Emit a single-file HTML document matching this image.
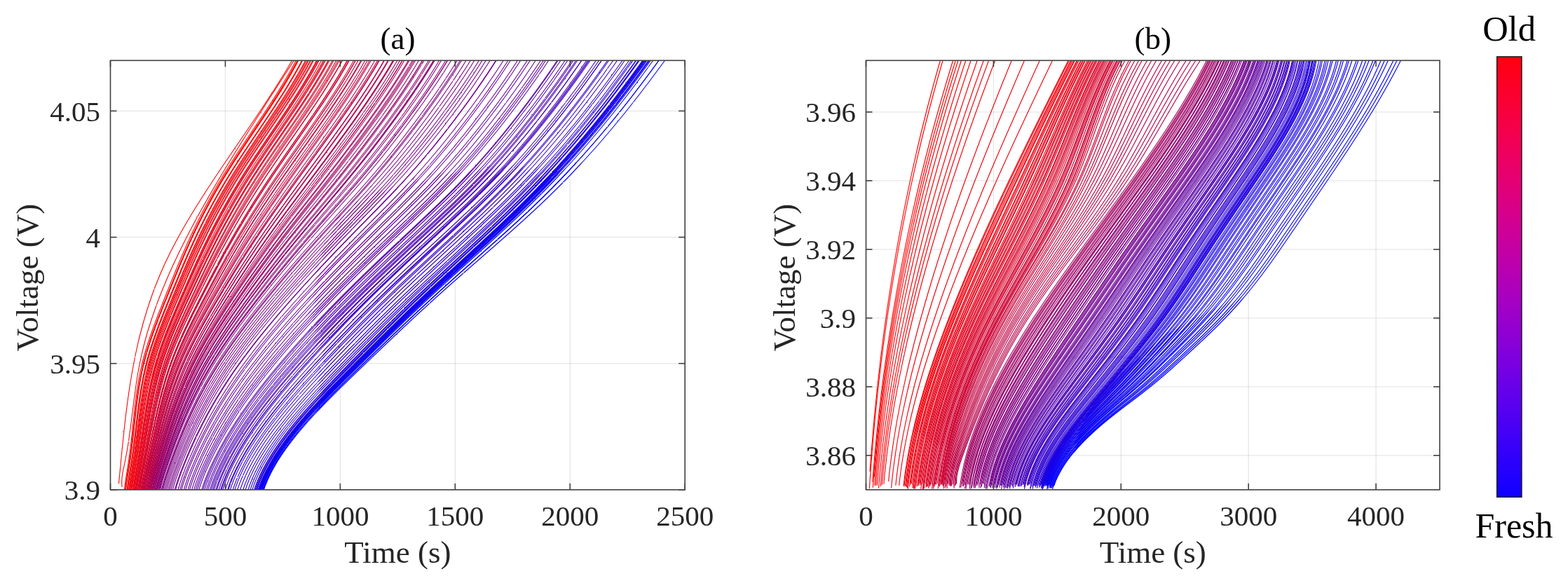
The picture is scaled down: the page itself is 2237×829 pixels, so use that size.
<!DOCTYPE html>
<html><head><meta charset="utf-8"><title>Voltage curves</title><style>html,body{margin:0;padding:0;background:#fff;overflow:hidden}svg{display:block}</style></head><body>
<svg width="2237" height="829" viewBox="0 0 2237 829">
<defs>
<clipPath id="ca"><rect x="157.5" y="86.3" width="819.70" height="612.50"/></clipPath>
<clipPath id="cb"><rect x="1235.5" y="86.3" width="818.50" height="612.50"/></clipPath>
<linearGradient id="cbg" x1="0" y1="0" x2="0" y2="1"><stop offset="0.00" stop-color="rgb(255,0,14)"/><stop offset="0.05" stop-color="rgb(253,0,33)"/><stop offset="0.10" stop-color="rgb(250,0,51)"/><stop offset="0.15" stop-color="rgb(245,0,69)"/><stop offset="0.20" stop-color="rgb(240,0,87)"/><stop offset="0.25" stop-color="rgb(233,0,104)"/><stop offset="0.30" stop-color="rgb(225,0,121)"/><stop offset="0.35" stop-color="rgb(215,0,137)"/><stop offset="0.40" stop-color="rgb(205,0,152)"/><stop offset="0.45" stop-color="rgb(193,0,167)"/><stop offset="0.50" stop-color="rgb(180,0,180)"/><stop offset="0.55" stop-color="rgb(167,0,193)"/><stop offset="0.60" stop-color="rgb(152,0,205)"/><stop offset="0.65" stop-color="rgb(137,0,215)"/><stop offset="0.70" stop-color="rgb(121,0,225)"/><stop offset="0.75" stop-color="rgb(104,0,233)"/><stop offset="0.80" stop-color="rgb(87,0,240)"/><stop offset="0.85" stop-color="rgb(69,0,245)"/><stop offset="0.90" stop-color="rgb(51,0,250)"/><stop offset="0.95" stop-color="rgb(33,0,253)"/><stop offset="1.00" stop-color="rgb(14,0,255)"/></linearGradient>
<filter id="jag" x="150" y="80" width="840" height="630" filterUnits="userSpaceOnUse"><feTurbulence type="fractalNoise" baseFrequency="0.35 0.35" numOctaves="1" seed="3" result="n"/><feDisplacementMap in="SourceGraphic" in2="n" scale="1.8" xChannelSelector="R" yChannelSelector="G"/></filter>
</defs>
<rect width="2237" height="829" fill="#fff"/>
<line x1="321.44" y1="86.3" x2="321.44" y2="698.8" stroke="#262626" stroke-opacity="0.115" stroke-width="1.3"/>
<line x1="485.38" y1="86.3" x2="485.38" y2="698.8" stroke="#262626" stroke-opacity="0.115" stroke-width="1.3"/>
<line x1="649.32" y1="86.3" x2="649.32" y2="698.8" stroke="#262626" stroke-opacity="0.115" stroke-width="1.3"/>
<line x1="813.26" y1="86.3" x2="813.26" y2="698.8" stroke="#262626" stroke-opacity="0.115" stroke-width="1.3"/>
<line x1="157.5" y1="518.65" x2="977.2" y2="518.65" stroke="#262626" stroke-opacity="0.115" stroke-width="1.3"/>
<line x1="157.5" y1="338.51" x2="977.2" y2="338.51" stroke="#262626" stroke-opacity="0.115" stroke-width="1.3"/>
<line x1="157.5" y1="158.36" x2="977.2" y2="158.36" stroke="#262626" stroke-opacity="0.115" stroke-width="1.3"/>
<g clip-path="url(#ca)"><g filter="url(#jag)"><g transform="scale(0.1)" fill="none" stroke-width="11" stroke-linejoin="round"><path d="M1694 6900l5-50 5-50 5-50 5-50 5-50 5-50 4-50 5-50 5-50 5-50 5-50 5-50 6-50 5-50 5-50 6-50 5-50 6-50 6-50 6-50 6-50 7-50 6-50 7-50 7-50 7-50 8-50 7-50 8-50 9-50 8-50 9-50 9-50 9-50 10-50 10-50 10-50 11-50 11-50 11-50 12-50 12-50 13-50 13-50 14-50 13-50 15-50 15-50 15-50 15-50 17-50 16-50 18-50 17-50 19-50 18-50 20-50 20-50 20-50 21-50 22-50 22-50 23-50 24-50 24-50 24-50 26-50 26-50 26-50 27-50 28-50 27-50 29-50 29-50 29-50 30-50 30-50 30-50 31-50 32-50 31-50 32-50 32-50 32-50 33-50 33-50 33-50 33-50 34-50 33-50 34-50 34-50 34-50 34-50 34-50 34-50 34-50 35-50 34-50 34-50 34-50 34-50 34-50 34-50 34-50 33-50 34-50 33-50 33-50 33-50 32-50 33-50 32-50 32-50 31-50 31-50 31-50 31-50 30-50 29-50 30-50 29-50" stroke="#ff0000"/><path d="M1741 6950l-4-50 1-50 4-50 8-50 9-50 11-50 10-50 10-50 10-50 9-50 9-50 8-50 8-50 7-50 7-50 7-50 7-50 6-50 7-50 6-50 6-50 6-50 7-50 6-50 6-50 7-50 7-50 7-50 7-50 7-50 8-50 8-50 9-50 9-50 10-50 10-50 11-50 11-50 12-50 12-50 13-50 13-50 14-50 14-50 15-50 16-50 16-50 16-50 17-50 17-50 18-50 18-50 18-50 19-50 20-50 20-50 20-50 21-50 21-50 21-50 22-50 23-50 22-50 23-50 24-50 23-50 24-50 25-50 24-50 26-50 25-50 26-50 25-50 27-50 26-50 27-50 27-50 28-50 27-50 28-50 28-50 29-50 28-50 29-50 29-50 29-50 30-50 29-50 30-50 30-50 30-50 31-50 30-50 31-50 31-50 31-50 31-50 31-50 31-50 32-50 31-50 32-50 32-50 32-50 32-50 31-50 33-50 32-50 32-50 32-50 32-50 32-50 33-50 32-50 32-50 33-50 32-50 32-50 32-50 33-50 32-50 32-50 32-50" stroke="#fe0001"/><path d="M1774 7000l5-50 6-50 7-50 8-50 8-50 8-50 8-50 8-50 7-50 7-50 7-50 6-50 6-50 6-50 5-50 6-50 5-50 5-50 5-50 6-50 5-50 5-50 6-50 5-50 6-50 7-50 6-50 7-50 8-50 8-50 8-50 9-50 9-50 10-50 11-50 12-50 12-50 13-50 14-50 14-50 16-50 15-50 17-50 16-50 18-50 17-50 19-50 18-50 19-50 19-50 19-50 20-50 20-50 19-50 20-50 20-50 20-50 20-50 20-50 20-50 21-50 20-50 20-50 21-50 21-50 21-50 21-50 22-50 22-50 22-50 22-50 23-50 23-50 24-50 24-50 24-50 25-50 25-50 25-50 26-50 27-50 27-50 27-50 28-50 28-50 28-50 29-50 30-50 30-50 30-50 31-50 31-50 32-50 32-50 33-50 32-50 33-50 33-50 34-50 33-50 34-50 33-50 34-50 33-50 34-50 33-50 34-50 33-50 33-50 32-50 33-50 32-50 32-50 31-50 31-50 30-50 30-50 30-50 29-50 28-50 27-50 27-50 26-50 26-50" stroke="#fd0002"/><path d="M1785 7000l5-50 6-50 7-50 8-50 8-50 8-50 8-50 8-50 8-50 7-50 7-50 6-50 6-50 6-50 6-50 5-50 6-50 5-50 6-50 5-50 6-50 5-50 6-50 6-50 6-50 7-50 6-50 8-50 7-50 8-50 9-50 9-50 10-50 10-50 11-50 12-50 12-50 14-50 14-50 14-50 16-50 16-50 16-50 17-50 17-50 18-50 19-50 18-50 19-50 20-50 19-50 20-50 20-50 20-50 20-50 20-50 20-50 20-50 21-50 20-50 20-50 21-50 20-50 21-50 21-50 22-50 21-50 22-50 22-50 22-50 23-50 23-50 23-50 24-50 24-50 24-50 25-50 26-50 25-50 26-50 27-50 27-50 27-50 28-50 28-50 29-50 29-50 30-50 30-50 30-50 31-50 32-50 32-50 32-50 32-50 33-50 33-50 33-50 33-50 34-50 33-50 34-50 34-50 33-50 34-50 33-50 34-50 33-50 33-50 33-50 32-50 32-50 32-50 31-50 31-50 31-50 30-50 29-50 29-50 28-50 28-50 27-50 26-50 25-50" stroke="#fc0003"/><path d="M1792 7000l5-50 6-50 7-50 8-50 8-50 8-50 8-50 8-50 8-50 7-50 7-50 6-50 6-50 6-50 6-50 6-50 5-50 6-50 5-50 5-50 6-50 6-50 6-50 6-50 6-50 6-50 7-50 8-50 7-50 8-50 9-50 9-50 10-50 10-50 11-50 12-50 13-50 13-50 14-50 15-50 15-50 16-50 17-50 17-50 17-50 18-50 18-50 19-50 19-50 19-50 20-50 19-50 20-50 20-50 20-50 21-50 20-50 20-50 20-50 20-50 21-50 20-50 21-50 21-50 21-50 21-50 21-50 22-50 22-50 22-50 23-50 23-50 23-50 24-50 24-50 24-50 25-50 25-50 26-50 26-50 27-50 27-50 27-50 28-50 28-50 29-50 29-50 29-50 30-50 31-50 31-50 31-50 32-50 32-50 32-50 33-50 33-50 33-50 34-50 33-50 34-50 33-50 34-50 34-50 33-50 34-50 33-50 33-50 33-50 33-50 32-50 33-50 31-50 32-50 31-50 30-50 30-50 30-50 29-50 28-50 27-50 27-50 27-50 25-50" stroke="#fb0004"/><path d="M1794 7000l5-50 6-50 7-50 8-50 8-50 8-50 8-50 8-50 7-50 7-50 7-50 6-50 6-50 6-50 6-50 5-50 6-50 5-50 6-50 5-50 5-50 6-50 6-50 5-50 7-50 6-50 7-50 7-50 7-50 8-50 9-50 9-50 10-50 10-50 11-50 11-50 13-50 13-50 14-50 14-50 15-50 16-50 16-50 17-50 17-50 18-50 18-50 19-50 19-50 19-50 19-50 19-50 20-50 20-50 20-50 20-50 19-50 20-50 20-50 20-50 21-50 20-50 20-50 21-50 20-50 21-50 22-50 21-50 22-50 22-50 22-50 23-50 23-50 23-50 24-50 24-50 25-50 25-50 25-50 26-50 26-50 27-50 27-50 27-50 28-50 29-50 29-50 29-50 30-50 30-50 31-50 31-50 32-50 32-50 32-50 33-50 33-50 33-50 33-50 33-50 34-50 33-50 34-50 34-50 33-50 34-50 33-50 33-50 33-50 33-50 32-50 32-50 32-50 31-50 31-50 31-50 30-50 29-50 29-50 28-50 28-50 27-50 26-50 25-50" stroke="#fa0005"/><path d="M1811 7000l6-50 6-50 7-50 8-50 8-50 8-50 9-50 8-50 8-50 7-50 7-50 7-50 6-50 6-50 7-50 5-50 6-50 6-50 6-50 6-50 6-50 6-50 6-50 6-50 7-50 7-50 7-50 8-50 8-50 8-50 10-50 9-50 10-50 11-50 12-50 12-50 13-50 13-50 15-50 15-50 15-50 17-50 16-50 18-50 18-50 18-50 18-50 19-50 20-50 19-50 20-50 20-50 20-50 21-50 20-50 20-50 21-50 20-50 21-50 21-50 20-50 21-50 21-50 21-50 21-50 22-50 22-50 22-50 22-50 23-50 22-50 24-50 23-50 24-50 25-50 24-50 25-50 26-50 26-50 26-50 27-50 27-50 28-50 28-50 28-50 29-50 29-50 30-50 30-50 31-50 31-50 31-50 32-50 32-50 33-50 33-50 33-50 33-50 34-50 33-50 34-50 34-50 33-50 34-50 34-50 33-50 34-50 33-50 33-50 33-50 32-50 32-50 32-50 32-50 31-50 30-50 30-50 30-50 29-50 28-50 28-50 27-50 26-50 26-50" stroke="#f90006"/><path d="M1818 7000l5-50 6-50 8-50 7-50 9-50 8-50 9-50 8-50 7-50 8-50 7-50 7-50 6-50 6-50 7-50 6-50 6-50 5-50 6-50 6-50 6-50 6-50 7-50 6-50 7-50 7-50 7-50 8-50 8-50 9-50 9-50 9-50 11-50 10-50 12-50 12-50 13-50 14-50 14-50 15-50 16-50 16-50 17-50 18-50 17-50 19-50 18-50 19-50 20-50 19-50 20-50 20-50 20-50 21-50 20-50 21-50 20-50 20-50 21-50 21-50 20-50 21-50 21-50 21-50 22-50 21-50 22-50 22-50 22-50 23-50 23-50 23-50 23-50 24-50 25-50 24-50 25-50 26-50 26-50 26-50 27-50 27-50 28-50 27-50 29-50 29-50 29-50 30-50 30-50 30-50 32-50 31-50 32-50 32-50 33-50 33-50 33-50 33-50 33-50 34-50 34-50 33-50 34-50 34-50 33-50 34-50 33-50 34-50 33-50 32-50 33-50 32-50 32-50 32-50 31-50 30-50 30-50 30-50 29-50 28-50 28-50 27-50 26-50 26-50" stroke="#f80007"/><path d="M1822 7000l6-50 6-50 7-50 8-50 8-50 8-50 9-50 8-50 8-50 7-50 7-50 7-50 6-50 7-50 6-50 6-50 6-50 6-50 5-50 6-50 6-50 6-50 7-50 6-50 7-50 7-50 7-50 8-50 8-50 9-50 9-50 9-50 11-50 10-50 12-50 12-50 13-50 14-50 14-50 15-50 16-50 16-50 17-50 17-50 18-50 18-50 18-50 19-50 20-50 19-50 20-50 20-50 20-50 20-50 21-50 20-50 20-50 21-50 20-50 21-50 20-50 21-50 21-50 21-50 21-50 21-50 22-50 22-50 22-50 23-50 22-50 23-50 24-50 24-50 24-50 25-50 25-50 25-50 26-50 26-50 26-50 27-50 28-50 28-50 28-50 29-50 29-50 29-50 31-50 30-50 31-50 32-50 31-50 33-50 32-50 33-50 33-50 33-50 34-50 33-50 34-50 33-50 34-50 34-50 33-50 34-50 33-50 34-50 33-50 33-50 32-50 32-50 32-50 32-50 31-50 30-50 30-50 30-50 29-50 28-50 28-50 27-50 26-50 26-50" stroke="#f70008"/><path d="M1835 7000l5-50 7-50 7-50 8-50 8-50 9-50 8-50 9-50 8-50 7-50 8-50 7-50 6-50 7-50 6-50 7-50 6-50 6-50 6-50 6-50 7-50 6-50 7-50 6-50 7-50 8-50 8-50 8-50 8-50 9-50 9-50 10-50 11-50 11-50 12-50 12-50 14-50 14-50 14-50 16-50 16-50 16-50 17-50 18-50 18-50 19-50 19-50 19-50 19-50 20-50 20-50 21-50 20-50 21-50 20-50 21-50 21-50 20-50 21-50 21-50 21-50 21-50 21-50 22-50 21-50 22-50 22-50 22-50 23-50 23-50 23-50 23-50 24-50 24-50 25-50 25-50 25-50 26-50 26-50 26-50 27-50 27-50 28-50 28-50 29-50 29-50 29-50 30-50 30-50 31-50 31-50 32-50 32-50 32-50 33-50 33-50 33-50 33-50 34-50 33-50 34-50 34-50 34-50 33-50 34-50 34-50 33-50 34-50 33-50 33-50 32-50 32-50 32-50 32-50 31-50 31-50 30-50 29-50 29-50 29-50 28-50 27-50 26-50 26-50" stroke="#f60009"/><path d="M1842 7000l6-50 6-50 7-50 8-50 9-50 8-50 9-50 8-50 8-50 8-50 7-50 7-50 7-50 7-50 6-50 7-50 6-50 6-50 7-50 6-50 6-50 7-50 7-50 7-50 7-50 7-50 8-50 8-50 9-50 9-50 9-50 10-50 11-50 11-50 12-50 13-50 13-50 14-50 15-50 16-50 16-50 16-50 18-50 17-50 18-50 19-50 19-50 19-50 20-50 20-50 20-50 21-50 20-50 21-50 20-50 21-50 21-50 21-50 21-50 21-50 21-50 21-50 21-50 22-50 21-50 22-50 22-50 22-50 23-50 23-50 23-50 24-50 23-50 25-50 24-50 25-50 26-50 25-50 26-50 27-50 27-50 27-50 28-50 28-50 29-50 29-50 29-50 30-50 30-50 31-50 31-50 32-50 32-50 32-50 33-50 33-50 33-50 33-50 34-50 34-50 33-50 34-50 34-50 34-50 34-50 33-50 34-50 33-50 33-50 33-50 33-50 32-50 32-50 31-50 32-50 30-50 30-50 30-50 29-50 29-50 27-50 27-50 27-50 26-50" stroke="#f4000b"/><path d="M1850 7000l5-50 7-50 7-50 8-50 9-50 8-50 9-50 8-50 9-50 7-50 8-50 7-50 7-50 7-50 6-50 7-50 6-50 7-50 6-50 6-50 7-50 7-50 7-50 7-50 7-50 8-50 8-50 8-50 9-50 9-50 9-50 11-50 10-50 12-50 12-50 13-50 13-50 14-50 15-50 16-50 16-50 17-50 17-50 18-50 18-50 19-50 19-50 20-50 19-50 20-50 21-50 20-50 21-50 21-50 20-50 21-50 21-50 21-50 21-50 21-50 21-50 22-50 21-50 22-50 21-50 22-50 22-50 23-50 22-50 23-50 24-50 23-50 24-50 25-50 24-50 25-50 26-50 26-50 26-50 26-50 27-50 28-50 28-50 28-50 29-50 29-50 29-50 30-50 30-50 31-50 31-50 32-50 32-50 33-50 32-50 33-50 33-50 34-50 33-50 34-50 34-50 34-50 34-50 33-50 34-50 34-50 33-50 34-50 33-50 33-50 32-50 33-50 32-50 31-50 31-50 31-50 30-50 30-50 29-50 29-50 27-50 28-50 26-50 26-50" stroke="#f3000c"/><path d="M1857 7000l5-50 7-50 7-50 8-50 9-50 8-50 9-50 9-50 8-50 8-50 7-50 7-50 7-50 7-50 7-50 6-50 7-50 7-50 6-50 7-50 6-50 7-50 7-50 7-50 8-50 7-50 8-50 9-50 9-50 9-50 10-50 10-50 11-50 12-50 12-50 13-50 13-50 15-50 15-50 15-50 17-50 16-50 18-50 18-50 18-50 19-50 19-50 20-50 19-50 21-50 20-50 20-50 21-50 21-50 21-50 21-50 21-50 21-50 21-50 21-50 21-50 22-50 21-50 22-50 22-50 22-50 22-50 22-50 23-50 23-50 23-50 24-50 24-50 24-50 25-50 25-50 26-50 26-50 26-50 27-50 27-50 27-50 28-50 28-50 29-50 29-50 29-50 30-50 31-50 31-50 31-50 32-50 32-50 32-50 33-50 33-50 33-50 34-50 33-50 34-50 34-50 33-50 34-50 34-50 34-50 34-50 33-50 34-50 33-50 33-50 32-50 33-50 32-50 31-50 31-50 31-50 30-50 30-50 29-50 29-50 27-50 28-50 26-50 26-50" stroke="#f2000d"/><path d="M1867 7000l5-50 7-50 7-50 8-50 9-50 9-50 9-50 8-50 8-50 8-50 8-50 8-50 7-50 7-50 7-50 6-50 7-50 7-50 7-50 6-50 7-50 7-50 8-50 7-50 8-50 8-50 8-50 9-50 9-50 9-50 11-50 10-50 11-50 12-50 12-50 14-50 13-50 15-50 15-50 16-50 17-50 17-50 17-50 19-50 18-50 19-50 20-50 19-50 20-50 21-50 20-50 21-50 21-50 21-50 21-50 21-50 22-50 21-50 21-50 22-50 21-50 22-50 21-50 22-50 22-50 23-50 22-50 23-50 23-50 23-50 24-50 24-50 24-50 24-50 25-50 26-50 25-50 27-50 26-50 27-50 27-50 28-50 28-50 28-50 29-50 29-50 30-50 30-50 31-50 31-50 31-50 32-50 32-50 32-50 33-50 33-50 34-50 33-50 34-50 34-50 34-50 33-50 34-50 34-50 34-50 34-50 33-50 34-50 33-50 33-50 33-50 32-50 32-50 32-50 31-50 31-50 30-50 30-50 29-50 28-50 28-50 28-50 26-50 26-50" stroke="#f1000e"/><path d="M1869 7000l6-50 6-50 8-50 8-50 8-50 9-50 9-50 8-50 9-50 8-50 7-50 8-50 7-50 7-50 7-50 6-50 7-50 7-50 7-50 6-50 7-50 7-50 7-50 8-50 7-50 8-50 9-50 8-50 9-50 10-50 10-50 10-50 11-50 12-50 12-50 13-50 14-50 15-50 15-50 16-50 16-50 17-50 18-50 18-50 18-50 19-50 19-50 20-50 20-50 20-50 21-50 20-50 21-50 21-50 21-50 21-50 21-50 21-50 21-50 22-50 21-50 22-50 21-50 22-50 22-50 22-50 22-50 23-50 23-50 23-50 23-50 24-50 24-50 25-50 24-50 26-50 25-50 26-50 26-50 27-50 27-50 28-50 28-50 28-50 29-50 29-50 29-50 30-50 31-50 31-50 31-50 32-50 32-50 32-50 33-50 33-50 33-50 34-50 33-50 34-50 34-50 34-50 34-50 34-50 33-50 34-50 34-50 33-50 33-50 33-50 33-50 32-50 32-50 32-50 31-50 31-50 30-50 30-50 29-50 29-50 27-50 28-50 26-50 26-50" stroke="#ef0010"/><path d="M1879 7000l5-50 7-50 8-50 8-50 8-50 9-50 9-50 9-50 9-50 8-50 7-50 8-50 7-50 8-50 7-50 7-50 6-50 7-50 7-50 7-50 7-50 8-50 7-50 8-50 8-50 8-50 8-50 9-50 10-50 9-50 11-50 10-50 12-50 12-50 12-50 14-50 14-50 14-50 16-50 16-50 17-50 17-50 18-50 18-50 19-50 19-50 19-50 20-50 20-50 21-50 21-50 21-50 21-50 21-50 21-50 21-50 22-50 21-50 22-50 21-50 22-50 21-50 22-50 22-50 22-50 23-50 22-50 23-50 23-50 24-50 24-50 24-50 24-50 25-50 25-50 25-50 26-50 26-50 27-50 27-50 27-50 28-50 28-50 28-50 29-50 29-50 30-50 30-50 31-50 31-50 31-50 32-50 32-50 33-50 33-50 33-50 33-50 34-50 34-50 33-50 34-50 34-50 34-50 34-50 34-50 34-50 33-50 34-50 33-50 33-50 33-50 32-50 32-50 32-50 31-50 31-50 30-50 30-50 29-50 29-50 28-50 27-50 27-50 26-50" stroke="#ee0011"/><path d="M1885 7000l6-50 6-50 8-50 8-50 9-50 9-50 9-50 9-50 8-50 8-50 8-50 8-50 7-50 7-50 8-50 7-50 7-50 7-50 7-50 7-50 7-50 7-50 8-50 8-50 8-50 8-50 9-50 9-50 9-50 10-50 10-50 11-50 12-50 12-50 12-50 14-50 14-50 15-50 15-50 16-50 17-50 18-50 17-50 19-50 19-50 19-50 20-50 19-50 21-50 20-50 21-50 21-50 21-50 22-50 21-50 21-50 22-50 21-50 22-50 21-50 22-50 22-50 22-50 22-50 22-50 23-50 22-50 23-50 23-50 24-50 24-50 24-50 24-50 25-50 25-50 26-50 25-50 27-50 26-50 27-50 28-50 27-50 29-50 28-50 29-50 29-50 30-50 30-50 31-50 31-50 32-50 31-50 33-50 32-50 33-50 33-50 34-50 33-50 34-50 34-50 34-50 34-50 34-50 34-50 34-50 33-50 34-50 33-50 34-50 33-50 32-50 33-50 32-50 32-50 31-50 31-50 30-50 30-50 29-50 29-50 28-50 27-50 27-50 26-50" stroke="#ed0012"/><path d="M1897 7000l5-50 7-50 8-50 8-50 9-50 9-50 9-50 9-50 9-50 8-50 8-50 8-50 8-50 8-50 7-50 7-50 8-50 7-50 7-50 8-50 7-50 8-50 8-50 8-50 8-50 9-50 9-50 9-50 10-50 10-50 11-50 11-50 12-50 13-50 13-50 14-50 14-50 15-50 16-50 17-50 17-50 17-50 19-50 18-50 19-50 20-50 20-50 20-50 21-50 21-50 21-50 21-50 22-50 22-50 21-50 22-50 22-50 22-50 22-50 22-50 22-50 22-50 22-50 23-50 22-50 23-50 23-50 24-50 23-50 24-50 24-50 25-50 24-50 26-50 25-50 26-50 26-50 27-50 27-50 27-50 28-50 28-50 28-50 29-50 29-50 30-50 30-50 31-50 30-50 32-50 31-50 32-50 33-50 33-50 33-50 33-50 34-50 33-50 34-50 34-50 34-50 34-50 34-50 34-50 34-50 34-50 34-50 33-50 34-50 33-50 32-50 33-50 32-50 32-50 31-50 31-50 30-50 30-50 30-50 28-50 28-50 28-50 26-50 26-50" stroke="#ec0013"/><path d="M1902 7000l5-50 7-50 8-50 8-50 9-50 9-50 9-50 9-50 9-50 9-50 8-50 8-50 7-50 8-50 7-50 8-50 7-50 8-50 7-50 8-50 7-50 8-50 8-50 8-50 8-50 9-50 9-50 10-50 10-50 10-50 11-50 11-50 12-50 12-50 14-50 13-50 15-50 15-50 16-50 17-50 17-50 18-50 18-50 19-50 19-50 20-50 20-50 20-50 21-50 21-50 21-50 21-50 22-50 21-50 22-50 22-50 22-50 22-50 22-50 22-50 22-50 22-50 22-50 23-50 23-50 22-50 24-50 23-50 24-50 23-50 25-50 24-50 25-50 25-50 26-50 26-50 26-50 26-50 27-50 28-50 27-50 29-50 28-50 29-50 29-50 30-50 30-50 30-50 31-50 31-50 32-50 32-50 33-50 32-50 34-50 33-50 33-50 34-50 34-50 34-50 34-50 34-50 34-50 34-50 34-50 34-50 34-50 33-50 34-50 33-50 32-50 33-50 32-50 32-50 31-50 31-50 30-50 30-50 30-50 28-50 28-50 28-50 27-50 26-50" stroke="#ea0015"/><path d="M1907 7000l6-50 7-50 8-50 8-50 9-50 9-50 9-50 9-50 9-50 9-50 8-50 8-50 8-50 7-50 8-50 8-50 7-50 8-50 7-50 8-50 7-50 8-50 8-50 9-50 8-50 9-50 9-50 10-50 10-50 10-50 11-50 12-50 12-50 12-50 13-50 14-50 15-50 15-50 16-50 17-50 17-50 18-50 19-50 18-50 20-50 19-50 21-50 20-50 21-50 21-50 21-50 22-50 21-50 22-50 22-50 22-50 22-50 22-50 22-50 22-50 22-50 22-50 23-50 22-50 23-50 23-50 23-50 24-50 24-50 23-50 25-50 24-50 25-50 26-50 25-50 26-50 26-50 27-50 27-50 28-50 27-50 29-50 28-50 29-50 29-50 30-50 30-50 31-50 30-50 32-50 32-50 32-50 32-50 33-50 33-50 33-50 34-50 34-50 34-50 34-50 34-50 34-50 34-50 34-50 34-50 34-50 33-50 34-50 33-50 34-50 32-50 33-50 32-50 32-50 31-50 31-50 30-50 30-50 30-50 28-50 29-50 27-50 27-50 26-50" stroke="#e90016"/><path d="M1912 7000l6-50 7-50 8-50 8-50 9-50 9-50 10-50 9-50 9-50 8-50 8-50 8-50 8-50 8-50 8-50 7-50 8-50 7-50 8-50 8-50 7-50 8-50 9-50 8-50 9-50 9-50 9-50 9-50 11-50 10-50 11-50 12-50 12-50 12-50 14-50 14-50 14-50 16-50 16-50 17-50 17-50 18-50 18-50 19-50 20-50 20-50 20-50 20-50 21-50 21-50 21-50 22-50 22-50 22-50 21-50 22-50 22-50 23-50 22-50 22-50 22-50 22-50 23-50 23-50 23-50 23-50 23-50 23-50 24-50 24-50 24-50 25-50 25-50 25-50 26-50 26-50 26-50 27-50 27-50 28-50 28-50 28-50 28-50 29-50 30-50 29-50 30-50 31-50 31-50 31-50 32-50 32-50 33-50 33-50 33-50 33-50 34-50 33-50 34-50 34-50 34-50 34-50 35-50 34-50 34-50 33-50 34-50 34-50 33-50 33-50 33-50 33-50 32-50 32-50 31-50 31-50 30-50 30-50 30-50 28-50 29-50 27-50 27-50 26-50" stroke="#e70018"/><path d="M1921 7000l6-50 7-50 8-50 8-50 9-50 10-50 9-50 9-50 9-50 9-50 9-50 8-50 8-50 8-50 8-50 7-50 8-50 8-50 8-50 8-50 8-50 8-50 8-50 9-50 9-50 9-50 10-50 10-50 10-50 11-50 11-50 12-50 12-50 13-50 14-50 14-50 15-50 16-50 16-50 17-50 18-50 18-50 19-50 19-50 19-50 21-50 20-50 21-50 21-50 21-50 22-50 22-50 22-50 22-50 22-50 22-50 22-50 23-50 22-50 23-50 22-50 23-50 23-50 23-50 23-50 23-50 24-50 23-50 24-50 25-50 24-50 25-50 26-50 25-50 26-50 26-50 27-50 27-50 27-50 28-50 28-50 29-50 28-50 30-50 29-50 30-50 30-50 31-50 31-50 32-50 32-50 32-50 32-50 33-50 34-50 33-50 34-50 34-50 34-50 34-50 34-50 34-50 34-50 34-50 34-50 34-50 34-50 34-50 33-50 33-50 33-50 33-50 32-50 32-50 31-50 31-50 31-50 30-50 29-50 29-50 28-50 28-50 27-50 26-50" stroke="#e60019"/><path d="M1929 7000l6-50 7-50 8-50 8-50 9-50 10-50 9-50 10-50 9-50 9-50 8-50 9-50 8-50 8-50 8-50 8-50 8-50 8-50 8-50 8-50 8-50 9-50 8-50 9-50 9-50 10-50 10-50 10-50 10-50 11-50 12-50 12-50 13-50 13-50 14-50 14-50 15-50 16-50 17-50 17-50 18-50 18-50 19-50 20-50 19-50 21-50 20-50 21-50 22-50 21-50 22-50 22-50 22-50 23-50 22-50 22-50 23-50 22-50 23-50 23-50 23-50 22-50 24-50 23-50 23-50 24-50 23-50 25-50 24-50 24-50 25-50 25-50 26-50 26-50 26-50 26-50 27-50 27-50 28-50 28-50 28-50 29-50 29-50 29-50 30-50 30-50 30-50 31-50 31-50 32-50 32-50 33-50 32-50 33-50 34-50 33-50 34-50 34-50 34-50 34-50 34-50 35-50 34-50 34-50 34-50 34-50 34-50 34-50 33-50 33-50 33-50 33-50 32-50 32-50 31-50 31-50 31-50 30-50 29-50 29-50 28-50 28-50 27-50 26-50" stroke="#e5001a"/><path d="M1934 7000l6-50 7-50 8-50 9-50 9-50 10-50 9-50 10-50 9-50 9-50 8-50 9-50 8-50 8-50 9-50 8-50 8-50 8-50 8-50 8-50 9-50 8-50 9-50 9-50 9-50 10-50 9-50 11-50 10-50 12-50 11-50 12-50 13-50 13-50 14-50 15-50 15-50 16-50 17-50 18-50 17-50 19-50 19-50 19-50 20-50 21-50 21-50 21-50 21-50 22-50 22-50 22-50 22-50 23-50 22-50 23-50 22-50 23-50 23-50 23-50 22-50 23-50 24-50 23-50 24-50 23-50 24-50 24-50 25-50 24-50 25-50 26-50 25-50 26-50 26-50 27-50 27-50 27-50 28-50 28-50 28-50 29-50 29-50 30-50 29-50 30-50 31-50 31-50 31-50 32-50 32-50 33-50 32-50 33-50 34-50 33-50 34-50 34-50 34-50 34-50 35-50 34-50 34-50 34-50 35-50 34-50 33-50 34-50 34-50 33-50 33-50 32-50 33-50 32-50 31-50 31-50 31-50 30-50 29-50 29-50 28-50 28-50 27-50 26-50" stroke="#e3001c"/><path d="M1947 7000l6-50 7-50 8-50 9-50 10-50 9-50 10-50 10-50 9-50 9-50 9-50 9-50 9-50 8-50 9-50 8-50 9-50 8-50 9-50 8-50 9-50 9-50 9-50 10-50 9-50 10-50 11-50 10-50 12-50 11-50 12-50 13-50 13-50 14-50 14-50 16-50 15-50 17-50 17-50 18-50 18-50 19-50 20-50 20-50 20-50 21-50 21-50 22-50 22-50 22-50 22-50 23-50 23-50 22-50 23-50 24-50 23-50 23-50 23-50 23-50 24-50 23-50 24-50 24-50 24-50 24-50 25-50 24-50 25-50 26-50 25-50 26-50 26-50 26-50 27-50 27-50 28-50 28-50 28-50 28-50 29-50 29-50 30-50 30-50 30-50 30-50 31-50 32-50 31-50 32-50 33-50 32-50 33-50 34-50 33-50 34-50 34-50 34-50 34-50 35-50 34-50 34-50 35-50 34-50 34-50 34-50 34-50 34-50 34-50 33-50 33-50 33-50 32-50 32-50 32-50 31-50 30-50 31-50 29-50 29-50 29-50 27-50 27-50 27-50" stroke="#e2001d"/><path d="M1952 7000l6-50 7-50 8-50 9-50 10-50 10-50 10-50 9-50 10-50 9-50 9-50 9-50 9-50 8-50 9-50 9-50 8-50 9-50 8-50 9-50 9-50 9-50 9-50 10-50 10-50 10-50 10-50 11-50 11-50 12-50 12-50 13-50 14-50 13-50 15-50 15-50 16-50 17-50 17-50 18-50 19-50 19-50 19-50 20-50 21-50 21-50 21-50 22-50 22-50 22-50 23-50 22-50 23-50 23-50 24-50 23-50 23-50 23-50 24-50 23-50 24-50 23-50 24-50 24-50 24-50 25-50 24-50 25-50 25-50 26-50 25-50 26-50 26-50 27-50 27-50 27-50 28-50 28-50 28-50 28-50 29-50 30-50 29-50 30-50 31-50 30-50 31-50 32-50 31-50 32-50 33-50 33-50 33-50 33-50 34-50 34-50 34-50 34-50 34-50 34-50 35-50 34-50 34-50 35-50 34-50 34-50 34-50 34-50 34-50 33-50 33-50 33-50 32-50 32-50 32-50 31-50 30-50 31-50 29-50 29-50 29-50 27-50 27-50 27-50" stroke="#e1001e"/><path d="M1943 7000l6-50 7-50 8-50 9-50 9-50 10-50 9-50 10-50 9-50 9-50 9-50 8-50 9-50 8-50 8-50 9-50 8-50 8-50 8-50 9-50 8-50 9-50 9-50 9-50 9-50 10-50 10-50 10-50 11-50 11-50 12-50 12-50 13-50 14-50 14-50 14-50 16-50 16-50 17-50 17-50 18-50 19-50 19-50 19-50 20-50 21-50 21-50 21-50 21-50 22-50 22-50 22-50 23-50 22-50 23-50 22-50 23-50 23-50 23-50 22-50 23-50 23-50 24-50 23-50 24-50 23-50 24-50 25-50 24-50 25-50 25-50 25-50 26-50 26-50 26-50 26-50 27-50 28-50 27-50 28-50 29-50 29-50 29-50 29-50 30-50 30-50 31-50 31-50 31-50 32-50 32-50 32-50 33-50 33-50 33-50 34-50 34-50 34-50 34-50 34-50 34-50 35-50 34-50 34-50 34-50 34-50 34-50 34-50 33-50 34-50 33-50 32-50 33-50 32-50 31-50 31-50 31-50 30-50 29-50 29-50 28-50 28-50 27-50 26-50" stroke="#df0020"/><path d="M1952 7000l6-50 7-50 9-50 9-50 9-50 10-50 9-50 10-50 10-50 9-50 9-50 9-50 8-50 9-50 8-50 9-50 8-50 9-50 8-50 9-50 9-50 8-50 10-50 9-50 10-50 10-50 10-50 11-50 11-50 12-50 12-50 12-50 14-50 13-50 15-50 15-50 16-50 16-50 17-50 18-50 18-50 19-50 20-50 20-50 20-50 21-50 21-50 21-50 22-50 22-50 23-50 22-50 23-50 23-50 23-50 23-50 23-50 23-50 23-50 23-50 23-50 24-50 24-50 23-50 24-50 24-50 25-50 24-50 25-50 25-50 26-50 25-50 26-50 27-50 26-50 27-50 28-50 27-50 28-50 29-50 28-50 30-50 29-50 30-50 30-50 30-50 31-50 31-50 32-50 32-50 32-50 33-50 33-50 33-50 33-50 34-50 34-50 34-50 34-50 35-50 34-50 34-50 35-50 34-50 34-50 34-50 34-50 34-50 34-50 33-50 33-50 33-50 32-50 32-50 32-50 31-50 30-50 30-50 30-50 29-50 28-50 28-50 27-50 27-50" stroke="#de0021"/><path d="M1965 7000l6-50 7-50 9-50 9-50 9-50 10-50 10-50 10-50 10-50 10-50 9-50 9-50 9-50 9-50 9-50 9-50 8-50 9-50 9-50 9-50 9-50 10-50 9-50 10-50 10-50 11-50 11-50 11-50 12-50 12-50 12-50 14-50 13-50 15-50 14-50 16-50 16-50 17-50 18-50 18-50 19-50 20-50 19-50 21-50 21-50 21-50 22-50 22-50 22-50 23-50 22-50 24-50 23-50 23-50 24-50 23-50 24-50 23-50 24-50 24-50 24-50 24-50 24-50 24-50 25-50 25-50 25-50 25-50 25-50 26-50 26-50 26-50 27-50 27-50 27-50 28-50 27-50 29-50 28-50 29-50 29-50 30-50 30-50 30-50 31-50 30-50 32-50 31-50 32-50 32-50 33-50 33-50 33-50 34-50 34-50 34-50 34-50 34-50 34-50 35-50 34-50 35-50 34-50 35-50 34-50 34-50 34-50 34-50 34-50 33-50 33-50 33-50 32-50 32-50 32-50 31-50 31-50 30-50 30-50 29-50 28-50 28-50 28-50 26-50" stroke="#dc0023"/><path d="M1969 7000l6-50 8-50 8-50 10-50 9-50 10-50 10-50 10-50 10-50 10-50 9-50 9-50 10-50 9-50 8-50 9-50 9-50 9-50 9-50 10-50 9-50 9-50 10-50 10-50 11-50 10-50 11-50 12-50 11-50 13-50 12-50 14-50 14-50 14-50 15-50 16-50 16-50 17-50 18-50 19-50 19-50 19-50 20-50 21-50 21-50 21-50 22-50 22-50 23-50 22-50 23-50 24-50 23-50 23-50 24-50 24-50 24-50 23-50 24-50 24-50 24-50 25-50 24-50 24-50 25-50 25-50 25-50 25-50 26-50 26-50 26-50 26-50 27-50 27-50 28-50 27-50 28-50 29-50 29-50 29-50 29-50 30-50 30-50 30-50 31-50 31-50 31-50 32-50 32-50 32-50 33-50 33-50 33-50 34-50 34-50 34-50 34-50 34-50 35-50 34-50 35-50 34-50 35-50 34-50 34-50 35-50 34-50 34-50 33-50 34-50 33-50 33-50 32-50 32-50 32-50 31-50 31-50 30-50 30-50 29-50 28-50 28-50 27-50 27-50" stroke="#db0024"/><path d="M1977 7000l6-50 8-50 9-50 9-50 10-50 10-50 10-50 10-50 10-50 10-50 10-50 9-50 9-50 10-50 9-50 9-50 9-50 9-50 10-50 9-50 10-50 10-50 10-50 10-50 11-50 11-50 11-50 12-50 12-50 12-50 13-50 14-50 14-50 15-50 15-50 16-50 17-50 17-50 19-50 18-50 20-50 19-50 21-50 21-50 21-50 22-50 22-50 22-50 23-50 23-50 24-50 23-50 24-50 24-50 24-50 24-50 24-50 24-50 24-50 24-50 25-50 25-50 24-50 25-50 25-50 25-50 26-50 26-50 26-50 26-50 26-50 27-50 27-50 28-50 27-50 28-50 29-50 29-50 29-50 29-50 30-50 30-50 30-50 31-50 31-50 31-50 31-50 32-50 33-50 32-50 33-50 33-50 34-50 34-50 34-50 34-50 34-50 34-50 35-50 35-50 34-50 35-50 34-50 35-50 34-50 35-50 34-50 34-50 33-50 34-50 33-50 33-50 32-50 33-50 31-50 32-50 30-50 31-50 29-50 30-50 28-50 28-50 27-50 27-50" stroke="#da0025"/><path d="M1982 7000l7-50 8-50 8-50 10-50 10-50 10-50 10-50 10-50 11-50 9-50 10-50 10-50 9-50 9-50 10-50 9-50 9-50 10-50 9-50 10-50 10-50 10-50 10-50 10-50 11-50 11-50 12-50 12-50 12-50 13-50 13-50 14-50 14-50 15-50 16-50 16-50 17-50 18-50 18-50 19-50 19-50 20-50 21-50 21-50 22-50 22-50 22-50 23-50 23-50 23-50 23-50 24-50 24-50 24-50 24-50 25-50 24-50 24-50 25-50 24-50 25-50 25-50 25-50 25-50 25-50 26-50 25-50 26-50 26-50 27-50 27-50 27-50 27-50 28-50 28-50 28-50 29-50 28-50 30-50 29-50 30-50 30-50 31-50 31-50 31-50 31-50 32-50 32-50 32-50 33-50 33-50 34-50 33-50 34-50 34-50 34-50 35-50 34-50 35-50 34-50 35-50 35-50 34-50 35-50 34-50 35-50 34-50 34-50 34-50 33-50 33-50 33-50 33-50 32-50 32-50 31-50 31-50 30-50 30-50 29-50 29-50 28-50 27-50 27-50" stroke="#d80027"/><path d="M1995 7000l7-50 8-50 9-50 9-50 10-50 11-50 11-50 10-50 10-50 11-50 10-50 10-50 9-50 10-50 10-50 10-50 9-50 10-50 10-50 10-50 10-50 11-50 11-50 11-50 11-50 12-50 12-50 12-50 13-50 13-50 14-50 14-50 15-50 16-50 16-50 17-50 17-50 18-50 19-50 20-50 20-50 21-50 21-50 21-50 22-50 23-50 23-50 23-50 24-50 23-50 24-50 25-50 24-50 25-50 25-50 25-50 25-50 25-50 25-50 25-50 25-50 26-50 25-50 26-50 26-50 26-50 26-50 27-50 27-50 27-50 27-50 28-50 28-50 28-50 29-50 29-50 29-50 30-50 30-50 30-50 30-50 31-50 31-50 31-50 32-50 32-50 32-50 33-50 32-50 33-50 34-50 34-50 33-50 35-50 34-50 34-50 35-50 35-50 34-50 35-50 35-50 35-50 35-50 34-50 35-50 34-50 35-50 34-50 33-50 34-50 33-50 33-50 33-50 32-50 32-50 32-50 30-50 31-50 30-50 29-50 29-50 28-50 27-50 27-50" stroke="#d70028"/><path d="M1987 7000l7-50 8-50 8-50 10-50 10-50 10-50 11-50 10-50 10-50 10-50 10-50 10-50 9-50 10-50 9-50 10-50 9-50 10-50 9-50 10-50 10-50 10-50 10-50 11-50 11-50 11-50 12-50 12-50 13-50 12-50 14-50 14-50 14-50 16-50 15-50 17-50 17-50 18-50 18-50 19-50 20-50 20-50 21-50 21-50 22-50 22-50 22-50 23-50 23-50 24-50 24-50 23-50 24-50 25-50 24-50 25-50 24-50 25-50 24-50 25-50 25-50 25-50 25-50 25-50 26-50 25-50 26-50 26-50 27-50 26-50 27-50 27-50 28-50 28-50 28-50 28-50 29-50 29-50 30-50 30-50 30-50 30-50 31-50 31-50 31-50 31-50 32-50 32-50 33-50 33-50 33-50 33-50 34-50 34-50 34-50 34-50 35-50 34-50 35-50 35-50 34-50 35-50 35-50 34-50 35-50 34-50 34-50 34-50 34-50 34-50 33-50 33-50 32-50 33-50 31-50 32-50 31-50 30-50 30-50 29-50 29-50 28-50 27-50 27-50" stroke="#d5002a"/><path d="M1995 7000l7-50 8-50 9-50 9-50 10-50 11-50 11-50 10-50 11-50 10-50 10-50 10-50 9-50 10-50 10-50 9-50 10-50 10-50 10-50 10-50 10-50 11-50 10-50 11-50 12-50 11-50 12-50 13-50 12-50 14-50 13-50 15-50 15-50 15-50 16-50 17-50 17-50 19-50 18-50 20-50 20-50 20-50 22-50 21-50 22-50 23-50 22-50 24-50 23-50 24-50 24-50 24-50 25-50 24-50 25-50 25-50 25-50 25-50 25-50 25-50 25-50 25-50 26-50 26-50 26-50 26-50 26-50 27-50 26-50 27-50 28-50 27-50 28-50 28-50 29-50 29-50 29-50 30-50 29-50 30-50 31-50 31-50 31-50 31-50 31-50 32-50 33-50 32-50 33-50 33-50 33-50 34-50 34-50 34-50 34-50 35-50 34-50 35-50 34-50 35-50 35-50 35-50 35-50 34-50 35-50 34-50 35-50 34-50 33-50 34-50 33-50 33-50 33-50 32-50 32-50 31-50 31-50 31-50 30-50 29-50 29-50 28-50 27-50 27-50" stroke="#d4002b"/><path d="M2010 7000l7-50 8-50 9-50 10-50 10-50 11-50 11-50 11-50 11-50 10-50 11-50 10-50 10-50 10-50 11-50 10-50 10-50 10-50 11-50 10-50 11-50 11-50 11-50 12-50 12-50 12-50 13-50 13-50 13-50 14-50 15-50 14-50 16-50 16-50 17-50 17-50 18-50 19-50 20-50 20-50 21-50 21-50 22-50 22-50 22-50 24-50 23-50 24-50 24-50 25-50 24-50 25-50 25-50 26-50 25-50 26-50 25-50 26-50 26-50 26-50 26-50 26-50 26-50 27-50 26-50 27-50 27-50 28-50 27-50 28-50 28-50 29-50 28-50 29-50 30-50 29-50 30-50 30-50 31-50 31-50 31-50 31-50 32-50 32-50 32-50 32-50 33-50 33-50 33-50 34-50 34-50 34-50 34-50 34-50 35-50 35-50 35-50 35-50 35-50 34-50 35-50 35-50 35-50 35-50 35-50 34-50 35-50 34-50 34-50 34-50 33-50 33-50 33-50 32-50 32-50 32-50 31-50 30-50 30-50 30-50 29-50 28-50 27-50 27-50" stroke="#d2002d"/><path d="M2009 7000l7-50 8-50 9-50 10-50 11-50 11-50 10-50 11-50 11-50 11-50 10-50 10-50 10-50 11-50 10-50 10-50 10-50 10-50 11-50 10-50 11-50 11-50 11-50 12-50 12-50 12-50 12-50 13-50 14-50 14-50 14-50 15-50 15-50 17-50 16-50 18-50 18-50 19-50 19-50 20-50 21-50 21-50 22-50 22-50 22-50 24-50 23-50 24-50 24-50 24-50 25-50 25-50 25-50 25-50 26-50 25-50 26-50 25-50 26-50 26-50 26-50 26-50 26-50 27-50 26-50 27-50 27-50 28-50 27-50 28-50 28-50 28-50 29-50 29-50 29-50 30-50 30-50 30-50 30-50 31-50 31-50 31-50 32-50 32-50 32-50 33-50 32-50 33-50 33-50 34-50 34-50 34-50 34-50 34-50 35-50 35-50 34-50 35-50 35-50 35-50 35-50 35-50 35-50 35-50 34-50 35-50 34-50 35-50 34-50 33-50 34-50 33-50 32-50 33-50 32-50 31-50 31-50 31-50 30-50 29-50 29-50 28-50 28-50 27-50" stroke="#d1002e"/><path d="M2014 7000l7-50 8-50 10-50 10-50 10-50 11-50 11-50 11-50 11-50 11-50 10-50 10-50 11-50 10-50 10-50 11-50 10-50 11-50 10-50 11-50 11-50 11-50 11-50 12-50 12-50 13-50 12-50 14-50 13-50 14-50 15-50 15-50 16-50 16-50 17-50 18-50 18-50 19-50 20-50 20-50 21-50 21-50 22-50 23-50 22-50 24-50 23-50 25-50 24-50 25-50 24-50 26-50 25-50 25-50 26-50 26-50 26-50 26-50 25-50 27-50 26-50 26-50 27-50 26-50 27-50 27-50 28-50 27-50 28-50 28-50 28-50 29-50 29-50 29-50 30-50 30-50 30-50 30-50 31-50 31-50 31-50 32-50 32-50 32-50 32-50 33-50 32-50 34-50 33-50 34-50 34-50 34-50 34-50 35-50 34-50 35-50 35-50 35-50 35-50 35-50 35-50 35-50 35-50 35-50 35-50 34-50 35-50 34-50 34-50 33-50 34-50 33-50 33-50 32-50 32-50 32-50 31-50 30-50 30-50 30-50 29-50 28-50 28-50 27-50" stroke="#cf0030"/><path d="M2014 7000l8-50 8-50 9-50 10-50 10-50 11-50 11-50 11-50 11-50 11-50 10-50 11-50 10-50 10-50 11-50 10-50 10-50 11-50 10-50 11-50 11-50 11-50 12-50 12-50 12-50 12-50 13-50 13-50 14-50 14-50 14-50 16-50 15-50 17-50 17-50 17-50 18-50 19-50 20-50 20-50 21-50 22-50 22-50 22-50 23-50 23-50 24-50 24-50 24-50 25-50 25-50 25-50 25-50 26-50 26-50 25-50 26-50 26-50 26-50 26-50 26-50 27-50 26-50 27-50 27-50 27-50 27-50 28-50 28-50 28-50 28-50 29-50 29-50 29-50 29-50 30-50 30-50 31-50 31-50 31-50 31-50 31-50 32-50 32-50 33-50 32-50 33-50 33-50 34-50 33-50 34-50 34-50 35-50 34-50 35-50 35-50 35-50 35-50 35-50 35-50 35-50 35-50 35-50 35-50 34-50 35-50 34-50 34-50 34-50 34-50 34-50 33-50 33-50 32-50 32-50 31-50 32-50 30-50 30-50 30-50 29-50 28-50 28-50 27-50" stroke="#ce0031"/><path d="M2015 7000l7-50 8-50 9-50 10-50 11-50 11-50 11-50 11-50 11-50 10-50 11-50 10-50 11-50 10-50 10-50 11-50 10-50 11-50 10-50 11-50 11-50 11-50 12-50 11-50 12-50 13-50 13-50 13-50 13-50 15-50 14-50 15-50 16-50 16-50 17-50 18-50 18-50 19-50 20-50 20-50 21-50 22-50 22-50 22-50 23-50 23-50 24-50 24-50 25-50 24-50 25-50 25-50 26-50 25-50 26-50 26-50 25-50 26-50 26-50 26-50 27-50 26-50 27-50 26-50 27-50 27-50 28-50 27-50 28-50 28-50 29-50 28-50 29-50 29-50 30-50 30-50 30-50 30-50 31-50 31-50 32-50 31-50 32-50 32-50 32-50 33-50 33-50 33-50 34-50 33-50 34-50 34-50 35-50 34-50 35-50 35-50 35-50 35-50 35-50 35-50 35-50 35-50 35-50 34-50 35-50 35-50 34-50 34-50 34-50 34-50 34-50 33-50 32-50 33-50 32-50 31-50 32-50 30-50 30-50 30-50 29-50 28-50 28-50 27-50" stroke="#cc0033"/><path d="M2027 7000l7-50 9-50 9-50 10-50 11-50 11-50 12-50 11-50 11-50 11-50 11-50 11-50 10-50 11-50 11-50 11-50 10-50 11-50 11-50 12-50 11-50 12-50 12-50 12-50 13-50 13-50 13-50 14-50 14-50 15-50 15-50 15-50 17-50 17-50 17-50 18-50 19-50 20-50 20-50 21-50 21-50 22-50 23-50 23-50 23-50 24-50 25-50 24-50 25-50 26-50 25-50 26-50 26-50 26-50 26-50 27-50 26-50 27-50 26-50 27-50 27-50 27-50 27-50 28-50 27-50 28-50 28-50 28-50 29-50 28-50 29-50 30-50 29-50 30-50 31-50 30-50 31-50 31-50 31-50 32-50 32-50 32-50 32-50 33-50 33-50 33-50 34-50 33-50 34-50 34-50 34-50 35-50 34-50 35-50 35-50 35-50 35-50 36-50 35-50 35-50 35-50 35-50 35-50 35-50 35-50 35-50 34-50 35-50 34-50 34-50 33-50 33-50 33-50 33-50 32-50 32-50 31-50 30-50 31-50 29-50 29-50 29-50 27-50 28-50" stroke="#cb0034"/><path d="M2032 7000l7-50 9-50 9-50 11-50 10-50 12-50 11-50 12-50 11-50 11-50 11-50 11-50 11-50 11-50 10-50 11-50 11-50 11-50 12-50 11-50 12-50 12-50 12-50 12-50 13-50 13-50 14-50 14-50 14-50 15-50 15-50 16-50 17-50 17-50 18-50 18-50 19-50 20-50 21-50 21-50 21-50 23-50 22-50 23-50 24-50 24-50 25-50 25-50 25-50 25-50 26-50 26-50 26-50 27-50 26-50 27-50 27-50 26-50 27-50 27-50 27-50 28-50 27-50 28-50 28-50 28-50 28-50 29-50 28-50 29-50 30-50 29-50 30-50 30-50 31-50 31-50 31-50 31-50 32-50 31-50 33-50 32-50 33-50 33-50 33-50 33-50 33-50 34-50 34-50 34-50 35-50 34-50 35-50 35-50 35-50 35-50 36-50 35-50 35-50 35-50 36-50 35-50 35-50 35-50 35-50 35-50 34-50 35-50 34-50 34-50 33-50 33-50 33-50 33-50 32-50 32-50 31-50 31-50 30-50 30-50 29-50 28-50 28-50 27-50" stroke="#c90036"/><path d="M2032 7000l7-50 9-50 9-50 10-50 11-50 12-50 11-50 11-50 12-50 11-50 11-50 11-50 10-50 11-50 11-50 11-50 11-50 11-50 11-50 12-50 11-50 12-50 12-50 13-50 13-50 13-50 13-50 14-50 15-50 15-50 15-50 16-50 16-50 18-50 17-50 19-50 19-50 20-50 20-50 21-50 22-50 22-50 23-50 23-50 24-50 24-50 24-50 25-50 25-50 26-50 25-50 26-50 27-50 26-50 26-50 27-50 27-50 27-50 26-50 27-50 28-50 27-50 27-50 28-50 28-50 28-50 28-50 29-50 28-50 29-50 30-50 29-50 30-50 30-50 31-50 30-50 32-50 31-50 31-50 32-50 32-50 33-50 33-50 32-50 33-50 34-50 33-50 34-50 34-50 34-50 35-50 34-50 35-50 35-50 35-50 35-50 35-50 36-50 35-50 35-50 35-50 36-50 35-50 35-50 35-50 34-50 35-50 34-50 35-50 33-50 34-50 33-50 33-50 33-50 32-50 31-50 32-50 30-50 31-50 29-50 29-50 29-50 28-50 27-50" stroke="#c80037"/><path d="M2039 7000l8-50 8-50 10-50 10-50 11-50 12-50 11-50 12-50 11-50 12-50 11-50 11-50 11-50 11-50 11-50 11-50 12-50 11-50 11-50 12-50 12-50 12-50 13-50 12-50 13-50 14-50 14-50 14-50 15-50 15-50 16-50 16-50 17-50 17-50 18-50 19-50 20-50 20-50 20-50 22-50 22-50 22-50 23-50 24-50 24-50 24-50 25-50 26-50 25-50 26-50 26-50 26-50 27-50 27-50 26-50 27-50 28-50 27-50 27-50 27-50 28-50 28-50 27-50 28-50 29-50 28-50 29-50 29-50 29-50 29-50 30-50 30-50 30-50 31-50 31-50 31-50 31-50 32-50 32-50 32-50 33-50 32-50 33-50 34-50 33-50 34-50 33-50 34-50 35-50 34-50 35-50 35-50 35-50 35-50 35-50 35-50 36-50 35-50 35-50 36-50 35-50 35-50 35-50 36-50 35-50 34-50 35-50 34-50 35-50 33-50 34-50 33-50 33-50 33-50 32-50 32-50 31-50 31-50 30-50 30-50 29-50 29-50 28-50 27-50" stroke="#c60039"/><path d="M2047 7000l7-50 9-50 10-50 11-50 11-50 11-50 12-50 12-50 11-50 12-50 11-50 12-50 11-50 11-50 12-50 11-50 12-50 11-50 12-50 12-50 12-50 13-50 12-50 13-50 14-50 14-50 14-50 14-50 15-50 16-50 16-50 17-50 17-50 18-50 18-50 19-50 20-50 21-50 21-50 21-50 23-50 23-50 23-50 24-50 24-50 25-50 25-50 26-50 26-50 26-50 27-50 26-50 27-50 27-50 28-50 27-50 27-50 28-50 28-50 27-50 28-50 28-50 29-50 28-50 29-50 29-50 29-50 29-50 30-50 30-50 30-50 30-50 31-50 31-50 31-50 32-50 31-50 33-50 32-50 33-50 32-50 34-50 33-50 33-50 34-50 34-50 34-50 34-50 35-50 35-50 35-50 35-50 35-50 35-50 35-50 36-50 35-50 36-50 35-50 36-50 35-50 36-50 35-50 35-50 35-50 35-50 35-50 34-50 34-50 34-50 34-50 33-50 33-50 33-50 32-50 32-50 31-50 31-50 31-50 29-50 30-50 28-50 28-50 28-50" stroke="#c5003a"/><path d="M2049 7000l7-50 9-50 10-50 11-50 11-50 11-50 12-50 12-50 12-50 11-50 12-50 11-50 11-50 12-50 11-50 12-50 11-50 12-50 12-50 12-50 12-50 13-50 12-50 14-50 13-50 14-50 14-50 15-50 15-50 16-50 16-50 17-50 17-50 18-50 18-50 20-50 19-50 21-50 21-50 22-50 23-50 22-50 24-50 24-50 24-50 25-50 26-50 25-50 26-50 27-50 26-50 27-50 27-50 27-50 28-50 27-50 28-50 27-50 28-50 28-50 28-50 28-50 29-50 28-50 29-50 29-50 29-50 29-50 30-50 30-50 30-50 31-50 31-50 31-50 31-50 32-50 32-50 32-50 32-50 33-50 33-50 33-50 34-50 33-50 34-50 34-50 34-50 35-50 34-50 35-50 35-50 35-50 35-50 36-50 35-50 35-50 36-50 35-50 36-50 36-50 35-50 35-50 36-50 35-50 35-50 35-50 35-50 34-50 34-50 34-50 34-50 33-50 33-50 33-50 32-50 32-50 31-50 31-50 31-50 29-50 30-50 28-50 28-50 28-50" stroke="#c3003c"/><path d="M2057 7000l8-50 9-50 10-50 11-50 11-50 12-50 12-50 12-50 12-50 12-50 11-50 12-50 12-50 11-50 12-50 12-50 12-50 12-50 12-50 12-50 13-50 13-50 13-50 14-50 13-50 15-50 14-50 15-50 16-50 16-50 17-50 17-50 17-50 19-50 19-50 19-50 21-50 21-50 21-50 23-50 22-50 24-50 24-50 24-50 25-50 25-50 26-50 26-50 27-50 26-50 27-50 27-50 28-50 28-50 27-50 28-50 28-50 28-50 29-50 28-50 29-50 28-50 29-50 29-50 29-50 30-50 30-50 30-50 30-50 30-50 31-50 31-50 31-50 32-50 32-50 32-50 32-50 33-50 33-50 33-50 33-50 34-50 34-50 34-50 34-50 35-50 34-50 35-50 35-50 35-50 35-50 35-50 36-50 35-50 36-50 35-50 36-50 36-50 36-50 35-50 36-50 35-50 36-50 35-50 35-50 35-50 35-50 34-50 35-50 34-50 34-50 33-50 33-50 33-50 32-50 32-50 31-50 31-50 31-50 30-50 29-50 29-50 28-50 27-50" stroke="#c2003d"/><path d="M2063 7000l8-50 9-50 11-50 10-50 12-50 12-50 12-50 12-50 12-50 12-50 12-50 12-50 12-50 12-50 12-50 12-50 12-50 12-50 12-50 13-50 13-50 13-50 13-50 14-50 14-50 15-50 15-50 15-50 16-50 16-50 17-50 18-50 18-50 18-50 20-50 19-50 21-50 21-50 22-50 23-50 23-50 24-50 24-50 25-50 25-50 25-50 27-50 26-50 27-50 27-50 27-50 28-50 27-50 28-50 28-50 29-50 28-50 28-50 29-50 29-50 29-50 29-50 29-50 29-50 30-50 30-50 30-50 30-50 31-50 31-50 31-50 31-50 32-50 32-50 32-50 32-50 33-50 33-50 33-50 34-50 34-50 34-50 34-50 34-50 35-50 34-50 35-50 35-50 35-50 35-50 36-50 35-50 36-50 36-50 35-50 36-50 36-50 36-50 36-50 35-50 36-50 35-50 36-50 35-50 36-50 35-50 34-50 35-50 34-50 34-50 34-50 34-50 33-50 33-50 32-50 32-50 31-50 31-50 31-50 30-50 29-50 29-50 28-50 28-50" stroke="#c0003f"/><path d="M2069 7000l8-50 9-50 10-50 11-50 12-50 12-50 12-50 12-50 13-50 12-50 12-50 12-50 12-50 12-50 12-50 12-50 12-50 13-50 12-50 13-50 13-50 14-50 13-50 14-50 15-50 14-50 16-50 15-50 16-50 17-50 17-50 18-50 18-50 19-50 19-50 21-50 20-50 22-50 22-50 23-50 23-50 24-50 25-50 25-50 25-50 26-50 26-50 27-50 27-50 27-50 28-50 28-50 28-50 28-50 29-50 28-50 29-50 29-50 28-50 29-50 30-50 29-50 30-50 29-50 30-50 30-50 31-50 30-50 31-50 31-50 32-50 32-50 31-50 33-50 32-50 33-50 33-50 33-50 34-50 34-50 34-50 34-50 35-50 34-50 35-50 35-50 35-50 35-50 35-50 36-50 35-50 36-50 36-50 36-50 35-50 36-50 36-50 36-50 36-50 36-50 35-50 36-50 36-50 35-50 35-50 35-50 35-50 35-50 34-50 35-50 33-50 34-50 33-50 33-50 32-50 32-50 32-50 31-50 30-50 30-50 30-50 29-50 28-50 28-50" stroke="#bf0040"/><path d="M2072 7000l8-50 9-50 10-50 11-50 12-50 12-50 13-50 12-50 12-50 13-50 12-50 12-50 12-50 12-50 12-50 13-50 12-50 13-50 12-50 13-50 14-50 13-50 14-50 14-50 15-50 15-50 15-50 16-50 16-50 17-50 17-50 18-50 18-50 19-50 20-50 20-50 22-50 21-50 23-50 23-50 23-50 24-50 25-50 25-50 26-50 26-50 26-50 27-50 27-50 28-50 28-50 28-50 28-50 28-50 29-50 29-50 29-50 29-50 29-50 29-50 29-50 30-50 30-50 30-50 30-50 30-50 31-50 31-50 31-50 31-50 32-50 32-50 32-50 32-50 33-50 33-50 33-50 34-50 34-50 34-50 34-50 34-50 35-50 35-50 34-50 35-50 36-50 35-50 35-50 36-50 36-50 36-50 35-50 36-50 36-50 36-50 36-50 36-50 36-50 36-50 36-50 35-50 36-50 35-50 36-50 35-50 35-50 34-50 35-50 34-50 34-50 34-50 33-50 33-50 32-50 32-50 32-50 31-50 30-50 30-50 30-50 29-50 28-50 28-50" stroke="#bd0042"/><path d="M2081 7000l9-50 9-50 11-50 11-50 12-50 12-50 13-50 13-50 12-50 13-50 12-50 12-50 13-50 12-50 13-50 12-50 13-50 13-50 13-50 14-50 13-50 14-50 15-50 14-50 15-50 16-50 15-50 17-50 16-50 18-50 17-50 19-50 19-50 19-50 20-50 21-50 22-50 22-50 23-50 23-50 24-50 25-50 25-50 26-50 26-50 26-50 27-50 28-50 27-50 28-50 29-50 28-50 29-50 29-50 29-50 29-50 30-50 29-50 30-50 30-50 30-50 30-50 30-50 31-50 30-50 31-50 32-50 31-50 32-50 32-50 32-50 32-50 33-50 33-50 34-50 33-50 34-50 34-50 34-50 35-50 35-50 35-50 35-50 35-50 35-50 36-50 35-50 36-50 36-50 36-50 36-50 36-50 36-50 36-50 36-50 37-50 36-50 36-50 36-50 36-50 36-50 36-50 35-50 36-50 35-50 36-50 35-50 34-50 35-50 34-50 34-50 34-50 33-50 33-50 32-50 33-50 31-50 31-50 31-50 30-50 30-50 29-50 28-50 28-50" stroke="#bc0043"/><path d="M2088 7000l8-50 10-50 11-50 11-50 12-50 13-50 12-50 13-50 13-50 13-50 12-50 13-50 13-50 12-50 13-50 13-50 13-50 13-50 14-50 13-50 14-50 14-50 15-50 15-50 15-50 16-50 16-50 16-50 17-50 18-50 18-50 19-50 19-50 20-50 20-50 22-50 22-50 22-50 23-50 24-50 24-50 25-50 26-50 26-50 26-50 27-50 28-50 27-50 28-50 29-50 28-50 29-50 29-50 30-50 29-50 30-50 30-50 30-50 30-50 30-50 30-50 31-50 30-50 31-50 32-50 31-50 32-50 31-50 32-50 33-50 32-50 33-50 34-50 33-50 34-50 34-50 34-50 34-50 35-50 35-50 35-50 35-50 36-50 35-50 36-50 36-50 36-50 36-50 36-50 36-50 36-50 37-50 36-50 36-50 37-50 36-50 36-50 37-50 36-50 36-50 36-50 36-50 36-50 35-50 36-50 35-50 35-50 35-50 34-50 35-50 34-50 33-50 34-50 33-50 32-50 32-50 32-50 31-50 31-50 30-50 30-50 29-50 28-50 28-50" stroke="#ba0045"/><path d="M2091 7000l9-50 9-50 11-50 12-50 12-50 12-50 13-50 13-50 13-50 13-50 12-50 13-50 13-50 13-50 13-50 13-50 13-50 13-50 14-50 13-50 15-50 14-50 15-50 15-50 15-50 16-50 16-50 17-50 17-50 18-50 18-50 19-50 19-50 20-50 21-50 21-50 23-50 22-50 24-50 24-50 24-50 25-50 26-50 26-50 27-50 27-50 27-50 28-50 29-50 28-50 29-50 29-50 29-50 30-50 30-50 29-50 30-50 31-50 30-50 30-50 31-50 31-50 31-50 31-50 31-50 32-50 31-50 33-50 32-50 32-50 33-50 33-50 34-50 33-50 34-50 35-50 34-50 35-50 35-50 35-50 35-50 36-50 35-50 36-50 36-50 36-50 36-50 36-50 36-50 37-50 36-50 36-50 37-50 36-50 37-50 36-50 36-50 37-50 36-50 36-50 36-50 36-50 36-50 36-50 35-50 35-50 36-50 34-50 35-50 34-50 34-50 34-50 34-50 33-50 32-50 32-50 32-50 31-50 31-50 30-50 30-50 29-50 29-50 27-50" stroke="#b80047"/><path d="M2092 7000l9-50 9-50 11-50 12-50 12-50 12-50 13-50 13-50 13-50 13-50 13-50 12-50 13-50 13-50 13-50 13-50 13-50 14-50 13-50 14-50 14-50 15-50 14-50 16-50 15-50 16-50 16-50 17-50 17-50 18-50 19-50 18-50 20-50 20-50 21-50 21-50 22-50 23-50 24-50 24-50 24-50 26-50 25-50 27-50 26-50 27-50 28-50 28-50 28-50 29-50 29-50 29-50 29-50 30-50 30-50 30-50 30-50 30-50 30-50 31-50 31-50 30-50 31-50 32-50 31-50 32-50 32-50 32-50 32-50 33-50 33-50 33-50 34-50 34-50 34-50 34-50 34-50 35-50 35-50 35-50 36-50 35-50 36-50 36-50 36-50 36-50 36-50 36-50 36-50 37-50 36-50 37-50 36-50 37-50 36-50 37-50 36-50 36-50 37-50 36-50 36-50 36-50 36-50 35-50 36-50 35-50 35-50 35-50 35-50 34-50 34-50 34-50 33-50 33-50 33-50 32-50 32-50 31-50 31-50 30-50 30-50 29-50 29-50 27-50" stroke="#b70048"/><path d="M2104 7000l8-50 10-50 11-50 12-50 12-50 13-50 13-50 14-50 13-50 13-50 13-50 13-50 13-50 14-50 13-50 13-50 14-50 14-50 14-50 14-50 15-50 15-50 15-50 16-50 16-50 16-50 17-50 17-50 18-50 19-50 18-50 20-50 20-50 21-50 21-50 22-50 23-50 23-50 24-50 25-50 25-50 26-50 26-50 27-50 27-50 28-50 28-50 29-50 28-50 30-50 29-50 30-50 30-50 30-50 31-50 30-50 31-50 31-50 31-50 31-50 31-50 32-50 32-50 31-50 33-50 32-50 33-50 32-50 34-50 33-50 34-50 33-50 35-50 34-50 35-50 35-50 35-50 35-50 36-50 36-50 36-50 36-50 36-50 37-50 36-50 37-50 36-50 37-50 37-50 37-50 36-50 37-50 37-50 37-50 36-50 37-50 37-50 36-50 37-50 36-50 36-50 36-50 36-50 36-50 36-50 35-50 36-50 35-50 34-50 35-50 34-50 34-50 33-50 33-50 33-50 32-50 32-50 32-50 30-50 31-50 30-50 29-50 28-50 28-50" stroke="#b5004a"/><path d="M2104 7000l9-50 10-50 11-50 12-50 12-50 13-50 13-50 13-50 14-50 13-50 13-50 13-50 13-50 14-50 13-50 13-50 14-50 14-50 14-50 14-50 15-50 15-50 15-50 16-50 16-50 16-50 17-50 18-50 18-50 18-50 19-50 20-50 20-50 20-50 22-50 22-50 23-50 23-50 24-50 25-50 25-50 26-50 26-50 27-50 27-50 28-50 28-50 29-50 29-50 29-50 30-50 30-50 30-50 30-50 31-50 30-50 31-50 31-50 31-50 31-50 32-50 31-50 32-50 32-50 32-50 33-50 32-50 33-50 33-50 34-50 33-50 34-50 35-50 34-50 35-50 35-50 35-50 36-50 36-50 35-50 36-50 37-50 36-50 36-50 37-50 37-50 36-50 37-50 37-50 37-50 36-50 37-50 37-50 37-50 37-50 36-50 37-50 37-50 36-50 36-50 37-50 36-50 36-50 36-50 35-50 36-50 35-50 35-50 35-50 34-50 34-50 34-50 34-50 33-50 32-50 33-50 32-50 31-50 31-50 30-50 30-50 29-50 29-50 28-50" stroke="#b4004b"/><path d="M2115 7000l9-50 10-50 11-50 12-50 13-50 13-50 14-50 13-50 14-50 13-50 14-50 13-50 14-50 13-50 14-50 14-50 14-50 14-50 15-50 15-50 15-50 15-50 16-50 16-50 16-50 17-50 18-50 18-50 18-50 19-50 19-50 20-50 21-50 21-50 22-50 23-50 23-50 24-50 25-50 25-50 26-50 26-50 27-50 27-50 28-50 29-50 28-50 29-50 30-50 30-50 30-50 30-50 31-50 31-50 31-50 31-50 31-50 32-50 32-50 31-50 33-50 32-50 32-50 33-50 33-50 33-50 33-50 34-50 33-50 34-50 35-50 34-50 35-50 35-50 36-50 36-50 35-50 37-50 36-50 36-50 37-50 37-50 37-50 37-50 37-50 37-50 37-50 37-50 37-50 37-50 37-50 38-50 37-50 37-50 37-50 37-50 37-50 36-50 37-50 37-50 36-50 36-50 36-50 36-50 36-50 36-50 35-50 35-50 35-50 34-50 35-50 34-50 33-50 33-50 33-50 33-50 31-50 32-50 31-50 30-50 30-50 30-50 28-50 29-50" stroke="#b2004d"/><path d="M2113 7000l9-50 10-50 11-50 12-50 13-50 13-50 13-50 14-50 13-50 13-50 14-50 13-50 14-50 13-50 14-50 14-50 14-50 14-50 14-50 15-50 15-50 15-50 16-50 16-50 17-50 16-50 18-50 18-50 18-50 19-50 19-50 20-50 21-50 21-50 22-50 22-50 23-50 24-50 25-50 25-50 25-50 27-50 27-50 27-50 28-50 28-50 29-50 29-50 29-50 30-50 30-50 30-50 31-50 30-50 31-50 31-50 32-50 31-50 32-50 31-50 32-50 32-50 33-50 32-50 33-50 33-50 33-50 34-50 33-50 34-50 35-50 34-50 35-50 35-50 35-50 36-50 36-50 36-50 36-50 36-50 37-50 36-50 37-50 37-50 37-50 37-50 37-50 37-50 37-50 37-50 38-50 37-50 37-50 37-50 37-50 37-50 36-50 37-50 37-50 36-50 37-50 36-50 36-50 36-50 36-50 35-50 36-50 35-50 34-50 35-50 34-50 34-50 34-50 33-50 33-50 32-50 32-50 31-50 31-50 31-50 30-50 29-50 29-50 28-50" stroke="#b1004e"/><path d="M2126 7000l9-50 10-50 12-50 12-50 13-50 13-50 14-50 14-50 14-50 14-50 13-50 14-50 14-50 14-50 14-50 14-50 15-50 15-50 15-50 15-50 15-50 16-50 16-50 17-50 17-50 17-50 18-50 19-50 19-50 19-50 20-50 21-50 21-50 22-50 22-50 23-50 24-50 25-50 25-50 25-50 27-50 27-50 27-50 28-50 29-50 28-50 30-50 29-50 30-50 31-50 30-50 31-50 32-50 31-50 32-50 32-50 32-50 32-50 32-50 32-50 33-50 33-50 33-50 33-50 34-50 34-50 34-50 34-50 34-50 35-50 35-50 35-50 36-50 36-50 36-50 36-50 36-50 37-50 37-50 37-50 37-50 38-50 37-50 38-50 37-50 38-50 37-50 38-50 37-50 38-50 38-50 37-50 37-50 38-50 37-50 37-50 37-50 37-50 37-50 37-50 36-50 37-50 36-50 36-50 36-50 36-50 35-50 35-50 35-50 35-50 34-50 34-50 34-50 33-50 33-50 32-50 32-50 32-50 31-50 31-50 30-50 29-50 29-50 28-50" stroke="#af0050"/><path d="M2128 7000l9-50 10-50 12-50 12-50 13-50 13-50 14-50 14-50 14-50 14-50 13-50 14-50 14-50 14-50 14-50 15-50 14-50 15-50 15-50 15-50 16-50 16-50 16-50 17-50 17-50 18-50 18-50 18-50 19-50 20-50 20-50 20-50 22-50 21-50 23-50 23-50 24-50 25-50 25-50 26-50 26-50 27-50 28-50 28-50 28-50 29-50 30-50 29-50 31-50 30-50 31-50 31-50 31-50 32-50 31-50 32-50 32-50 33-50 32-50 33-50 32-50 33-50 34-50 33-50 34-50 33-50 35-50 34-50 34-50 35-50 35-50 36-50 35-50 36-50 36-50 37-50 36-50 37-50 37-50 37-50 38-50 37-50 38-50 37-50 38-50 38-50 37-50 38-50 38-50 37-50 38-50 37-50 38-50 37-50 38-50 37-50 37-50 37-50 37-50 36-50 37-50 36-50 37-50 36-50 36-50 35-50 36-50 35-50 35-50 35-50 34-50 34-50 34-50 33-50 33-50 32-50 32-50 32-50 31-50 31-50 30-50 29-50 29-50 28-50" stroke="#ad0052"/><path d="M2128 7000l9-50 11-50 11-50 12-50 13-50 14-50 14-50 13-50 14-50 14-50 14-50 14-50 14-50 14-50 14-50 14-50 15-50 15-50 15-50 15-50 16-50 16-50 16-50 17-50 17-50 17-50 19-50 18-50 19-50 20-50 20-50 20-50 22-50 22-50 22-50 23-50 24-50 25-50 25-50 26-50 27-50 27-50 27-50 28-50 29-50 29-50 29-50 30-50 30-50 31-50 31-50 31-50 31-50 32-50 31-50 32-50 32-50 33-50 32-50 33-50 33-50 33-50 33-50 33-50 34-50 34-50 34-50 34-50 35-50 35-50 35-50 35-50 36-50 36-50 36-50 37-50 36-50 37-50 37-50 37-50 38-50 37-50 38-50 37-50 38-50 38-50 37-50 38-50 38-50 37-50 38-50 38-50 37-50 38-50 37-50 37-50 37-50 37-50 37-50 37-50 36-50 37-50 36-50 36-50 36-50 36-50 35-50 35-50 35-50 35-50 34-50 34-50 34-50 33-50 33-50 33-50 32-50 31-50 32-50 30-50 30-50 30-50 29-50 28-50" stroke="#ac0053"/><path d="M2137 7000l9-50 11-50 11-50 13-50 13-50 14-50 14-50 14-50 14-50 14-50 14-50 14-50 15-50 14-50 14-50 15-50 15-50 15-50 15-50 16-50 16-50 16-50 17-50 17-50 18-50 18-50 18-50 19-50 20-50 20-50 20-50 21-50 22-50 22-50 23-50 24-50 24-50 25-50 26-50 26-50 27-50 28-50 28-50 28-50 29-50 30-50 29-50 31-50 30-50 31-50 32-50 31-50 32-50 32-50 32-50 33-50 32-50 33-50 33-50 33-50 33-50 34-50 33-50 34-50 35-50 34-50 35-50 35-50 35-50 35-50 36-50 36-50 36-50 36-50 37-50 37-50 37-50 37-50 38-50 38-50 38-50 37-50 38-50 38-50 39-50 38-50 38-50 38-50 38-50 38-50 38-50 37-50 38-50 38-50 37-50 38-50 37-50 37-50 37-50 37-50 37-50 36-50 37-50 36-50 36-50 36-50 35-50 35-50 35-50 35-50 35-50 34-50 33-50 34-50 33-50 32-50 32-50 32-50 31-50 31-50 30-50 30-50 29-50 28-50" stroke="#aa0055"/><path d="M2144 7000l9-50 11-50 12-50 12-50 14-50 13-50 14-50 15-50 14-50 14-50 15-50 14-50 14-50 15-50 15-50 15-50 15-50 15-50 16-50 16-50 16-50 16-50 17-50 18-50 18-50 18-50 19-50 19-50 20-50 20-50 21-50 21-50 22-50 23-50 23-50 24-50 25-50 25-50 26-50 27-50 27-50 28-50 28-50 29-50 29-50 30-50 30-50 31-50 31-50 31-50 32-50 32-50 32-50 32-50 33-50 33-50 33-50 33-50 33-50 33-50 34-50 34-50 34-50 34-50 35-50 35-50 35-50 35-50 36-50 35-50 36-50 37-50 36-50 37-50 37-50 38-50 37-50 38-50 38-50 38-50 38-50 38-50 39-50 38-50 38-50 39-50 38-50 38-50 38-50 39-50 38-50 38-50 38-50 38-50 37-50 38-50 37-50 37-50 38-50 37-50 36-50 37-50 36-50 37-50 36-50 36-50 35-50 35-50 36-50 34-50 35-50 34-50 34-50 33-50 33-50 33-50 32-50 32-50 31-50 31-50 30-50 30-50 29-50 28-50" stroke="#a90056"/><path d="M2150 7000l9-50 11-50 12-50 13-50 13-50 14-50 14-50 15-50 14-50 15-50 14-50 15-50 14-50 15-50 15-50 15-50 16-50 15-50 16-50 16-50 17-50 17-50 17-50 17-50 18-50 19-50 19-50 20-50 20-50 20-50 21-50 22-50 22-50 23-50 24-50 24-50 25-50 26-50 26-50 27-50 28-50 28-50 28-50 29-50 30-50 30-50 31-50 30-50 32-50 31-50 32-50 32-50 33-50 33-50 32-50 34-50 33-50 33-50 34-50 34-50 34-50 34-50 34-50 35-50 35-50 35-50 36-50 35-50 36-50 36-50 37-50 36-50 37-50 38-50 37-50 38-50 37-50 39-50 38-50 38-50 39-50 38-50 39-50 38-50 39-50 39-50 38-50 39-50 38-50 39-50 38-50 38-50 38-50 38-50 38-50 38-50 37-50 38-50 37-50 37-50 37-50 36-50 37-50 36-50 36-50 36-50 36-50 35-50 35-50 35-50 35-50 34-50 34-50 33-50 33-50 33-50 32-50 32-50 31-50 31-50 30-50 30-50 29-50 29-50" stroke="#a70058"/><path d="M2150 7000l10-50 10-50 12-50 13-50 14-50 14-50 14-50 14-50 15-50 14-50 15-50 14-50 15-50 15-50 14-50 16-50 15-50 16-50 15-50 17-50 16-50 17-50 17-50 18-50 18-50 19-50 19-50 19-50 20-50 21-50 21-50 22-50 22-50 23-50 24-50 24-50 25-50 26-50 26-50 27-50 28-50 28-50 28-50 29-50 30-50 30-50 31-50 31-50 31-50 31-50 32-50 33-50 32-50 33-50 33-50 33-50 33-50 34-50 33-50 34-50 34-50 35-50 34-50 35-50 35-50 35-50 35-50 36-50 36-50 36-50 36-50 37-50 37-50 37-50 38-50 37-50 38-50 38-50 39-50 38-50 39-50 38-50 39-50 38-50 39-50 39-50 38-50 39-50 38-50 39-50 38-50 38-50 38-50 38-50 38-50 38-50 38-50 37-50 37-50 37-50 37-50 37-50 36-50 37-50 36-50 36-50 35-50 36-50 35-50 35-50 34-50 34-50 34-50 34-50 33-50 32-50 33-50 31-50 32-50 31-50 30-50 30-50 29-50 28-50" stroke="#a5005a"/><path d="M2155 7000l9-50 11-50 12-50 13-50 14-50 14-50 14-50 15-50 14-50 15-50 15-50 14-50 15-50 15-50 15-50 15-50 16-50 16-50 16-50 16-50 17-50 17-50 17-50 18-50 19-50 18-50 20-50 19-50 21-50 20-50 22-50 22-50 22-50 24-50 23-50 25-50 25-50 26-50 27-50 27-50 28-50 28-50 29-50 29-50 30-50 30-50 31-50 31-50 32-50 32-50 32-50 32-50 33-50 33-50 33-50 34-50 33-50 34-50 34-50 34-50 34-50 35-50 35-50 35-50 35-50 35-50 36-50 36-50 36-50 36-50 37-50 37-50 37-50 38-50 38-50 38-50 38-50 38-50 39-50 38-50 39-50 39-50 39-50 39-50 39-50 38-50 39-50 39-50 39-50 38-50 39-50 38-50 38-50 38-50 38-50 38-50 38-50 37-50 37-50 38-50 36-50 37-50 37-50 36-50 36-50 36-50 36-50 35-50 36-50 34-50 35-50 34-50 34-50 34-50 33-50 32-50 33-50 32-50 31-50 31-50 30-50 30-50 29-50 29-50" stroke="#a4005b"/><path d="M2165 7000l10-50 11-50 12-50 14-50 13-50 15-50 14-50 15-50 15-50 15-50 15-50 15-50 15-50 15-50 15-50 16-50 16-50 16-50 17-50 16-50 18-50 17-50 18-50 18-50 19-50 19-50 20-50 20-50 21-50 21-50 22-50 23-50 23-50 23-50 25-50 25-50 26-50 26-50 27-50 28-50 28-50 29-50 29-50 30-50 30-50 31-50 31-50 32-50 32-50 32-50 33-50 33-50 33-50 34-50 34-50 34-50 34-50 34-50 34-50 35-50 35-50 35-50 36-50 35-50 36-50 36-50 36-50 37-50 37-50 37-50 37-50 38-50 37-50 38-50 39-50 38-50 39-50 39-50 39-50 39-50 39-50 40-50 39-50 40-50 39-50 39-50 39-50 40-50 39-50 38-50 39-50 39-50 38-50 39-50 38-50 38-50 38-50 37-50 38-50 37-50 37-50 37-50 37-50 36-50 37-50 36-50 35-50 36-50 35-50 35-50 35-50 34-50 34-50 34-50 33-50 33-50 32-50 32-50 31-50 31-50 31-50 30-50 29-50 29-50" stroke="#a2005d"/><path d="M2168 7000l10-50 11-50 12-50 13-50 14-50 15-50 14-50 15-50 15-50 15-50 15-50 15-50 15-50 16-50 15-50 16-50 16-50 16-50 17-50 17-50 17-50 18-50 18-50 18-50 19-50 19-50 20-50 20-50 21-50 22-50 22-50 22-50 24-50 23-50 25-50 25-50 26-50 26-50 28-50 27-50 29-50 29-50 29-50 30-50 31-50 31-50 31-50 32-50 32-50 33-50 32-50 34-50 33-50 34-50 34-50 34-50 34-50 34-50 35-50 35-50 35-50 35-50 36-50 35-50 36-50 37-50 36-50 37-50 37-50 37-50 37-50 38-50 38-50 38-50 39-50 38-50 39-50 39-50 40-50 39-50 39-50 40-50 39-50 40-50 39-50 40-50 39-50 39-50 39-50 39-50 39-50 39-50 39-50 38-50 38-50 38-50 38-50 38-50 37-50 38-50 37-50 37-50 37-50 36-50 36-50 36-50 36-50 36-50 35-50 35-50 35-50 34-50 34-50 34-50 33-50 33-50 32-50 32-50 31-50 31-50 31-50 30-50 29-50 29-50" stroke="#a1005e"/><path d="M2176 7000l10-50 12-50 12-50 13-50 14-50 15-50 15-50 15-50 15-50 15-50 15-50 16-50 15-50 16-50 15-50 17-50 16-50 16-50 17-50 18-50 17-50 18-50 18-50 19-50 19-50 20-50 20-50 21-50 21-50 22-50 22-50 23-50 24-50 24-50 25-50 26-50 26-50 27-50 27-50 29-50 28-50 30-50 30-50 30-50 31-50 31-50 32-50 32-50 33-50 33-50 33-50 33-50 34-50 34-50 35-50 34-50 35-50 35-50 35-50 35-50 36-50 35-50 36-50 37-50 36-50 37-50 37-50 37-50 37-50 38-50 38-50 38-50 38-50 39-50 39-50 39-50 40-50 39-50 40-50 39-50 40-50 40-50 40-50 40-50 40-50 40-50 39-50 40-50 39-50 39-50 40-50 39-50 38-50 39-50 38-50 39-50 38-50 37-50 38-50 38-50 37-50 37-50 37-50 36-50 37-50 36-50 36-50 35-50 36-50 35-50 34-50 35-50 34-50 33-50 34-50 33-50 32-50 32-50 32-50 31-50 30-50 30-50 30-50 28-50" stroke="#9f0060"/><path d="M2184 7000l10-50 11-50 13-50 13-50 15-50 14-50 15-50 16-50 15-50 15-50 16-50 15-50 16-50 16-50 16-50 16-50 17-50 17-50 17-50 17-50 18-50 18-50 19-50 19-50 20-50 20-50 20-50 21-50 22-50 22-50 23-50 23-50 24-50 25-50 25-50 26-50 26-50 28-50 28-50 28-50 29-50 30-50 30-50 31-50 31-50 32-50 32-50 33-50 33-50 33-50 34-50 33-50 35-50 34-50 35-50 35-50 35-50 35-50 36-50 35-50 36-50 36-50 37-50 36-50 37-50 37-50 38-50 37-50 38-50 38-50 39-50 38-50 39-50 39-50 40-50 39-50 40-50 40-50 40-50 40-50 40-50 40-50 41-50 40-50 40-50 40-50 40-50 40-50 40-50 39-50 40-50 39-50 39-50 39-50 38-50 39-50 38-50 38-50 37-50 38-50 37-50 37-50 37-50 37-50 36-50 37-50 36-50 35-50 36-50 35-50 34-50 35-50 34-50 34-50 33-50 33-50 33-50 32-50 31-50 31-50 31-50 30-50 30-50 29-50" stroke="#9d0062"/><path d="M2180 7000l10-50 11-50 13-50 13-50 14-50 15-50 15-50 15-50 15-50 16-50 15-50 15-50 16-50 16-50 16-50 16-50 16-50 17-50 17-50 17-50 18-50 18-50 19-50 19-50 19-50 20-50 20-50 21-50 21-50 22-50 23-50 23-50 24-50 24-50 25-50 26-50 27-50 27-50 27-50 29-50 29-50 29-50 30-50 31-50 31-50 31-50 32-50 33-50 32-50 34-50 33-50 34-50 34-50 34-50 34-50 35-50 35-50 35-50 35-50 36-50 36-50 36-50 36-50 36-50 37-50 37-50 37-50 37-50 38-50 38-50 38-50 38-50 39-50 39-50 39-50 39-50 40-50 40-50 39-50 40-50 40-50 41-50 40-50 40-50 40-50 40-50 39-50 40-50 40-50 39-50 39-50 39-50 39-50 39-50 38-50 39-50 38-50 38-50 37-50 38-50 37-50 37-50 37-50 37-50 36-50 36-50 36-50 36-50 35-50 35-50 35-50 34-50 35-50 33-50 34-50 33-50 32-50 32-50 32-50 31-50 30-50 30-50 30-50 29-50" stroke="#9c0063"/><path d="M2193 7000l11-50 11-50 13-50 14-50 14-50 15-50 15-50 16-50 15-50 16-50 15-50 16-50 16-50 16-50 17-50 16-50 17-50 17-50 18-50 18-50 18-50 19-50 19-50 19-50 20-50 21-50 21-50 21-50 22-50 23-50 23-50 24-50 24-50 25-50 26-50 26-50 27-50 28-50 28-50 29-50 30-50 30-50 30-50 32-50 31-50 32-50 33-50 33-50 33-50 34-50 34-50 35-50 34-50 35-50 35-50 36-50 35-50 36-50 36-50 36-50 37-50 36-50 37-50 37-50 38-50 37-50 38-50 38-50 39-50 39-50 38-50 40-50 39-50 40-50 39-50 41-50 40-50 40-50 41-50 40-50 41-50 41-50 40-50 41-50 41-50 40-50 40-50 41-50 40-50 39-50 40-50 40-50 39-50 39-50 39-50 38-50 39-50 38-50 38-50 37-50 38-50 37-50 37-50 37-50 36-50 36-50 37-50 35-50 36-50 35-50 35-50 34-50 34-50 34-50 34-50 33-50 32-50 32-50 32-50 31-50 31-50 30-50 30-50 29-50" stroke="#9a0065"/><path d="M2203 7000l10-50 12-50 13-50 14-50 15-50 15-50 15-50 16-50 16-50 15-50 16-50 16-50 17-50 16-50 17-50 17-50 17-50 18-50 18-50 18-50 18-50 19-50 20-50 20-50 20-50 21-50 21-50 22-50 23-50 23-50 23-50 25-50 24-50 26-50 26-50 27-50 27-50 28-50 29-50 30-50 30-50 30-50 31-50 32-50 32-50 33-50 33-50 33-50 34-50 34-50 35-50 35-50 35-50 35-50 36-50 36-50 36-50 36-50 37-50 36-50 37-50 38-50 37-50 38-50 38-50 38-50 38-50 39-50 39-50 39-50 39-50 40-50 40-50 40-50 41-50 40-50 41-50 41-50 41-50 41-50 41-50 41-50 41-50 42-50 41-50 40-50 41-50 41-50 40-50 40-50 40-50 40-50 39-50 40-50 39-50 38-50 39-50 38-50 38-50 38-50 38-50 37-50 37-50 37-50 37-50 36-50 36-50 36-50 35-50 36-50 35-50 34-50 34-50 34-50 34-50 33-50 33-50 32-50 32-50 31-50 31-50 30-50 30-50 29-50" stroke="#980067"/><path d="M2203 7000l10-50 12-50 13-50 14-50 14-50 16-50 15-50 16-50 16-50 15-50 16-50 16-50 17-50 16-50 17-50 17-50 17-50 18-50 17-50 19-50 18-50 19-50 20-50 20-50 20-50 21-50 21-50 22-50 23-50 23-50 23-50 24-50 25-50 26-50 26-50 27-50 27-50 28-50 29-50 29-50 31-50 30-50 31-50 32-50 32-50 33-50 33-50 33-50 34-50 34-50 35-50 35-50 35-50 35-50 36-50 36-50 36-50 36-50 36-50 37-50 37-50 37-50 38-50 37-50 38-50 38-50 39-50 39-50 38-50 40-50 39-50 40-50 40-50 40-50 40-50 41-50 41-50 40-50 42-50 41-50 41-50 41-50 41-50 41-50 41-50 41-50 41-50 40-50 41-50 40-50 40-50 39-50 40-50 39-50 39-50 39-50 38-50 39-50 38-50 38-50 37-50 37-50 38-50 36-50 37-50 36-50 37-50 35-50 36-50 35-50 35-50 35-50 34-50 34-50 33-50 33-50 33-50 32-50 32-50 31-50 31-50 30-50 30-50 29-50" stroke="#970068"/><path d="M2207 7000l11-50 11-50 13-50 14-50 15-50 15-50 16-50 16-50 15-50 16-50 16-50 17-50 16-50 17-50 16-50 18-50 17-50 18-50 18-50 18-50 19-50 19-50 20-50 20-50 20-50 21-50 22-50 22-50 22-50 24-50 23-50 25-50 25-50 25-50 27-50 27-50 27-50 29-50 29-50 29-50 31-50 30-50 32-50 32-50 32-50 33-50 33-50 33-50 35-50 34-50 35-50 35-50 35-50 36-50 35-50 37-50 36-50 36-50 37-50 37-50 37-50 38-50 37-50 38-50 38-50 39-50 38-50 39-50 39-50 40-50 39-50 40-50 40-50 41-50 40-50 41-50 41-50 41-50 42-50 41-50 41-50 42-50 41-50 41-50 41-50 41-50 41-50 41-50 40-50 41-50 40-50 40-50 39-50 40-50 39-50 38-50 39-50 38-50 38-50 38-50 38-50 37-50 37-50 37-50 37-50 36-50 37-50 35-50 36-50 35-50 35-50 35-50 34-50 34-50 34-50 33-50 32-50 33-50 32-50 31-50 31-50 30-50 30-50 29-50" stroke="#95006a"/><path d="M2219 7000l11-50 12-50 14-50 14-50 15-50 15-50 16-50 16-50 16-50 16-50 17-50 16-50 17-50 17-50 17-50 18-50 18-50 18-50 18-50 19-50 19-50 20-50 20-50 21-50 21-50 21-50 23-50 22-50 23-50 24-50 24-50 25-50 26-50 26-50 27-50 28-50 28-50 29-50 29-50 31-50 30-50 32-50 32-50 32-50 33-50 33-50 34-50 34-50 35-50 35-50 35-50 36-50 36-50 36-50 37-50 36-50 37-50 37-50 38-50 37-50 38-50 38-50 39-50 38-50 39-50 39-50 39-50 40-50 40-50 40-50 40-50 41-50 41-50 41-50 41-50 42-50 41-50 42-50 42-50 42-50 42-50 42-50 42-50 41-50 42-50 42-50 41-50 41-50 41-50 41-50 40-50 40-50 40-50 40-50 39-50 39-50 39-50 39-50 38-50 38-50 38-50 37-50 38-50 37-50 36-50 37-50 36-50 36-50 36-50 35-50 35-50 35-50 34-50 34-50 34-50 33-50 33-50 32-50 32-50 32-50 31-50 30-50 30-50 29-50" stroke="#94006b"/><path d="M2224 7000l10-50 13-50 13-50 14-50 15-50 16-50 16-50 16-50 16-50 17-50 16-50 17-50 17-50 17-50 17-50 18-50 18-50 18-50 19-50 19-50 19-50 20-50 20-50 21-50 21-50 22-50 22-50 23-50 23-50 24-50 25-50 25-50 26-50 26-50 27-50 28-50 29-50 29-50 30-50 30-50 31-50 31-50 33-50 32-50 33-50 34-50 34-50 34-50 35-50 35-50 36-50 36-50 36-50 36-50 37-50 37-50 37-50 37-50 38-50 38-50 38-50 38-50 39-50 39-50 39-50 39-50 39-50 40-50 40-50 41-50 40-50 41-50 41-50 42-50 41-50 42-50 42-50 42-50 42-50 42-50 42-50 42-50 42-50 42-50 42-50 42-50 41-50 42-50 41-50 41-50 40-50 40-50 41-50 39-50 40-50 39-50 39-50 38-50 39-50 38-50 38-50 37-50 38-50 37-50 36-50 37-50 36-50 36-50 36-50 35-50 36-50 34-50 35-50 34-50 33-50 34-50 32-50 33-50 32-50 31-50 31-50 31-50 30-50 29-50" stroke="#92006d"/><path d="M2232 7000l11-50 13-50 13-50 14-50 16-50 15-50 17-50 16-50 16-50 17-50 17-50 17-50 17-50 17-50 18-50 18-50 18-50 19-50 19-50 19-50 20-50 20-50 21-50 21-50 21-50 23-50 22-50 23-50 24-50 25-50 25-50 25-50 26-50 27-50 28-50 28-50 29-50 29-50 30-50 31-50 32-50 32-50 32-50 33-50 34-50 34-50 34-50 35-50 35-50 36-50 36-50 36-50 37-50 36-50 38-50 37-50 38-50 37-50 38-50 39-50 38-50 39-50 39-50 39-50 40-50 40-50 40-50 40-50 41-50 41-50 41-50 41-50 42-50 41-50 42-50 43-50 42-50 42-50 43-50 42-50 43-50 43-50 42-50 43-50 42-50 42-50 42-50 41-50 42-50 41-50 41-50 40-50 41-50 40-50 39-50 40-50 39-50 38-50 39-50 38-50 38-50 38-50 37-50 37-50 37-50 37-50 36-50 36-50 36-50 36-50 35-50 35-50 34-50 34-50 34-50 33-50 33-50 33-50 32-50 31-50 31-50 31-50 30-50 29-50" stroke="#90006f"/><path d="M2233 7000l11-50 13-50 13-50 15-50 15-50 16-50 16-50 16-50 17-50 17-50 16-50 17-50 18-50 17-50 18-50 18-50 18-50 19-50 19-50 19-50 20-50 20-50 21-50 21-50 22-50 22-50 23-50 23-50 24-50 24-50 25-50 26-50 26-50 27-50 28-50 28-50 29-50 29-50 31-50 30-50 32-50 32-50 32-50 34-50 33-50 34-50 35-50 35-50 35-50 36-50 36-50 36-50 37-50 37-50 37-50 37-50 38-50 38-50 38-50 38-50 39-50 39-50 39-50 39-50 40-50 40-50 40-50 41-50 40-50 41-50 41-50 42-50 41-50 42-50 42-50 43-50 42-50 43-50 42-50 43-50 42-50 43-50 43-50 42-50 43-50 42-50 42-50 41-50 42-50 41-50 41-50 40-50 41-50 40-50 39-50 40-50 39-50 39-50 38-50 38-50 38-50 38-50 37-50 38-50 37-50 36-50 37-50 36-50 35-50 36-50 35-50 35-50 34-50 35-50 33-50 34-50 33-50 32-50 32-50 32-50 31-50 30-50 30-50 30-50" stroke="#8f0070"/><path d="M2235 7000l11-50 13-50 13-50 15-50 15-50 16-50 16-50 16-50 17-50 17-50 17-50 17-50 17-50 17-50 18-50 18-50 19-50 18-50 19-50 20-50 20-50 20-50 21-50 21-50 22-50 22-50 23-50 23-50 24-50 25-50 25-50 26-50 26-50 27-50 28-50 28-50 29-50 30-50 30-50 31-50 32-50 32-50 32-50 33-50 34-50 34-50 35-50 35-50 35-50 36-50 36-50 37-50 36-50 38-50 37-50 37-50 38-50 38-50 38-50 39-50 39-50 39-50 39-50 39-50 40-50 40-50 40-50 41-50 41-50 41-50 41-50 42-50 41-50 42-50 42-50 43-50 42-50 43-50 43-50 42-50 43-50 43-50 43-50 42-50 43-50 42-50 42-50 42-50 41-50 41-50 41-50 41-50 40-50 40-50 40-50 40-50 39-50 39-50 38-50 38-50 38-50 38-50 37-50 38-50 37-50 36-50 37-50 36-50 36-50 35-50 35-50 35-50 35-50 34-50 34-50 33-50 33-50 32-50 32-50 32-50 31-50 31-50 30-50 29-50" stroke="#8d0072"/><path d="M2247 7000l11-50 13-50 14-50 14-50 16-50 16-50 17-50 16-50 17-50 17-50 17-50 18-50 17-50 18-50 19-50 18-50 19-50 19-50 19-50 20-50 21-50 21-50 21-50 22-50 22-50 23-50 23-50 24-50 24-50 25-50 26-50 26-50 27-50 28-50 28-50 29-50 30-50 30-50 31-50 31-50 32-50 33-50 33-50 34-50 34-50 35-50 35-50 36-50 36-50 36-50 37-50 37-50 37-50 38-50 38-50 38-50 38-50 39-50 39-50 39-50 39-50 40-50 40-50 40-50 40-50 41-50 41-50 41-50 42-50 41-50 42-50 43-50 42-50 43-50 42-50 43-50 44-50 43-50 43-50 44-50 43-50 43-50 44-50 43-50 43-50 42-50 43-50 42-50 42-50 42-50 41-50 41-50 41-50 40-50 40-50 40-50 39-50 39-50 39-50 38-50 38-50 38-50 38-50 37-50 37-50 37-50 36-50 37-50 35-50 36-50 35-50 35-50 35-50 34-50 34-50 33-50 33-50 33-50 32-50 32-50 31-50 31-50 30-50 30-50" stroke="#8b0074"/><path d="M2253 7000l11-50 13-50 14-50 14-50 16-50 16-50 17-50 17-50 17-50 17-50 17-50 18-50 18-50 18-50 18-50 19-50 19-50 19-50 20-50 20-50 20-50 21-50 22-50 22-50 22-50 24-50 23-50 24-50 25-50 25-50 26-50 27-50 27-50 28-50 28-50 29-50 30-50 31-50 31-50 31-50 33-50 33-50 33-50 34-50 35-50 35-50 35-50 36-50 36-50 37-50 37-50 37-50 38-50 38-50 38-50 38-50 39-50 39-50 39-50 39-50 40-50 40-50 40-50 41-50 40-50 41-50 42-50 41-50 42-50 42-50 42-50 43-50 42-50 43-50 43-50 44-50 43-50 44-50 43-50 44-50 44-50 43-50 44-50 43-50 43-50 43-50 43-50 42-50 42-50 42-50 42-50 41-50 41-50 40-50 40-50 40-50 39-50 40-50 38-50 39-50 38-50 38-50 38-50 37-50 37-50 37-50 37-50 36-50 36-50 35-50 36-50 35-50 34-50 35-50 33-50 34-50 33-50 33-50 32-50 32-50 31-50 31-50 30-50 30-50" stroke="#8a0075"/><path d="M2265 7000l11-50 13-50 14-50 15-50 16-50 17-50 17-50 17-50 17-50 18-50 17-50 18-50 18-50 19-50 18-50 20-50 19-50 20-50 20-50 20-50 22-50 21-50 22-50 22-50 23-50 24-50 24-50 25-50 25-50 26-50 26-50 27-50 28-50 28-50 29-50 30-50 30-50 32-50 31-50 32-50 33-50 34-50 34-50 34-50 35-50 36-50 36-50 36-50 37-50 37-50 38-50 38-50 38-50 38-50 39-50 39-50 40-50 39-50 40-50 40-50 40-50 41-50 41-50 41-50 41-50 42-50 42-50 42-50 42-50 43-50 43-50 43-50 43-50 44-50 44-50 44-50 44-50 44-50 44-50 44-50 44-50 45-50 44-50 44-50 43-50 44-50 43-50 43-50 42-50 42-50 42-50 42-50 41-50 41-50 40-50 40-50 40-50 39-50 39-50 38-50 39-50 38-50 38-50 37-50 37-50 37-50 37-50 36-50 36-50 36-50 35-50 36-50 34-50 35-50 34-50 33-50 33-50 33-50 32-50 32-50 32-50 31-50 30-50 30-50" stroke="#880077"/><path d="M2270 7000l12-50 13-50 14-50 15-50 16-50 17-50 17-50 17-50 18-50 17-50 18-50 18-50 18-50 19-50 19-50 19-50 20-50 20-50 20-50 21-50 21-50 22-50 22-50 22-50 24-50 23-50 25-50 25-50 25-50 26-50 27-50 27-50 28-50 29-50 29-50 30-50 30-50 32-50 31-50 33-50 33-50 34-50 34-50 35-50 35-50 36-50 36-50 37-50 37-50 37-50 38-50 38-50 38-50 39-50 39-50 39-50 40-50 40-50 40-50 40-50 41-50 40-50 42-50 41-50 42-50 41-50 43-50 42-50 43-50 43-50 43-50 43-50 44-50 44-50 44-50 44-50 44-50 44-50 45-50 44-50 45-50 44-50 45-50 44-50 43-50 44-50 43-50 43-50 43-50 42-50 42-50 42-50 41-50 41-50 41-50 40-50 39-50 40-50 39-50 38-50 39-50 38-50 38-50 37-50 38-50 37-50 36-50 37-50 36-50 36-50 35-50 35-50 35-50 34-50 34-50 34-50 33-50 33-50 32-50 32-50 32-50 31-50 30-50 30-50" stroke="#860079"/><path d="M2272 7000l11-50 13-50 15-50 15-50 16-50 16-50 17-50 17-50 18-50 18-50 17-50 18-50 19-50 18-50 19-50 19-50 20-50 20-50 20-50 21-50 21-50 22-50 22-50 23-50 23-50 24-50 24-50 25-50 26-50 26-50 26-50 28-50 28-50 28-50 29-50 30-50 31-50 31-50 32-50 33-50 33-50 33-50 35-50 34-50 36-50 35-50 37-50 36-50 37-50 38-50 37-50 38-50 39-50 39-50 39-50 39-50 39-50 40-50 40-50 41-50 40-50 41-50 41-50 41-50 42-50 42-50 42-50 42-50 43-50 43-50 43-50 43-50 44-50 44-50 44-50 44-50 44-50 45-50 44-50 45-50 44-50 44-50 45-50 44-50 44-50 43-50 44-50 43-50 42-50 43-50 41-50 42-50 41-50 41-50 41-50 40-50 39-50 40-50 39-50 39-50 38-50 38-50 38-50 37-50 38-50 37-50 36-50 37-50 36-50 36-50 35-50 35-50 35-50 34-50 34-50 34-50 33-50 33-50 32-50 32-50 32-50 31-50 30-50 30-50" stroke="#85007a"/><path d="M2283 7000l12-50 13-50 14-50 15-50 17-50 16-50 18-50 17-50 18-50 18-50 18-50 18-50 19-50 18-50 20-50 19-50 20-50 20-50 21-50 21-50 22-50 22-50 23-50 23-50 23-50 24-50 25-50 26-50 25-50 27-50 27-50 28-50 28-50 29-50 30-50 30-50 31-50 32-50 32-50 33-50 34-50 34-50 34-50 36-50 35-50 36-50 37-50 37-50 38-50 37-50 39-50 38-50 39-50 39-50 40-50 39-50 40-50 41-50 40-50 41-50 41-50 41-50 42-50 42-50 42-50 42-50 43-50 43-50 43-50 43-50 44-50 44-50 44-50 44-50 45-50 44-50 45-50 45-50 45-50 45-50 45-50 44-50 45-50 45-50 44-50 44-50 43-50 44-50 43-50 42-50 43-50 41-50 42-50 41-50 40-50 41-50 40-50 39-50 39-50 39-50 39-50 38-50 38-50 38-50 37-50 37-50 37-50 36-50 36-50 36-50 36-50 35-50 35-50 34-50 34-50 34-50 33-50 33-50 33-50 32-50 31-50 31-50 31-50 30-50" stroke="#83007c"/><path d="M2301 7000l12-50 14-50 15-50 15-50 17-50 17-50 17-50 18-50 18-50 19-50 18-50 19-50 19-50 19-50 20-50 20-50 21-50 21-50 21-50 22-50 22-50 23-50 23-50 24-50 24-50 25-50 25-50 26-50 27-50 27-50 28-50 29-50 29-50 30-50 30-50 31-50 32-50 32-50 33-50 34-50 34-50 35-50 36-50 35-50 37-50 37-50 37-50 38-50 38-50 39-50 39-50 39-50 40-50 40-50 40-50 40-50 41-50 41-50 42-50 41-50 42-50 42-50 43-50 42-50 43-50 44-50 43-50 44-50 44-50 44-50 45-50 44-50 45-50 46-50 45-50 45-50 46-50 46-50 45-50 46-50 46-50 45-50 46-50 45-50 45-50 44-50 44-50 44-50 44-50 43-50 43-50 42-50 42-50 41-50 41-50 41-50 40-50 40-50 39-50 39-50 39-50 38-50 38-50 38-50 38-50 37-50 37-50 36-50 37-50 36-50 35-50 36-50 35-50 34-50 34-50 34-50 34-50 33-50 32-50 32-50 32-50 31-50 31-50 30-50" stroke="#81007e"/><path d="M2313 7000l12-50 13-50 15-50 16-50 17-50 17-50 18-50 18-50 18-50 18-50 19-50 19-50 20-50 19-50 20-50 21-50 20-50 22-50 21-50 22-50 23-50 23-50 23-50 25-50 24-50 25-50 26-50 27-50 27-50 27-50 28-50 29-50 30-50 30-50 30-50 32-50 32-50 33-50 33-50 34-50 35-50 35-50 36-50 36-50 37-50 37-50 38-50 38-50 38-50 39-50 40-50 39-50 40-50 41-50 40-50 41-50 41-50 42-50 41-50 42-50 42-50 43-50 43-50 43-50 43-50 44-50 44-50 44-50 44-50 45-50 45-50 45-50 45-50 46-50 45-50 46-50 46-50 46-50 46-50 46-50 46-50 46-50 45-50 46-50 45-50 45-50 44-50 45-50 43-50 44-50 42-50 43-50 42-50 42-50 41-50 40-50 41-50 40-50 39-50 39-50 39-50 39-50 38-50 38-50 37-50 37-50 37-50 37-50 36-50 36-50 36-50 35-50 35-50 35-50 34-50 34-50 34-50 33-50 32-50 33-50 31-50 32-50 31-50 30-50" stroke="#80007f"/><path d="M2321 7000l13-50 13-50 15-50 16-50 17-50 17-50 18-50 18-50 18-50 19-50 19-50 19-50 19-50 20-50 20-50 21-50 21-50 21-50 22-50 22-50 23-50 23-50 24-50 24-50 25-50 25-50 26-50 27-50 27-50 27-50 29-50 29-50 29-50 31-50 31-50 31-50 32-50 33-50 34-50 34-50 35-50 35-50 36-50 36-50 37-50 38-50 37-50 39-50 38-50 39-50 40-50 40-50 40-50 40-50 41-50 41-50 41-50 42-50 42-50 42-50 42-50 43-50 43-50 43-50 43-50 44-50 44-50 44-50 45-50 45-50 44-50 46-50 45-50 46-50 46-50 45-50 46-50 47-50 46-50 46-50 46-50 46-50 45-50 46-50 45-50 45-50 45-50 44-50 44-50 43-50 43-50 42-50 43-50 41-50 41-50 41-50 40-50 40-50 40-50 39-50 39-50 39-50 38-50 38-50 37-50 38-50 37-50 36-50 37-50 36-50 35-50 36-50 35-50 34-50 35-50 34-50 33-50 33-50 33-50 32-50 32-50 31-50 31-50 31-50" stroke="#7e0081"/><path d="M2339 7000l13-50 14-50 15-50 16-50 17-50 17-50 18-50 19-50 18-50 19-50 20-50 19-50 20-50 20-50 21-50 20-50 22-50 22-50 22-50 23-50 23-50 23-50 25-50 24-50 26-50 26-50 26-50 27-50 28-50 28-50 29-50 30-50 30-50 31-50 31-50 32-50 33-50 33-50 34-50 35-50 35-50 36-50 37-50 36-50 38-50 38-50 38-50 39-50 39-50 40-50 39-50 41-50 40-50 41-50 42-50 41-50 42-50 42-50 42-50 43-50 43-50 43-50 44-50 43-50 44-50 45-50 44-50 45-50 45-50 45-50 46-50 46-50 46-50 46-50 46-50 47-50 46-50 47-50 46-50 47-50 46-50 47-50 46-50 46-50 46-50 45-50 45-50 44-50 44-50 44-50 43-50 43-50 42-50 42-50 42-50 41-50 40-50 40-50 40-50 39-50 39-50 39-50 38-50 38-50 38-50 37-50 38-50 36-50 37-50 36-50 36-50 35-50 35-50 35-50 34-50 34-50 34-50 33-50 33-50 32-50 32-50 32-50 31-50 30-50" stroke="#7c0083"/><path d="M2358 7000l13-50 14-50 15-50 16-50 18-50 17-50 19-50 18-50 19-50 20-50 19-50 20-50 20-50 21-50 21-50 21-50 22-50 22-50 23-50 23-50 23-50 25-50 24-50 26-50 25-50 27-50 27-50 27-50 29-50 28-50 30-50 30-50 31-50 31-50 32-50 32-50 34-50 34-50 34-50 35-50 36-50 37-50 36-50 38-50 38-50 38-50 39-50 39-50 40-50 40-50 40-50 41-50 41-50 41-50 42-50 42-50 42-50 43-50 43-50 43-50 43-50 44-50 44-50 44-50 45-50 45-50 45-50 45-50 46-50 46-50 46-50 46-50 46-50 47-50 47-50 47-50 47-50 47-50 47-50 47-50 47-50 47-50 46-50 47-50 46-50 45-50 45-50 45-50 45-50 44-50 43-50 43-50 43-50 42-50 41-50 42-50 40-50 40-50 40-50 40-50 39-50 39-50 38-50 38-50 38-50 38-50 37-50 37-50 36-50 36-50 36-50 36-50 35-50 35-50 34-50 35-50 33-50 34-50 32-50 33-50 32-50 31-50 32-50 30-50" stroke="#7a0085"/><path d="M2377 7000l13-50 14-50 15-50 17-50 17-50 18-50 19-50 19-50 19-50 19-50 20-50 20-50 21-50 21-50 21-50 22-50 22-50 22-50 23-50 24-50 24-50 25-50 25-50 26-50 26-50 27-50 27-50 28-50 29-50 29-50 30-50 31-50 31-50 31-50 33-50 33-50 34-50 34-50 35-50 36-50 36-50 36-50 38-50 38-50 38-50 39-50 39-50 39-50 40-50 41-50 41-50 41-50 41-50 42-50 42-50 43-50 42-50 43-50 44-50 43-50 44-50 44-50 45-50 45-50 44-50 46-50 45-50 46-50 46-50 46-50 47-50 46-50 47-50 47-50 47-50 48-50 47-50 48-50 47-50 47-50 48-50 47-50 47-50 46-50 47-50 45-50 46-50 45-50 45-50 44-50 44-50 43-50 43-50 42-50 42-50 41-50 41-50 40-50 40-50 40-50 39-50 39-50 38-50 39-50 37-50 38-50 37-50 37-50 37-50 36-50 36-50 36-50 35-50 35-50 35-50 34-50 33-50 34-50 33-50 32-50 33-50 31-50 31-50 31-50" stroke="#790086"/><path d="M2399 7000l13-50 14-50 16-50 16-50 18-50 18-50 19-50 19-50 19-50 20-50 20-50 21-50 21-50 21-50 22-50 22-50 22-50 24-50 23-50 24-50 25-50 25-50 26-50 26-50 27-50 27-50 28-50 29-50 29-50 30-50 30-50 31-50 32-50 32-50 33-50 34-50 34-50 35-50 35-50 36-50 37-50 37-50 38-50 38-50 39-50 39-50 40-50 40-50 40-50 41-50 42-50 41-50 42-50 43-50 42-50 43-50 43-50 44-50 44-50 44-50 44-50 45-50 45-50 45-50 45-50 46-50 46-50 46-50 47-50 47-50 47-50 47-50 47-50 48-50 47-50 48-50 48-50 48-50 48-50 47-50 48-50 48-50 47-50 47-50 47-50 46-50 46-50 45-50 45-50 44-50 44-50 44-50 43-50 42-50 42-50 42-50 41-50 40-50 40-50 40-50 39-50 39-50 39-50 38-50 38-50 38-50 38-50 37-50 36-50 37-50 36-50 35-50 36-50 35-50 34-50 35-50 34-50 33-50 33-50 33-50 32-50 32-50 31-50 31-50" stroke="#770088"/><path d="M2417 7000l14-50 14-50 16-50 16-50 18-50 18-50 19-50 20-50 19-50 21-50 20-50 21-50 21-50 21-50 22-50 23-50 23-50 23-50 24-50 24-50 25-50 26-50 26-50 26-50 28-50 27-50 29-50 29-50 29-50 30-50 31-50 32-50 32-50 32-50 34-50 34-50 34-50 35-50 36-50 37-50 37-50 37-50 38-50 39-50 39-50 39-50 40-50 41-50 40-50 42-50 41-50 42-50 42-50 43-50 43-50 43-50 44-50 43-50 44-50 45-50 45-50 45-50 45-50 45-50 46-50 46-50 46-50 47-50 47-50 47-50 47-50 47-50 48-50 48-50 48-50 48-50 48-50 48-50 48-50 48-50 48-50 47-50 48-50 47-50 47-50 46-50 46-50 46-50 45-50 45-50 44-50 43-50 43-50 43-50 42-50 41-50 41-50 41-50 40-50 40-50 40-50 39-50 38-50 39-50 38-50 38-50 37-50 37-50 37-50 36-50 37-50 35-50 36-50 35-50 35-50 34-50 34-50 33-50 34-50 32-50 33-50 31-50 32-50 31-50" stroke="#75008a"/><path d="M2438 7000l14-50 14-50 16-50 17-50 18-50 18-50 19-50 20-50 20-50 20-50 21-50 21-50 22-50 21-50 23-50 23-50 23-50 24-50 24-50 25-50 25-50 26-50 26-50 27-50 28-50 28-50 29-50 29-50 30-50 31-50 31-50 32-50 32-50 34-50 33-50 35-50 35-50 35-50 36-50 37-50 37-50 38-50 39-50 39-50 39-50 40-50 40-50 41-50 41-50 41-50 42-50 43-50 42-50 43-50 43-50 44-50 44-50 44-50 44-50 45-50 45-50 45-50 46-50 46-50 46-50 46-50 47-50 47-50 47-50 47-50 48-50 48-50 48-50 48-50 48-50 48-50 48-50 49-50 48-50 48-50 49-50 47-50 48-50 48-50 47-50 46-50 46-50 46-50 45-50 45-50 44-50 44-50 43-50 43-50 42-50 42-50 41-50 41-50 40-50 40-50 40-50 39-50 39-50 38-50 38-50 38-50 38-50 37-50 37-50 36-50 36-50 36-50 36-50 35-50 35-50 34-50 34-50 34-50 33-50 33-50 32-50 32-50 32-50 31-50" stroke="#74008b"/><path d="M2461 7000l14-50 14-50 16-50 17-50 18-50 19-50 19-50 20-50 21-50 20-50 21-50 21-50 22-50 22-50 23-50 23-50 24-50 24-50 25-50 25-50 26-50 26-50 27-50 28-50 28-50 28-50 30-50 29-50 31-50 31-50 32-50 32-50 33-50 33-50 35-50 34-50 36-50 36-50 36-50 38-50 37-50 39-50 38-50 40-50 39-50 41-50 40-50 41-50 42-50 42-50 42-50 43-50 43-50 43-50 44-50 44-50 44-50 44-50 45-50 45-50 46-50 45-50 46-50 47-50 46-50 47-50 47-50 47-50 48-50 47-50 48-50 48-50 49-50 48-50 49-50 48-50 49-50 48-50 49-50 49-50 48-50 48-50 48-50 48-50 47-50 47-50 46-50 46-50 46-50 45-50 44-50 44-50 43-50 43-50 42-50 42-50 42-50 40-50 41-50 40-50 40-50 39-50 39-50 38-50 39-50 37-50 38-50 37-50 37-50 37-50 36-50 36-50 36-50 35-50 35-50 34-50 34-50 34-50 33-50 33-50 33-50 32-50 32-50 31-50" stroke="#72008d"/><path d="M2491 7000l13-50 15-50 17-50 17-50 18-50 19-50 20-50 20-50 21-50 21-50 21-50 22-50 23-50 22-50 24-50 23-50 25-50 25-50 25-50 26-50 26-50 27-50 28-50 28-50 29-50 29-50 30-50 31-50 31-50 32-50 32-50 33-50 34-50 34-50 35-50 36-50 36-50 36-50 38-50 38-50 38-50 39-50 39-50 40-50 41-50 41-50 41-50 42-50 42-50 42-50 43-50 44-50 43-50 44-50 44-50 45-50 45-50 45-50 46-50 46-50 46-50 46-50 47-50 47-50 47-50 47-50 48-50 48-50 48-50 49-50 48-50 49-50 49-50 49-50 49-50 49-50 50-50 49-50 49-50 49-50 49-50 49-50 48-50 49-50 47-50 48-50 46-50 47-50 46-50 45-50 45-50 44-50 44-50 43-50 42-50 42-50 42-50 41-50 41-50 40-50 40-50 39-50 39-50 39-50 38-50 38-50 38-50 37-50 37-50 37-50 37-50 36-50 35-50 36-50 35-50 34-50 35-50 33-50 34-50 33-50 33-50 32-50 32-50 31-50" stroke="#70008f"/><path d="M2503 7000l13-50 15-50 17-50 17-50 18-50 19-50 20-50 20-50 20-50 21-50 22-50 22-50 22-50 23-50 23-50 24-50 24-50 25-50 25-50 26-50 26-50 27-50 28-50 28-50 29-50 29-50 30-50 31-50 31-50 31-50 33-50 33-50 33-50 34-50 35-50 36-50 36-50 36-50 37-50 38-50 38-50 39-50 39-50 40-50 40-50 41-50 41-50 41-50 42-50 43-50 42-50 43-50 44-50 44-50 44-50 44-50 45-50 44-50 46-50 45-50 46-50 46-50 47-50 46-50 47-50 47-50 48-50 47-50 48-50 48-50 48-50 49-50 48-50 49-50 49-50 49-50 49-50 48-50 49-50 49-50 49-50 48-50 48-50 48-50 47-50 48-50 46-50 46-50 46-50 45-50 44-50 44-50 44-50 43-50 42-50 42-50 42-50 41-50 40-50 40-50 40-50 40-50 39-50 38-50 39-50 38-50 37-50 38-50 37-50 36-50 37-50 36-50 35-50 36-50 35-50 34-50 35-50 33-50 34-50 33-50 33-50 32-50 32-50 31-50" stroke="#6f0090"/><path d="M2537 7000l14-50 15-50 17-50 17-50 19-50 19-50 20-50 21-50 21-50 22-50 22-50 22-50 23-50 23-50 24-50 25-50 25-50 25-50 26-50 27-50 27-50 28-50 29-50 29-50 29-50 30-50 31-50 32-50 32-50 32-50 33-50 34-50 35-50 35-50 35-50 37-50 37-50 37-50 38-50 38-50 40-50 39-50 40-50 41-50 41-50 41-50 42-50 42-50 43-50 43-50 44-50 44-50 44-50 44-50 45-50 45-50 46-50 46-50 46-50 46-50 47-50 47-50 47-50 47-50 48-50 48-50 48-50 49-50 49-50 49-50 49-50 49-50 49-50 50-50 49-50 50-50 50-50 49-50 50-50 49-50 50-50 49-50 49-50 48-50 48-50 48-50 47-50 46-50 47-50 45-50 45-50 44-50 44-50 44-50 42-50 43-50 41-50 42-50 40-50 41-50 40-50 39-50 40-50 38-50 39-50 38-50 38-50 38-50 37-50 37-50 36-50 36-50 36-50 36-50 35-50 35-50 34-50 34-50 34-50 33-50 33-50 32-50 32-50 32-50" stroke="#6d0092"/><path d="M2565 7000l14-50 15-50 16-50 18-50 19-50 20-50 20-50 21-50 21-50 22-50 22-50 23-50 24-50 23-50 25-50 25-50 25-50 26-50 27-50 27-50 28-50 28-50 29-50 30-50 30-50 30-50 32-50 32-50 32-50 34-50 33-50 35-50 35-50 35-50 36-50 37-50 38-50 37-50 39-50 39-50 39-50 40-50 41-50 41-50 41-50 42-50 43-50 42-50 44-50 43-50 44-50 44-50 45-50 45-50 45-50 46-50 46-50 46-50 46-50 47-50 47-50 48-50 47-50 48-50 49-50 48-50 49-50 49-50 49-50 49-50 49-50 50-50 50-50 50-50 50-50 50-50 50-50 50-50 50-50 50-50 49-50 50-50 49-50 48-50 49-50 48-50 47-50 47-50 46-50 46-50 45-50 45-50 44-50 43-50 43-50 42-50 42-50 42-50 41-50 40-50 40-50 40-50 39-50 39-50 39-50 38-50 38-50 38-50 37-50 37-50 36-50 37-50 36-50 35-50 35-50 35-50 35-50 34-50 34-50 33-50 33-50 33-50 32-50 32-50" stroke="#6b0094"/><path d="M2586 7000l14-50 15-50 17-50 18-50 19-50 19-50 21-50 21-50 21-50 22-50 23-50 23-50 23-50 24-50 25-50 25-50 26-50 26-50 27-50 27-50 28-50 29-50 29-50 30-50 30-50 31-50 32-50 32-50 33-50 34-50 34-50 34-50 36-50 35-50 37-50 37-50 37-50 38-50 39-50 39-50 40-50 40-50 41-50 41-50 41-50 42-50 43-50 43-50 43-50 44-50 44-50 44-50 45-50 45-50 45-50 46-50 46-50 46-50 47-50 47-50 47-50 47-50 48-50 48-50 48-50 49-50 49-50 49-50 49-50 49-50 50-50 49-50 50-50 50-50 50-50 50-50 50-50 50-50 50-50 50-50 49-50 50-50 49-50 48-50 49-50 48-50 47-50 47-50 46-50 46-50 45-50 45-50 44-50 43-50 43-50 42-50 42-50 42-50 41-50 40-50 40-50 40-50 39-50 39-50 39-50 38-50 38-50 38-50 37-50 37-50 37-50 36-50 36-50 36-50 35-50 35-50 35-50 34-50 34-50 33-50 33-50 33-50 32-50 32-50" stroke="#690096"/><path d="M2620 7000l15-50 15-50 17-50 18-50 20-50 20-50 21-50 21-50 22-50 22-50 23-50 24-50 24-50 25-50 25-50 26-50 26-50 27-50 28-50 28-50 29-50 29-50 30-50 31-50 31-50 32-50 32-50 33-50 34-50 34-50 35-50 36-50 36-50 36-50 37-50 38-50 39-50 38-50 40-50 40-50 40-50 41-50 42-50 41-50 43-50 42-50 44-50 43-50 44-50 44-50 45-50 45-50 46-50 45-50 47-50 46-50 47-50 47-50 47-50 48-50 48-50 48-50 49-50 48-50 49-50 50-50 49-50 50-50 50-50 50-50 50-50 51-50 50-50 51-50 50-50 51-50 51-50 51-50 50-50 51-50 50-50 50-50 49-50 50-50 48-50 49-50 47-50 48-50 46-50 47-50 45-50 45-50 44-50 44-50 43-50 43-50 42-50 42-50 41-50 41-50 40-50 40-50 40-50 39-50 39-50 38-50 38-50 38-50 37-50 38-50 36-50 37-50 36-50 36-50 35-50 35-50 35-50 34-50 34-50 34-50 33-50 33-50 32-50 32-50" stroke="#680097"/><path d="M2644 7000l15-50 15-50 17-50 19-50 19-50 20-50 21-50 22-50 22-50 23-50 23-50 24-50 24-50 25-50 25-50 27-50 26-50 28-50 27-50 29-50 29-50 30-50 30-50 31-50 32-50 32-50 33-50 33-50 34-50 35-50 35-50 36-50 36-50 37-50 37-50 39-50 38-50 39-50 40-50 40-50 41-50 41-50 42-50 42-50 42-50 43-50 43-50 44-50 44-50 45-50 45-50 45-50 46-50 46-50 46-50 47-50 46-50 48-50 47-50 48-50 48-50 49-50 48-50 49-50 49-50 50-50 49-50 50-50 50-50 51-50 50-50 51-50 50-50 51-50 51-50 50-50 51-50 51-50 51-50 50-50 50-50 50-50 50-50 49-50 49-50 48-50 48-50 48-50 46-50 46-50 46-50 45-50 44-50 44-50 44-50 42-50 43-50 41-50 41-50 41-50 41-50 40-50 39-50 39-50 39-50 39-50 38-50 38-50 37-50 37-50 37-50 37-50 36-50 36-50 35-50 35-50 35-50 35-50 34-50 33-50 34-50 32-50 33-50 32-50" stroke="#660099"/><path d="M2678 7000l15-50 16-50 17-50 19-50 19-50 21-50 21-50 22-50 23-50 23-50 24-50 24-50 25-50 25-50 27-50 26-50 28-50 28-50 28-50 29-50 30-50 31-50 31-50 31-50 33-50 33-50 33-50 35-50 34-50 36-50 36-50 36-50 37-50 38-50 38-50 39-50 39-50 40-50 41-50 41-50 41-50 42-50 42-50 43-50 43-50 44-50 44-50 44-50 45-50 45-50 46-50 46-50 46-50 46-50 47-50 48-50 47-50 48-50 48-50 49-50 49-50 49-50 49-50 50-50 50-50 50-50 50-50 51-50 50-50 51-50 51-50 52-50 51-50 51-50 52-50 51-50 51-50 52-50 51-50 51-50 51-50 50-50 50-50 50-50 49-50 49-50 48-50 48-50 47-50 47-50 46-50 45-50 45-50 44-50 43-50 43-50 43-50 42-50 41-50 41-50 41-50 40-50 40-50 39-50 39-50 39-50 38-50 38-50 37-50 38-50 37-50 36-50 37-50 36-50 35-50 35-50 35-50 35-50 34-50 34-50 33-50 34-50 32-50 33-50" stroke="#64009b"/><path d="M2702 7000l15-50 16-50 17-50 19-50 20-50 20-50 22-50 22-50 23-50 23-50 24-50 25-50 25-50 26-50 26-50 27-50 28-50 28-50 29-50 29-50 31-50 30-50 32-50 32-50 33-50 33-50 34-50 34-50 35-50 36-50 36-50 37-50 38-50 38-50 38-50 39-50 40-50 40-50 41-50 41-50 41-50 42-50 43-50 43-50 43-50 44-50 44-50 45-50 45-50 45-50 46-50 46-50 46-50 47-50 47-50 48-50 47-50 49-50 48-50 49-50 49-50 49-50 49-50 50-50 50-50 50-50 51-50 50-50 51-50 51-50 51-50 52-50 51-50 51-50 52-50 51-50 52-50 51-50 51-50 51-50 51-50 51-50 50-50 50-50 49-50 49-50 48-50 48-50 47-50 47-50 45-50 46-50 45-50 44-50 43-50 43-50 43-50 42-50 41-50 41-50 41-50 40-50 40-50 39-50 39-50 39-50 38-50 38-50 38-50 37-50 37-50 37-50 36-50 36-50 36-50 35-50 35-50 35-50 34-50 34-50 34-50 33-50 33-50 32-50" stroke="#62009d"/><path d="M2734 7000l14-50 17-50 17-50 19-50 20-50 21-50 22-50 22-50 23-50 24-50 24-50 25-50 26-50 26-50 27-50 28-50 28-50 29-50 29-50 30-50 31-50 32-50 32-50 32-50 34-50 33-50 35-50 35-50 36-50 36-50 37-50 38-50 38-50 38-50 40-50 39-50 40-50 41-50 41-50 42-50 42-50 43-50 43-50 43-50 44-50 44-50 45-50 45-50 46-50 45-50 47-50 46-50 47-50 47-50 48-50 48-50 48-50 49-50 49-50 49-50 49-50 50-50 50-50 50-50 51-50 51-50 51-50 51-50 51-50 52-50 51-50 52-50 52-50 52-50 52-50 52-50 51-50 52-50 52-50 51-50 51-50 51-50 51-50 50-50 49-50 50-50 48-50 48-50 47-50 47-50 46-50 46-50 45-50 44-50 44-50 43-50 43-50 42-50 42-50 41-50 41-50 40-50 40-50 39-50 39-50 39-50 39-50 38-50 38-50 37-50 37-50 37-50 36-50 37-50 35-50 36-50 35-50 35-50 34-50 34-50 34-50 33-50 33-50 33-50" stroke="#61009e"/><path d="M2764 7000l15-50 16-50 18-50 19-50 20-50 21-50 22-50 23-50 24-50 24-50 24-50 26-50 26-50 26-50 28-50 28-50 29-50 29-50 30-50 31-50 31-50 32-50 32-50 34-50 34-50 34-50 35-50 36-50 36-50 37-50 38-50 38-50 38-50 40-50 39-50 41-50 40-50 41-50 42-50 42-50 43-50 43-50 43-50 44-50 45-50 44-50 46-50 45-50 46-50 46-50 47-50 47-50 47-50 48-50 48-50 48-50 49-50 49-50 50-50 49-50 50-50 50-50 51-50 51-50 50-50 52-50 51-50 52-50 51-50 52-50 52-50 52-50 53-50 52-50 52-50 53-50 52-50 52-50 52-50 51-50 52-50 51-50 51-50 50-50 50-50 50-50 48-50 49-50 47-50 47-50 46-50 46-50 45-50 45-50 44-50 43-50 43-50 42-50 42-50 41-50 41-50 41-50 40-50 39-50 39-50 39-50 39-50 38-50 38-50 38-50 37-50 37-50 36-50 36-50 36-50 36-50 35-50 35-50 34-50 35-50 33-50 34-50 33-50 33-50" stroke="#5f00a0"/><path d="M2788 7000l15-50 17-50 17-50 20-50 20-50 21-50 22-50 23-50 24-50 24-50 25-50 26-50 26-50 27-50 28-50 28-50 29-50 30-50 30-50 31-50 31-50 33-50 33-50 33-50 35-50 34-50 36-50 36-50 37-50 37-50 38-50 38-50 39-50 39-50 40-50 41-50 41-50 41-50 42-50 43-50 42-50 44-50 43-50 45-50 44-50 45-50 45-50 46-50 46-50 46-50 47-50 47-50 48-50 48-50 48-50 49-50 48-50 50-50 49-50 50-50 50-50 50-50 51-50 51-50 51-50 51-50 52-50 51-50 52-50 52-50 52-50 52-50 53-50 52-50 52-50 53-50 52-50 52-50 52-50 52-50 51-50 52-50 50-50 51-50 50-50 49-50 49-50 48-50 48-50 47-50 46-50 46-50 45-50 44-50 44-50 44-50 43-50 42-50 42-50 41-50 41-50 40-50 41-50 39-50 40-50 39-50 38-50 38-50 38-50 38-50 37-50 37-50 37-50 36-50 36-50 36-50 35-50 35-50 34-50 34-50 34-50 34-50 33-50 33-50" stroke="#5d00a2"/><path d="M2811 7000l15-50 16-50 18-50 19-50 21-50 21-50 22-50 23-50 24-50 24-50 25-50 26-50 27-50 27-50 28-50 28-50 29-50 30-50 31-50 31-50 32-50 32-50 34-50 34-50 34-50 35-50 36-50 36-50 37-50 38-50 38-50 38-50 39-50 40-50 40-50 41-50 41-50 42-50 42-50 42-50 43-50 43-50 44-50 44-50 45-50 45-50 45-50 46-50 46-50 47-50 47-50 47-50 48-50 47-50 49-50 48-50 49-50 49-50 50-50 50-50 50-50 50-50 51-50 51-50 51-50 51-50 52-50 51-50 52-50 52-50 52-50 52-50 53-50 52-50 52-50 53-50 52-50 52-50 52-50 51-50 52-50 51-50 51-50 50-50 50-50 49-50 49-50 48-50 47-50 47-50 47-50 45-50 46-50 44-50 44-50 43-50 43-50 43-50 41-50 42-50 41-50 40-50 40-50 40-50 39-50 39-50 39-50 38-50 38-50 38-50 37-50 37-50 37-50 36-50 36-50 36-50 35-50 35-50 35-50 34-50 34-50 33-50 34-50 33-50" stroke="#5c00a3"/><path d="M2835 7000l15-50 17-50 18-50 19-50 20-50 22-50 22-50 23-50 24-50 25-50 25-50 26-50 27-50 27-50 29-50 28-50 30-50 30-50 31-50 31-50 33-50 33-50 33-50 34-50 35-50 36-50 36-50 36-50 37-50 38-50 39-50 39-50 39-50 40-50 40-50 41-50 42-50 42-50 42-50 43-50 43-50 43-50 44-50 45-50 45-50 45-50 45-50 46-50 47-50 46-50 47-50 48-50 48-50 48-50 48-50 49-50 49-50 49-50 50-50 50-50 50-50 51-50 50-50 51-50 52-50 51-50 52-50 51-50 52-50 53-50 52-50 52-50 52-50 53-50 52-50 52-50 53-50 52-50 52-50 51-50 52-50 51-50 51-50 50-50 50-50 49-50 49-50 48-50 48-50 47-50 46-50 46-50 45-50 44-50 44-50 44-50 43-50 42-50 42-50 41-50 41-50 41-50 40-50 40-50 39-50 39-50 39-50 38-50 38-50 38-50 37-50 37-50 37-50 36-50 36-50 36-50 36-50 35-50 34-50 35-50 34-50 33-50 34-50 33-50" stroke="#5a00a5"/><path d="M2874 7000l16-50 17-50 18-50 20-50 20-50 22-50 23-50 24-50 24-50 26-50 26-50 26-50 28-50 28-50 29-50 29-50 31-50 31-50 32-50 32-50 33-50 34-50 34-50 36-50 35-50 37-50 37-50 38-50 38-50 39-50 39-50 40-50 40-50 41-50 42-50 42-50 42-50 43-50 43-50 44-50 44-50 45-50 44-50 46-50 45-50 47-50 46-50 47-50 47-50 48-50 48-50 48-50 49-50 48-50 50-50 49-50 50-50 51-50 50-50 51-50 52-50 51-50 52-50 52-50 52-50 52-50 53-50 53-50 53-50 53-50 53-50 53-50 53-50 54-50 53-50 53-50 53-50 53-50 53-50 53-50 52-50 52-50 51-50 51-50 51-50 50-50 49-50 49-50 48-50 47-50 47-50 46-50 46-50 45-50 44-50 44-50 43-50 43-50 42-50 42-50 41-50 41-50 40-50 40-50 40-50 39-50 39-50 38-50 38-50 38-50 38-50 37-50 37-50 36-50 37-50 35-50 36-50 35-50 35-50 35-50 34-50 34-50 33-50 34-50" stroke="#5800a7"/><path d="M2893 7000l15-50 17-50 18-50 20-50 21-50 22-50 23-50 23-50 25-50 25-50 26-50 27-50 27-50 29-50 29-50 29-50 31-50 31-50 32-50 32-50 34-50 33-50 35-50 35-50 36-50 37-50 37-50 38-50 38-50 39-50 39-50 40-50 41-50 41-50 41-50 42-50 43-50 42-50 44-50 43-50 44-50 45-50 45-50 45-50 46-50 46-50 46-50 47-50 47-50 47-50 48-50 48-50 49-50 49-50 49-50 49-50 50-50 51-50 50-50 51-50 51-50 51-50 52-50 52-50 52-50 52-50 52-50 53-50 53-50 52-50 53-50 53-50 53-50 53-50 54-50 52-50 53-50 53-50 53-50 52-50 52-50 52-50 51-50 51-50 50-50 50-50 49-50 48-50 48-50 48-50 46-50 46-50 46-50 45-50 44-50 44-50 43-50 42-50 43-50 41-50 41-50 41-50 41-50 39-50 40-50 39-50 39-50 39-50 38-50 38-50 37-50 37-50 37-50 37-50 36-50 36-50 36-50 35-50 35-50 34-50 35-50 33-50 34-50 33-50" stroke="#5600a9"/><path d="M2915 7000l16-50 17-50 18-50 20-50 21-50 22-50 23-50 24-50 24-50 26-50 26-50 27-50 28-50 28-50 29-50 30-50 31-50 31-50 33-50 32-50 34-50 34-50 35-50 36-50 36-50 37-50 37-50 38-50 39-50 39-50 40-50 40-50 41-50 41-50 42-50 42-50 42-50 43-50 44-50 44-50 44-50 45-50 45-50 45-50 46-50 46-50 47-50 47-50 47-50 47-50 48-50 49-50 48-50 49-50 50-50 49-50 50-50 50-50 51-50 51-50 51-50 52-50 51-50 52-50 52-50 53-50 52-50 53-50 53-50 52-50 53-50 53-50 54-50 53-50 53-50 53-50 53-50 52-50 53-50 52-50 52-50 52-50 51-50 51-50 50-50 50-50 49-50 48-50 48-50 48-50 46-50 47-50 45-50 45-50 44-50 44-50 43-50 43-50 42-50 42-50 41-50 41-50 40-50 40-50 40-50 39-50 39-50 38-50 39-50 38-50 37-50 37-50 37-50 37-50 36-50 36-50 36-50 35-50 35-50 35-50 34-50 34-50 34-50 33-50" stroke="#5500aa"/><path d="M2943 7000l15-50 17-50 19-50 20-50 21-50 22-50 23-50 25-50 24-50 26-50 27-50 27-50 28-50 29-50 30-50 30-50 31-50 32-50 33-50 33-50 34-50 35-50 35-50 36-50 37-50 37-50 38-50 39-50 39-50 40-50 40-50 41-50 41-50 42-50 42-50 43-50 43-50 43-50 44-50 44-50 45-50 45-50 45-50 46-50 46-50 47-50 47-50 47-50 48-50 48-50 48-50 49-50 49-50 49-50 50-50 50-50 50-50 51-50 51-50 51-50 52-50 52-50 52-50 52-50 52-50 53-50 53-50 53-50 53-50 53-50 54-50 53-50 54-50 53-50 53-50 54-50 53-50 53-50 53-50 52-50 53-50 51-50 52-50 51-50 50-50 50-50 50-50 48-50 48-50 48-50 47-50 46-50 46-50 45-50 44-50 44-50 43-50 43-50 42-50 42-50 41-50 41-50 41-50 40-50 40-50 39-50 39-50 39-50 38-50 38-50 38-50 37-50 37-50 37-50 36-50 36-50 36-50 35-50 35-50 35-50 34-50 35-50 33-50 34-50" stroke="#5300ac"/><path d="M2965 7000l15-50 17-50 19-50 20-50 21-50 22-50 24-50 24-50 25-50 26-50 27-50 27-50 29-50 29-50 30-50 30-50 32-50 32-50 33-50 33-50 35-50 35-50 35-50 37-50 37-50 37-50 39-50 38-50 40-50 40-50 40-50 41-50 42-50 42-50 42-50 43-50 44-50 43-50 44-50 45-50 45-50 45-50 46-50 46-50 46-50 47-50 47-50 47-50 48-50 48-50 48-50 49-50 49-50 50-50 50-50 50-50 50-50 51-50 51-50 52-50 51-50 52-50 52-50 53-50 52-50 53-50 53-50 53-50 53-50 54-50 53-50 54-50 53-50 54-50 53-50 53-50 54-50 53-50 52-50 53-50 52-50 52-50 52-50 51-50 50-50 50-50 49-50 49-50 48-50 48-50 47-50 46-50 46-50 45-50 44-50 44-50 43-50 43-50 42-50 42-50 42-50 40-50 41-50 40-50 40-50 39-50 39-50 39-50 38-50 39-50 37-50 38-50 37-50 36-50 37-50 36-50 36-50 35-50 35-50 35-50 34-50 35-50 33-50 34-50" stroke="#5100ae"/><path d="M2991 7000l16-50 17-50 19-50 20-50 21-50 23-50 24-50 24-50 26-50 26-50 27-50 28-50 28-50 30-50 30-50 31-50 32-50 33-50 33-50 34-50 35-50 35-50 37-50 36-50 38-50 38-50 39-50 39-50 40-50 41-50 41-50 41-50 42-50 43-50 43-50 43-50 44-50 44-50 44-50 45-50 46-50 45-50 46-50 47-50 46-50 47-50 48-50 48-50 48-50 48-50 49-50 49-50 50-50 50-50 50-50 50-50 51-50 51-50 52-50 52-50 52-50 52-50 53-50 53-50 53-50 53-50 53-50 54-50 53-50 54-50 54-50 53-50 54-50 54-50 54-50 53-50 54-50 53-50 53-50 53-50 53-50 52-50 52-50 51-50 50-50 51-50 49-50 49-50 48-50 48-50 47-50 47-50 45-50 45-50 45-50 44-50 44-50 42-50 43-50 42-50 41-50 41-50 41-50 40-50 40-50 40-50 39-50 39-50 38-50 38-50 38-50 37-50 37-50 37-50 37-50 36-50 36-50 35-50 36-50 34-50 35-50 34-50 34-50 34-50" stroke="#4f00b0"/><path d="M3010 7000l16-50 17-50 19-50 20-50 21-50 23-50 23-50 25-50 25-50 27-50 27-50 28-50 29-50 29-50 31-50 31-50 32-50 33-50 33-50 35-50 35-50 35-50 37-50 37-50 37-50 39-50 39-50 39-50 40-50 41-50 41-50 42-50 42-50 43-50 43-50 43-50 44-50 44-50 45-50 45-50 45-50 46-50 46-50 46-50 47-50 47-50 48-50 47-50 49-50 48-50 49-50 49-50 50-50 49-50 51-50 50-50 51-50 51-50 52-50 51-50 52-50 53-50 52-50 53-50 53-50 53-50 53-50 54-50 53-50 54-50 53-50 54-50 54-50 54-50 53-50 54-50 53-50 53-50 53-50 53-50 53-50 52-50 51-50 51-50 51-50 50-50 49-50 49-50 48-50 48-50 47-50 46-50 46-50 45-50 45-50 44-50 43-50 43-50 42-50 42-50 42-50 41-50 41-50 40-50 40-50 39-50 39-50 39-50 39-50 38-50 38-50 37-50 37-50 37-50 37-50 36-50 36-50 35-50 36-50 34-50 35-50 34-50 34-50 34-50" stroke="#4e00b1"/><path d="M3031 7000l16-50 17-50 19-50 20-50 22-50 23-50 23-50 25-50 26-50 26-50 28-50 28-50 29-50 30-50 30-50 32-50 32-50 33-50 34-50 34-50 36-50 36-50 36-50 38-50 38-50 38-50 39-50 40-50 41-50 41-50 41-50 42-50 42-50 43-50 44-50 43-50 44-50 45-50 45-50 45-50 45-50 46-50 47-50 46-50 47-50 47-50 48-50 48-50 48-50 49-50 49-50 49-50 50-50 50-50 50-50 51-50 51-50 51-50 52-50 51-50 53-50 52-50 53-50 53-50 53-50 53-50 53-50 54-50 53-50 54-50 54-50 54-50 53-50 54-50 54-50 53-50 54-50 53-50 53-50 53-50 52-50 52-50 52-50 51-50 51-50 50-50 49-50 49-50 48-50 48-50 47-50 46-50 46-50 45-50 45-50 44-50 43-50 43-50 43-50 42-50 41-50 41-50 41-50 40-50 40-50 40-50 39-50 39-50 38-50 38-50 38-50 38-50 37-50 37-50 36-50 37-50 36-50 35-50 36-50 35-50 34-50 35-50 34-50 34-50" stroke="#4c00b3"/><path d="M3050 7000l15-50 18-50 19-50 20-50 21-50 23-50 24-50 25-50 25-50 27-50 27-50 29-50 29-50 30-50 31-50 31-50 33-50 33-50 34-50 35-50 35-50 36-50 37-50 37-50 39-50 38-50 40-50 40-50 40-50 41-50 42-50 42-50 43-50 43-50 43-50 44-50 44-50 44-50 45-50 46-50 45-50 46-50 46-50 47-50 47-50 47-50 48-50 48-50 48-50 49-50 49-50 49-50 50-50 50-50 50-50 50-50 51-50 52-50 51-50 52-50 52-50 53-50 52-50 53-50 53-50 53-50 53-50 54-50 53-50 54-50 54-50 53-50 54-50 54-50 53-50 54-50 53-50 53-50 53-50 53-50 52-50 52-50 51-50 51-50 51-50 50-50 49-50 49-50 48-50 47-50 47-50 47-50 45-50 46-50 44-50 44-50 44-50 42-50 43-50 42-50 41-50 42-50 40-50 41-50 40-50 39-50 39-50 39-50 39-50 38-50 38-50 37-50 38-50 36-50 37-50 36-50 36-50 36-50 35-50 35-50 35-50 34-50 35-50 33-50" stroke="#4a00b5"/><path d="M3076 7000l15-50 18-50 19-50 20-50 22-50 23-50 24-50 25-50 26-50 27-50 28-50 28-50 30-50 30-50 31-50 32-50 33-50 34-50 34-50 35-50 36-50 37-50 37-50 38-50 39-50 39-50 40-50 40-50 41-50 42-50 42-50 42-50 43-50 44-50 44-50 44-50 45-50 44-50 46-50 45-50 46-50 47-50 46-50 47-50 48-50 47-50 48-50 49-50 48-50 49-50 50-50 49-50 50-50 50-50 51-50 51-50 51-50 52-50 52-50 52-50 52-50 53-50 53-50 53-50 54-50 53-50 54-50 54-50 53-50 54-50 54-50 54-50 54-50 54-50 54-50 54-50 53-50 54-50 53-50 53-50 52-50 53-50 51-50 51-50 51-50 50-50 50-50 49-50 48-50 48-50 47-50 46-50 46-50 45-50 45-50 44-50 43-50 44-50 42-50 42-50 42-50 41-50 41-50 40-50 40-50 40-50 39-50 39-50 39-50 38-50 38-50 38-50 37-50 37-50 37-50 36-50 36-50 36-50 35-50 35-50 35-50 35-50 34-50 34-50" stroke="#4800b7"/><path d="M3091 7000l16-50 17-50 19-50 20-50 22-50 23-50 24-50 25-50 26-50 27-50 27-50 29-50 30-50 30-50 31-50 32-50 33-50 34-50 34-50 35-50 36-50 37-50 37-50 38-50 39-50 39-50 40-50 41-50 41-50 41-50 42-50 43-50 43-50 43-50 44-50 44-50 45-50 44-50 46-50 45-50 46-50 46-50 47-50 47-50 47-50 47-50 48-50 48-50 49-50 48-50 50-50 49-50 50-50 50-50 50-50 51-50 51-50 52-50 51-50 52-50 52-50 53-50 53-50 53-50 53-50 53-50 53-50 54-50 53-50 54-50 54-50 53-50 54-50 54-50 53-50 54-50 53-50 53-50 53-50 52-50 53-50 52-50 51-50 51-50 50-50 50-50 49-50 49-50 48-50 48-50 46-50 47-50 45-50 45-50 45-50 44-50 44-50 42-50 43-50 42-50 42-50 41-50 41-50 40-50 40-50 40-50 39-50 39-50 38-50 39-50 38-50 37-50 38-50 37-50 36-50 37-50 36-50 35-50 36-50 35-50 35-50 34-50 35-50 33-50" stroke="#4700b8"/><path d="M3119 7000l16-50 17-50 20-50 20-50 22-50 23-50 24-50 26-50 26-50 27-50 28-50 29-50 30-50 31-50 32-50 32-50 34-50 34-50 35-50 35-50 37-50 37-50 38-50 38-50 40-50 39-50 41-50 41-50 41-50 43-50 42-50 43-50 44-50 44-50 44-50 45-50 45-50 45-50 46-50 46-50 46-50 47-50 47-50 47-50 48-50 48-50 48-50 49-50 48-50 50-50 49-50 50-50 50-50 51-50 51-50 51-50 51-50 52-50 52-50 53-50 53-50 52-50 54-50 53-50 54-50 53-50 54-50 54-50 54-50 54-50 54-50 54-50 54-50 54-50 54-50 54-50 54-50 53-50 53-50 53-50 53-50 52-50 51-50 52-50 50-50 50-50 50-50 49-50 48-50 48-50 47-50 46-50 46-50 45-50 45-50 44-50 44-50 43-50 43-50 42-50 42-50 41-50 41-50 40-50 40-50 40-50 39-50 39-50 39-50 39-50 38-50 37-50 38-50 37-50 36-50 37-50 36-50 36-50 36-50 35-50 35-50 34-50 35-50 34-50" stroke="#4500ba"/><path d="M3144 7000l16-50 18-50 19-50 21-50 22-50 23-50 25-50 25-50 27-50 27-50 28-50 30-50 30-50 31-50 32-50 33-50 34-50 34-50 36-50 36-50 36-50 38-50 38-50 39-50 40-50 40-50 41-50 41-50 42-50 43-50 43-50 43-50 44-50 45-50 44-50 45-50 46-50 46-50 46-50 46-50 47-50 46-50 48-50 47-50 48-50 49-50 48-50 49-50 49-50 50-50 49-50 51-50 50-50 51-50 51-50 51-50 52-50 52-50 53-50 52-50 53-50 53-50 54-50 53-50 54-50 54-50 54-50 54-50 55-50 54-50 54-50 55-50 54-50 54-50 54-50 54-50 54-50 54-50 53-50 53-50 53-50 52-50 52-50 51-50 51-50 50-50 49-50 49-50 49-50 48-50 47-50 46-50 46-50 46-50 45-50 44-50 43-50 44-50 42-50 43-50 41-50 42-50 41-50 40-50 40-50 40-50 40-50 39-50 39-50 38-50 38-50 38-50 37-50 37-50 37-50 37-50 36-50 36-50 36-50 35-50 35-50 35-50 34-50 34-50" stroke="#4300bc"/><path d="M3155 7000l15-50 18-50 19-50 20-50 22-50 23-50 25-50 25-50 26-50 28-50 28-50 29-50 30-50 31-50 32-50 33-50 33-50 34-50 36-50 35-50 37-50 37-50 38-50 39-50 40-50 40-50 40-50 41-50 42-50 42-50 43-50 43-50 44-50 44-50 44-50 45-50 45-50 45-50 46-50 46-50 46-50 47-50 46-50 48-50 47-50 48-50 48-50 48-50 49-50 49-50 49-50 50-50 50-50 50-50 51-50 51-50 51-50 52-50 51-50 53-50 52-50 52-50 53-50 53-50 53-50 54-50 53-50 54-50 53-50 54-50 54-50 53-50 54-50 53-50 54-50 53-50 53-50 53-50 53-50 52-50 52-50 52-50 51-50 51-50 50-50 50-50 49-50 48-50 48-50 48-50 46-50 47-50 45-50 45-50 45-50 44-50 43-50 43-50 43-50 42-50 42-50 41-50 41-50 40-50 40-50 40-50 40-50 39-50 38-50 39-50 38-50 37-50 38-50 37-50 37-50 36-50 36-50 36-50 36-50 35-50 35-50 35-50 34-50 34-50" stroke="#4100be"/><path d="M3174 7000l16-50 17-50 19-50 21-50 21-50 24-50 24-50 25-50 27-50 27-50 28-50 30-50 30-50 31-50 32-50 33-50 33-50 35-50 35-50 36-50 37-50 37-50 38-50 39-50 40-50 40-50 41-50 41-50 42-50 42-50 43-50 43-50 44-50 44-50 44-50 45-50 45-50 45-50 46-50 46-50 46-50 47-50 47-50 47-50 47-50 48-50 48-50 48-50 49-50 49-50 49-50 50-50 49-50 51-50 50-50 51-50 51-50 51-50 52-50 52-50 52-50 53-50 52-50 53-50 53-50 53-50 54-50 53-50 53-50 54-50 53-50 54-50 53-50 54-50 53-50 53-50 53-50 53-50 52-50 52-50 52-50 51-50 51-50 51-50 50-50 49-50 49-50 49-50 47-50 48-50 46-50 46-50 46-50 45-50 44-50 44-50 44-50 43-50 42-50 42-50 42-50 41-50 41-50 41-50 40-50 39-50 40-50 39-50 38-50 39-50 38-50 38-50 37-50 37-50 37-50 37-50 36-50 36-50 35-50 36-50 35-50 34-50 35-50 34-50" stroke="#3f00c0"/><path d="M3210 7000l16-50 18-50 19-50 21-50 22-50 24-50 24-50 26-50 27-50 28-50 29-50 29-50 31-50 32-50 32-50 34-50 34-50 35-50 36-50 37-50 38-50 38-50 39-50 40-50 40-50 41-50 41-50 42-50 43-50 43-50 44-50 44-50 44-50 45-50 46-50 45-50 46-50 46-50 46-50 47-50 47-50 47-50 48-50 48-50 48-50 48-50 49-50 49-50 49-50 50-50 50-50 50-50 51-50 50-50 52-50 51-50 52-50 52-50 53-50 52-50 53-50 54-50 53-50 54-50 53-50 54-50 54-50 54-50 54-50 55-50 54-50 54-50 54-50 54-50 54-50 54-50 53-50 53-50 53-50 53-50 53-50 52-50 51-50 51-50 51-50 49-50 50-50 49-50 48-50 47-50 47-50 47-50 46-50 45-50 45-50 44-50 44-50 43-50 42-50 43-50 42-50 41-50 41-50 41-50 40-50 40-50 39-50 39-50 39-50 39-50 38-50 38-50 37-50 38-50 37-50 36-50 37-50 36-50 35-50 36-50 35-50 35-50 35-50 34-50" stroke="#3e00c1"/><path d="M3243 7000l16-50 18-50 19-50 21-50 23-50 23-50 25-50 26-50 28-50 28-50 29-50 30-50 32-50 32-50 33-50 34-50 35-50 35-50 37-50 37-50 39-50 38-50 40-50 40-50 41-50 42-50 42-50 43-50 43-50 44-50 44-50 45-50 45-50 45-50 46-50 46-50 47-50 46-50 47-50 47-50 48-50 48-50 48-50 48-50 49-50 49-50 49-50 49-50 50-50 50-50 51-50 50-50 51-50 52-50 51-50 52-50 53-50 52-50 53-50 54-50 53-50 54-50 54-50 54-50 54-50 54-50 55-50 54-50 55-50 54-50 55-50 55-50 54-50 55-50 54-50 54-50 54-50 54-50 53-50 53-50 53-50 52-50 52-50 51-50 51-50 50-50 50-50 49-50 48-50 48-50 47-50 47-50 46-50 45-50 45-50 45-50 44-50 43-50 43-50 42-50 42-50 42-50 41-50 41-50 40-50 40-50 40-50 39-50 39-50 38-50 39-50 38-50 37-50 38-50 37-50 37-50 36-50 36-50 36-50 36-50 35-50 35-50 35-50 34-50" stroke="#3c00c3"/><path d="M3255 7000l16-50 17-50 20-50 20-50 23-50 23-50 25-50 26-50 27-50 28-50 29-50 30-50 31-50 32-50 33-50 34-50 34-50 36-50 36-50 37-50 38-50 39-50 39-50 40-50 41-50 41-50 42-50 43-50 43-50 43-50 44-50 44-50 45-50 45-50 45-50 46-50 46-50 46-50 47-50 47-50 47-50 47-50 47-50 48-50 48-50 49-50 48-50 49-50 50-50 49-50 50-50 50-50 51-50 50-50 51-50 52-50 51-50 52-50 53-50 52-50 53-50 53-50 53-50 54-50 53-50 54-50 53-50 54-50 54-50 54-50 54-50 54-50 53-50 54-50 54-50 53-50 53-50 53-50 53-50 52-50 52-50 51-50 52-50 50-50 50-50 50-50 49-50 48-50 48-50 48-50 46-50 46-50 46-50 45-50 45-50 44-50 44-50 43-50 42-50 43-50 42-50 41-50 41-50 41-50 40-50 40-50 39-50 40-50 38-50 39-50 38-50 38-50 38-50 37-50 37-50 37-50 36-50 36-50 36-50 36-50 35-50 35-50 35-50 34-50" stroke="#3a00c5"/><path d="M3281 7000l16-50 18-50 19-50 21-50 22-50 24-50 25-50 26-50 27-50 28-50 30-50 30-50 31-50 32-50 33-50 34-50 35-50 36-50 37-50 37-50 38-50 39-50 40-50 40-50 41-50 42-50 42-50 43-50 43-50 44-50 44-50 44-50 45-50 46-50 45-50 46-50 46-50 47-50 46-50 47-50 48-50 47-50 48-50 48-50 48-50 48-50 49-50 49-50 49-50 50-50 50-50 50-50 51-50 50-50 52-50 51-50 52-50 52-50 52-50 53-50 52-50 54-50 53-50 53-50 54-50 53-50 54-50 54-50 54-50 53-50 54-50 54-50 54-50 53-50 54-50 53-50 53-50 53-50 53-50 52-50 52-50 51-50 51-50 51-50 50-50 49-50 49-50 49-50 47-50 48-50 46-50 47-50 45-50 45-50 45-50 44-50 44-50 43-50 42-50 43-50 42-50 41-50 41-50 41-50 40-50 40-50 40-50 39-50 39-50 38-50 39-50 38-50 37-50 38-50 37-50 36-50 37-50 36-50 36-50 36-50 35-50 35-50 35-50 34-50" stroke="#3800c7"/><path d="M3319 7000l16-50 18-50 19-50 21-50 23-50 24-50 25-50 26-50 28-50 28-50 30-50 31-50 31-50 33-50 34-50 34-50 36-50 36-50 38-50 38-50 39-50 39-50 40-50 41-50 42-50 42-50 43-50 44-50 43-50 45-50 45-50 45-50 46-50 46-50 46-50 46-50 47-50 47-50 47-50 48-50 48-50 48-50 48-50 48-50 49-50 49-50 49-50 50-50 50-50 50-50 50-50 51-50 51-50 51-50 52-50 51-50 53-50 52-50 53-50 53-50 53-50 54-50 54-50 54-50 54-50 54-50 54-50 54-50 54-50 55-50 54-50 54-50 54-50 54-50 54-50 54-50 53-50 54-50 52-50 53-50 52-50 52-50 51-50 51-50 50-50 50-50 49-50 49-50 48-50 47-50 47-50 47-50 45-50 46-50 45-50 44-50 44-50 43-50 43-50 42-50 42-50 42-50 41-50 41-50 40-50 40-50 40-50 39-50 39-50 39-50 38-50 38-50 38-50 38-50 37-50 37-50 36-50 37-50 36-50 35-50 36-50 35-50 35-50 35-50" stroke="#3700c8"/><path d="M3347 7000l16-50 18-50 19-50 21-50 23-50 23-50 26-50 26-50 28-50 28-50 30-50 31-50 32-50 33-50 34-50 34-50 36-50 37-50 37-50 38-50 39-50 40-50 41-50 41-50 42-50 42-50 43-50 44-50 44-50 44-50 45-50 46-50 45-50 46-50 47-50 46-50 47-50 47-50 47-50 48-50 47-50 48-50 49-50 48-50 49-50 49-50 49-50 49-50 50-50 50-50 50-50 51-50 50-50 52-50 51-50 52-50 52-50 52-50 53-50 53-50 53-50 53-50 54-50 53-50 54-50 54-50 54-50 54-50 54-50 54-50 54-50 54-50 54-50 53-50 54-50 53-50 53-50 53-50 53-50 52-50 52-50 51-50 51-50 51-50 50-50 49-50 49-50 48-50 48-50 47-50 47-50 46-50 46-50 45-50 45-50 44-50 44-50 43-50 43-50 42-50 42-50 42-50 41-50 41-50 40-50 40-50 40-50 39-50 39-50 39-50 38-50 38-50 38-50 38-50 37-50 37-50 36-50 37-50 36-50 36-50 35-50 35-50 35-50 35-50" stroke="#3500ca"/><path d="M3384 7000l16-50 18-50 20-50 21-50 23-50 24-50 25-50 27-50 28-50 29-50 30-50 31-50 32-50 34-50 34-50 35-50 36-50 37-50 38-50 39-50 39-50 41-50 41-50 41-50 43-50 42-50 44-50 44-50 45-50 45-50 45-50 46-50 46-50 47-50 46-50 47-50 47-50 48-50 47-50 48-50 48-50 48-50 49-50 48-50 49-50 50-50 49-50 50-50 50-50 50-50 50-50 51-50 51-50 51-50 52-50 52-50 52-50 53-50 53-50 53-50 53-50 53-50 54-50 54-50 54-50 54-50 54-50 54-50 54-50 54-50 54-50 54-50 54-50 54-50 54-50 53-50 53-50 53-50 53-50 52-50 52-50 51-50 51-50 51-50 50-50 49-50 49-50 48-50 48-50 47-50 47-50 46-50 46-50 45-50 45-50 44-50 44-50 43-50 43-50 42-50 42-50 42-50 41-50 41-50 41-50 40-50 40-50 39-50 39-50 39-50 38-50 39-50 37-50 38-50 37-50 37-50 37-50 36-50 37-50 35-50 36-50 35-50 36-50 34-50" stroke="#3300cc"/><path d="M3423 7000l16-50 18-50 20-50 21-50 23-50 24-50 26-50 26-50 29-50 29-50 30-50 32-50 32-50 34-50 35-50 35-50 37-50 37-50 39-50 39-50 40-50 41-50 41-50 42-50 43-50 43-50 44-50 45-50 45-50 45-50 46-50 46-50 47-50 47-50 47-50 47-50 48-50 48-50 48-50 48-50 48-50 48-50 49-50 49-50 49-50 50-50 49-50 50-50 50-50 50-50 51-50 51-50 51-50 52-50 51-50 53-50 52-50 53-50 53-50 53-50 53-50 54-50 54-50 54-50 54-50 54-50 54-50 54-50 54-50 55-50 54-50 54-50 54-50 54-50 53-50 54-50 53-50 53-50 52-50 52-50 52-50 52-50 50-50 51-50 50-50 49-50 49-50 48-50 48-50 47-50 47-50 46-50 46-50 45-50 45-50 44-50 44-50 43-50 43-50 42-50 42-50 42-50 41-50 41-50 41-50 40-50 40-50 40-50 39-50 39-50 38-50 38-50 38-50 38-50 37-50 37-50 37-50 37-50 36-50 36-50 36-50 35-50 35-50 35-50" stroke="#3100ce"/><path d="M3464 7000l17-50 18-50 20-50 21-50 23-50 25-50 25-50 28-50 28-50 30-50 30-50 32-50 33-50 35-50 35-50 36-50 37-50 38-50 39-50 40-50 40-50 41-50 42-50 43-50 44-50 44-50 44-50 45-50 46-50 46-50 46-50 47-50 47-50 48-50 47-50 48-50 48-50 48-50 49-50 48-50 49-50 49-50 49-50 49-50 50-50 49-50 50-50 50-50 51-50 51-50 51-50 51-50 51-50 52-50 52-50 52-50 53-50 53-50 53-50 54-50 54-50 54-50 54-50 54-50 54-50 54-50 55-50 54-50 55-50 54-50 54-50 55-50 54-50 54-50 54-50 53-50 53-50 53-50 53-50 52-50 52-50 52-50 51-50 50-50 50-50 49-50 49-50 49-50 47-50 48-50 46-50 47-50 45-50 46-50 45-50 44-50 44-50 43-50 43-50 43-50 42-50 42-50 41-50 41-50 41-50 40-50 40-50 40-50 39-50 39-50 38-50 39-50 38-50 38-50 37-50 37-50 37-50 37-50 36-50 36-50 36-50 36-50 35-50 35-50" stroke="#2f00d0"/><path d="M3498 7000l16-50 18-50 20-50 22-50 23-50 24-50 26-50 27-50 29-50 30-50 31-50 32-50 33-50 34-50 36-50 36-50 38-50 38-50 39-50 40-50 41-50 41-50 43-50 43-50 43-50 45-50 45-50 45-50 46-50 46-50 47-50 47-50 47-50 48-50 47-50 48-50 49-50 48-50 48-50 49-50 49-50 48-50 50-50 49-50 49-50 50-50 50-50 50-50 50-50 51-50 51-50 51-50 52-50 51-50 52-50 53-50 52-50 53-50 53-50 54-50 53-50 54-50 54-50 54-50 54-50 54-50 54-50 55-50 54-50 54-50 54-50 54-50 54-50 54-50 53-50 53-50 53-50 53-50 53-50 52-50 51-50 51-50 51-50 50-50 50-50 49-50 49-50 48-50 47-50 47-50 47-50 46-50 46-50 45-50 45-50 44-50 44-50 43-50 43-50 43-50 42-50 42-50 41-50 41-50 41-50 40-50 40-50 40-50 39-50 39-50 39-50 38-50 38-50 38-50 37-50 37-50 37-50 37-50 37-50 36-50 36-50 35-50 36-50 35-50" stroke="#2e00d1"/><path d="M3536 7000l17-50 18-50 20-50 21-50 23-50 25-50 26-50 28-50 28-50 31-50 31-50 32-50 34-50 35-50 36-50 36-50 38-50 39-50 40-50 40-50 41-50 42-50 43-50 44-50 44-50 45-50 45-50 46-50 46-50 47-50 47-50 48-50 48-50 48-50 48-50 48-50 49-50 48-50 49-50 49-50 49-50 49-50 50-50 49-50 50-50 50-50 50-50 50-50 51-50 51-50 51-50 51-50 52-50 52-50 52-50 53-50 52-50 54-50 53-50 53-50 54-50 54-50 54-50 55-50 54-50 54-50 55-50 54-50 54-50 55-50 54-50 54-50 54-50 54-50 53-50 54-50 53-50 52-50 53-50 52-50 51-50 52-50 50-50 50-50 50-50 49-50 49-50 48-50 48-50 47-50 46-50 46-50 46-50 45-50 45-50 44-50 44-50 44-50 43-50 42-50 43-50 41-50 42-50 41-50 41-50 40-50 40-50 40-50 39-50 39-50 39-50 39-50 38-50 38-50 37-50 37-50 37-50 37-50 37-50 36-50 36-50 36-50 35-50 36-50" stroke="#2c00d3"/><path d="M3567 7000l16-50 18-50 20-50 22-50 23-50 25-50 26-50 27-50 29-50 31-50 31-50 33-50 34-50 34-50 36-50 38-50 38-50 39-50 39-50 41-50 42-50 42-50 43-50 44-50 45-50 45-50 45-50 46-50 47-50 47-50 47-50 48-50 48-50 48-50 49-50 48-50 49-50 49-50 48-50 49-50 50-50 49-50 49-50 50-50 50-50 50-50 50-50 50-50 51-50 51-50 51-50 51-50 52-50 51-50 53-50 52-50 53-50 53-50 53-50 54-50 53-50 54-50 54-50 54-50 55-50 54-50 54-50 54-50 55-50 54-50 54-50 54-50 53-50 54-50 53-50 53-50 53-50 53-50 52-50 52-50 51-50 51-50 51-50 50-50 49-50 49-50 48-50 48-50 48-50 47-50 46-50 46-50 46-50 45-50 45-50 44-50 44-50 43-50 43-50 43-50 42-50 42-50 41-50 41-50 41-50 41-50 40-50 39-50 40-50 39-50 39-50 38-50 38-50 38-50 38-50 37-50 37-50 37-50 37-50 36-50 36-50 36-50 36-50 35-50" stroke="#2a00d5"/><path d="M3595 7000l17-50 18-50 20-50 21-50 23-50 25-50 26-50 28-50 29-50 30-50 32-50 33-50 34-50 35-50 36-50 37-50 39-50 39-50 40-50 41-50 42-50 42-50 43-50 44-50 45-50 45-50 46-50 46-50 47-50 47-50 48-50 48-50 48-50 48-50 48-50 49-50 49-50 49-50 48-50 49-50 50-50 49-50 49-50 50-50 49-50 50-50 50-50 51-50 50-50 51-50 51-50 51-50 52-50 51-50 52-50 53-50 52-50 53-50 53-50 53-50 54-50 54-50 53-50 54-50 54-50 54-50 54-50 54-50 54-50 54-50 54-50 54-50 53-50 53-50 53-50 53-50 53-50 52-50 52-50 51-50 51-50 51-50 50-50 50-50 49-50 49-50 48-50 47-50 48-50 46-50 47-50 45-50 46-50 45-50 44-50 45-50 43-50 44-50 43-50 42-50 42-50 42-50 42-50 41-50 41-50 40-50 40-50 40-50 39-50 39-50 39-50 39-50 38-50 38-50 38-50 37-50 37-50 37-50 36-50 37-50 36-50 36-50 36-50 35-50" stroke="#2800d7"/><path d="M3624 7000l16-50 18-50 20-50 22-50 23-50 25-50 27-50 27-50 30-50 30-50 32-50 33-50 34-50 35-50 37-50 37-50 39-50 40-50 40-50 41-50 42-50 43-50 44-50 44-50 45-50 46-50 46-50 46-50 48-50 47-50 48-50 48-50 48-50 49-50 49-50 48-50 49-50 49-50 50-50 49-50 49-50 49-50 50-50 50-50 50-50 50-50 50-50 50-50 51-50 51-50 51-50 51-50 52-50 51-50 52-50 53-50 52-50 53-50 54-50 53-50 54-50 53-50 54-50 54-50 54-50 54-50 54-50 54-50 54-50 54-50 54-50 54-50 53-50 53-50 53-50 53-50 53-50 52-50 52-50 51-50 51-50 50-50 51-50 49-50 49-50 49-50 48-50 47-50 48-50 46-50 47-50 45-50 46-50 45-50 44-50 45-50 43-50 44-50 43-50 42-50 43-50 41-50 42-50 41-50 41-50 40-50 41-50 39-50 40-50 39-50 39-50 38-50 39-50 38-50 37-50 38-50 37-50 37-50 36-50 37-50 36-50 36-50 36-50 35-50" stroke="#2600d9"/><path d="M3634 7000l17-50 18-50 20-50 22-50 23-50 25-50 26-50 28-50 29-50 31-50 31-50 34-50 34-50 35-50 37-50 37-50 39-50 40-50 40-50 41-50 43-50 43-50 43-50 45-50 45-50 45-50 46-50 47-50 47-50 48-50 48-50 48-50 48-50 49-50 49-50 48-50 49-50 49-50 50-50 49-50 49-50 49-50 50-50 50-50 49-50 50-50 51-50 50-50 51-50 50-50 51-50 52-50 51-50 52-50 52-50 52-50 53-50 53-50 53-50 53-50 54-50 53-50 54-50 54-50 54-50 54-50 54-50 54-50 54-50 54-50 53-50 54-50 53-50 53-50 53-50 53-50 52-50 52-50 52-50 51-50 51-50 50-50 50-50 50-50 49-50 48-50 48-50 48-50 47-50 46-50 47-50 45-50 46-50 45-50 44-50 44-50 44-50 43-50 43-50 43-50 42-50 42-50 42-50 41-50 41-50 40-50 40-50 40-50 39-50 40-50 39-50 38-50 38-50 38-50 38-50 37-50 38-50 37-50 36-50 37-50 36-50 36-50 36-50 35-50" stroke="#2500da"/><path d="M3649 7000l16-50 18-50 21-50 21-50 24-50 25-50 26-50 28-50 30-50 30-50 32-50 34-50 34-50 36-50 37-50 37-50 39-50 40-50 41-50 41-50 43-50 43-50 44-50 45-50 45-50 46-50 47-50 47-50 47-50 48-50 48-50 49-50 48-50 49-50 49-50 49-50 50-50 49-50 49-50 50-50 49-50 50-50 50-50 50-50 50-50 50-50 51-50 50-50 51-50 51-50 51-50 52-50 52-50 52-50 52-50 52-50 53-50 53-50 54-50 53-50 54-50 54-50 54-50 54-50 55-50 54-50 54-50 54-50 54-50 54-50 54-50 54-50 54-50 53-50 53-50 53-50 53-50 52-50 52-50 51-50 51-50 51-50 50-50 50-50 49-50 49-50 48-50 47-50 48-50 46-50 47-50 45-50 46-50 45-50 45-50 44-50 44-50 43-50 43-50 43-50 42-50 42-50 42-50 41-50 41-50 40-50 40-50 40-50 40-50 39-50 39-50 39-50 38-50 38-50 38-50 37-50 37-50 37-50 37-50 37-50 36-50 36-50 36-50 36-50" stroke="#2300dc"/><path d="M3654 7000l16-50 18-50 20-50 22-50 23-50 25-50 27-50 28-50 29-50 31-50 32-50 33-50 34-50 36-50 37-50 38-50 38-50 40-50 41-50 41-50 43-50 43-50 44-50 45-50 45-50 46-50 46-50 47-50 48-50 47-50 48-50 49-50 48-50 49-50 49-50 49-50 49-50 49-50 50-50 49-50 49-50 50-50 50-50 49-50 50-50 51-50 50-50 50-50 51-50 51-50 51-50 51-50 52-50 52-50 52-50 52-50 53-50 53-50 53-50 53-50 54-50 54-50 54-50 54-50 54-50 54-50 54-50 54-50 54-50 53-50 54-50 54-50 53-50 53-50 53-50 53-50 52-50 52-50 52-50 51-50 51-50 50-50 50-50 50-50 49-50 48-50 48-50 47-50 47-50 47-50 46-50 46-50 45-50 45-50 45-50 44-50 44-50 43-50 43-50 43-50 42-50 42-50 42-50 41-50 41-50 40-50 40-50 40-50 40-50 39-50 39-50 38-50 39-50 38-50 37-50 38-50 37-50 37-50 37-50 36-50 37-50 36-50 35-50 36-50" stroke="#2100de"/><path d="M3662 7000l17-50 18-50 20-50 22-50 23-50 25-50 26-50 28-50 30-50 31-50 32-50 33-50 35-50 35-50 37-50 38-50 39-50 40-50 41-50 41-50 43-50 43-50 44-50 45-50 45-50 46-50 47-50 47-50 47-50 48-50 48-50 49-50 49-50 49-50 49-50 49-50 49-50 49-50 50-50 49-50 49-50 50-50 50-50 50-50 50-50 50-50 50-50 51-50 50-50 51-50 52-50 51-50 52-50 51-50 53-50 52-50 53-50 53-50 53-50 53-50 54-50 54-50 54-50 54-50 54-50 54-50 54-50 54-50 54-50 54-50 54-50 53-50 53-50 54-50 53-50 52-50 53-50 52-50 51-50 52-50 50-50 51-50 50-50 49-50 49-50 49-50 48-50 47-50 47-50 47-50 46-50 46-50 45-50 45-50 44-50 45-50 43-50 44-50 43-50 42-50 43-50 42-50 41-50 41-50 41-50 41-50 40-50 40-50 39-50 40-50 39-50 38-50 38-50 39-50 37-50 38-50 37-50 37-50 37-50 36-50 37-50 36-50 35-50 36-50" stroke="#1f00e0"/><path d="M3680 7000l16-50 19-50 20-50 22-50 24-50 25-50 27-50 28-50 30-50 31-50 32-50 34-50 35-50 36-50 37-50 38-50 40-50 40-50 41-50 42-50 43-50 44-50 45-50 45-50 46-50 47-50 47-50 47-50 48-50 49-50 48-50 49-50 50-50 49-50 50-50 49-50 50-50 50-50 50-50 50-50 50-50 50-50 50-50 51-50 50-50 51-50 51-50 51-50 51-50 52-50 51-50 52-50 52-50 53-50 52-50 53-50 54-50 53-50 54-50 54-50 54-50 55-50 54-50 55-50 54-50 55-50 55-50 54-50 55-50 54-50 55-50 54-50 54-50 53-50 54-50 53-50 53-50 53-50 52-50 52-50 51-50 51-50 50-50 50-50 49-50 49-50 49-50 48-50 47-50 47-50 46-50 46-50 46-50 45-50 45-50 44-50 44-50 44-50 43-50 43-50 42-50 42-50 42-50 41-50 41-50 41-50 40-50 40-50 40-50 39-50 39-50 39-50 38-50 38-50 38-50 38-50 37-50 37-50 37-50 37-50 36-50 36-50 36-50 36-50" stroke="#1d00e2"/><path d="M3680 7000l17-50 18-50 20-50 22-50 24-50 25-50 27-50 28-50 29-50 31-50 33-50 33-50 35-50 36-50 37-50 38-50 39-50 41-50 41-50 42-50 43-50 43-50 45-50 45-50 46-50 46-50 47-50 47-50 48-50 48-50 49-50 49-50 49-50 49-50 49-50 50-50 49-50 50-50 50-50 49-50 50-50 50-50 50-50 50-50 51-50 50-50 51-50 50-50 51-50 52-50 51-50 52-50 52-50 52-50 52-50 53-50 53-50 53-50 54-50 54-50 53-50 55-50 54-50 54-50 54-50 55-50 54-50 54-50 54-50 55-50 54-50 53-50 54-50 53-50 54-50 53-50 52-50 52-50 52-50 52-50 51-50 50-50 50-50 50-50 49-50 49-50 48-50 48-50 47-50 46-50 47-50 46-50 45-50 45-50 45-50 44-50 44-50 43-50 44-50 42-50 43-50 42-50 41-50 42-50 40-50 41-50 40-50 40-50 40-50 39-50 39-50 39-50 38-50 38-50 38-50 38-50 37-50 37-50 37-50 36-50 37-50 36-50 36-50 36-50" stroke="#1b00e4"/><path d="M3686 7000l17-50 18-50 20-50 22-50 24-50 25-50 27-50 28-50 29-50 31-50 33-50 33-50 35-50 36-50 38-50 38-50 39-50 40-50 42-50 42-50 43-50 43-50 45-50 45-50 46-50 46-50 47-50 48-50 48-50 48-50 49-50 48-50 50-50 49-50 49-50 50-50 50-50 49-50 50-50 50-50 50-50 49-50 51-50 50-50 50-50 51-50 50-50 51-50 51-50 51-50 52-50 51-50 52-50 53-50 52-50 53-50 53-50 53-50 54-50 53-50 54-50 55-50 54-50 54-50 54-50 55-50 54-50 54-50 55-50 54-50 54-50 54-50 53-50 54-50 53-50 53-50 52-50 53-50 51-50 52-50 51-50 51-50 50-50 49-50 49-50 49-50 48-50 48-50 47-50 47-50 46-50 46-50 45-50 45-50 45-50 44-50 44-50 44-50 43-50 42-50 43-50 42-50 41-50 42-50 41-50 40-50 41-50 39-50 40-50 39-50 39-50 39-50 38-50 39-50 37-50 38-50 37-50 37-50 37-50 37-50 36-50 36-50 36-50 36-50" stroke="#1a00e5"/><path d="M3694 7000l17-50 18-50 20-50 22-50 24-50 25-50 27-50 28-50 30-50 31-50 32-50 34-50 35-50 36-50 38-50 38-50 39-50 41-50 41-50 42-50 44-50 43-50 45-50 45-50 46-50 47-50 47-50 48-50 48-50 48-50 49-50 49-50 50-50 49-50 50-50 49-50 50-50 50-50 50-50 50-50 50-50 50-50 50-50 50-50 51-50 50-50 51-50 51-50 51-50 52-50 51-50 52-50 52-50 53-50 52-50 53-50 53-50 54-50 54-50 53-50 55-50 54-50 54-50 55-50 54-50 55-50 54-50 55-50 54-50 54-50 54-50 54-50 54-50 54-50 53-50 53-50 53-50 52-50 52-50 52-50 51-50 51-50 50-50 49-50 50-50 48-50 49-50 47-50 47-50 47-50 47-50 46-50 45-50 45-50 45-50 44-50 44-50 44-50 43-50 43-50 42-50 42-50 42-50 41-50 41-50 41-50 40-50 40-50 40-50 39-50 39-50 39-50 38-50 38-50 38-50 38-50 37-50 37-50 37-50 37-50 36-50 36-50 36-50 36-50" stroke="#1800e7"/><path d="M3695 7000l17-50 18-50 20-50 22-50 24-50 25-50 27-50 28-50 30-50 31-50 32-50 34-50 35-50 36-50 37-50 38-50 40-50 40-50 41-50 42-50 44-50 43-50 45-50 45-50 46-50 47-50 47-50 47-50 48-50 49-50 48-50 49-50 49-50 50-50 49-50 50-50 50-50 49-50 50-50 50-50 50-50 50-50 50-50 50-50 50-50 51-50 50-50 51-50 51-50 52-50 51-50 52-50 52-50 52-50 52-50 53-50 53-50 53-50 54-50 54-50 54-50 54-50 54-50 54-50 54-50 55-50 54-50 54-50 55-50 54-50 54-50 53-50 54-50 53-50 54-50 52-50 53-50 52-50 52-50 51-50 51-50 51-50 50-50 49-50 49-50 49-50 48-50 48-50 47-50 46-50 47-50 46-50 45-50 45-50 45-50 44-50 44-50 43-50 43-50 43-50 43-50 42-50 41-50 41-50 41-50 41-50 40-50 40-50 40-50 39-50 39-50 39-50 38-50 38-50 38-50 38-50 37-50 37-50 37-50 37-50 36-50 36-50 36-50 36-50" stroke="#1600e9"/><path d="M3701 7000l16-50 19-50 20-50 22-50 23-50 25-50 27-50 29-50 29-50 31-50 33-50 34-50 35-50 36-50 37-50 39-50 39-50 40-50 42-50 42-50 43-50 44-50 45-50 45-50 46-50 47-50 47-50 48-50 48-50 48-50 49-50 49-50 49-50 50-50 50-50 49-50 50-50 50-50 50-50 49-50 50-50 50-50 51-50 50-50 50-50 51-50 51-50 51-50 51-50 51-50 52-50 51-50 52-50 53-50 52-50 53-50 53-50 54-50 53-50 54-50 54-50 54-50 54-50 55-50 54-50 55-50 54-50 54-50 55-50 54-50 54-50 54-50 53-50 54-50 53-50 53-50 53-50 52-50 52-50 51-50 51-50 51-50 50-50 49-50 50-50 48-50 48-50 48-50 47-50 47-50 46-50 46-50 45-50 45-50 45-50 44-50 44-50 44-50 43-50 43-50 42-50 42-50 42-50 41-50 41-50 41-50 40-50 40-50 40-50 39-50 39-50 39-50 38-50 38-50 38-50 38-50 37-50 37-50 37-50 37-50 36-50 36-50 36-50 36-50" stroke="#1400eb"/><path d="M3708 7000l16-50 19-50 20-50 22-50 24-50 25-50 27-50 28-50 30-50 31-50 33-50 34-50 35-50 36-50 38-50 38-50 40-50 40-50 42-50 42-50 44-50 44-50 45-50 45-50 46-50 47-50 48-50 47-50 49-50 48-50 49-50 50-50 49-50 50-50 50-50 50-50 49-50 50-50 50-50 50-50 51-50 50-50 50-50 51-50 50-50 51-50 51-50 51-50 51-50 52-50 52-50 52-50 52-50 52-50 53-50 53-50 53-50 54-50 54-50 54-50 54-50 54-50 55-50 54-50 55-50 54-50 55-50 55-50 54-50 54-50 55-50 54-50 54-50 53-50 54-50 53-50 52-50 53-50 52-50 52-50 51-50 50-50 51-50 49-50 50-50 48-50 49-50 47-50 48-50 46-50 47-50 46-50 45-50 46-50 44-50 45-50 44-50 43-50 43-50 43-50 43-50 42-50 41-50 42-50 41-50 40-50 41-50 40-50 39-50 40-50 39-50 39-50 38-50 38-50 38-50 38-50 37-50 37-50 37-50 37-50 36-50 37-50 36-50 36-50" stroke="#1200ed"/><path d="M3711 7000l17-50 18-50 21-50 22-50 23-50 26-50 27-50 28-50 30-50 31-50 33-50 34-50 35-50 36-50 38-50 38-50 40-50 41-50 41-50 43-50 43-50 44-50 45-50 46-50 46-50 47-50 47-50 48-50 49-50 48-50 49-50 50-50 49-50 50-50 50-50 50-50 50-50 50-50 50-50 50-50 50-50 51-50 50-50 50-50 51-50 51-50 51-50 51-50 51-50 52-50 52-50 52-50 52-50 52-50 53-50 53-50 53-50 54-50 54-50 54-50 54-50 55-50 54-50 55-50 54-50 55-50 55-50 54-50 55-50 54-50 54-50 54-50 54-50 54-50 53-50 53-50 53-50 53-50 52-50 51-50 52-50 50-50 51-50 49-50 50-50 48-50 49-50 47-50 48-50 46-50 47-50 46-50 45-50 46-50 44-50 45-50 44-50 43-50 44-50 42-50 43-50 42-50 42-50 41-50 41-50 41-50 40-50 40-50 40-50 39-50 39-50 39-50 38-50 38-50 38-50 38-50 37-50 38-50 36-50 37-50 37-50 36-50 36-50 36-50" stroke="#1100ee"/><path d="M3710 7000l16-50 19-50 20-50 22-50 24-50 25-50 27-50 28-50 30-50 31-50 32-50 34-50 35-50 37-50 37-50 39-50 39-50 41-50 41-50 42-50 44-50 44-50 45-50 45-50 46-50 47-50 47-50 48-50 48-50 49-50 48-50 50-50 49-50 50-50 49-50 50-50 50-50 50-50 49-50 50-50 50-50 51-50 50-50 50-50 51-50 50-50 51-50 51-50 51-50 51-50 52-50 52-50 52-50 52-50 53-50 52-50 53-50 54-50 53-50 54-50 54-50 54-50 55-50 54-50 54-50 55-50 54-50 55-50 54-50 54-50 54-50 54-50 54-50 53-50 53-50 53-50 53-50 52-50 52-50 51-50 51-50 51-50 50-50 49-50 49-50 49-50 48-50 47-50 48-50 46-50 47-50 45-50 46-50 45-50 45-50 44-50 44-50 43-50 43-50 43-50 43-50 42-50 41-50 42-50 41-50 40-50 41-50 40-50 39-50 39-50 40-50 38-50 39-50 38-50 38-50 37-50 38-50 37-50 37-50 36-50 37-50 36-50 36-50 36-50" stroke="#0f00f0"/><path d="M3722 7000l17-50 18-50 21-50 22-50 24-50 25-50 27-50 29-50 30-50 31-50 33-50 34-50 36-50 36-50 38-50 39-50 40-50 41-50 42-50 42-50 44-50 45-50 45-50 46-50 46-50 47-50 48-50 48-50 49-50 49-50 49-50 50-50 50-50 50-50 50-50 50-50 50-50 51-50 50-50 51-50 50-50 51-50 50-50 51-50 51-50 51-50 51-50 52-50 51-50 52-50 52-50 52-50 53-50 53-50 53-50 53-50 54-50 54-50 54-50 54-50 55-50 54-50 55-50 55-50 55-50 55-50 55-50 55-50 55-50 54-50 55-50 54-50 54-50 54-50 54-50 53-50 53-50 53-50 53-50 51-50 52-50 51-50 50-50 50-50 50-50 49-50 48-50 48-50 48-50 47-50 46-50 46-50 46-50 45-50 45-50 45-50 44-50 43-50 44-50 43-50 42-50 42-50 42-50 42-50 41-50 40-50 41-50 40-50 39-50 40-50 39-50 39-50 38-50 39-50 38-50 37-50 38-50 37-50 37-50 37-50 36-50 37-50 36-50 36-50" stroke="#0d00f2"/><path d="M3721 7000l17-50 18-50 21-50 22-50 24-50 25-50 27-50 28-50 30-50 32-50 33-50 34-50 35-50 36-50 38-50 39-50 40-50 40-50 42-50 43-50 43-50 45-50 45-50 46-50 46-50 47-50 48-50 48-50 48-50 49-50 49-50 50-50 50-50 50-50 50-50 50-50 50-50 50-50 50-50 50-50 51-50 50-50 51-50 50-50 51-50 51-50 51-50 51-50 52-50 52-50 51-50 53-50 52-50 52-50 53-50 53-50 54-50 54-50 54-50 54-50 54-50 55-50 54-50 55-50 55-50 55-50 54-50 55-50 55-50 54-50 54-50 55-50 54-50 53-50 54-50 53-50 53-50 53-50 52-50 51-50 52-50 51-50 50-50 50-50 49-50 49-50 48-50 48-50 47-50 47-50 47-50 46-50 45-50 45-50 45-50 45-50 44-50 43-50 44-50 42-50 43-50 42-50 42-50 41-50 41-50 41-50 40-50 40-50 40-50 39-50 39-50 39-50 39-50 38-50 38-50 38-50 37-50 37-50 37-50 37-50 36-50 37-50 36-50 36-50" stroke="#0b00f4"/><path d="M3724 7000l17-50 19-50 20-50 22-50 24-50 25-50 27-50 29-50 30-50 31-50 33-50 34-50 35-50 37-50 38-50 39-50 39-50 41-50 42-50 43-50 43-50 45-50 45-50 46-50 46-50 47-50 48-50 48-50 49-50 49-50 49-50 50-50 49-50 50-50 50-50 51-50 50-50 50-50 50-50 51-50 50-50 50-50 51-50 51-50 51-50 51-50 51-50 51-50 51-50 52-50 52-50 52-50 53-50 52-50 53-50 53-50 54-50 54-50 54-50 54-50 54-50 55-50 55-50 54-50 55-50 55-50 55-50 55-50 54-50 55-50 54-50 54-50 54-50 54-50 54-50 53-50 53-50 53-50 52-50 51-50 52-50 51-50 50-50 50-50 49-50 49-50 48-50 48-50 48-50 46-50 47-50 46-50 46-50 45-50 45-50 44-50 44-50 44-50 43-50 43-50 42-50 43-50 41-50 42-50 41-50 40-50 41-50 40-50 40-50 39-50 39-50 39-50 38-50 39-50 38-50 37-50 38-50 37-50 37-50 37-50 36-50 36-50 37-50 36-50" stroke="#0900f6"/><path d="M3731 7000l16-50 19-50 20-50 22-50 24-50 26-50 27-50 29-50 30-50 31-50 33-50 34-50 36-50 37-50 37-50 39-50 40-50 41-50 42-50 43-50 44-50 45-50 45-50 46-50 47-50 47-50 48-50 48-50 49-50 49-50 50-50 49-50 50-50 51-50 50-50 50-50 51-50 50-50 50-50 51-50 51-50 50-50 51-50 51-50 51-50 51-50 51-50 52-50 52-50 51-50 53-50 52-50 53-50 52-50 54-50 53-50 54-50 54-50 54-50 54-50 55-50 55-50 55-50 55-50 55-50 55-50 55-50 55-50 54-50 55-50 55-50 54-50 55-50 54-50 53-50 54-50 53-50 53-50 52-50 52-50 51-50 52-50 50-50 50-50 50-50 49-50 48-50 48-50 47-50 48-50 46-50 46-50 46-50 45-50 45-50 45-50 44-50 44-50 43-50 43-50 42-50 43-50 41-50 42-50 41-50 41-50 40-50 40-50 40-50 39-50 39-50 39-50 39-50 38-50 38-50 38-50 37-50 37-50 37-50 37-50 37-50 36-50 36-50 36-50" stroke="#0700f8"/><path d="M3739 7000l17-50 18-50 21-50 22-50 24-50 26-50 27-50 29-50 30-50 32-50 33-50 34-50 36-50 37-50 38-50 39-50 40-50 42-50 42-50 43-50 44-50 45-50 45-50 47-50 47-50 47-50 48-50 49-50 49-50 50-50 49-50 50-50 51-50 50-50 51-50 50-50 51-50 51-50 50-50 51-50 51-50 51-50 51-50 51-50 52-50 51-50 52-50 51-50 52-50 53-50 52-50 53-50 53-50 53-50 53-50 54-50 54-50 54-50 55-50 54-50 55-50 55-50 56-50 55-50 55-50 56-50 55-50 55-50 55-50 56-50 55-50 54-50 55-50 54-50 54-50 54-50 53-50 54-50 52-50 52-50 52-50 52-50 50-50 51-50 49-50 50-50 48-50 48-50 48-50 47-50 47-50 46-50 46-50 46-50 45-50 44-50 45-50 43-50 44-50 43-50 43-50 42-50 42-50 41-50 41-50 41-50 41-50 40-50 39-50 40-50 39-50 39-50 39-50 38-50 38-50 38-50 37-50 38-50 37-50 36-50 37-50 36-50 37-50 36-50" stroke="#0600f9"/><path d="M3753 7000l17-50 19-50 21-50 23-50 24-50 26-50 28-50 29-50 30-50 32-50 34-50 35-50 36-50 37-50 39-50 40-50 40-50 42-50 43-50 44-50 45-50 45-50 46-50 47-50 48-50 48-50 49-50 49-50 50-50 50-50 51-50 50-50 51-50 51-50 52-50 51-50 52-50 51-50 51-50 52-50 51-50 52-50 52-50 52-50 52-50 52-50 52-50 53-50 53-50 53-50 53-50 53-50 54-50 54-50 54-50 55-50 54-50 56-50 55-50 56-50 55-50 56-50 56-50 56-50 57-50 56-50 56-50 56-50 56-50 56-50 56-50 56-50 55-50 56-50 54-50 55-50 54-50 54-50 54-50 53-50 52-50 52-50 52-50 51-50 50-50 50-50 50-50 48-50 49-50 47-50 48-50 46-50 47-50 46-50 45-50 45-50 44-50 44-50 44-50 43-50 43-50 43-50 42-50 41-50 42-50 40-50 41-50 40-50 40-50 40-50 39-50 39-50 39-50 38-50 38-50 38-50 38-50 37-50 38-50 37-50 36-50 37-50 36-50 37-50" stroke="#0400fb"/><path d="M3749 7000l17-50 19-50 21-50 22-50 24-50 26-50 28-50 29-50 31-50 32-50 33-50 35-50 36-50 38-50 38-50 40-50 41-50 42-50 43-50 43-50 45-50 45-50 47-50 46-50 48-50 48-50 49-50 49-50 50-50 50-50 51-50 51-50 51-50 51-50 51-50 51-50 52-50 51-50 52-50 51-50 52-50 52-50 51-50 52-50 52-50 53-50 52-50 53-50 52-50 53-50 54-50 53-50 54-50 54-50 54-50 55-50 54-50 56-50 55-50 56-50 56-50 56-50 56-50 56-50 56-50 56-50 57-50 56-50 56-50 56-50 56-50 56-50 55-50 56-50 55-50 54-50 55-50 54-50 53-50 53-50 53-50 52-50 52-50 51-50 50-50 50-50 50-50 49-50 48-50 48-50 47-50 47-50 46-50 46-50 45-50 45-50 45-50 44-50 44-50 43-50 43-50 42-50 42-50 42-50 41-50 41-50 41-50 40-50 40-50 39-50 40-50 39-50 38-50 39-50 38-50 38-50 38-50 37-50 37-50 37-50 37-50 37-50 36-50 36-50" stroke="#0200fd"/><path d="M3760 7000l17-50 20-50 21-50 23-50 24-50 27-50 28-50 29-50 31-50 33-50 34-50 35-50 37-50 38-50 39-50 40-50 41-50 43-50 43-50 44-50 46-50 46-50 47-50 47-50 48-50 49-50 50-50 50-50 50-50 51-50 52-50 51-50 52-50 52-50 52-50 52-50 52-50 52-50 53-50 52-50 52-50 53-50 53-50 52-50 53-50 53-50 53-50 54-50 53-50 54-50 54-50 55-50 54-50 55-50 55-50 56-50 56-50 56-50 56-50 57-50 56-50 57-50 58-50 57-50 57-50 57-50 58-50 57-50 57-50 57-50 57-50 57-50 56-50 57-50 56-50 55-50 56-50 54-50 55-50 54-50 54-50 53-50 52-50 52-50 51-50 51-50 50-50 50-50 49-50 48-50 48-50 47-50 47-50 46-50 46-50 45-50 45-50 45-50 44-50 43-50 43-50 43-50 42-50 42-50 41-50 41-50 41-50 41-50 40-50 39-50 40-50 39-50 39-50 38-50 38-50 39-50 37-50 38-50 37-50 37-50 37-50 37-50 37-50 36-50" stroke="#0000ff"/></g></g></g>
<line x1="157.50" y1="698.8" x2="157.50" y2="689.8" stroke="#404040" stroke-width="1.6"/>
<line x1="157.50" y1="86.3" x2="157.50" y2="95.3" stroke="#404040" stroke-width="1.6"/>
<line x1="321.44" y1="698.8" x2="321.44" y2="689.8" stroke="#404040" stroke-width="1.6"/>
<line x1="321.44" y1="86.3" x2="321.44" y2="95.3" stroke="#404040" stroke-width="1.6"/>
<line x1="485.38" y1="698.8" x2="485.38" y2="689.8" stroke="#404040" stroke-width="1.6"/>
<line x1="485.38" y1="86.3" x2="485.38" y2="95.3" stroke="#404040" stroke-width="1.6"/>
<line x1="649.32" y1="698.8" x2="649.32" y2="689.8" stroke="#404040" stroke-width="1.6"/>
<line x1="649.32" y1="86.3" x2="649.32" y2="95.3" stroke="#404040" stroke-width="1.6"/>
<line x1="813.26" y1="698.8" x2="813.26" y2="689.8" stroke="#404040" stroke-width="1.6"/>
<line x1="813.26" y1="86.3" x2="813.26" y2="95.3" stroke="#404040" stroke-width="1.6"/>
<line x1="977.20" y1="698.8" x2="977.20" y2="689.8" stroke="#404040" stroke-width="1.6"/>
<line x1="977.20" y1="86.3" x2="977.20" y2="95.3" stroke="#404040" stroke-width="1.6"/>
<line x1="157.5" y1="698.80" x2="166.5" y2="698.80" stroke="#404040" stroke-width="1.6"/>
<line x1="977.2" y1="698.80" x2="968.2" y2="698.80" stroke="#404040" stroke-width="1.6"/>
<line x1="157.5" y1="518.65" x2="166.5" y2="518.65" stroke="#404040" stroke-width="1.6"/>
<line x1="977.2" y1="518.65" x2="968.2" y2="518.65" stroke="#404040" stroke-width="1.6"/>
<line x1="157.5" y1="338.51" x2="166.5" y2="338.51" stroke="#404040" stroke-width="1.6"/>
<line x1="977.2" y1="338.51" x2="968.2" y2="338.51" stroke="#404040" stroke-width="1.6"/>
<line x1="157.5" y1="158.36" x2="166.5" y2="158.36" stroke="#404040" stroke-width="1.6"/>
<line x1="977.2" y1="158.36" x2="968.2" y2="158.36" stroke="#404040" stroke-width="1.6"/>
<rect x="157.5" y="86.3" width="819.70" height="612.50" fill="none" stroke="#404040" stroke-width="1.6"/>
<text x="157.50" y="749.8" text-anchor="middle" font-family="Liberation Serif, Times New Roman, serif" font-size="41" fill="#262626">0</text>
<text x="321.44" y="749.8" text-anchor="middle" font-family="Liberation Serif, Times New Roman, serif" font-size="41" fill="#262626">500</text>
<text x="485.38" y="749.8" text-anchor="middle" font-family="Liberation Serif, Times New Roman, serif" font-size="41" fill="#262626">1000</text>
<text x="649.32" y="749.8" text-anchor="middle" font-family="Liberation Serif, Times New Roman, serif" font-size="41" fill="#262626">1500</text>
<text x="813.26" y="749.8" text-anchor="middle" font-family="Liberation Serif, Times New Roman, serif" font-size="41" fill="#262626">2000</text>
<text x="977.20" y="749.8" text-anchor="middle" font-family="Liberation Serif, Times New Roman, serif" font-size="41" fill="#262626">2500</text>
<text x="143.00" y="713.2" text-anchor="end" font-family="Liberation Serif, Times New Roman, serif" font-size="41" fill="#262626">3.9</text>
<text x="143.00" y="533.1" text-anchor="end" font-family="Liberation Serif, Times New Roman, serif" font-size="41" fill="#262626">3.95</text>
<text x="143.00" y="352.9" text-anchor="end" font-family="Liberation Serif, Times New Roman, serif" font-size="41" fill="#262626">4</text>
<text x="143.00" y="172.8" text-anchor="end" font-family="Liberation Serif, Times New Roman, serif" font-size="41" fill="#262626">4.05</text>
<text x="567.4" y="802.7" text-anchor="middle" font-family="Liberation Serif, Times New Roman, serif" font-size="45" fill="#262626">Time (s)</text>
<text transform="translate(54.4,396.0) rotate(-90)" text-anchor="middle" font-family="Liberation Serif, Times New Roman, serif" font-size="45" fill="#262626">Voltage (V)</text>
<text x="567.4" y="70" text-anchor="middle" font-family="Liberation Serif, Times New Roman, serif" font-size="45" fill="#000">(a)</text>
<line x1="1417.39" y1="86.3" x2="1417.39" y2="698.8" stroke="#262626" stroke-opacity="0.115" stroke-width="1.3"/>
<line x1="1599.28" y1="86.3" x2="1599.28" y2="698.8" stroke="#262626" stroke-opacity="0.115" stroke-width="1.3"/>
<line x1="1781.17" y1="86.3" x2="1781.17" y2="698.8" stroke="#262626" stroke-opacity="0.115" stroke-width="1.3"/>
<line x1="1963.06" y1="86.3" x2="1963.06" y2="698.8" stroke="#262626" stroke-opacity="0.115" stroke-width="1.3"/>
<line x1="1235.5" y1="649.80" x2="2054.0" y2="649.80" stroke="#262626" stroke-opacity="0.115" stroke-width="1.3"/>
<line x1="1235.5" y1="551.80" x2="2054.0" y2="551.80" stroke="#262626" stroke-opacity="0.115" stroke-width="1.3"/>
<line x1="1235.5" y1="453.80" x2="2054.0" y2="453.80" stroke="#262626" stroke-opacity="0.115" stroke-width="1.3"/>
<line x1="1235.5" y1="355.80" x2="2054.0" y2="355.80" stroke="#262626" stroke-opacity="0.115" stroke-width="1.3"/>
<line x1="1235.5" y1="257.80" x2="2054.0" y2="257.80" stroke="#262626" stroke-opacity="0.115" stroke-width="1.3"/>
<line x1="1235.5" y1="159.80" x2="2054.0" y2="159.80" stroke="#262626" stroke-opacity="0.115" stroke-width="1.3"/>
<g clip-path="url(#cb)"><g transform="scale(0.1)" fill="none" stroke-width="11.5" stroke-linejoin="round"><path d="M12410 6727l3-37 4-60 5-60 4-60 5-60 5-60 5-60 5-60 5-60 5-60 5-60 6-60 5-60 6-60 6-60 6-60 5-60 7-60 6-60 6-60 7-60 6-60 7-60 7-60 7-60 7-60 7-60 7-60 7-60 8-60 8-60 7-60 8-60 8-60 8-60 9-60 8-60 9-60 8-60 9-60 9-60 9-60 9-60 9-60 10-60 9-60 10-60 10-60 10-60 10-60 10-60 10-60 11-60 10-60 11-60 11-60 11-60 11-60 12-60 11-60 12-60 11-60 12-60 12-60 12-60 13-60 12-60 13-60 12-60 13-60 13-60 13-60 14-60 13-60 14-60 13-60 14-60 14-60 14-60 15-60 14-60 15-60 15-60 15-60 15-60 15-60 15-60 16-60 16-60 16-60 16-60 16-60 16-60 17-60 16-60 17-60 17-60 18-60" stroke="#ff0000"/><path d="M12403 6973l3-43 4-60 4-60 5-60 4-60 4-60 5-60 5-60 4-60 5-60 5-60 6-60 5-60 5-60 6-60 5-60 6-60 6-60 6-60 6-60 6-60 6-60 7-60 6-60 7-60 7-60 7-60 7-60 7-60 7-60 8-60 7-60 8-60 8-60 8-60 8-60 8-60 8-60 9-60 8-60 9-60 9-60 9-60 9-60 9-60 9-60 10-60 9-60 10-60 10-60 10-60 10-60 10-60 11-60 10-60 11-60 11-60 10-60 12-60 11-60 11-60 12-60 11-60 12-60 12-60 12-60 12-60 12-60 13-60 12-60 13-60 13-60 13-60 13-60 14-60 13-60 14-60 13-60 14-60 14-60 15-60 14-60 14-60 15-60 15-60 15-60 15-60 15-60 16-60 15-60 16-60 16-60 16-60 16-60 16-60 17-60 16-60 17-60 17-60 17-60 17-60 18-60" stroke="#fe0001"/><path d="M12449 6879l1-9 4-60 4-60 5-60 5-60 5-60 5-60 6-60 5-60 6-60 5-60 6-60 6-60 6-60 7-60 6-60 7-60 7-60 7-60 7-60 7-60 7-60 8-60 7-60 8-60 8-60 8-60 8-60 9-60 8-60 9-60 8-60 9-60 9-60 9-60 10-60 9-60 10-60 10-60 9-60 10-60 10-60 11-60 10-60 11-60 10-60 11-60 11-60 11-60 11-60 12-60 11-60 12-60 12-60 12-60 12-60 12-60 12-60 13-60 12-60 13-60 13-60 13-60 13-60 13-60 14-60 13-60 14-60 14-60 14-60 14-60 14-60 15-60 14-60 15-60 15-60 15-60 15-60 15-60 16-60 15-60 16-60 16-60 16-60 16-60 16-60 17-60 16-60 17-60 17-60 17-60 17-60 18-60 17-60 18-60 17-60 18-60 18-60 18-60 19-60 18-60" stroke="#fe0001"/><path d="M12453 6958l2-28 4-60 5-60 4-60 5-60 5-60 5-60 6-60 5-60 6-60 5-60 6-60 6-60 7-60 6-60 6-60 7-60 7-60 7-60 7-60 7-60 8-60 7-60 8-60 8-60 8-60 8-60 8-60 9-60 8-60 9-60 9-60 9-60 9-60 9-60 10-60 9-60 10-60 10-60 10-60 10-60 10-60 11-60 10-60 11-60 11-60 11-60 11-60 11-60 12-60 11-60 12-60 12-60 12-60 12-60 12-60 12-60 13-60 12-60 13-60 13-60 13-60 13-60 14-60 13-60 14-60 14-60 14-60 14-60 14-60 14-60 15-60 14-60 15-60 15-60 15-60 15-60 15-60 16-60 15-60 16-60 16-60 16-60 16-60 16-60 17-60 17-60 16-60 17-60 17-60 17-60 18-60 17-60 18-60 17-60 18-60 18-60 18-60 19-60 18-60 19-60 19-60" stroke="#fd0002"/><path d="M12474 6803l4-53 5-60 5-60 6-60 5-60 6-60 5-60 6-60 6-60 6-60 7-60 6-60 7-60 7-60 7-60 7-60 7-60 8-60 8-60 7-60 8-60 8-60 9-60 8-60 9-60 8-60 9-60 9-60 9-60 10-60 9-60 10-60 9-60 10-60 10-60 10-60 11-60 10-60 11-60 10-60 11-60 11-60 11-60 12-60 11-60 12-60 11-60 12-60 12-60 12-60 12-60 13-60 12-60 13-60 13-60 13-60 13-60 13-60 14-60 13-60 14-60 14-60 13-60 15-60 14-60 14-60 15-60 14-60 15-60 15-60 15-60 15-60 16-60 15-60 16-60 15-60 16-60 16-60 17-60 16-60 16-60 17-60 17-60 17-60 17-60 17-60 17-60 18-60 17-60 18-60 18-60 18-60 18-60 18-60 19-60 18-60 19-60 19-60 19-60" stroke="#fc0003"/><path d="M12477 6926l4-56 5-60 5-60 5-60 5-60 6-60 5-60 6-60 6-60 6-60 6-60 6-60 7-60 7-60 7-60 7-60 7-60 7-60 8-60 8-60 8-60 8-60 8-60 8-60 9-60 9-60 8-60 9-60 10-60 9-60 9-60 10-60 10-60 10-60 10-60 10-60 10-60 11-60 11-60 10-60 11-60 11-60 12-60 11-60 12-60 11-60 12-60 12-60 12-60 12-60 13-60 12-60 13-60 13-60 12-60 14-60 13-60 13-60 14-60 13-60 14-60 14-60 14-60 14-60 14-60 15-60 15-60 14-60 15-60 15-60 15-60 16-60 15-60 16-60 16-60 15-60 16-60 17-60 16-60 16-60 17-60 17-60 16-60 17-60 18-60 17-60 17-60 18-60 17-60 18-60 18-60 18-60 19-60 18-60 18-60 19-60 19-60 19-60 19-60 19-60 19-60" stroke="#fc0003"/><path d="M12494 6929l5-59 4-60 5-60 6-60 5-60 6-60 5-60 6-60 6-60 7-60 6-60 7-60 7-60 7-60 7-60 7-60 8-60 8-60 8-60 8-60 8-60 9-60 8-60 9-60 9-60 9-60 9-60 10-60 9-60 10-60 10-60 10-60 11-60 10-60 10-60 11-60 11-60 11-60 11-60 12-60 11-60 12-60 11-60 12-60 12-60 13-60 12-60 12-60 13-60 13-60 13-60 13-60 13-60 13-60 14-60 13-60 14-60 14-60 14-60 14-60 15-60 14-60 15-60 14-60 15-60 15-60 16-60 15-60 15-60 16-60 16-60 15-60 16-60 17-60 16-60 16-60 17-60 17-60 16-60 17-60 18-60 17-60 17-60 18-60 17-60 18-60 18-60 18-60 18-60 19-60 18-60 19-60 18-60 19-60 19-60 19-60 20-60 19-60 19-60 20-60 20-60" stroke="#fb0004"/><path d="M12514 6925l4-55 5-60 5-60 6-60 5-60 6-60 6-60 6-60 7-60 6-60 7-60 7-60 7-60 8-60 7-60 8-60 8-60 8-60 8-60 9-60 9-60 9-60 9-60 9-60 9-60 10-60 10-60 10-60 10-60 10-60 11-60 10-60 11-60 11-60 11-60 12-60 11-60 12-60 11-60 12-60 12-60 13-60 12-60 12-60 13-60 13-60 13-60 13-60 13-60 13-60 14-60 14-60 14-60 13-60 15-60 14-60 14-60 15-60 14-60 15-60 15-60 15-60 16-60 15-60 16-60 15-60 16-60 16-60 16-60 16-60 17-60 16-60 17-60 17-60 16-60 17-60 18-60 17-60 17-60 18-60 18-60 18-60 18-60 18-60 18-60 18-60 19-60 19-60 18-60 19-60 19-60 19-60 20-60 19-60 20-60 19-60 20-60 20-60 20-60 20-60 21-60" stroke="#fa0005"/><path d="M12535 6965l3-35 5-60 5-60 5-60 6-60 6-60 6-60 6-60 7-60 6-60 7-60 7-60 8-60 7-60 8-60 8-60 9-60 8-60 9-60 9-60 9-60 9-60 9-60 10-60 10-60 10-60 10-60 11-60 10-60 11-60 11-60 11-60 11-60 12-60 12-60 11-60 12-60 12-60 13-60 12-60 13-60 13-60 13-60 13-60 13-60 13-60 14-60 14-60 14-60 14-60 14-60 14-60 14-60 15-60 15-60 15-60 15-60 15-60 15-60 16-60 15-60 16-60 16-60 16-60 16-60 17-60 16-60 17-60 16-60 17-60 17-60 17-60 18-60 17-60 18-60 17-60 18-60 18-60 18-60 18-60 19-60 18-60 19-60 19-60 19-60 19-60 19-60 19-60 19-60 20-60 19-60 20-60 20-60 20-60 20-60 20-60 21-60 20-60 21-60 21-60 21-60 20-60" stroke="#fa0005"/><path d="M12562 6939l1-9 5-60 5-60 5-60 6-60 6-60 7-60 6-60 7-60 7-60 7-60 8-60 8-60 8-60 8-60 8-60 9-60 9-60 9-60 10-60 9-60 10-60 10-60 10-60 11-60 10-60 11-60 11-60 11-60 12-60 12-60 11-60 12-60 12-60 13-60 12-60 13-60 13-60 13-60 13-60 14-60 13-60 14-60 14-60 14-60 14-60 14-60 15-60 14-60 15-60 15-60 15-60 15-60 16-60 15-60 16-60 16-60 16-60 16-60 16-60 16-60 17-60 17-60 16-60 17-60 18-60 17-60 17-60 18-60 17-60 18-60 18-60 18-60 18-60 19-60 18-60 19-60 19-60 19-60 19-60 19-60 19-60 19-60 20-60 19-60 20-60 20-60 20-60 20-60 20-60 21-60 20-60 21-60 21-60 20-60 21-60 21-60 22-60 21-60 21-60 22-60 21-60" stroke="#f90006"/><path d="M12583 6918l4-48 6-60 5-60 6-60 7-60 6-60 7-60 7-60 7-60 8-60 8-60 8-60 8-60 9-60 9-60 9-60 9-60 10-60 9-60 10-60 11-60 10-60 11-60 11-60 11-60 11-60 12-60 11-60 12-60 13-60 12-60 12-60 13-60 13-60 13-60 13-60 14-60 13-60 14-60 14-60 14-60 15-60 14-60 15-60 14-60 15-60 15-60 16-60 15-60 16-60 15-60 16-60 16-60 16-60 17-60 16-60 17-60 16-60 17-60 17-60 18-60 17-60 17-60 18-60 18-60 18-60 18-60 18-60 18-60 19-60 18-60 19-60 19-60 19-60 19-60 19-60 19-60 20-60 20-60 19-60 20-60 20-60 20-60 20-60 21-60 20-60 21-60 21-60 20-60 21-60 21-60 22-60 21-60 21-60 22-60 21-60 22-60 22-60 22-60 22-60 22-60" stroke="#f80007"/><path d="M12609 6906l3-36 5-60 6-60 7-60 6-60 7-60 7-60 7-60 8-60 8-60 8-60 9-60 8-60 9-60 10-60 9-60 10-60 10-60 10-60 11-60 11-60 11-60 11-60 12-60 11-60 12-60 12-60 13-60 12-60 13-60 13-60 13-60 14-60 13-60 14-60 14-60 14-60 15-60 14-60 15-60 15-60 15-60 15-60 15-60 16-60 15-60 16-60 16-60 16-60 17-60 16-60 17-60 17-60 17-60 17-60 17-60 17-60 18-60 18-60 17-60 18-60 19-60 18-60 18-60 19-60 18-60 19-60 19-60 19-60 20-60 19-60 19-60 20-60 20-60 20-60 20-60 20-60 20-60 21-60 20-60 21-60 20-60 21-60 21-60 21-60 22-60 21-60 21-60 22-60 22-60 21-60 22-60 22-60 22-60 23-60 22-60 22-60 23-60 22-60 23-60 23-60" stroke="#f80007"/><path d="M12676 6869l6-59 6-60 7-60 7-60 8-60 8-60 8-60 8-60 9-60 9-60 10-60 10-60 10-60 10-60 11-60 11-60 12-60 11-60 12-60 12-60 13-60 13-60 13-60 13-60 13-60 14-60 14-60 14-60 15-60 15-60 15-60 15-60 15-60 16-60 16-60 16-60 16-60 16-60 17-60 17-60 17-60 17-60 17-60 18-60 17-60 18-60 18-60 18-60 18-60 19-60 19-60 18-60 19-60 20-60 19-60 19-60 20-60 20-60 20-60 20-60 20-60 20-60 21-60 20-60 21-60 21-60 21-60 21-60 21-60 22-60 21-60 22-60 22-60 22-60 22-60 22-60 22-60 23-60 22-60 23-60 22-60 23-60 23-60 23-60 23-60 24-60 23-60 24-60 23-60 24-60 24-60 23-60 24-60 24-60 24-60 25-60 24-60 24-60 25-60 24-60" stroke="#f70008"/><path d="M12716 6964l3-34 6-60 6-60 7-60 7-60 8-60 8-60 9-60 8-60 10-60 9-60 10-60 10-60 11-60 11-60 11-60 12-60 12-60 13-60 12-60 13-60 14-60 13-60 14-60 14-60 15-60 14-60 15-60 16-60 15-60 16-60 16-60 17-60 16-60 17-60 17-60 17-60 18-60 17-60 18-60 18-60 18-60 19-60 18-60 19-60 19-60 19-60 20-60 19-60 20-60 20-60 20-60 20-60 21-60 20-60 21-60 21-60 21-60 21-60 21-60 22-60 21-60 22-60 22-60 22-60 22-60 23-60 22-60 23-60 22-60 23-60 23-60 23-60 24-60 23-60 24-60 23-60 24-60 24-60 24-60 24-60 24-60 24-60 25-60 24-60 25-60 24-60 25-60 25-60 25-60 25-60 25-60 25-60 25-60 26-60 25-60 25-60 26-60 26-60 25-60 26-60 26-60" stroke="#f60009"/><path d="M12778 6926l6-56 7-60 7-60 8-60 8-60 9-60 9-60 10-60 10-60 10-60 11-60 11-60 12-60 12-60 12-60 13-60 13-60 14-60 14-60 14-60 15-60 15-60 15-60 15-60 16-60 17-60 16-60 17-60 17-60 17-60 18-60 18-60 18-60 19-60 18-60 19-60 19-60 20-60 19-60 20-60 20-60 20-60 21-60 20-60 21-60 21-60 21-60 22-60 21-60 22-60 22-60 22-60 22-60 23-60 22-60 23-60 23-60 23-60 23-60 24-60 23-60 24-60 24-60 24-60 24-60 24-60 25-60 24-60 25-60 24-60 25-60 25-60 26-60 25-60 25-60 26-60 25-60 26-60 26-60 26-60 26-60 26-60 26-60 26-60 27-60 26-60 27-60 26-60 27-60 27-60 26-60 27-60 27-60 27-60 27-60 27-60 28-60 27-60 27-60 28-60 27-60" stroke="#f5000a"/><path d="M12827 6928l6-58 7-60 8-60 8-60 9-60 9-60 10-60 10-60 11-60 11-60 12-60 12-60 12-60 13-60 13-60 14-60 14-60 15-60 15-60 15-60 16-60 16-60 16-60 17-60 17-60 18-60 17-60 18-60 19-60 19-60 19-60 19-60 19-60 20-60 20-60 21-60 20-60 21-60 21-60 21-60 22-60 22-60 22-60 22-60 22-60 22-60 23-60 23-60 23-60 23-60 24-60 24-60 23-60 24-60 25-60 24-60 24-60 25-60 25-60 25-60 25-60 25-60 26-60 25-60 26-60 26-60 26-60 26-60 26-60 26-60 27-60 27-60 26-60 27-60 27-60 27-60 27-60 27-60 28-60 27-60 28-60 27-60 28-60 28-60 28-60 28-60 28-60 28-60 28-60 28-60 28-60 29-60 28-60 28-60 29-60 28-60 29-60 29-60 28-60 29-60 29-60" stroke="#f5000a"/><path d="M12890 6933l1-3 7-60 7-60 8-60 9-60 10-60 10-60 10-60 11-60 12-60 12-60 12-60 13-60 14-60 14-60 14-60 15-60 15-60 16-60 16-60 17-60 17-60 17-60 18-60 18-60 19-60 19-60 19-60 20-60 20-60 20-60 21-60 21-60 21-60 22-60 22-60 22-60 22-60 23-60 23-60 23-60 23-60 24-60 23-60 24-60 25-60 24-60 25-60 25-60 25-60 25-60 25-60 26-60 26-60 26-60 26-60 26-60 27-60 26-60 27-60 27-60 27-60 27-60 28-60 27-60 28-60 28-60 28-60 28-60 28-60 28-60 28-60 29-60 28-60 29-60 29-60 29-60 29-60 29-60 29-60 29-60 29-60 30-60 29-60 30-60 29-60 30-60 30-60 29-60 30-60 30-60 30-60 30-60 30-60 30-60 30-60 30-60 30-60 31-60 30-60 30-60 30-60" stroke="#f5000a"/><path d="M12898 6945l2-15 7-60 7-60 9-60 8-60 10-60 10-60 10-60 11-60 12-60 12-60 12-60 13-60 14-60 14-60 15-60 14-60 16-60 16-60 16-60 17-60 17-60 17-60 18-60 19-60 18-60 19-60 20-60 19-60 21-60 20-60 21-60 21-60 21-60 22-60 22-60 22-60 23-60 22-60 23-60 24-60 23-60 24-60 24-60 24-60 24-60 25-60 25-60 25-60 25-60 25-60 26-60 26-60 26-60 26-60 26-60 27-60 26-60 27-60 27-60 27-60 27-60 27-60 28-60 28-60 27-60 28-60 28-60 28-60 28-60 29-60 28-60 28-60 29-60 28-60 29-60 29-60 29-60 29-60 29-60 29-60 29-60 29-60 29-60 30-60 29-60 30-60 29-60 30-60 30-60 29-60 30-60 30-60 30-60 30-60 30-60 30-60 30-60 30-60 30-60 31-60 30-60" stroke="#f4000b"/><path d="M12916 6931l0-1 7-60 7-60 9-60 9-60 9-60 10-60 11-60 11-60 11-60 12-60 13-60 13-60 14-60 14-60 14-60 15-60 16-60 16-60 16-60 17-60 17-60 18-60 18-60 19-60 18-60 20-60 19-60 20-60 20-60 21-60 21-60 21-60 22-60 22-60 22-60 22-60 23-60 23-60 23-60 24-60 24-60 24-60 24-60 24-60 25-60 25-60 25-60 25-60 26-60 26-60 25-60 26-60 27-60 26-60 27-60 26-60 27-60 27-60 27-60 27-60 28-60 27-60 28-60 28-60 28-60 27-60 28-60 29-60 28-60 28-60 28-60 29-60 28-60 29-60 28-60 29-60 29-60 28-60 29-60 29-60 29-60 29-60 29-60 29-60 29-60 29-60 30-60 29-60 30-60 29-60 30-60 29-60 30-60 30-60 30-60 30-60 30-60 30-60 30-60 30-60 30-60" stroke="#f3000c"/><path d="M12924 6940l1-10 7-60 7-60 9-60 9-60 9-60 10-60 11-60 11-60 11-60 13-60 12-60 13-60 14-60 14-60 15-60 15-60 16-60 16-60 16-60 17-60 17-60 18-60 18-60 19-60 18-60 20-60 19-60 20-60 21-60 21-60 21-60 21-60 22-60 22-60 22-60 23-60 23-60 23-60 23-60 24-60 24-60 24-60 24-60 25-60 25-60 25-60 25-60 25-60 26-60 26-60 26-60 26-60 26-60 27-60 27-60 27-60 26-60 28-60 27-60 27-60 28-60 27-60 28-60 28-60 28-60 28-60 28-60 28-60 28-60 28-60 29-60 28-60 28-60 29-60 28-60 29-60 28-60 29-60 29-60 29-60 28-60 29-60 29-60 29-60 29-60 29-60 29-60 29-60 30-60 29-60 30-60 29-60 30-60 29-60 30-60 30-60 30-60 30-60 30-60 30-60 31-60" stroke="#f2000d"/><path d="M12935 6953l2-23 7-60 8-60 8-60 9-60 10-60 10-60 10-60 12-60 11-60 12-60 13-60 13-60 14-60 14-60 15-60 15-60 16-60 16-60 17-60 17-60 17-60 18-60 18-60 19-60 19-60 19-60 20-60 20-60 21-60 20-60 22-60 21-60 22-60 22-60 23-60 22-60 24-60 23-60 23-60 24-60 24-60 25-60 24-60 25-60 25-60 26-60 25-60 26-60 26-60 26-60 26-60 26-60 27-60 27-60 27-60 27-60 27-60 27-60 27-60 28-60 28-60 27-60 28-60 28-60 28-60 28-60 28-60 28-60 29-60 28-60 28-60 28-60 29-60 28-60 29-60 28-60 28-60 29-60 28-60 29-60 29-60 28-60 29-60 29-60 28-60 29-60 29-60 29-60 29-60 30-60 29-60 29-60 30-60 29-60 30-60 30-60 30-60 30-60 30-60 30-60 30-60" stroke="#f1000e"/><path d="M12947 6963l3-33 7-60 8-60 8-60 9-60 10-60 10-60 11-60 11-60 11-60 13-60 13-60 13-60 14-60 14-60 15-60 15-60 16-60 16-60 16-60 18-60 17-60 18-60 18-60 19-60 19-60 20-60 20-60 20-60 21-60 21-60 21-60 22-60 22-60 22-60 23-60 23-60 23-60 24-60 23-60 24-60 25-60 24-60 25-60 25-60 25-60 26-60 26-60 26-60 26-60 26-60 26-60 27-60 27-60 27-60 27-60 27-60 28-60 27-60 28-60 27-60 28-60 28-60 28-60 28-60 28-60 28-60 28-60 28-60 29-60 28-60 28-60 29-60 28-60 28-60 28-60 29-60 28-60 28-60 29-60 28-60 28-60 29-60 28-60 29-60 29-60 28-60 29-60 29-60 29-60 29-60 29-60 29-60 29-60 30-60 29-60 30-60 30-60 30-60 30-60 30-60 30-60" stroke="#f0000f"/><path d="M12952 6977l5-47 7-60 8-60 8-60 9-60 10-60 10-60 11-60 11-60 12-60 12-60 13-60 13-60 14-60 14-60 15-60 15-60 16-60 16-60 17-60 17-60 18-60 18-60 18-60 19-60 19-60 20-60 20-60 20-60 21-60 21-60 21-60 22-60 22-60 23-60 23-60 23-60 23-60 24-60 24-60 24-60 24-60 25-60 25-60 25-60 25-60 26-60 26-60 26-60 26-60 27-60 26-60 27-60 27-60 27-60 27-60 27-60 28-60 27-60 28-60 28-60 28-60 28-60 28-60 28-60 28-60 28-60 28-60 29-60 28-60 28-60 28-60 29-60 28-60 28-60 28-60 29-60 28-60 28-60 28-60 28-60 29-60 28-60 29-60 28-60 28-60 29-60 29-60 28-60 29-60 29-60 29-60 29-60 29-60 30-60 29-60 30-60 30-60 30-60 30-60 30-60 30-60" stroke="#ef0010"/><path d="M12976 6943l2-13 7-60 8-60 8-60 9-60 10-60 10-60 11-60 11-60 12-60 12-60 13-60 14-60 13-60 15-60 15-60 15-60 16-60 17-60 16-60 18-60 17-60 19-60 18-60 19-60 20-60 19-60 21-60 20-60 21-60 21-60 22-60 22-60 23-60 22-60 23-60 24-60 23-60 24-60 24-60 25-60 25-60 25-60 25-60 26-60 25-60 26-60 27-60 26-60 27-60 26-60 27-60 28-60 27-60 27-60 28-60 27-60 28-60 28-60 28-60 28-60 28-60 28-60 28-60 29-60 28-60 28-60 29-60 28-60 28-60 28-60 29-60 28-60 28-60 28-60 28-60 28-60 28-60 28-60 28-60 28-60 28-60 28-60 28-60 28-60 28-60 29-60 28-60 28-60 29-60 28-60 29-60 29-60 29-60 29-60 29-60 30-60 30-60 29-60 30-60 31-60 30-60" stroke="#ee0011"/><path d="M12989 6913l5-43 8-60 9-60 9-60 9-60 10-60 11-60 11-60 12-60 13-60 13-60 13-60 14-60 15-60 15-60 15-60 16-60 17-60 16-60 18-60 18-60 18-60 18-60 20-60 19-60 20-60 20-60 21-60 21-60 21-60 22-60 22-60 23-60 23-60 23-60 23-60 24-60 24-60 25-60 24-60 25-60 25-60 26-60 26-60 26-60 26-60 26-60 27-60 26-60 27-60 28-60 27-60 27-60 28-60 27-60 28-60 28-60 28-60 28-60 28-60 29-60 28-60 28-60 28-60 29-60 28-60 28-60 29-60 28-60 28-60 29-60 28-60 28-60 28-60 28-60 28-60 28-60 28-60 27-60 28-60 28-60 28-60 28-60 28-60 28-60 28-60 28-60 28-60 29-60 28-60 29-60 29-60 28-60 29-60 30-60 29-60 30-60 29-60 30-60 31-60 30-60" stroke="#ed0012"/><path d="M13002 6902l4-32 8-60 8-60 9-60 10-60 10-60 11-60 11-60 12-60 13-60 13-60 13-60 14-60 15-60 15-60 16-60 16-60 16-60 17-60 18-60 17-60 19-60 19-60 19-60 19-60 20-60 21-60 21-60 21-60 21-60 22-60 23-60 22-60 23-60 24-60 23-60 24-60 24-60 25-60 25-60 25-60 25-60 26-60 26-60 26-60 26-60 27-60 27-60 27-60 27-60 27-60 28-60 27-60 28-60 28-60 28-60 28-60 28-60 28-60 29-60 28-60 28-60 29-60 28-60 29-60 28-60 29-60 28-60 28-60 28-60 29-60 28-60 28-60 28-60 28-60 27-60 28-60 28-60 28-60 27-60 28-60 28-60 27-60 28-60 28-60 28-60 28-60 28-60 28-60 29-60 28-60 29-60 28-60 29-60 29-60 30-60 29-60 30-60 30-60 30-60 30-60" stroke="#ec0013"/><path d="M13019 6919l6-49 8-60 8-60 9-60 10-60 10-60 11-60 12-60 12-60 12-60 13-60 14-60 14-60 15-60 15-60 15-60 17-60 16-60 17-60 18-60 18-60 18-60 19-60 20-60 20-60 20-60 20-60 21-60 22-60 22-60 22-60 22-60 23-60 23-60 24-60 24-60 24-60 25-60 24-60 26-60 25-60 26-60 26-60 26-60 27-60 26-60 27-60 27-60 28-60 27-60 28-60 28-60 27-60 29-60 28-60 28-60 28-60 29-60 28-60 29-60 28-60 29-60 28-60 29-60 29-60 28-60 29-60 28-60 28-60 29-60 28-60 28-60 28-60 28-60 27-60 28-60 28-60 27-60 28-60 27-60 27-60 28-60 27-60 28-60 27-60 28-60 27-60 28-60 28-60 28-60 28-60 29-60 28-60 29-60 29-60 29-60 29-60 30-60 30-60 30-60 31-60" stroke="#ec0013"/><path d="M13018 6964l4-34 7-60 8-60 8-60 9-60 10-60 10-60 11-60 12-60 12-60 12-60 13-60 14-60 14-60 15-60 15-60 16-60 16-60 17-60 17-60 17-60 18-60 19-60 19-60 19-60 20-60 20-60 21-60 21-60 21-60 22-60 23-60 22-60 23-60 23-60 24-60 24-60 24-60 25-60 25-60 25-60 25-60 26-60 26-60 27-60 26-60 27-60 27-60 27-60 28-60 27-60 28-60 28-60 28-60 28-60 28-60 28-60 29-60 28-60 29-60 28-60 29-60 29-60 28-60 29-60 28-60 29-60 28-60 29-60 28-60 29-60 28-60 28-60 28-60 27-60 28-60 28-60 27-60 28-60 27-60 27-60 28-60 27-60 28-60 27-60 27-60 28-60 28-60 27-60 28-60 28-60 28-60 28-60 29-60 29-60 28-60 30-60 29-60 30-60 29-60 31-60 30-60" stroke="#eb0014"/><path d="M13033 6966l4-36 7-60 8-60 8-60 9-60 10-60 10-60 11-60 12-60 12-60 12-60 14-60 13-60 15-60 14-60 16-60 15-60 17-60 16-60 18-60 17-60 19-60 18-60 19-60 20-60 20-60 20-60 21-60 21-60 22-60 22-60 22-60 23-60 23-60 23-60 24-60 24-60 25-60 25-60 25-60 25-60 26-60 26-60 26-60 27-60 27-60 27-60 27-60 28-60 27-60 28-60 28-60 28-60 28-60 29-60 28-60 29-60 28-60 29-60 29-60 29-60 28-60 29-60 29-60 29-60 28-60 29-60 29-60 28-60 28-60 29-60 28-60 28-60 28-60 27-60 28-60 27-60 28-60 27-60 27-60 27-60 28-60 27-60 27-60 27-60 27-60 28-60 27-60 27-60 28-60 28-60 28-60 28-60 28-60 29-60 28-60 29-60 30-60 29-60 30-60 30-60 31-60" stroke="#ea0015"/><path d="M13041 6978l5-48 7-60 8-60 9-60 9-60 10-60 10-60 11-60 11-60 13-60 12-60 13-60 14-60 14-60 15-60 16-60 15-60 17-60 17-60 17-60 18-60 18-60 19-60 19-60 19-60 20-60 21-60 21-60 21-60 22-60 22-60 22-60 23-60 24-60 23-60 24-60 24-60 25-60 25-60 25-60 26-60 26-60 26-60 26-60 27-60 27-60 27-60 28-60 28-60 27-60 28-60 28-60 29-60 28-60 29-60 28-60 29-60 29-60 29-60 28-60 29-60 29-60 29-60 29-60 29-60 29-60 28-60 29-60 28-60 29-60 28-60 28-60 28-60 28-60 28-60 27-60 27-60 28-60 27-60 27-60 27-60 27-60 27-60 27-60 27-60 27-60 27-60 27-60 28-60 27-60 28-60 28-60 27-60 29-60 28-60 29-60 29-60 29-60 29-60 30-60 30-60 31-60" stroke="#e90016"/><path d="M13056 6972l4-42 8-60 8-60 8-60 9-60 10-60 11-60 11-60 11-60 12-60 13-60 13-60 14-60 14-60 15-60 16-60 16-60 16-60 17-60 17-60 18-60 19-60 19-60 19-60 20-60 20-60 20-60 21-60 22-60 22-60 22-60 23-60 23-60 23-60 24-60 24-60 25-60 24-60 26-60 25-60 26-60 26-60 27-60 26-60 27-60 28-60 27-60 28-60 28-60 28-60 28-60 28-60 29-60 28-60 29-60 29-60 29-60 29-60 29-60 29-60 29-60 29-60 29-60 29-60 29-60 29-60 29-60 28-60 29-60 28-60 29-60 28-60 28-60 27-60 28-60 27-60 28-60 27-60 27-60 27-60 26-60 27-60 27-60 27-60 26-60 27-60 27-60 27-60 27-60 28-60 27-60 28-60 27-60 28-60 29-60 28-60 29-60 29-60 29-60 30-60 30-60 31-60" stroke="#e80017"/><path d="M13065 6941l1-11 7-60 8-60 9-60 9-60 10-60 10-60 11-60 12-60 12-60 13-60 13-60 14-60 14-60 15-60 15-60 16-60 17-60 17-60 17-60 18-60 19-60 19-60 19-60 20-60 20-60 21-60 21-60 21-60 22-60 22-60 23-60 23-60 24-60 24-60 24-60 24-60 25-60 26-60 25-60 26-60 26-60 27-60 27-60 27-60 27-60 28-60 28-60 28-60 28-60 28-60 29-60 28-60 29-60 29-60 29-60 29-60 29-60 29-60 29-60 29-60 29-60 29-60 29-60 29-60 29-60 29-60 29-60 28-60 29-60 28-60 28-60 28-60 28-60 27-60 28-60 27-60 27-60 27-60 26-60 27-60 27-60 27-60 26-60 27-60 27-60 27-60 26-60 27-60 28-60 27-60 28-60 27-60 28-60 28-60 29-60 29-60 29-60 29-60 30-60 30-60 31-60" stroke="#e70018"/><path d="M13085 6940l1-10 7-60 8-60 9-60 9-60 10-60 10-60 12-60 11-60 12-60 13-60 14-60 14-60 14-60 15-60 16-60 16-60 16-60 17-60 18-60 18-60 19-60 19-60 19-60 20-60 21-60 20-60 22-60 21-60 23-60 22-60 23-60 23-60 24-60 24-60 25-60 25-60 25-60 26-60 25-60 27-60 26-60 27-60 27-60 28-60 27-60 28-60 29-60 28-60 28-60 29-60 29-60 29-60 29-60 29-60 29-60 30-60 29-60 30-60 29-60 29-60 30-60 29-60 29-60 29-60 29-60 29-60 29-60 29-60 28-60 28-60 28-60 28-60 28-60 27-60 27-60 27-60 27-60 27-60 26-60 27-60 26-60 27-60 26-60 26-60 27-60 26-60 27-60 27-60 27-60 27-60 27-60 27-60 28-60 28-60 28-60 29-60 29-60 29-60 30-60 30-60 31-60" stroke="#e60019"/><path d="M13100 6920l6-50 8-60 9-60 9-60 10-60 10-60 12-60 11-60 13-60 13-60 13-60 14-60 15-60 15-60 15-60 16-60 17-60 17-60 18-60 18-60 19-60 19-60 19-60 21-60 20-60 21-60 22-60 21-60 23-60 22-60 23-60 24-60 24-60 24-60 25-60 25-60 25-60 26-60 26-60 27-60 26-60 28-60 27-60 28-60 28-60 28-60 28-60 29-60 28-60 29-60 29-60 30-60 29-60 29-60 30-60 29-60 30-60 29-60 30-60 30-60 29-60 29-60 30-60 29-60 29-60 29-60 29-60 29-60 28-60 28-60 29-60 27-60 28-60 27-60 27-60 27-60 27-60 26-60 27-60 26-60 26-60 26-60 26-60 27-60 26-60 26-60 27-60 26-60 27-60 27-60 27-60 27-60 27-60 28-60 28-60 29-60 29-60 29-60 30-60 30-60 31-60" stroke="#e5001a"/><path d="M13104 6931l0-1 7-60 8-60 9-60 9-60 10-60 11-60 11-60 12-60 12-60 13-60 13-60 14-60 15-60 15-60 16-60 16-60 17-60 17-60 18-60 18-60 18-60 20-60 19-60 20-60 21-60 21-60 22-60 21-60 23-60 23-60 23-60 23-60 24-60 25-60 24-60 26-60 25-60 26-60 26-60 27-60 26-60 28-60 27-60 28-60 28-60 28-60 29-60 28-60 29-60 29-60 29-60 30-60 29-60 30-60 29-60 30-60 29-60 30-60 30-60 29-60 30-60 29-60 30-60 29-60 29-60 29-60 29-60 29-60 28-60 28-60 28-60 28-60 28-60 27-60 27-60 27-60 26-60 27-60 26-60 26-60 27-60 26-60 26-60 26-60 26-60 26-60 26-60 27-60 26-60 27-60 27-60 27-60 28-60 28-60 28-60 28-60 29-60 29-60 30-60 30-60 31-60" stroke="#e4001b"/><path d="M13121 6903l4-33 8-60 9-60 9-60 10-60 11-60 11-60 12-60 12-60 13-60 14-60 14-60 14-60 16-60 15-60 17-60 16-60 18-60 18-60 18-60 19-60 19-60 20-60 20-60 21-60 21-60 22-60 22-60 22-60 23-60 23-60 24-60 24-60 25-60 25-60 25-60 26-60 26-60 26-60 27-60 27-60 28-60 27-60 28-60 29-60 28-60 29-60 29-60 29-60 29-60 29-60 30-60 30-60 29-60 30-60 30-60 30-60 30-60 29-60 30-60 30-60 29-60 30-60 29-60 30-60 29-60 29-60 29-60 28-60 28-60 28-60 28-60 28-60 27-60 27-60 26-60 27-60 26-60 26-60 26-60 26-60 26-60 26-60 26-60 26-60 26-60 26-60 26-60 26-60 27-60 27-60 27-60 27-60 28-60 28-60 28-60 29-60 29-60 30-60 30-60 30-60" stroke="#e3001c"/><path d="M13128 6925l7-55 8-60 9-60 9-60 10-60 11-60 11-60 12-60 12-60 13-60 14-60 14-60 14-60 16-60 15-60 17-60 17-60 17-60 18-60 18-60 19-60 20-60 19-60 21-60 21-60 21-60 22-60 22-60 22-60 23-60 24-60 24-60 24-60 25-60 25-60 25-60 26-60 26-60 27-60 27-60 27-60 27-60 28-60 29-60 28-60 29-60 29-60 29-60 29-60 29-60 30-60 30-60 29-60 30-60 30-60 30-60 30-60 30-60 30-60 30-60 30-60 29-60 30-60 30-60 29-60 29-60 29-60 29-60 28-60 29-60 28-60 27-60 28-60 27-60 27-60 26-60 27-60 26-60 26-60 26-60 25-60 26-60 26-60 26-60 25-60 26-60 26-60 26-60 26-60 27-60 26-60 27-60 28-60 27-60 28-60 28-60 29-60 29-60 30-60 30-60 31-60" stroke="#e2001d"/><path d="M13138 6977l5-47 8-60 8-60 8-60 10-60 10-60 10-60 12-60 12-60 12-60 13-60 14-60 14-60 15-60 15-60 16-60 16-60 17-60 18-60 18-60 18-60 19-60 20-60 20-60 20-60 21-60 22-60 21-60 23-60 23-60 23-60 23-60 24-60 25-60 25-60 25-60 26-60 26-60 26-60 27-60 27-60 28-60 28-60 28-60 28-60 29-60 29-60 29-60 29-60 30-60 30-60 30-60 30-60 30-60 30-60 30-60 30-60 30-60 30-60 31-60 30-60 30-60 30-60 29-60 30-60 29-60 30-60 29-60 29-60 28-60 28-60 28-60 28-60 27-60 27-60 27-60 26-60 27-60 26-60 25-60 26-60 26-60 25-60 26-60 25-60 26-60 25-60 26-60 26-60 26-60 26-60 26-60 27-60 27-60 27-60 28-60 28-60 29-60 29-60 30-60 30-60 31-60" stroke="#e1001e"/><path d="M13156 6906l5-36 8-60 8-60 10-60 10-60 11-60 11-60 12-60 12-60 13-60 14-60 14-60 15-60 16-60 16-60 16-60 17-60 18-60 18-60 18-60 19-60 20-60 20-60 21-60 21-60 21-60 22-60 22-60 23-60 24-60 23-60 25-60 24-60 25-60 26-60 25-60 27-60 26-60 27-60 28-60 27-60 28-60 29-60 28-60 29-60 29-60 30-60 29-60 30-60 30-60 30-60 30-60 30-60 30-60 31-60 30-60 31-60 30-60 30-60 30-60 30-60 30-60 30-60 30-60 30-60 29-60 29-60 29-60 28-60 29-60 28-60 27-60 28-60 26-60 27-60 26-60 26-60 26-60 26-60 25-60 26-60 25-60 26-60 25-60 25-60 26-60 25-60 26-60 26-60 26-60 26-60 27-60 27-60 27-60 27-60 29-60 28-60 29-60 30-60 30-60 31-60" stroke="#e0001f"/><path d="M13164 6979l5-49 7-60 8-60 9-60 9-60 11-60 10-60 12-60 12-60 12-60 13-60 14-60 14-60 15-60 16-60 16-60 16-60 17-60 18-60 18-60 19-60 19-60 20-60 20-60 21-60 21-60 22-60 22-60 22-60 23-60 24-60 24-60 24-60 25-60 25-60 26-60 26-60 26-60 27-60 27-60 28-60 28-60 28-60 29-60 29-60 29-60 29-60 30-60 30-60 30-60 30-60 30-60 31-60 30-60 31-60 30-60 31-60 30-60 31-60 30-60 31-60 30-60 30-60 30-60 30-60 30-60 29-60 29-60 29-60 29-60 28-60 28-60 28-60 27-60 27-60 26-60 26-60 26-60 26-60 25-60 26-60 25-60 25-60 25-60 25-60 25-60 25-60 26-60 25-60 26-60 25-60 27-60 26-60 27-60 27-60 27-60 28-60 29-60 29-60 29-60 30-60 31-60" stroke="#df0020"/><path d="M13171 6979l5-49 7-60 8-60 9-60 10-60 10-60 10-60 12-60 12-60 12-60 14-60 13-60 15-60 15-60 15-60 16-60 17-60 17-60 18-60 18-60 19-60 19-60 20-60 20-60 21-60 21-60 22-60 22-60 23-60 23-60 23-60 24-60 25-60 25-60 25-60 26-60 26-60 26-60 27-60 28-60 27-60 28-60 29-60 28-60 29-60 30-60 29-60 30-60 30-60 30-60 30-60 31-60 30-60 31-60 31-60 30-60 31-60 31-60 30-60 31-60 30-60 31-60 30-60 30-60 30-60 30-60 29-60 29-60 29-60 29-60 28-60 28-60 28-60 27-60 27-60 26-60 26-60 26-60 25-60 26-60 25-60 25-60 25-60 25-60 25-60 25-60 25-60 25-60 26-60 25-60 26-60 26-60 26-60 27-60 27-60 27-60 28-60 28-60 29-60 30-60 30-60 31-60" stroke="#df0020"/><path d="M13183 6971l4-41 8-60 8-60 9-60 9-60 10-60 11-60 11-60 12-60 13-60 13-60 14-60 15-60 15-60 15-60 16-60 17-60 17-60 18-60 18-60 19-60 19-60 20-60 21-60 21-60 21-60 22-60 22-60 23-60 23-60 24-60 24-60 25-60 25-60 25-60 26-60 26-60 27-60 27-60 28-60 27-60 29-60 28-60 29-60 29-60 30-60 30-60 30-60 30-60 30-60 31-60 30-60 31-60 31-60 31-60 31-60 30-60 31-60 31-60 31-60 30-60 31-60 30-60 30-60 30-60 30-60 30-60 29-60 29-60 29-60 28-60 28-60 27-60 27-60 27-60 26-60 26-60 26-60 25-60 26-60 25-60 25-60 24-60 25-60 25-60 25-60 25-60 25-60 25-60 25-60 26-60 26-60 26-60 26-60 27-60 27-60 28-60 29-60 29-60 29-60 30-60 31-60" stroke="#de0021"/><path d="M13209 6901l4-31 8-60 9-60 9-60 11-60 10-60 12-60 12-60 13-60 13-60 14-60 14-60 15-60 16-60 16-60 17-60 17-60 18-60 19-60 19-60 19-60 20-60 21-60 21-60 21-60 22-60 23-60 23-60 23-60 24-60 25-60 24-60 26-60 25-60 27-60 26-60 27-60 27-60 28-60 28-60 29-60 29-60 29-60 30-60 29-60 30-60 31-60 30-60 31-60 31-60 31-60 31-60 31-60 31-60 31-60 31-60 31-60 31-60 31-60 31-60 31-60 31-60 30-60 30-60 30-60 30-60 29-60 29-60 29-60 28-60 28-60 27-60 27-60 27-60 26-60 26-60 25-60 25-60 25-60 25-60 25-60 24-60 25-60 24-60 25-60 24-60 25-60 25-60 25-60 25-60 26-60 26-60 26-60 27-60 27-60 28-60 28-60 29-60 29-60 30-60 31-60" stroke="#dd0022"/><path d="M13209 6955l3-25 7-60 8-60 9-60 9-60 11-60 10-60 12-60 12-60 13-60 13-60 14-60 15-60 15-60 15-60 17-60 17-60 17-60 18-60 18-60 19-60 20-60 20-60 20-60 22-60 21-60 22-60 23-60 23-60 23-60 24-60 25-60 25-60 25-60 26-60 26-60 27-60 27-60 27-60 28-60 28-60 29-60 29-60 29-60 30-60 30-60 30-60 30-60 31-60 31-60 31-60 31-60 31-60 31-60 31-60 32-60 31-60 31-60 31-60 31-60 31-60 31-60 31-60 30-60 30-60 30-60 30-60 29-60 29-60 29-60 28-60 28-60 27-60 27-60 27-60 26-60 26-60 25-60 25-60 25-60 25-60 25-60 24-60 24-60 25-60 24-60 25-60 24-60 25-60 25-60 25-60 26-60 26-60 26-60 26-60 28-60 27-60 28-60 29-60 30-60 30-60 31-60" stroke="#dc0023"/><path d="M13222 6949l2-19 7-60 9-60 8-60 10-60 10-60 11-60 12-60 12-60 13-60 13-60 14-60 15-60 15-60 15-60 17-60 17-60 17-60 18-60 19-60 19-60 19-60 21-60 20-60 22-60 21-60 22-60 23-60 23-60 24-60 24-60 25-60 25-60 25-60 26-60 27-60 26-60 28-60 27-60 28-60 29-60 29-60 29-60 29-60 30-60 30-60 31-60 30-60 31-60 31-60 31-60 32-60 31-60 31-60 32-60 31-60 32-60 31-60 31-60 32-60 31-60 31-60 30-60 31-60 30-60 30-60 30-60 29-60 29-60 29-60 28-60 28-60 28-60 27-60 26-60 26-60 26-60 25-60 25-60 25-60 24-60 25-60 24-60 24-60 24-60 24-60 25-60 24-60 25-60 25-60 25-60 25-60 26-60 26-60 26-60 27-60 28-60 28-60 29-60 29-60 30-60 31-60" stroke="#db0024"/><path d="M13235 6938l1-8 7-60 8-60 9-60 9-60 11-60 11-60 11-60 12-60 13-60 14-60 14-60 14-60 16-60 15-60 17-60 17-60 17-60 18-60 19-60 19-60 20-60 20-60 21-60 21-60 22-60 22-60 23-60 24-60 23-60 25-60 24-60 26-60 25-60 26-60 27-60 27-60 27-60 28-60 28-60 29-60 29-60 29-60 30-60 30-60 30-60 31-60 31-60 31-60 31-60 31-60 32-60 31-60 32-60 32-60 31-60 32-60 32-60 31-60 31-60 32-60 31-60 31-60 30-60 31-60 30-60 30-60 29-60 29-60 29-60 28-60 28-60 27-60 27-60 26-60 26-60 26-60 25-60 25-60 24-60 25-60 24-60 24-60 24-60 24-60 24-60 24-60 25-60 24-60 25-60 24-60 26-60 25-60 26-60 26-60 27-60 28-60 28-60 29-60 29-60 30-60 31-60" stroke="#da0025"/><path d="M13246 6968l4-38 8-60 8-60 9-60 9-60 10-60 11-60 12-60 12-60 13-60 14-60 14-60 15-60 15-60 16-60 16-60 17-60 18-60 18-60 19-60 19-60 20-60 20-60 21-60 22-60 22-60 22-60 23-60 23-60 24-60 25-60 25-60 25-60 26-60 26-60 27-60 27-60 28-60 28-60 28-60 29-60 29-60 30-60 30-60 30-60 31-60 31-60 31-60 31-60 32-60 31-60 32-60 32-60 32-60 32-60 31-60 32-60 32-60 32-60 31-60 32-60 31-60 31-60 31-60 30-60 30-60 30-60 30-60 29-60 29-60 28-60 28-60 27-60 27-60 26-60 26-60 25-60 25-60 25-60 24-60 25-60 24-60 23-60 24-60 24-60 24-60 24-60 24-60 24-60 24-60 25-60 25-60 25-60 26-60 26-60 27-60 27-60 28-60 29-60 29-60 30-60 31-60" stroke="#d90026"/><path d="M13258 6945l2-15 7-60 8-60 9-60 10-60 10-60 11-60 12-60 12-60 13-60 14-60 14-60 15-60 15-60 16-60 16-60 18-60 17-60 19-60 18-60 20-60 20-60 20-60 21-60 22-60 22-60 22-60 23-60 24-60 24-60 24-60 25-60 26-60 26-60 26-60 27-60 27-60 28-60 28-60 29-60 29-60 29-60 30-60 30-60 31-60 31-60 31-60 31-60 31-60 32-60 32-60 32-60 32-60 32-60 32-60 32-60 32-60 32-60 32-60 31-60 32-60 31-60 31-60 31-60 31-60 30-60 30-60 29-60 30-60 28-60 29-60 27-60 28-60 26-60 27-60 25-60 26-60 25-60 24-60 24-60 24-60 24-60 24-60 24-60 23-60 24-60 24-60 23-60 24-60 25-60 24-60 25-60 25-60 26-60 26-60 27-60 27-60 28-60 28-60 30-60 30-60 31-60" stroke="#d80027"/><path d="M13271 6931l0-1 8-60 8-60 9-60 10-60 10-60 11-60 12-60 12-60 13-60 14-60 14-60 15-60 15-60 16-60 17-60 17-60 18-60 18-60 19-60 19-60 20-60 21-60 21-60 22-60 22-60 22-60 24-60 23-60 24-60 25-60 25-60 26-60 26-60 26-60 27-60 28-60 28-60 28-60 29-60 29-60 30-60 30-60 30-60 31-60 31-60 31-60 32-60 31-60 32-60 32-60 32-60 32-60 33-60 32-60 32-60 32-60 32-60 32-60 32-60 32-60 31-60 32-60 31-60 30-60 31-60 30-60 29-60 29-60 29-60 29-60 27-60 28-60 26-60 26-60 26-60 25-60 25-60 24-60 24-60 24-60 24-60 24-60 23-60 23-60 24-60 23-60 24-60 24-60 24-60 24-60 25-60 25-60 26-60 26-60 26-60 27-60 28-60 29-60 29-60 30-60 31-60" stroke="#d70028"/><path d="M13288 6907l5-37 8-60 9-60 9-60 11-60 11-60 12-60 12-60 13-60 14-60 14-60 15-60 15-60 16-60 17-60 17-60 18-60 19-60 19-60 19-60 20-60 21-60 21-60 22-60 22-60 23-60 23-60 24-60 24-60 25-60 25-60 26-60 27-60 26-60 27-60 28-60 28-60 29-60 29-60 29-60 30-60 30-60 31-60 31-60 31-60 32-60 31-60 32-60 32-60 33-60 32-60 32-60 33-60 32-60 33-60 32-60 32-60 32-60 32-60 32-60 32-60 31-60 31-60 31-60 31-60 30-60 30-60 29-60 29-60 28-60 28-60 27-60 26-60 26-60 26-60 25-60 25-60 24-60 24-60 23-60 24-60 23-60 24-60 23-60 23-60 23-60 24-60 23-60 24-60 24-60 25-60 25-60 25-60 26-60 26-60 27-60 28-60 29-60 29-60 30-60 31-60" stroke="#d60029"/><path d="M13296 6975l5-45 7-60 8-60 9-60 10-60 10-60 11-60 12-60 13-60 13-60 14-60 14-60 15-60 15-60 17-60 16-60 18-60 18-60 18-60 19-60 20-60 20-60 21-60 21-60 22-60 23-60 22-60 24-60 24-60 24-60 25-60 26-60 26-60 26-60 27-60 28-60 28-60 28-60 29-60 29-60 30-60 30-60 30-60 31-60 31-60 32-60 32-60 32-60 32-60 32-60 33-60 32-60 33-60 33-60 32-60 33-60 33-60 32-60 33-60 32-60 32-60 32-60 31-60 31-60 31-60 31-60 30-60 30-60 29-60 29-60 28-60 28-60 27-60 27-60 26-60 25-60 25-60 24-60 24-60 24-60 24-60 23-60 23-60 23-60 23-60 23-60 23-60 23-60 24-60 23-60 24-60 24-60 25-60 25-60 26-60 26-60 27-60 28-60 28-60 29-60 30-60 31-60" stroke="#d5002a"/><path d="M13317 6935l0-5 8-60 8-60 9-60 10-60 10-60 11-60 12-60 13-60 13-60 14-60 14-60 15-60 16-60 16-60 17-60 17-60 18-60 19-60 19-60 20-60 20-60 21-60 22-60 22-60 22-60 23-60 24-60 24-60 25-60 25-60 26-60 26-60 27-60 27-60 27-60 28-60 29-60 29-60 30-60 30-60 30-60 31-60 31-60 31-60 32-60 32-60 33-60 32-60 33-60 32-60 33-60 33-60 33-60 33-60 33-60 33-60 33-60 33-60 32-60 32-60 32-60 32-60 31-60 31-60 31-60 30-60 30-60 30-60 28-60 29-60 27-60 28-60 26-60 26-60 25-60 25-60 24-60 24-60 23-60 24-60 23-60 22-60 23-60 23-60 23-60 22-60 23-60 23-60 24-60 24-60 24-60 24-60 25-60 26-60 26-60 27-60 27-60 28-60 30-60 30-60 31-60" stroke="#d4002b"/><path d="M13315 6975l5-45 8-60 8-60 9-60 10-60 10-60 12-60 11-60 13-60 13-60 14-60 14-60 15-60 16-60 16-60 17-60 18-60 18-60 18-60 20-60 19-60 21-60 21-60 21-60 22-60 23-60 23-60 24-60 24-60 25-60 25-60 26-60 26-60 26-60 28-60 27-60 29-60 28-60 29-60 30-60 30-60 30-60 31-60 31-60 32-60 32-60 32-60 32-60 33-60 32-60 33-60 33-60 33-60 33-60 33-60 33-60 33-60 33-60 33-60 32-60 33-60 32-60 31-60 32-60 31-60 31-60 30-60 30-60 29-60 29-60 28-60 28-60 27-60 26-60 26-60 25-60 25-60 24-60 24-60 24-60 23-60 23-60 23-60 22-60 23-60 23-60 22-60 23-60 23-60 24-60 23-60 24-60 25-60 25-60 25-60 26-60 27-60 28-60 28-60 29-60 30-60 31-60" stroke="#d3002c"/><path d="M13329 6943l2-13 7-60 8-60 9-60 10-60 11-60 11-60 12-60 12-60 14-60 13-60 15-60 15-60 16-60 16-60 17-60 17-60 19-60 18-60 20-60 20-60 20-60 21-60 22-60 22-60 22-60 24-60 23-60 25-60 25-60 25-60 26-60 26-60 27-60 27-60 28-60 28-60 29-60 29-60 30-60 30-60 31-60 31-60 31-60 32-60 32-60 32-60 33-60 33-60 33-60 33-60 33-60 33-60 33-60 33-60 33-60 34-60 33-60 32-60 33-60 32-60 33-60 31-60 32-60 31-60 31-60 30-60 30-60 30-60 28-60 29-60 27-60 27-60 27-60 26-60 25-60 24-60 24-60 24-60 23-60 23-60 23-60 23-60 22-60 23-60 22-60 23-60 23-60 23-60 23-60 23-60 24-60 24-60 25-60 26-60 26-60 26-60 28-60 28-60 29-60 30-60 31-60" stroke="#d2002d"/><path d="M13346 6908l4-38 9-60 9-60 9-60 11-60 11-60 12-60 13-60 13-60 14-60 14-60 16-60 15-60 17-60 17-60 17-60 19-60 18-60 20-60 20-60 20-60 21-60 22-60 22-60 23-60 24-60 23-60 25-60 25-60 25-60 26-60 27-60 27-60 27-60 28-60 29-60 29-60 29-60 30-60 30-60 31-60 31-60 32-60 32-60 32-60 33-60 33-60 32-60 34-60 33-60 33-60 34-60 33-60 33-60 34-60 33-60 33-60 33-60 33-60 33-60 32-60 32-60 31-60 32-60 31-60 30-60 30-60 29-60 29-60 29-60 27-60 27-60 27-60 25-60 25-60 25-60 24-60 23-60 23-60 23-60 23-60 22-60 23-60 22-60 22-60 23-60 22-60 23-60 23-60 23-60 24-60 24-60 25-60 25-60 26-60 27-60 27-60 28-60 29-60 30-60 31-60" stroke="#d2002d"/><path d="M13353 6916l6-46 9-60 9-60 9-60 11-60 11-60 12-60 13-60 13-60 14-60 15-60 15-60 16-60 16-60 17-60 18-60 18-60 19-60 19-60 20-60 21-60 21-60 22-60 22-60 23-60 24-60 24-60 24-60 25-60 26-60 26-60 27-60 27-60 27-60 28-60 29-60 29-60 30-60 30-60 30-60 31-60 32-60 31-60 32-60 33-60 32-60 33-60 34-60 33-60 33-60 34-60 33-60 34-60 33-60 34-60 33-60 34-60 33-60 33-60 32-60 33-60 32-60 31-60 32-60 31-60 30-60 30-60 30-60 29-60 28-60 28-60 27-60 26-60 25-60 25-60 25-60 24-60 23-60 23-60 23-60 22-60 23-60 22-60 22-60 22-60 22-60 23-60 22-60 23-60 23-60 24-60 24-60 25-60 25-60 26-60 26-60 27-60 29-60 29-60 30-60 31-60" stroke="#d1002e"/><path d="M13373 6902l4-32 8-60 9-60 10-60 11-60 11-60 12-60 13-60 13-60 14-60 15-60 15-60 16-60 16-60 17-60 18-60 19-60 19-60 19-60 20-60 21-60 21-60 22-60 23-60 23-60 24-60 24-60 24-60 26-60 25-60 27-60 27-60 27-60 28-60 28-60 29-60 29-60 30-60 30-60 31-60 31-60 32-60 32-60 33-60 32-60 33-60 33-60 34-60 33-60 34-60 34-60 34-60 34-60 34-60 33-60 34-60 34-60 33-60 33-60 33-60 33-60 32-60 32-60 31-60 31-60 31-60 30-60 29-60 29-60 29-60 27-60 27-60 26-60 26-60 25-60 24-60 24-60 23-60 23-60 22-60 22-60 22-60 22-60 22-60 22-60 22-60 22-60 22-60 23-60 23-60 23-60 24-60 25-60 25-60 25-60 27-60 27-60 28-60 29-60 30-60 31-60" stroke="#d0002f"/><path d="M13382 6973l5-43 7-60 8-60 10-60 10-60 10-60 12-60 12-60 12-60 14-60 14-60 15-60 15-60 16-60 17-60 17-60 18-60 18-60 19-60 20-60 20-60 21-60 22-60 22-60 22-60 24-60 23-60 25-60 25-60 25-60 26-60 27-60 27-60 27-60 28-60 29-60 29-60 29-60 31-60 30-60 31-60 32-60 32-60 32-60 33-60 33-60 33-60 34-60 33-60 34-60 34-60 34-60 35-60 34-60 34-60 34-60 34-60 34-60 33-60 34-60 33-60 32-60 33-60 32-60 32-60 31-60 31-60 30-60 29-60 29-60 29-60 27-60 27-60 26-60 25-60 25-60 24-60 24-60 23-60 22-60 23-60 21-60 22-60 22-60 22-60 21-60 22-60 22-60 22-60 22-60 23-60 23-60 23-60 25-60 24-60 26-60 26-60 27-60 28-60 29-60 30-60 31-60" stroke="#cf0030"/><path d="M13394 6930l0 0 7-60 9-60 9-60 10-60 10-60 12-60 12-60 13-60 13-60 14-60 15-60 15-60 16-60 17-60 17-60 18-60 19-60 19-60 20-60 20-60 21-60 21-60 23-60 22-60 24-60 23-60 25-60 25-60 25-60 26-60 27-60 27-60 28-60 28-60 29-60 29-60 29-60 31-60 30-60 32-60 31-60 32-60 33-60 33-60 33-60 33-60 34-60 34-60 34-60 34-60 34-60 34-60 35-60 34-60 34-60 34-60 34-60 34-60 33-60 33-60 33-60 33-60 32-60 32-60 31-60 31-60 30-60 29-60 29-60 29-60 27-60 27-60 26-60 25-60 25-60 24-60 23-60 23-60 23-60 22-60 22-60 22-60 21-60 22-60 21-60 22-60 21-60 22-60 23-60 22-60 23-60 24-60 24-60 24-60 26-60 26-60 27-60 28-60 29-60 30-60 31-60" stroke="#ce0031"/><path d="M13404 6944l1-14 8-60 8-60 9-60 10-60 11-60 12-60 12-60 13-60 13-60 14-60 15-60 15-60 16-60 17-60 18-60 18-60 18-60 19-60 20-60 21-60 21-60 21-60 23-60 22-60 24-60 24-60 24-60 25-60 26-60 26-60 27-60 27-60 28-60 28-60 29-60 29-60 30-60 31-60 31-60 31-60 32-60 32-60 33-60 33-60 33-60 34-60 34-60 34-60 34-60 34-60 35-60 34-60 35-60 34-60 35-60 34-60 34-60 34-60 33-60 34-60 33-60 32-60 33-60 31-60 32-60 30-60 31-60 29-60 29-60 29-60 27-60 27-60 26-60 25-60 25-60 24-60 23-60 23-60 22-60 22-60 22-60 21-60 22-60 21-60 21-60 22-60 21-60 22-60 22-60 22-60 23-60 24-60 23-60 25-60 25-60 26-60 27-60 28-60 29-60 30-60 32-60" stroke="#cd0032"/><path d="M13422 6914l5-44 9-60 9-60 10-60 11-60 11-60 12-60 13-60 14-60 14-60 15-60 15-60 16-60 17-60 18-60 18-60 18-60 20-60 20-60 20-60 21-60 22-60 22-60 23-60 24-60 24-60 25-60 25-60 26-60 26-60 27-60 27-60 28-60 29-60 29-60 29-60 31-60 30-60 31-60 32-60 32-60 32-60 33-60 34-60 33-60 34-60 34-60 35-60 34-60 35-60 34-60 35-60 35-60 34-60 35-60 34-60 35-60 34-60 34-60 33-60 33-60 33-60 33-60 31-60 32-60 31-60 30-60 30-60 29-60 28-60 28-60 26-60 26-60 25-60 25-60 24-60 23-60 22-60 22-60 22-60 22-60 21-60 21-60 21-60 21-60 21-60 22-60 21-60 22-60 22-60 23-60 23-60 24-60 24-60 25-60 26-60 27-60 28-60 29-60 30-60 31-60" stroke="#cc0033"/><path d="M13425 6917l6-47 8-60 10-60 10-60 10-60 12-60 12-60 13-60 14-60 14-60 15-60 15-60 16-60 17-60 18-60 18-60 18-60 20-60 20-60 20-60 22-60 21-60 23-60 23-60 23-60 24-60 25-60 25-60 26-60 27-60 27-60 27-60 28-60 29-60 29-60 29-60 30-60 31-60 31-60 32-60 32-60 33-60 33-60 33-60 34-60 34-60 34-60 34-60 35-60 34-60 35-60 35-60 35-60 35-60 34-60 35-60 34-60 34-60 34-60 34-60 33-60 33-60 32-60 32-60 31-60 31-60 31-60 29-60 29-60 29-60 27-60 27-60 26-60 25-60 24-60 24-60 23-60 23-60 22-60 22-60 21-60 21-60 21-60 21-60 21-60 21-60 22-60 21-60 22-60 22-60 23-60 23-60 24-60 24-60 25-60 26-60 27-60 28-60 29-60 30-60 31-60" stroke="#d1002e"/><path d="M13433 6902l4-32 8-60 9-60 10-60 11-60 12-60 12-60 13-60 14-60 15-60 15-60 15-60 17-60 17-60 17-60 19-60 19-60 19-60 20-60 21-60 21-60 22-60 23-60 23-60 23-60 25-60 25-60 25-60 26-60 26-60 28-60 27-60 28-60 29-60 29-60 30-60 30-60 31-60 31-60 32-60 33-60 32-60 33-60 34-60 34-60 34-60 35-60 34-60 35-60 35-60 35-60 35-60 35-60 35-60 35-60 35-60 34-60 35-60 34-60 34-60 33-60 33-60 33-60 32-60 32-60 31-60 31-60 30-60 30-60 28-60 28-60 27-60 27-60 25-60 25-60 24-60 23-60 23-60 23-60 22-60 22-60 21-60 22-60 21-60 21-60 22-60 22-60 21-60 22-60 23-60 23-60 23-60 24-60 25-60 25-60 27-60 27-60 28-60 29-60 30-60 32-60" stroke="#cf0030"/><path d="M13439 6909l4-39 9-60 9-60 10-60 11-60 12-60 13-60 13-60 14-60 15-60 15-60 16-60 17-60 17-60 18-60 18-60 19-60 20-60 20-60 21-60 22-60 22-60 22-60 24-60 23-60 25-60 25-60 25-60 27-60 26-60 27-60 28-60 29-60 28-60 30-60 30-60 30-60 31-60 32-60 32-60 32-60 33-60 34-60 33-60 35-60 34-60 35-60 35-60 35-60 35-60 35-60 36-60 35-60 35-60 35-60 36-60 35-60 34-60 35-60 34-60 34-60 33-60 34-60 32-60 32-60 32-60 31-60 31-60 29-60 29-60 29-60 27-60 27-60 26-60 25-60 25-60 24-60 23-60 23-60 22-60 23-60 22-60 22-60 21-60 22-60 22-60 22-60 22-60 23-60 23-60 23-60 24-60 24-60 25-60 26-60 27-60 27-60 29-60 29-60 31-60 31-60" stroke="#ce0031"/><path d="M13448 6923l6-53 8-60 9-60 11-60 11-60 13-60 13-60 14-60 14-60 15-60 16-60 16-60 17-60 18-60 18-60 19-60 19-60 20-60 20-60 22-60 21-60 23-60 23-60 23-60 24-60 25-60 25-60 26-60 26-60 27-60 28-60 28-60 28-60 29-60 30-60 30-60 31-60 31-60 32-60 32-60 33-60 34-60 33-60 35-60 34-60 35-60 35-60 35-60 36-60 36-60 35-60 36-60 36-60 36-60 36-60 35-60 36-60 35-60 35-60 35-60 35-60 34-60 33-60 34-60 33-60 32-60 31-60 32-60 30-60 30-60 29-60 28-60 27-60 27-60 26-60 25-60 25-60 24-60 24-60 23-60 23-60 23-60 22-60 23-60 22-60 23-60 23-60 23-60 23-60 23-60 24-60 25-60 25-60 25-60 27-60 27-60 28-60 29-60 30-60 31-60 32-60" stroke="#cc0033"/><path d="M13453 6936l0-6 6-60 8-60 10-60 10-60 12-60 12-60 14-60 14-60 14-60 16-60 16-60 16-60 17-60 18-60 18-60 19-60 20-60 20-60 20-60 22-60 22-60 22-60 23-60 24-60 24-60 25-60 25-60 26-60 26-60 27-60 28-60 28-60 29-60 29-60 30-60 30-60 31-60 32-60 32-60 32-60 33-60 34-60 34-60 34-60 35-60 35-60 35-60 36-60 35-60 36-60 36-60 36-60 37-60 36-60 36-60 36-60 35-60 36-60 35-60 35-60 35-60 35-60 34-60 33-60 33-60 33-60 32-60 31-60 31-60 30-60 30-60 28-60 28-60 27-60 26-60 26-60 25-60 24-60 24-60 24-60 23-60 23-60 23-60 23-60 23-60 23-60 23-60 23-60 24-60 24-60 24-60 25-60 25-60 26-60 27-60 27-60 28-60 29-60 30-60 32-60 32-60" stroke="#cb0034"/><path d="M13461 6972l3-42 6-60 7-60 10-60 10-60 12-60 13-60 14-60 14-60 16-60 15-60 16-60 17-60 18-60 18-60 18-60 20-60 19-60 21-60 21-60 21-60 22-60 23-60 23-60 24-60 25-60 25-60 25-60 26-60 27-60 27-60 28-60 29-60 29-60 29-60 30-60 31-60 31-60 32-60 32-60 33-60 33-60 34-60 34-60 35-60 35-60 36-60 35-60 36-60 37-60 36-60 36-60 37-60 36-60 37-60 36-60 37-60 36-60 36-60 36-60 36-60 35-60 35-60 35-60 34-60 34-60 33-60 33-60 32-60 31-60 31-60 30-60 29-60 28-60 28-60 27-60 26-60 26-60 25-60 25-60 24-60 24-60 24-60 24-60 23-60 24-60 23-60 24-60 24-60 24-60 25-60 25-60 25-60 26-60 26-60 27-60 28-60 29-60 30-60 30-60 32-60 32-60" stroke="#c90036"/><path d="M13477 6907l4-37 7-60 9-60 11-60 12-60 14-60 14-60 15-60 16-60 16-60 16-60 17-60 18-60 19-60 19-60 19-60 20-60 21-60 21-60 22-60 22-60 23-60 24-60 24-60 25-60 25-60 26-60 26-60 27-60 28-60 28-60 28-60 30-60 29-60 31-60 31-60 31-60 32-60 33-60 33-60 34-60 34-60 34-60 36-60 35-60 36-60 36-60 37-60 36-60 37-60 37-60 37-60 37-60 37-60 37-60 37-60 37-60 37-60 36-60 36-60 36-60 36-60 35-60 35-60 34-60 34-60 33-60 33-60 32-60 32-60 30-60 30-60 29-60 29-60 27-60 28-60 26-60 26-60 25-60 25-60 25-60 25-60 24-60 24-60 25-60 24-60 24-60 25-60 25-60 25-60 25-60 26-60 27-60 27-60 28-60 28-60 29-60 30-60 31-60 32-60 33-60" stroke="#c70038"/><path d="M13483 6964l1-34 5-60 7-60 10-60 11-60 12-60 14-60 15-60 15-60 16-60 16-60 17-60 18-60 18-60 18-60 20-60 19-60 21-60 21-60 21-60 22-60 23-60 23-60 24-60 24-60 25-60 25-60 26-60 27-60 27-60 28-60 28-60 29-60 29-60 30-60 31-60 31-60 32-60 32-60 33-60 33-60 34-60 35-60 35-60 35-60 36-60 36-60 37-60 36-60 37-60 38-60 37-60 37-60 38-60 37-60 38-60 37-60 37-60 37-60 37-60 37-60 37-60 36-60 35-60 36-60 34-60 35-60 34-60 33-60 33-60 31-60 32-60 30-60 30-60 29-60 28-60 28-60 27-60 26-60 26-60 26-60 25-60 25-60 25-60 25-60 25-60 25-60 25-60 25-60 25-60 26-60 26-60 26-60 27-60 28-60 28-60 29-60 29-60 31-60 31-60 33-60 33-60" stroke="#c60039"/><path d="M13499 6943l0-13 4-60 7-60 9-60 11-60 13-60 15-60 15-60 16-60 16-60 17-60 17-60 18-60 19-60 19-60 20-60 20-60 21-60 21-60 22-60 22-60 23-60 23-60 24-60 25-60 25-60 26-60 26-60 27-60 28-60 28-60 28-60 29-60 30-60 30-60 31-60 32-60 32-60 33-60 33-60 34-60 34-60 35-60 36-60 36-60 36-60 37-60 37-60 37-60 37-60 38-60 38-60 38-60 38-60 38-60 39-60 38-60 38-60 37-60 38-60 38-60 37-60 37-60 36-60 36-60 36-60 35-60 35-60 34-60 33-60 33-60 32-60 31-60 31-60 30-60 29-60 29-60 27-60 28-60 27-60 26-60 27-60 26-60 26-60 25-60 26-60 26-60 26-60 26-60 26-60 26-60 27-60 27-60 28-60 28-60 29-60 30-60 30-60 31-60 32-60 33-60 34-60" stroke="#c4003b"/><path d="M13511 6971l0-41 4-60 7-60 9-60 11-60 14-60 14-60 16-60 16-60 17-60 18-60 17-60 19-60 19-60 19-60 20-60 21-60 21-60 21-60 22-60 23-60 23-60 24-60 24-60 25-60 26-60 26-60 26-60 28-60 27-60 29-60 28-60 30-60 30-60 31-60 31-60 32-60 32-60 33-60 34-60 34-60 35-60 35-60 36-60 36-60 37-60 37-60 38-60 37-60 38-60 39-60 38-60 39-60 38-60 39-60 39-60 38-60 39-60 39-60 38-60 38-60 38-60 37-60 37-60 37-60 36-60 36-60 36-60 35-60 34-60 33-60 33-60 32-60 32-60 30-60 30-60 30-60 28-60 28-60 28-60 28-60 27-60 27-60 26-60 27-60 26-60 27-60 26-60 27-60 27-60 27-60 28-60 28-60 28-60 29-60 29-60 30-60 31-60 32-60 32-60 34-60 34-60" stroke="#c3003c"/><path d="M13526 6904l2-34 6-60 9-60 12-60 14-60 15-60 16-60 17-60 17-60 18-60 18-60 19-60 20-60 20-60 20-60 21-60 21-60 22-60 23-60 23-60 23-60 24-60 25-60 25-60 26-60 26-60 27-60 27-60 28-60 29-60 29-60 30-60 30-60 31-60 32-60 32-60 32-60 34-60 34-60 34-60 36-60 35-60 37-60 36-60 38-60 37-60 38-60 39-60 38-60 39-60 39-60 39-60 40-60 39-60 39-60 39-60 40-60 39-60 39-60 38-60 39-60 38-60 38-60 38-60 37-60 36-60 36-60 36-60 35-60 34-60 34-60 33-60 32-60 32-60 30-60 31-60 29-60 29-60 29-60 28-60 28-60 28-60 27-60 28-60 27-60 27-60 28-60 27-60 28-60 28-60 28-60 29-60 29-60 29-60 31-60 30-60 32-60 32-60 33-60 34-60 35-60" stroke="#c1003e"/><path d="M13540 6929l2-59 6-60 10-60 12-60 14-60 16-60 17-60 17-60 18-60 18-60 19-60 20-60 19-60 21-60 20-60 22-60 22-60 22-60 23-60 23-60 24-60 24-60 25-60 26-60 26-60 27-60 27-60 28-60 28-60 29-60 29-60 30-60 31-60 31-60 32-60 33-60 33-60 34-60 34-60 35-60 36-60 36-60 37-60 37-60 38-60 38-60 39-60 39-60 39-60 40-60 39-60 40-60 40-60 40-60 40-60 40-60 40-60 40-60 40-60 39-60 39-60 40-60 38-60 39-60 38-60 37-60 37-60 37-60 35-60 36-60 34-60 34-60 33-60 33-60 32-60 31-60 30-60 30-60 30-60 29-60 29-60 29-60 29-60 28-60 28-60 28-60 29-60 28-60 29-60 29-60 29-60 29-60 30-60 31-60 30-60 32-60 32-60 33-60 34-60 34-60 35-60" stroke="#bf0040"/><path d="M13552 6924l2-54 6-60 9-60 12-60 15-60 16-60 17-60 18-60 18-60 19-60 20-60 19-60 21-60 20-60 21-60 22-60 22-60 23-60 23-60 24-60 24-60 24-60 26-60 25-60 27-60 27-60 27-60 28-60 29-60 29-60 30-60 30-60 31-60 32-60 32-60 33-60 33-60 34-60 35-60 35-60 36-60 37-60 37-60 38-60 38-60 39-60 39-60 39-60 40-60 40-60 40-60 40-60 41-60 40-60 41-60 40-60 41-60 40-60 41-60 40-60 40-60 40-60 39-60 39-60 39-60 38-60 37-60 38-60 36-60 36-60 36-60 34-60 34-60 33-60 33-60 32-60 31-60 31-60 30-60 30-60 30-60 30-60 29-60 29-60 29-60 29-60 29-60 29-60 29-60 30-60 30-60 30-60 30-60 31-60 32-60 32-60 33-60 33-60 34-60 35-60 36-60" stroke="#be0041"/><path d="M13565 6942l-1-12 1-60 6-60 9-60 13-60 15-60 16-60 18-60 19-60 18-60 20-60 19-60 20-60 21-60 21-60 22-60 22-60 22-60 23-60 23-60 24-60 25-60 25-60 25-60 26-60 27-60 27-60 28-60 28-60 29-60 29-60 30-60 31-60 31-60 32-60 33-60 33-60 33-60 35-60 35-60 36-60 36-60 37-60 38-60 38-60 39-60 39-60 39-60 40-60 40-60 41-60 40-60 41-60 41-60 41-60 41-60 42-60 41-60 41-60 41-60 40-60 41-60 40-60 40-60 40-60 39-60 39-60 39-60 38-60 37-60 37-60 36-60 35-60 35-60 34-60 33-60 33-60 32-60 31-60 32-60 31-60 30-60 30-60 30-60 30-60 30-60 30-60 30-60 29-60 30-60 31-60 30-60 31-60 31-60 32-60 32-60 32-60 34-60 34-60 34-60 36-60 36-60" stroke="#bc0043"/><path d="M13576 6930l1-60 5-60 10-60 12-60 15-60 17-60 19-60 19-60 19-60 20-60 20-60 20-60 21-60 22-60 21-60 23-60 23-60 23-60 23-60 25-60 24-60 26-60 25-60 27-60 27-60 27-60 28-60 29-60 29-60 29-60 31-60 31-60 31-60 32-60 33-60 33-60 34-60 35-60 36-60 36-60 37-60 37-60 38-60 38-60 40-60 39-60 40-60 40-60 41-60 41-60 41-60 42-60 41-60 42-60 41-60 42-60 42-60 41-60 42-60 41-60 42-60 41-60 40-60 41-60 40-60 39-60 39-60 39-60 38-60 37-60 37-60 36-60 36-60 34-60 34-60 34-60 33-60 32-60 32-60 32-60 31-60 31-60 31-60 30-60 31-60 30-60 31-60 31-60 30-60 31-60 31-60 32-60 32-60 32-60 33-60 33-60 34-60 34-60 35-60 36-60 37-60" stroke="#bb0044"/><path d="M13591 6909l0-39 5-60 9-60 13-60 16-60 18-60 19-60 19-60 20-60 20-60 21-60 21-60 21-60 22-60 22-60 23-60 23-60 24-60 24-60 24-60 25-60 26-60 26-60 27-60 27-60 28-60 28-60 29-60 29-60 30-60 31-60 31-60 32-60 33-60 33-60 33-60 35-60 35-60 36-60 36-60 38-60 38-60 38-60 39-60 40-60 40-60 40-60 41-60 41-60 42-60 42-60 42-60 42-60 42-60 43-60 42-60 43-60 42-60 42-60 42-60 42-60 42-60 42-60 41-60 41-60 40-60 40-60 39-60 39-60 39-60 37-60 37-60 37-60 35-60 35-60 35-60 34-60 33-60 33-60 33-60 32-60 32-60 31-60 32-60 31-60 32-60 31-60 32-60 31-60 32-60 32-60 32-60 33-60 33-60 33-60 34-60 35-60 35-60 36-60 36-60 37-60" stroke="#b90046"/><path d="M13613 6968l-4-38-1-60 4-60 10-60 13-60 16-60 18-60 20-60 20-60 21-60 20-60 22-60 21-60 22-60 23-60 22-60 23-60 24-60 24-60 25-60 25-60 25-60 26-60 27-60 27-60 27-60 28-60 29-60 29-60 30-60 30-60 31-60 32-60 32-60 33-60 34-60 34-60 35-60 35-60 37-60 37-60 38-60 38-60 39-60 40-60 40-60 41-60 41-60 41-60 42-60 43-60 42-60 43-60 43-60 43-60 43-60 43-60 44-60 43-60 43-60 43-60 43-60 43-60 42-60 42-60 42-60 41-60 41-60 41-60 40-60 39-60 39-60 38-60 37-60 37-60 36-60 36-60 35-60 34-60 34-60 34-60 33-60 33-60 33-60 33-60 32-60 33-60 32-60 33-60 33-60 32-60 33-60 33-60 34-60 34-60 34-60 35-60 35-60 36-60 36-60 37-60 38-60" stroke="#b70048"/><path d="M13622 6934l0-4-2-60 5-60 9-60 13-60 17-60 19-60 20-60 21-60 21-60 21-60 22-60 22-60 22-60 23-60 23-60 23-60 24-60 25-60 25-60 25-60 26-60 26-60 27-60 27-60 28-60 28-60 29-60 30-60 30-60 30-60 32-60 32-60 32-60 33-60 34-60 35-60 35-60 36-60 37-60 37-60 38-60 39-60 40-60 40-60 40-60 42-60 41-60 42-60 43-60 43-60 43-60 43-60 44-60 43-60 44-60 44-60 44-60 44-60 44-60 43-60 44-60 43-60 43-60 43-60 43-60 42-60 42-60 41-60 41-60 40-60 39-60 39-60 38-60 38-60 37-60 36-60 36-60 35-60 35-60 35-60 34-60 34-60 34-60 33-60 34-60 33-60 33-60 33-60 34-60 33-60 34-60 34-60 34-60 35-60 35-60 35-60 36-60 36-60 37-60 38-60 38-60" stroke="#b60049"/><path d="M13635 6923l-2-53 5-60 9-60 14-60 16-60 20-60 20-60 22-60 21-60 22-60 22-60 23-60 22-60 23-60 24-60 24-60 24-60 25-60 25-60 26-60 26-60 27-60 27-60 27-60 28-60 29-60 29-60 30-60 30-60 31-60 32-60 32-60 33-60 34-60 34-60 35-60 35-60 37-60 37-60 38-60 38-60 39-60 40-60 41-60 41-60 42-60 42-60 43-60 43-60 43-60 44-60 44-60 44-60 44-60 45-60 44-60 45-60 44-60 45-60 44-60 44-60 45-60 43-60 44-60 43-60 43-60 43-60 42-60 41-60 41-60 41-60 39-60 40-60 38-60 38-60 37-60 37-60 36-60 36-60 35-60 35-60 35-60 35-60 34-60 34-60 34-60 34-60 35-60 34-60 34-60 34-60 35-60 35-60 35-60 36-60 36-60 36-60 37-60 38-60 38-60 39-60" stroke="#b4004b"/><path d="M13647 6902l-2-32 4-60 10-60 14-60 17-60 20-60 21-60 22-60 21-60 23-60 22-60 23-60 23-60 24-60 24-60 24-60 25-60 25-60 25-60 26-60 27-60 27-60 27-60 28-60 28-60 29-60 30-60 30-60 30-60 32-60 31-60 33-60 33-60 34-60 34-60 36-60 36-60 36-60 38-60 38-60 39-60 40-60 40-60 41-60 42-60 42-60 42-60 43-60 44-60 44-60 44-60 44-60 45-60 45-60 45-60 45-60 45-60 46-60 45-60 45-60 45-60 45-60 44-60 44-60 44-60 44-60 43-60 43-60 42-60 42-60 41-60 41-60 40-60 39-60 38-60 39-60 37-60 37-60 37-60 36-60 36-60 35-60 36-60 35-60 35-60 35-60 35-60 35-60 35-60 35-60 35-60 35-60 36-60 36-60 36-60 36-60 37-60 38-60 38-60 39-60 39-60" stroke="#b2004c"/><path d="M13692 6959l4-29 9-60 10-60 12-60 12-60 13-60 15-60 15-60 17-60 17-60 19-60 19-60 20-60 22-60 22-60 23-60 24-60 24-60 26-60 26-60 27-60 28-60 29-60 29-60 31-60 30-60 32-60 32-60 33-60 33-60 34-60 35-60 35-60 36-60 36-60 37-60 37-60 38-60 38-60 38-60 39-60 40-60 40-60 40-60 40-60 41-60 41-60 42-60 42-60 42-60 42-60 42-60 43-60 43-60 43-60 43-60 43-60 44-60 43-60 44-60 44-60 44-60 43-60 44-60 44-60 44-60 43-60 44-60 43-60 44-60 43-60 43-60 43-60 43-60 43-60 42-60 43-60 42-60 41-60 42-60 41-60 41-60 40-60 40-60 40-60 40-60 39-60 38-60 38-60 38-60 37-60 37-60 36-60 35-60 35-60 35-60 33-60 34-60 32-60 32-60 31-60 31-60" stroke="#a3005c"/><path d="M13709 6956l3-26 9-60 10-60 12-60 12-60 14-60 15-60 15-60 17-60 18-60 18-60 20-60 21-60 21-60 23-60 23-60 24-60 25-60 26-60 27-60 27-60 29-60 29-60 29-60 31-60 31-60 32-60 32-60 33-60 34-60 34-60 35-60 35-60 36-60 36-60 37-60 37-60 38-60 39-60 38-60 39-60 40-60 40-60 40-60 40-60 41-60 41-60 42-60 42-60 42-60 42-60 42-60 43-60 43-60 43-60 43-60 43-60 43-60 44-60 43-60 44-60 44-60 43-60 44-60 44-60 44-60 43-60 44-60 43-60 44-60 43-60 43-60 43-60 43-60 43-60 42-60 42-60 42-60 42-60 41-60 41-60 41-60 41-60 40-60 39-60 40-60 39-60 38-60 38-60 38-60 37-60 36-60 36-60 35-60 35-60 35-60 33-60 33-60 32-60 32-60 31-60 30-60" stroke="#a2005d"/><path d="M13726 6904l5-34 11-60 11-60 13-60 13-60 15-60 16-60 17-60 18-60 19-60 20-60 20-60 22-60 23-60 23-60 25-60 25-60 26-60 27-60 28-60 28-60 29-60 30-60 31-60 31-60 32-60 32-60 34-60 33-60 35-60 35-60 35-60 36-60 37-60 37-60 37-60 38-60 38-60 39-60 39-60 40-60 39-60 41-60 40-60 41-60 41-60 42-60 41-60 42-60 42-60 43-60 42-60 43-60 43-60 43-60 43-60 44-60 43-60 44-60 43-60 44-60 44-60 43-60 44-60 44-60 43-60 44-60 43-60 44-60 43-60 43-60 43-60 43-60 43-60 42-60 42-60 42-60 42-60 41-60 41-60 41-60 40-60 40-60 40-60 39-60 39-60 39-60 38-60 37-60 37-60 36-60 36-60 35-60 35-60 34-60 34-60 33-60 32-60 31-60 31-60 30-60" stroke="#a0005f"/><path d="M13734 6939l1-9 9-60 10-60 12-60 13-60 14-60 15-60 16-60 17-60 18-60 19-60 20-60 21-60 22-60 23-60 24-60 24-60 26-60 26-60 27-60 28-60 29-60 29-60 30-60 31-60 32-60 32-60 33-60 33-60 34-60 34-60 35-60 36-60 36-60 37-60 37-60 37-60 38-60 39-60 38-60 40-60 39-60 40-60 40-60 41-60 41-60 41-60 41-60 42-60 42-60 42-60 42-60 43-60 43-60 42-60 43-60 44-60 43-60 43-60 44-60 43-60 44-60 44-60 43-60 44-60 44-60 43-60 44-60 43-60 44-60 43-60 43-60 43-60 43-60 42-60 43-60 42-60 42-60 41-60 42-60 41-60 40-60 41-60 40-60 39-60 40-60 38-60 39-60 38-60 37-60 37-60 36-60 36-60 35-60 35-60 34-60 33-60 33-60 32-60 31-60 31-60 29-60" stroke="#9f0060"/><path d="M13742 6941l1-11 10-60 10-60 12-60 13-60 14-60 15-60 16-60 17-60 18-60 20-60 20-60 21-60 22-60 23-60 24-60 25-60 26-60 26-60 28-60 28-60 28-60 30-60 30-60 31-60 32-60 32-60 33-60 33-60 34-60 35-60 35-60 36-60 36-60 37-60 37-60 38-60 38-60 38-60 39-60 39-60 40-60 40-60 40-60 40-60 41-60 41-60 42-60 41-60 42-60 42-60 43-60 42-60 43-60 43-60 43-60 43-60 43-60 44-60 43-60 44-60 43-60 44-60 43-60 44-60 44-60 43-60 44-60 43-60 43-60 44-60 43-60 43-60 42-60 43-60 42-60 43-60 41-60 42-60 41-60 41-60 41-60 40-60 40-60 40-60 39-60 39-60 38-60 38-60 37-60 37-60 36-60 36-60 35-60 35-60 33-60 34-60 32-60 32-60 31-60 31-60 30-60" stroke="#9e0061"/><path d="M13761 6921l8-51 11-60 12-60 13-60 14-60 15-60 17-60 17-60 19-60 19-60 21-60 21-60 23-60 23-60 24-60 26-60 26-60 26-60 28-60 28-60 30-60 29-60 31-60 31-60 32-60 33-60 33-60 33-60 35-60 35-60 35-60 36-60 36-60 37-60 37-60 38-60 38-60 39-60 39-60 39-60 40-60 40-60 40-60 40-60 41-60 41-60 42-60 41-60 42-60 42-60 42-60 43-60 43-60 42-60 43-60 43-60 44-60 43-60 43-60 44-60 43-60 44-60 43-60 44-60 44-60 43-60 44-60 43-60 43-60 43-60 44-60 42-60 43-60 43-60 42-60 42-60 42-60 42-60 41-60 41-60 40-60 41-60 40-60 39-60 39-60 39-60 38-60 38-60 37-60 37-60 36-60 35-60 35-60 34-60 34-60 33-60 33-60 31-60 31-60 30-60 30-60" stroke="#9c0063"/><path d="M13765 6971l6-41 9-60 11-60 12-60 13-60 15-60 15-60 17-60 17-60 19-60 20-60 20-60 22-60 23-60 23-60 25-60 25-60 27-60 27-60 27-60 29-60 29-60 30-60 31-60 32-60 32-60 32-60 34-60 34-60 34-60 35-60 36-60 36-60 36-60 37-60 37-60 38-60 38-60 39-60 39-60 39-60 40-60 40-60 40-60 41-60 41-60 41-60 41-60 42-60 41-60 42-60 43-60 42-60 43-60 42-60 43-60 43-60 44-60 43-60 43-60 44-60 43-60 44-60 43-60 44-60 43-60 44-60 43-60 44-60 43-60 43-60 43-60 43-60 43-60 42-60 42-60 43-60 41-60 42-60 41-60 41-60 41-60 40-60 40-60 39-60 39-60 39-60 38-60 38-60 37-60 36-60 36-60 36-60 35-60 34-60 33-60 33-60 33-60 31-60 31-60 30-60 29-60" stroke="#9b0064"/><path d="M13780 6975l6-45 10-60 11-60 12-60 13-60 15-60 15-60 17-60 18-60 19-60 20-60 21-60 22-60 23-60 24-60 25-60 25-60 27-60 27-60 28-60 29-60 30-60 30-60 31-60 32-60 32-60 33-60 34-60 34-60 35-60 35-60 36-60 36-60 36-60 38-60 37-60 38-60 38-60 39-60 39-60 39-60 40-60 40-60 40-60 41-60 41-60 41-60 41-60 42-60 41-60 42-60 43-60 42-60 43-60 42-60 43-60 43-60 43-60 43-60 44-60 43-60 44-60 43-60 44-60 43-60 44-60 43-60 43-60 44-60 43-60 43-60 43-60 43-60 43-60 42-60 42-60 42-60 42-60 42-60 41-60 41-60 40-60 41-60 39-60 40-60 39-60 38-60 38-60 38-60 37-60 36-60 36-60 35-60 35-60 34-60 34-60 32-60 32-60 32-60 30-60 30-60 29-60" stroke="#9a0065"/><path d="M13796 6903l5-33 11-60 12-60 14-60 14-60 16-60 17-60 18-60 19-60 20-60 21-60 22-60 23-60 24-60 25-60 26-60 27-60 27-60 28-60 29-60 30-60 31-60 31-60 32-60 32-60 33-60 34-60 34-60 35-60 35-60 36-60 36-60 37-60 37-60 37-60 38-60 39-60 38-60 39-60 40-60 40-60 40-60 40-60 40-60 41-60 41-60 42-60 41-60 42-60 42-60 42-60 42-60 43-60 43-60 42-60 43-60 43-60 44-60 43-60 43-60 44-60 43-60 44-60 43-60 44-60 43-60 43-60 44-60 43-60 43-60 43-60 43-60 43-60 42-60 42-60 42-60 42-60 42-60 41-60 41-60 40-60 41-60 39-60 40-60 39-60 38-60 38-60 38-60 37-60 36-60 36-60 35-60 35-60 34-60 33-60 33-60 32-60 31-60 30-60 30-60 29-60" stroke="#980067"/><path d="M13810 6917l7-47 11-60 13-60 13-60 15-60 16-60 17-60 18-60 20-60 20-60 21-60 23-60 23-60 25-60 25-60 26-60 27-60 28-60 28-60 30-60 30-60 30-60 32-60 32-60 33-60 33-60 34-60 34-60 35-60 36-60 36-60 36-60 37-60 37-60 38-60 38-60 38-60 39-60 39-60 40-60 40-60 40-60 40-60 41-60 40-60 41-60 42-60 41-60 42-60 42-60 42-60 42-60 43-60 42-60 43-60 43-60 43-60 43-60 43-60 44-60 43-60 43-60 44-60 43-60 44-60 43-60 43-60 44-60 43-60 43-60 43-60 43-60 42-60 43-60 42-60 42-60 42-60 41-60 41-60 41-60 41-60 40-60 40-60 39-60 39-60 38-60 38-60 38-60 36-60 37-60 35-60 36-60 34-60 34-60 33-60 32-60 32-60 31-60 30-60 30-60 28-60" stroke="#970068"/><path d="M13828 6907l6-37 11-60 13-60 14-60 15-60 16-60 17-60 19-60 19-60 21-60 21-60 23-60 24-60 25-60 25-60 27-60 27-60 28-60 29-60 30-60 30-60 31-60 32-60 32-60 33-60 34-60 34-60 34-60 36-60 35-60 36-60 37-60 37-60 38-60 37-60 39-60 38-60 39-60 39-60 40-60 40-60 40-60 40-60 41-60 40-60 42-60 41-60 41-60 42-60 42-60 42-60 42-60 42-60 43-60 43-60 42-60 43-60 44-60 43-60 43-60 43-60 44-60 43-60 43-60 44-60 43-60 44-60 43-60 43-60 43-60 43-60 43-60 42-60 43-60 42-60 42-60 41-60 42-60 41-60 41-60 40-60 40-60 40-60 39-60 39-60 38-60 38-60 38-60 36-60 36-60 36-60 35-60 34-60 34-60 33-60 32-60 32-60 30-60 30-60 29-60 29-60" stroke="#960069"/><path d="M13832 6923l9-53 11-60 13-60 14-60 15-60 16-60 17-60 19-60 20-60 20-60 22-60 23-60 24-60 25-60 25-60 27-60 27-60 29-60 29-60 29-60 31-60 31-60 32-60 32-60 34-60 33-60 34-60 35-60 35-60 36-60 36-60 37-60 37-60 38-60 38-60 38-60 39-60 39-60 39-60 39-60 40-60 40-60 41-60 40-60 41-60 41-60 41-60 42-60 41-60 42-60 42-60 42-60 43-60 42-60 43-60 43-60 43-60 43-60 43-60 43-60 44-60 43-60 43-60 44-60 43-60 43-60 44-60 43-60 43-60 43-60 43-60 43-60 42-60 43-60 42-60 42-60 41-60 42-60 41-60 41-60 40-60 40-60 40-60 39-60 39-60 38-60 38-60 37-60 37-60 36-60 36-60 34-60 35-60 33-60 33-60 32-60 32-60 30-60 30-60 29-60 28-60" stroke="#94006b"/><path d="M13832 6974l6-44 10-60 11-60 13-60 14-60 15-60 16-60 18-60 18-60 20-60 21-60 22-60 23-60 24-60 25-60 26-60 26-60 28-60 28-60 30-60 29-60 31-60 31-60 32-60 33-60 33-60 34-60 34-60 35-60 36-60 35-60 37-60 37-60 37-60 37-60 38-60 39-60 38-60 39-60 40-60 39-60 40-60 40-60 41-60 40-60 41-60 41-60 41-60 42-60 41-60 42-60 42-60 42-60 43-60 42-60 43-60 42-60 43-60 43-60 44-60 43-60 43-60 43-60 44-60 43-60 43-60 44-60 43-60 43-60 43-60 43-60 43-60 43-60 42-60 43-60 42-60 42-60 42-60 41-60 41-60 41-60 40-60 40-60 40-60 39-60 39-60 38-60 38-60 37-60 37-60 36-60 35-60 35-60 34-60 34-60 33-60 32-60 31-60 31-60 29-60 29-60 28-60" stroke="#93006c"/><path d="M13852 6977l7-47 10-60 12-60 12-60 15-60 15-60 17-60 17-60 20-60 20-60 21-60 22-60 24-60 24-60 25-60 27-60 27-60 28-60 28-60 30-60 30-60 31-60 32-60 33-60 33-60 33-60 34-60 35-60 35-60 36-60 36-60 36-60 37-60 38-60 38-60 38-60 38-60 39-60 39-60 40-60 39-60 40-60 40-60 41-60 40-60 41-60 41-60 41-60 42-60 41-60 42-60 42-60 42-60 42-60 43-60 42-60 43-60 43-60 43-60 43-60 43-60 43-60 43-60 44-60 43-60 43-60 44-60 43-60 43-60 43-60 43-60 43-60 42-60 43-60 42-60 42-60 42-60 42-60 41-60 41-60 41-60 40-60 40-60 40-60 39-60 39-60 38-60 37-60 38-60 36-60 36-60 35-60 35-60 34-60 33-60 33-60 32-60 31-60 30-60 29-60 29-60 27-60" stroke="#92006d"/><path d="M13863 6957l4-27 10-60 11-60 13-60 14-60 16-60 17-60 17-60 20-60 20-60 21-60 23-60 23-60 25-60 25-60 27-60 27-60 28-60 29-60 30-60 30-60 31-60 32-60 33-60 33-60 34-60 34-60 35-60 35-60 36-60 36-60 37-60 37-60 37-60 38-60 38-60 39-60 39-60 39-60 39-60 40-60 40-60 40-60 40-60 41-60 41-60 41-60 41-60 41-60 42-60 42-60 42-60 42-60 42-60 42-60 43-60 42-60 43-60 43-60 43-60 43-60 44-60 43-60 43-60 43-60 44-60 43-60 43-60 43-60 43-60 43-60 43-60 43-60 42-60 42-60 43-60 41-60 42-60 41-60 41-60 41-60 40-60 40-60 40-60 39-60 39-60 38-60 37-60 37-60 37-60 36-60 35-60 34-60 34-60 33-60 33-60 32-60 31-60 30-60 29-60 28-60 28-60" stroke="#90006f"/><path d="M13891 6909l6-39 12-60 13-60 15-60 15-60 17-60 19-60 19-60 21-60 21-60 23-60 24-60 25-60 26-60 27-60 27-60 29-60 29-60 30-60 31-60 32-60 32-60 33-60 33-60 34-60 35-60 35-60 36-60 36-60 36-60 37-60 37-60 38-60 38-60 39-60 38-60 39-60 40-60 39-60 40-60 40-60 40-60 41-60 40-60 41-60 41-60 41-60 41-60 42-60 42-60 41-60 42-60 43-60 42-60 42-60 43-60 43-60 42-60 43-60 44-60 43-60 43-60 43-60 43-60 43-60 44-60 43-60 43-60 43-60 43-60 42-60 43-60 43-60 42-60 42-60 42-60 41-60 42-60 41-60 40-60 40-60 40-60 40-60 39-60 38-60 38-60 38-60 37-60 36-60 36-60 35-60 34-60 34-60 33-60 32-60 32-60 30-60 30-60 29-60 28-60 27-60" stroke="#8f0070"/><path d="M13888 6943l2-13 10-60 12-60 13-60 14-60 16-60 17-60 19-60 19-60 21-60 22-60 22-60 24-60 25-60 26-60 27-60 28-60 28-60 30-60 30-60 31-60 32-60 32-60 33-60 33-60 34-60 35-60 35-60 36-60 36-60 36-60 37-60 38-60 37-60 39-60 38-60 39-60 39-60 39-60 40-60 39-60 40-60 41-60 40-60 41-60 40-60 41-60 41-60 42-60 41-60 42-60 42-60 42-60 42-60 42-60 43-60 42-60 43-60 43-60 43-60 43-60 43-60 43-60 43-60 43-60 44-60 43-60 43-60 43-60 43-60 43-60 43-60 42-60 43-60 42-60 42-60 42-60 42-60 41-60 41-60 40-60 41-60 40-60 39-60 39-60 38-60 38-60 38-60 37-60 36-60 36-60 35-60 34-60 34-60 33-60 32-60 31-60 31-60 30-60 29-60 28-60 27-60" stroke="#8d0072"/><path d="M13895 6965l5-35 10-60 12-60 13-60 15-60 16-60 17-60 18-60 20-60 21-60 22-60 23-60 24-60 25-60 26-60 27-60 28-60 29-60 30-60 30-60 31-60 32-60 32-60 34-60 33-60 34-60 35-60 36-60 35-60 36-60 37-60 37-60 38-60 38-60 38-60 38-60 39-60 39-60 40-60 39-60 40-60 40-60 40-60 41-60 40-60 41-60 41-60 41-60 41-60 42-60 41-60 42-60 42-60 42-60 43-60 42-60 43-60 42-60 43-60 43-60 43-60 43-60 43-60 43-60 44-60 43-60 43-60 43-60 43-60 43-60 43-60 43-60 42-60 43-60 42-60 42-60 42-60 41-60 42-60 40-60 41-60 40-60 40-60 39-60 39-60 39-60 38-60 37-60 37-60 36-60 36-60 35-60 34-60 34-60 33-60 32-60 31-60 30-60 30-60 29-60 28-60 27-60" stroke="#8c0073"/><path d="M13911 6965l5-35 11-60 11-60 14-60 15-60 16-60 17-60 19-60 20-60 21-60 22-60 23-60 25-60 25-60 27-60 27-60 28-60 29-60 30-60 31-60 32-60 32-60 32-60 34-60 34-60 34-60 35-60 36-60 36-60 36-60 37-60 38-60 37-60 38-60 39-60 38-60 39-60 39-60 40-60 40-60 39-60 40-60 41-60 40-60 41-60 41-60 40-60 42-60 41-60 41-60 42-60 42-60 41-60 42-60 43-60 42-60 43-60 42-60 43-60 43-60 43-60 43-60 43-60 43-60 43-60 43-60 43-60 43-60 43-60 43-60 43-60 43-60 42-60 43-60 42-60 42-60 42-60 41-60 42-60 40-60 41-60 40-60 40-60 39-60 39-60 39-60 37-60 38-60 36-60 37-60 35-60 35-60 34-60 33-60 33-60 32-60 31-60 30-60 30-60 28-60 28-60 26-60" stroke="#8b0074"/><path d="M13927 6931l1-1 10-60 12-60 14-60 14-60 17-60 17-60 19-60 20-60 21-60 23-60 23-60 25-60 26-60 26-60 28-60 28-60 30-60 30-60 31-60 32-60 32-60 33-60 34-60 34-60 35-60 35-60 35-60 37-60 36-60 37-60 38-60 37-60 39-60 38-60 39-60 39-60 39-60 40-60 39-60 40-60 40-60 41-60 40-60 41-60 40-60 41-60 41-60 42-60 41-60 42-60 41-60 42-60 42-60 42-60 43-60 42-60 43-60 42-60 43-60 43-60 43-60 43-60 43-60 43-60 43-60 44-60 43-60 43-60 42-60 43-60 43-60 42-60 43-60 42-60 42-60 42-60 41-60 41-60 41-60 41-60 40-60 40-60 39-60 39-60 38-60 38-60 37-60 37-60 36-60 35-60 35-60 34-60 33-60 33-60 32-60 31-60 30-60 29-60 28-60 28-60 26-60" stroke="#890076"/><path d="M13948 6902l6-32 12-60 14-60 15-60 16-60 18-60 19-60 20-60 22-60 23-60 24-60 24-60 26-60 27-60 28-60 29-60 30-60 30-60 31-60 32-60 33-60 33-60 34-60 35-60 35-60 35-60 36-60 37-60 36-60 38-60 37-60 38-60 39-60 38-60 39-60 39-60 40-60 39-60 40-60 40-60 40-60 40-60 41-60 41-60 40-60 41-60 41-60 41-60 42-60 41-60 42-60 42-60 42-60 42-60 42-60 42-60 43-60 43-60 42-60 43-60 43-60 43-60 43-60 43-60 43-60 43-60 43-60 43-60 43-60 43-60 42-60 43-60 42-60 43-60 41-60 42-60 42-60 41-60 41-60 40-60 40-60 40-60 39-60 39-60 38-60 38-60 37-60 37-60 36-60 35-60 34-60 34-60 34-60 32-60 31-60 31-60 30-60 29-60 28-60 27-60 27-60" stroke="#880077"/><path d="M13949 6926l10-56 13-60 13-60 15-60 17-60 18-60 19-60 20-60 22-60 23-60 24-60 25-60 26-60 27-60 28-60 29-60 29-60 31-60 31-60 32-60 33-60 34-60 34-60 34-60 35-60 36-60 36-60 36-60 37-60 38-60 37-60 38-60 39-60 38-60 39-60 39-60 40-60 39-60 40-60 40-60 41-60 40-60 40-60 41-60 41-60 41-60 41-60 41-60 41-60 42-60 41-60 42-60 42-60 42-60 42-60 43-60 42-60 43-60 42-60 43-60 43-60 43-60 43-60 43-60 43-60 43-60 43-60 43-60 43-60 43-60 42-60 43-60 42-60 42-60 42-60 42-60 42-60 41-60 40-60 41-60 40-60 40-60 39-60 39-60 38-60 38-60 37-60 36-60 36-60 35-60 35-60 34-60 33-60 32-60 32-60 30-60 30-60 29-60 28-60 27-60 26-60" stroke="#870078"/><path d="M13967 6959l4-29 11-60 12-60 14-60 15-60 17-60 18-60 20-60 21-60 22-60 23-60 24-60 26-60 26-60 27-60 29-60 29-60 31-60 31-60 31-60 33-60 33-60 34-60 34-60 35-60 36-60 36-60 36-60 37-60 37-60 38-60 38-60 38-60 38-60 39-60 39-60 40-60 39-60 40-60 40-60 40-60 40-60 41-60 40-60 41-60 41-60 41-60 41-60 41-60 41-60 41-60 42-60 42-60 41-60 42-60 43-60 42-60 42-60 43-60 43-60 42-60 43-60 43-60 43-60 43-60 43-60 43-60 43-60 43-60 42-60 43-60 43-60 42-60 42-60 43-60 41-60 42-60 42-60 41-60 40-60 41-60 40-60 39-60 40-60 38-60 38-60 38-60 37-60 36-60 36-60 35-60 35-60 33-60 33-60 32-60 31-60 31-60 29-60 29-60 28-60 26-60 26-60" stroke="#85007a"/><path d="M13983 6909l7-39 13-60 14-60 15-60 17-60 18-60 20-60 21-60 22-60 23-60 25-60 25-60 27-60 28-60 28-60 30-60 30-60 31-60 32-60 33-60 33-60 34-60 35-60 35-60 36-60 36-60 36-60 37-60 38-60 37-60 38-60 39-60 38-60 39-60 39-60 40-60 40-60 39-60 40-60 41-60 40-60 40-60 41-60 40-60 41-60 41-60 41-60 41-60 41-60 42-60 41-60 42-60 42-60 42-60 42-60 42-60 42-60 43-60 42-60 43-60 43-60 43-60 43-60 43-60 43-60 43-60 43-60 42-60 43-60 43-60 42-60 43-60 42-60 42-60 42-60 42-60 41-60 41-60 41-60 40-60 40-60 40-60 39-60 39-60 38-60 37-60 37-60 37-60 35-60 35-60 35-60 33-60 33-60 32-60 31-60 30-60 30-60 28-60 28-60 26-60 26-60" stroke="#84007b"/><path d="M13988 6966l6-36 11-60 12-60 14-60 16-60 17-60 19-60 19-60 21-60 23-60 23-60 25-60 26-60 27-60 28-60 29-60 30-60 30-60 32-60 32-60 33-60 34-60 34-60 35-60 35-60 36-60 36-60 37-60 37-60 38-60 37-60 39-60 38-60 39-60 39-60 39-60 40-60 40-60 40-60 40-60 40-60 40-60 41-60 40-60 41-60 40-60 41-60 41-60 41-60 42-60 41-60 41-60 42-60 42-60 42-60 42-60 42-60 42-60 43-60 42-60 43-60 43-60 43-60 43-60 42-60 43-60 43-60 43-60 43-60 43-60 42-60 43-60 42-60 42-60 43-60 41-60 42-60 41-60 41-60 41-60 40-60 40-60 40-60 39-60 39-60 38-60 37-60 37-60 36-60 36-60 35-60 34-60 33-60 33-60 32-60 31-60 30-60 29-60 28-60 28-60 26-60 25-60" stroke="#83007c"/><path d="M14002 6945l3-15 11-60 12-60 15-60 15-60 17-60 19-60 20-60 21-60 23-60 24-60 25-60 26-60 27-60 28-60 29-60 30-60 31-60 32-60 32-60 33-60 34-60 35-60 35-60 35-60 36-60 37-60 37-60 37-60 38-60 38-60 38-60 39-60 39-60 39-60 39-60 40-60 40-60 40-60 40-60 40-60 40-60 41-60 40-60 41-60 41-60 40-60 41-60 41-60 42-60 41-60 41-60 42-60 42-60 42-60 42-60 42-60 42-60 42-60 43-60 43-60 42-60 43-60 43-60 43-60 43-60 43-60 42-60 43-60 43-60 43-60 42-60 42-60 43-60 42-60 42-60 41-60 41-60 41-60 41-60 40-60 40-60 40-60 39-60 38-60 38-60 38-60 37-60 36-60 35-60 35-60 34-60 34-60 32-60 32-60 31-60 30-60 29-60 28-60 27-60 26-60 25-60" stroke="#81007e"/><path d="M14025 6901l6-31 13-60 14-60 16-60 17-60 19-60 20-60 22-60 23-60 24-60 25-60 26-60 28-60 28-60 29-60 31-60 31-60 32-60 33-60 33-60 34-60 35-60 35-60 36-60 36-60 37-60 37-60 38-60 38-60 38-60 38-60 39-60 39-60 40-60 39-60 40-60 40-60 40-60 40-60 41-60 40-60 40-60 41-60 40-60 41-60 41-60 41-60 41-60 41-60 41-60 42-60 41-60 42-60 42-60 42-60 42-60 42-60 42-60 43-60 43-60 42-60 43-60 43-60 43-60 42-60 43-60 43-60 43-60 42-60 43-60 43-60 42-60 42-60 42-60 42-60 41-60 42-60 41-60 40-60 41-60 40-60 39-60 39-60 38-60 38-60 38-60 36-60 36-60 36-60 35-60 34-60 33-60 32-60 32-60 31-60 29-60 29-60 28-60 27-60 26-60 25-60" stroke="#80007f"/><path d="M14030 6901l6-31 12-60 15-60 16-60 17-60 19-60 20-60 22-60 23-60 24-60 25-60 27-60 27-60 29-60 29-60 31-60 31-60 32-60 33-60 33-60 35-60 34-60 36-60 36-60 36-60 37-60 37-60 38-60 37-60 39-60 38-60 39-60 39-60 40-60 39-60 40-60 40-60 40-60 40-60 41-60 40-60 41-60 40-60 41-60 40-60 41-60 41-60 41-60 41-60 42-60 41-60 42-60 41-60 42-60 42-60 42-60 42-60 43-60 42-60 43-60 42-60 43-60 43-60 43-60 42-60 43-60 43-60 43-60 42-60 43-60 42-60 43-60 42-60 42-60 42-60 41-60 42-60 41-60 40-60 40-60 40-60 40-60 39-60 38-60 38-60 37-60 37-60 36-60 36-60 34-60 34-60 33-60 33-60 31-60 31-60 30-60 28-60 28-60 27-60 26-60 25-60" stroke="#7f0080"/><path d="M14043 6932l0-2 11-60 13-60 15-60 16-60 17-60 20-60 20-60 22-60 23-60 25-60 25-60 27-60 28-60 29-60 30-60 30-60 32-60 33-60 33-60 34-60 34-60 35-60 36-60 36-60 37-60 37-60 38-60 37-60 39-60 38-60 39-60 39-60 39-60 40-60 40-60 40-60 40-60 40-60 40-60 41-60 40-60 41-60 40-60 41-60 41-60 40-60 41-60 41-60 41-60 41-60 42-60 41-60 42-60 41-60 42-60 42-60 43-60 42-60 42-60 43-60 42-60 43-60 43-60 43-60 42-60 43-60 43-60 43-60 42-60 43-60 42-60 42-60 42-60 42-60 42-60 42-60 41-60 41-60 41-60 40-60 40-60 39-60 39-60 38-60 38-60 37-60 37-60 36-60 35-60 35-60 33-60 33-60 33-60 31-60 30-60 30-60 28-60 28-60 26-60 26-60 24-60" stroke="#7d0082"/><path d="M14042 6961l5-31 11-60 13-60 15-60 16-60 18-60 19-60 21-60 22-60 23-60 24-60 26-60 27-60 28-60 29-60 30-60 31-60 31-60 33-60 33-60 34-60 35-60 35-60 36-60 36-60 37-60 37-60 38-60 38-60 38-60 38-60 39-60 39-60 40-60 39-60 40-60 40-60 40-60 41-60 40-60 40-60 41-60 40-60 41-60 40-60 41-60 41-60 41-60 41-60 41-60 41-60 41-60 42-60 41-60 42-60 42-60 42-60 42-60 42-60 43-60 42-60 43-60 42-60 43-60 43-60 43-60 42-60 43-60 43-60 42-60 43-60 42-60 43-60 42-60 42-60 41-60 42-60 41-60 41-60 41-60 40-60 40-60 39-60 39-60 38-60 38-60 37-60 37-60 36-60 35-60 35-60 33-60 33-60 32-60 32-60 30-60 30-60 28-60 28-60 26-60 25-60 25-60" stroke="#7c0083"/><path d="M14061 6967l6-37 11-60 14-60 14-60 17-60 18-60 19-60 21-60 22-60 24-60 25-60 26-60 27-60 28-60 30-60 30-60 31-60 32-60 33-60 34-60 34-60 35-60 36-60 36-60 37-60 37-60 37-60 38-60 38-60 39-60 39-60 39-60 39-60 40-60 40-60 40-60 40-60 40-60 40-60 41-60 40-60 41-60 40-60 41-60 41-60 40-60 41-60 41-60 41-60 41-60 41-60 41-60 42-60 41-60 42-60 41-60 42-60 42-60 43-60 42-60 42-60 43-60 43-60 42-60 43-60 43-60 42-60 43-60 43-60 42-60 43-60 42-60 42-60 42-60 42-60 42-60 41-60 42-60 40-60 41-60 40-60 40-60 39-60 39-60 38-60 38-60 37-60 37-60 35-60 35-60 35-60 33-60 33-60 32-60 31-60 30-60 30-60 28-60 27-60 26-60 25-60 24-60" stroke="#7b0084"/><path d="M14065 6973l7-43 11-60 14-60 14-60 17-60 18-60 19-60 21-60 23-60 23-60 25-60 27-60 27-60 28-60 30-60 30-60 32-60 32-60 33-60 34-60 34-60 35-60 36-60 36-60 37-60 37-60 38-60 38-60 38-60 38-60 39-60 40-60 39-60 40-60 39-60 40-60 41-60 40-60 40-60 41-60 40-60 41-60 40-60 41-60 41-60 40-60 41-60 41-60 41-60 41-60 41-60 41-60 41-60 42-60 41-60 42-60 42-60 42-60 42-60 43-60 42-60 43-60 42-60 43-60 43-60 42-60 43-60 43-60 42-60 43-60 42-60 43-60 42-60 42-60 42-60 41-60 42-60 41-60 41-60 40-60 41-60 39-60 40-60 38-60 39-60 37-60 37-60 37-60 36-60 35-60 34-60 34-60 32-60 32-60 31-60 30-60 30-60 28-60 27-60 26-60 25-60 24-60" stroke="#790086"/><path d="M14080 6976l8-46 12-60 13-60 15-60 16-60 19-60 19-60 22-60 22-60 24-60 25-60 27-60 27-60 29-60 30-60 31-60 31-60 33-60 33-60 34-60 35-60 36-60 36-60 36-60 37-60 38-60 37-60 39-60 38-60 39-60 39-60 39-60 40-60 40-60 40-60 40-60 40-60 41-60 40-60 41-60 40-60 41-60 40-60 41-60 41-60 40-60 41-60 41-60 41-60 41-60 41-60 41-60 41-60 42-60 41-60 42-60 42-60 42-60 42-60 42-60 42-60 43-60 42-60 43-60 43-60 42-60 43-60 43-60 42-60 43-60 42-60 42-60 43-60 42-60 41-60 42-60 42-60 41-60 41-60 40-60 40-60 40-60 39-60 39-60 38-60 38-60 37-60 36-60 36-60 35-60 34-60 33-60 33-60 32-60 30-60 30-60 29-60 28-60 27-60 26-60 25-60 23-60" stroke="#780087"/><path d="M14109 6941l2-11 12-60 13-60 15-60 17-60 19-60 20-60 21-60 23-60 24-60 26-60 27-60 28-60 29-60 30-60 31-60 33-60 33-60 33-60 35-60 35-60 36-60 37-60 37-60 37-60 38-60 38-60 38-60 39-60 39-60 40-60 40-60 39-60 40-60 41-60 40-60 40-60 41-60 41-60 40-60 41-60 41-60 40-60 41-60 40-60 41-60 41-60 41-60 40-60 41-60 41-60 41-60 42-60 41-60 41-60 42-60 42-60 42-60 42-60 42-60 42-60 43-60 42-60 43-60 42-60 43-60 42-60 43-60 42-60 43-60 42-60 42-60 43-60 42-60 41-60 42-60 41-60 41-60 41-60 41-60 40-60 39-60 39-60 39-60 38-60 38-60 37-60 36-60 35-60 35-60 34-60 33-60 33-60 31-60 31-60 30-60 28-60 28-60 27-60 25-60 24-60 24-60" stroke="#760089"/><path d="M14118 6927l11-57 14-60 15-60 17-60 18-60 21-60 21-60 23-60 25-60 25-60 27-60 28-60 30-60 30-60 31-60 33-60 33-60 34-60 34-60 36-60 36-60 36-60 37-60 38-60 38-60 38-60 39-60 39-60 39-60 39-60 40-60 40-60 40-60 41-60 40-60 40-60 41-60 41-60 40-60 41-60 41-60 40-60 41-60 41-60 40-60 41-60 41-60 41-60 40-60 41-60 41-60 42-60 41-60 41-60 42-60 42-60 42-60 42-60 42-60 42-60 42-60 43-60 42-60 43-60 42-60 43-60 43-60 42-60 42-60 43-60 42-60 42-60 42-60 42-60 42-60 41-60 41-60 41-60 40-60 40-60 40-60 39-60 39-60 38-60 37-60 37-60 36-60 36-60 34-60 34-60 34-60 32-60 31-60 31-60 30-60 28-60 28-60 26-60 26-60 24-60 23-60" stroke="#75008a"/><path d="M14125 6952l4-22 11-60 14-60 15-60 18-60 18-60 21-60 21-60 24-60 24-60 26-60 27-60 29-60 29-60 31-60 31-60 33-60 33-60 34-60 35-60 36-60 36-60 37-60 37-60 38-60 38-60 38-60 39-60 39-60 40-60 39-60 40-60 40-60 40-60 41-60 40-60 41-60 41-60 40-60 41-60 41-60 40-60 41-60 41-60 40-60 41-60 41-60 41-60 40-60 41-60 41-60 41-60 41-60 42-60 41-60 41-60 42-60 42-60 42-60 42-60 42-60 43-60 42-60 43-60 42-60 43-60 42-60 43-60 42-60 42-60 43-60 42-60 42-60 42-60 42-60 41-60 42-60 41-60 41-60 40-60 40-60 40-60 39-60 38-60 38-60 38-60 36-60 37-60 35-60 35-60 34-60 33-60 32-60 31-60 31-60 29-60 29-60 27-60 26-60 26-60 24-60 22-60" stroke="#74008b"/><path d="M14134 6962l5-32 12-60 14-60 15-60 18-60 18-60 21-60 22-60 23-60 25-60 26-60 27-60 29-60 30-60 30-60 32-60 33-60 33-60 35-60 35-60 36-60 36-60 37-60 38-60 38-60 38-60 38-60 39-60 40-60 39-60 40-60 40-60 40-60 41-60 40-60 41-60 40-60 41-60 41-60 41-60 40-60 41-60 41-60 40-60 41-60 41-60 40-60 41-60 41-60 41-60 41-60 41-60 41-60 41-60 41-60 42-60 41-60 42-60 42-60 42-60 42-60 43-60 42-60 43-60 42-60 43-60 42-60 43-60 42-60 42-60 43-60 42-60 42-60 42-60 42-60 41-60 42-60 41-60 40-60 41-60 40-60 39-60 39-60 39-60 38-60 37-60 37-60 36-60 35-60 35-60 34-60 33-60 32-60 31-60 30-60 30-60 28-60 27-60 26-60 26-60 23-60 23-60" stroke="#72008d"/><path d="M14147 6931l0-1 12-60 14-60 16-60 17-60 19-60 20-60 22-60 24-60 25-60 26-60 28-60 28-60 30-60 31-60 32-60 33-60 33-60 35-60 35-60 36-60 37-60 37-60 38-60 38-60 38-60 39-60 39-60 39-60 40-60 40-60 40-60 40-60 41-60 40-60 41-60 41-60 40-60 41-60 41-60 41-60 41-60 40-60 41-60 41-60 40-60 41-60 41-60 40-60 41-60 41-60 41-60 41-60 41-60 42-60 41-60 42-60 41-60 42-60 42-60 43-60 42-60 42-60 43-60 42-60 43-60 42-60 43-60 42-60 42-60 43-60 42-60 42-60 42-60 42-60 41-60 41-60 41-60 41-60 40-60 40-60 40-60 39-60 38-60 38-60 38-60 36-60 36-60 36-60 34-60 34-60 33-60 32-60 31-60 31-60 29-60 28-60 27-60 26-60 25-60 24-60 22-60" stroke="#71008e"/><path d="M14160 6959l5-29 12-60 14-60 16-60 17-60 19-60 21-60 23-60 23-60 26-60 26-60 28-60 29-60 30-60 31-60 33-60 33-60 34-60 35-60 35-60 37-60 37-60 37-60 38-60 38-60 39-60 39-60 40-60 39-60 40-60 40-60 41-60 40-60 41-60 40-60 41-60 41-60 41-60 41-60 41-60 41-60 41-60 40-60 41-60 41-60 40-60 41-60 41-60 40-60 41-60 41-60 41-60 41-60 41-60 41-60 42-60 41-60 42-60 42-60 42-60 42-60 42-60 42-60 43-60 42-60 43-60 42-60 42-60 43-60 42-60 42-60 42-60 42-60 42-60 42-60 42-60 41-60 41-60 40-60 41-60 40-60 39-60 39-60 38-60 38-60 38-60 36-60 36-60 35-60 35-60 34-60 32-60 32-60 31-60 30-60 29-60 28-60 27-60 26-60 25-60 23-60 22-60" stroke="#70008f"/><path d="M14170 6966l6-36 12-60 14-60 16-60 18-60 19-60 21-60 23-60 24-60 25-60 27-60 28-60 29-60 30-60 32-60 32-60 34-60 34-60 35-60 36-60 37-60 37-60 37-60 38-60 39-60 39-60 39-60 40-60 40-60 40-60 40-60 40-60 41-60 41-60 40-60 41-60 41-60 41-60 41-60 41-60 41-60 41-60 41-60 41-60 40-60 41-60 40-60 41-60 41-60 41-60 40-60 41-60 41-60 41-60 41-60 42-60 41-60 42-60 42-60 42-60 42-60 42-60 42-60 43-60 42-60 42-60 43-60 42-60 42-60 43-60 42-60 42-60 42-60 42-60 42-60 41-60 41-60 41-60 41-60 40-60 40-60 40-60 38-60 39-60 38-60 37-60 36-60 36-60 35-60 35-60 33-60 33-60 32-60 31-60 30-60 29-60 27-60 27-60 26-60 24-60 24-60 22-60" stroke="#6e0091"/><path d="M14189 6914l9-44 14-60 16-60 17-60 20-60 21-60 22-60 25-60 25-60 27-60 28-60 30-60 30-60 32-60 32-60 34-60 35-60 35-60 36-60 37-60 37-60 38-60 38-60 39-60 39-60 39-60 40-60 40-60 40-60 40-60 41-60 41-60 41-60 41-60 41-60 41-60 41-60 41-60 41-60 41-60 40-60 41-60 41-60 41-60 40-60 41-60 41-60 40-60 41-60 41-60 40-60 41-60 41-60 42-60 41-60 41-60 42-60 42-60 42-60 42-60 42-60 42-60 43-60 42-60 42-60 43-60 42-60 42-60 43-60 42-60 42-60 42-60 42-60 41-60 42-60 41-60 41-60 41-60 40-60 40-60 39-60 39-60 38-60 38-60 37-60 37-60 36-60 35-60 34-60 33-60 33-60 32-60 31-60 29-60 29-60 28-60 27-60 25-60 24-60 24-60 21-60" stroke="#6d0092"/><path d="M14190 6958l5-28 12-60 14-60 16-60 18-60 20-60 21-60 23-60 24-60 26-60 27-60 28-60 30-60 30-60 32-60 33-60 34-60 34-60 36-60 36-60 37-60 38-60 38-60 38-60 39-60 39-60 40-60 40-60 40-60 40-60 40-60 41-60 41-60 41-60 41-60 41-60 41-60 41-60 41-60 41-60 41-60 41-60 41-60 41-60 40-60 41-60 41-60 40-60 41-60 41-60 40-60 41-60 41-60 41-60 41-60 41-60 42-60 41-60 42-60 42-60 42-60 42-60 42-60 43-60 42-60 42-60 43-60 42-60 42-60 43-60 42-60 42-60 42-60 42-60 41-60 42-60 41-60 41-60 40-60 41-60 40-60 39-60 39-60 38-60 38-60 37-60 36-60 36-60 35-60 34-60 34-60 32-60 32-60 31-60 30-60 28-60 28-60 26-60 26-60 24-60 23-60 21-60" stroke="#6c0093"/><path d="M14210 6959l5-29 12-60 15-60 16-60 18-60 20-60 21-60 23-60 25-60 26-60 27-60 29-60 30-60 31-60 32-60 33-60 35-60 35-60 36-60 36-60 38-60 37-60 39-60 39-60 39-60 39-60 40-60 40-60 41-60 40-60 41-60 41-60 41-60 41-60 42-60 41-60 41-60 41-60 42-60 41-60 41-60 41-60 40-60 41-60 41-60 41-60 40-60 41-60 40-60 41-60 41-60 40-60 41-60 41-60 41-60 41-60 42-60 41-60 42-60 42-60 42-60 42-60 42-60 42-60 42-60 43-60 42-60 42-60 42-60 43-60 42-60 42-60 42-60 42-60 41-60 42-60 41-60 41-60 40-60 40-60 40-60 39-60 39-60 38-60 38-60 37-60 36-60 36-60 35-60 34-60 33-60 33-60 31-60 31-60 29-60 29-60 27-60 26-60 25-60 24-60 23-60 21-60" stroke="#6a0095"/><path d="M14219 6975l8-45 12-60 15-60 16-60 18-60 20-60 22-60 23-60 25-60 26-60 28-60 29-60 30-60 31-60 32-60 34-60 34-60 36-60 36-60 37-60 37-60 38-60 39-60 39-60 39-60 40-60 40-60 41-60 40-60 41-60 41-60 41-60 41-60 41-60 42-60 41-60 41-60 42-60 41-60 41-60 41-60 41-60 41-60 41-60 41-60 40-60 41-60 40-60 41-60 41-60 40-60 41-60 41-60 41-60 41-60 41-60 41-60 41-60 42-60 42-60 42-60 42-60 42-60 42-60 42-60 43-60 42-60 42-60 42-60 43-60 42-60 42-60 42-60 41-60 42-60 41-60 41-60 41-60 41-60 40-60 40-60 39-60 39-60 38-60 37-60 37-60 37-60 35-60 35-60 34-60 33-60 33-60 31-60 30-60 30-60 28-60 27-60 26-60 25-60 24-60 22-60 22-60" stroke="#690096"/><path d="M14231 6954l5-24 12-60 15-60 16-60 18-60 20-60 22-60 24-60 24-60 27-60 28-60 29-60 30-60 32-60 32-60 34-60 34-60 36-60 36-60 37-60 38-60 38-60 39-60 39-60 40-60 40-60 40-60 40-60 41-60 41-60 41-60 41-60 41-60 42-60 41-60 42-60 41-60 42-60 41-60 41-60 41-60 41-60 41-60 41-60 41-60 40-60 41-60 40-60 41-60 40-60 41-60 41-60 40-60 41-60 41-60 41-60 42-60 41-60 42-60 41-60 42-60 42-60 42-60 43-60 42-60 42-60 42-60 42-60 43-60 42-60 42-60 42-60 42-60 41-60 42-60 41-60 42-60 40-60 41-60 40-60 40-60 39-60 39-60 38-60 37-60 37-60 37-60 35-60 35-60 34-60 33-60 32-60 32-60 30-60 29-60 28-60 27-60 26-60 25-60 24-60 22-60 21-60" stroke="#680097"/><path d="M14247 6921l11-51 15-60 16-60 19-60 20-60 22-60 23-60 25-60 27-60 28-60 29-60 30-60 32-60 33-60 34-60 35-60 35-60 37-60 37-60 38-60 38-60 39-60 40-60 40-60 40-60 40-60 41-60 40-60 41-60 42-60 41-60 41-60 42-60 41-60 42-60 41-60 42-60 41-60 42-60 41-60 41-60 41-60 40-60 41-60 41-60 40-60 41-60 40-60 41-60 40-60 41-60 41-60 41-60 41-60 41-60 41-60 41-60 42-60 42-60 41-60 42-60 42-60 43-60 42-60 42-60 42-60 42-60 42-60 43-60 42-60 42-60 41-60 42-60 42-60 41-60 41-60 41-60 40-60 41-60 39-60 39-60 39-60 38-60 38-60 37-60 36-60 35-60 35-60 34-60 33-60 32-60 31-60 31-60 29-60 28-60 27-60 26-60 24-60 24-60 22-60 21-60" stroke="#660099"/><path d="M14260 6956l4-26 13-60 15-60 16-60 19-60 20-60 23-60 23-60 26-60 26-60 29-60 29-60 31-60 32-60 33-60 35-60 35-60 36-60 37-60 37-60 39-60 38-60 40-60 40-60 40-60 40-60 41-60 41-60 41-60 41-60 41-60 42-60 42-60 41-60 42-60 42-60 41-60 42-60 41-60 42-60 41-60 41-60 41-60 41-60 40-60 41-60 41-60 40-60 41-60 40-60 41-60 40-60 41-60 41-60 40-60 41-60 42-60 41-60 41-60 42-60 42-60 42-60 42-60 42-60 42-60 42-60 42-60 42-60 43-60 42-60 42-60 42-60 41-60 42-60 42-60 41-60 41-60 41-60 40-60 40-60 40-60 39-60 39-60 38-60 37-60 37-60 36-60 35-60 35-60 34-60 33-60 32-60 31-60 30-60 29-60 28-60 26-60 26-60 24-60 23-60 22-60 21-60" stroke="#65009a"/><path d="M14274 6920l10-50 15-60 17-60 19-60 20-60 22-60 24-60 26-60 27-60 28-60 30-60 31-60 32-60 33-60 35-60 35-60 36-60 37-60 38-60 38-60 39-60 40-60 40-60 40-60 40-60 41-60 41-60 41-60 42-60 41-60 42-60 42-60 41-60 42-60 42-60 42-60 41-60 42-60 41-60 41-60 42-60 40-60 41-60 41-60 41-60 40-60 41-60 40-60 41-60 40-60 41-60 40-60 41-60 41-60 41-60 41-60 41-60 42-60 41-60 42-60 42-60 42-60 42-60 42-60 42-60 42-60 42-60 43-60 42-60 42-60 41-60 42-60 42-60 41-60 42-60 41-60 41-60 40-60 40-60 40-60 39-60 38-60 38-60 38-60 37-60 36-60 35-60 35-60 33-60 33-60 32-60 31-60 30-60 29-60 28-60 26-60 26-60 24-60 23-60 22-60 20-60" stroke="#63009c"/><path d="M14282 6928l13-58 15-60 16-60 19-60 21-60 22-60 24-60 26-60 27-60 28-60 30-60 32-60 32-60 33-60 35-60 36-60 36-60 37-60 38-60 39-60 39-60 40-60 40-60 40-60 41-60 41-60 41-60 41-60 42-60 41-60 42-60 42-60 42-60 42-60 41-60 42-60 42-60 42-60 41-60 41-60 41-60 41-60 41-60 41-60 41-60 40-60 41-60 40-60 40-60 41-60 40-60 41-60 41-60 40-60 41-60 42-60 41-60 41-60 42-60 42-60 41-60 42-60 42-60 42-60 43-60 42-60 42-60 42-60 42-60 42-60 42-60 41-60 42-60 42-60 41-60 41-60 41-60 40-60 40-60 40-60 39-60 38-60 38-60 38-60 36-60 36-60 36-60 34-60 34-60 33-60 32-60 30-60 30-60 29-60 28-60 26-60 26-60 24-60 23-60 21-60 20-60" stroke="#62009d"/><path d="M14286 6978l9-48 12-60 15-60 17-60 19-60 21-60 23-60 24-60 26-60 27-60 29-60 30-60 31-60 33-60 34-60 35-60 35-60 37-60 37-60 39-60 39-60 39-60 40-60 40-60 41-60 41-60 41-60 41-60 42-60 41-60 42-60 42-60 42-60 42-60 42-60 42-60 42-60 42-60 41-60 42-60 41-60 41-60 41-60 41-60 41-60 41-60 40-60 41-60 40-60 40-60 41-60 40-60 41-60 40-60 41-60 41-60 41-60 41-60 42-60 41-60 42-60 42-60 42-60 42-60 42-60 42-60 42-60 42-60 42-60 42-60 42-60 42-60 41-60 42-60 42-60 41-60 41-60 40-60 41-60 40-60 39-60 39-60 39-60 38-60 37-60 37-60 36-60 35-60 35-60 33-60 33-60 32-60 30-60 30-60 29-60 27-60 27-60 25-60 24-60 22-60 22-60 19-60" stroke="#61009e"/><path d="M14310 6918l11-48 15-60 17-60 19-60 21-60 23-60 24-60 26-60 28-60 29-60 30-60 32-60 32-60 34-60 36-60 36-60 37-60 37-60 39-60 39-60 39-60 41-60 40-60 41-60 41-60 42-60 41-60 42-60 42-60 42-60 42-60 42-60 42-60 42-60 42-60 42-60 42-60 42-60 41-60 42-60 41-60 41-60 41-60 41-60 40-60 41-60 40-60 40-60 41-60 40-60 41-60 40-60 41-60 40-60 41-60 41-60 41-60 42-60 41-60 42-60 42-60 42-60 41-60 42-60 42-60 43-60 42-60 42-60 42-60 41-60 42-60 42-60 42-60 41-60 41-60 41-60 41-60 40-60 40-60 40-60 39-60 38-60 38-60 37-60 37-60 36-60 35-60 34-60 34-60 32-60 32-60 31-60 29-60 29-60 27-60 27-60 25-60 23-60 23-60 21-60 19-60" stroke="#5f00a0"/><path d="M14315 6952l4-22 13-60 15-60 17-60 20-60 21-60 23-60 24-60 26-60 28-60 29-60 31-60 32-60 33-60 34-60 35-60 37-60 37-60 38-60 38-60 40-60 40-60 40-60 41-60 41-60 41-60 42-60 41-60 42-60 42-60 42-60 43-60 42-60 42-60 42-60 43-60 42-60 42-60 41-60 42-60 42-60 41-60 41-60 41-60 40-60 41-60 40-60 41-60 40-60 41-60 40-60 40-60 41-60 40-60 41-60 41-60 41-60 41-60 41-60 42-60 41-60 42-60 42-60 42-60 42-60 42-60 42-60 42-60 42-60 42-60 41-60 42-60 42-60 41-60 42-60 41-60 41-60 41-60 40-60 40-60 39-60 39-60 39-60 38-60 37-60 37-60 35-60 35-60 35-60 33-60 33-60 31-60 31-60 29-60 29-60 27-60 26-60 25-60 23-60 23-60 20-60 20-60" stroke="#5e00a1"/><path d="M14324 6976l8-46 14-60 15-60 17-60 20-60 21-60 23-60 25-60 26-60 28-60 29-60 31-60 32-60 34-60 34-60 36-60 36-60 38-60 38-60 39-60 39-60 41-60 40-60 41-60 41-60 42-60 42-60 42-60 42-60 42-60 42-60 43-60 42-60 42-60 43-60 42-60 42-60 42-60 42-60 42-60 41-60 42-60 41-60 41-60 40-60 41-60 40-60 41-60 40-60 40-60 41-60 40-60 41-60 40-60 41-60 40-60 41-60 41-60 42-60 41-60 42-60 41-60 42-60 42-60 42-60 42-60 42-60 42-60 42-60 42-60 41-60 42-60 42-60 41-60 42-60 41-60 41-60 40-60 41-60 40-60 39-60 39-60 38-60 38-60 37-60 37-60 36-60 35-60 34-60 33-60 33-60 31-60 31-60 29-60 28-60 27-60 26-60 25-60 23-60 22-60 21-60 19-60" stroke="#5d00a2"/><path d="M14341 6959l6-29 13-60 15-60 18-60 19-60 22-60 23-60 25-60 27-60 28-60 29-60 32-60 32-60 34-60 34-60 36-60 37-60 38-60 38-60 39-60 40-60 41-60 41-60 41-60 41-60 42-60 42-60 42-60 43-60 42-60 43-60 42-60 43-60 42-60 43-60 42-60 42-60 43-60 42-60 41-60 42-60 41-60 41-60 41-60 41-60 40-60 41-60 40-60 41-60 40-60 40-60 40-60 41-60 40-60 41-60 40-60 41-60 41-60 42-60 41-60 41-60 42-60 42-60 42-60 41-60 42-60 42-60 42-60 42-60 42-60 42-60 42-60 41-60 42-60 41-60 41-60 41-60 41-60 40-60 40-60 39-60 39-60 38-60 38-60 37-60 37-60 36-60 34-60 35-60 33-60 32-60 31-60 31-60 29-60 28-60 27-60 26-60 24-60 23-60 22-60 21-60 18-60" stroke="#5b00a4"/><path d="M14359 6962l6-32 13-60 16-60 17-60 20-60 21-60 24-60 25-60 27-60 29-60 30-60 31-60 33-60 34-60 35-60 36-60 37-60 38-60 39-60 40-60 40-60 41-60 41-60 41-60 42-60 42-60 43-60 42-60 43-60 42-60 43-60 43-60 43-60 42-60 43-60 43-60 42-60 42-60 42-60 42-60 42-60 41-60 41-60 41-60 41-60 40-60 41-60 40-60 41-60 40-60 40-60 40-60 41-60 40-60 40-60 41-60 41-60 41-60 41-60 41-60 42-60 41-60 42-60 42-60 41-60 42-60 42-60 42-60 42-60 42-60 42-60 41-60 42-60 41-60 42-60 41-60 41-60 40-60 40-60 40-60 40-60 38-60 39-60 37-60 37-60 37-60 35-60 35-60 34-60 33-60 33-60 31-60 30-60 29-60 28-60 27-60 25-60 24-60 23-60 22-60 20-60 18-60" stroke="#5a00a5"/><path d="M14367 6956l4-26 14-60 15-60 18-60 20-60 22-60 23-60 26-60 27-60 28-60 30-60 32-60 33-60 34-60 35-60 36-60 38-60 38-60 39-60 40-60 40-60 41-60 41-60 42-60 42-60 42-60 42-60 43-60 43-60 42-60 43-60 43-60 43-60 43-60 42-60 43-60 42-60 43-60 42-60 42-60 41-60 42-60 41-60 41-60 41-60 40-60 41-60 40-60 40-60 40-60 41-60 40-60 40-60 40-60 41-60 40-60 41-60 41-60 41-60 42-60 41-60 42-60 41-60 42-60 42-60 42-60 41-60 42-60 42-60 42-60 42-60 41-60 42-60 41-60 42-60 41-60 41-60 40-60 40-60 40-60 40-60 38-60 39-60 37-60 37-60 37-60 35-60 35-60 34-60 33-60 32-60 31-60 30-60 29-60 28-60 27-60 25-60 25-60 22-60 22-60 20-60 18-60" stroke="#5900a6"/><path d="M14375 6971l7-41 14-60 16-60 17-60 20-60 22-60 24-60 25-60 27-60 29-60 31-60 31-60 33-60 35-60 35-60 37-60 37-60 39-60 39-60 40-60 40-60 41-60 42-60 42-60 42-60 42-60 43-60 43-60 43-60 42-60 43-60 43-60 43-60 43-60 43-60 43-60 42-60 43-60 42-60 42-60 42-60 41-60 41-60 41-60 41-60 40-60 41-60 40-60 40-60 40-60 41-60 40-60 40-60 40-60 41-60 40-60 41-60 41-60 41-60 41-60 42-60 41-60 42-60 42-60 41-60 42-60 42-60 42-60 42-60 41-60 42-60 42-60 41-60 42-60 41-60 41-60 41-60 40-60 41-60 39-60 40-60 38-60 39-60 37-60 37-60 37-60 35-60 35-60 34-60 33-60 32-60 31-60 30-60 29-60 27-60 27-60 25-60 24-60 23-60 21-60 20-60 18-60" stroke="#5700a8"/><path d="M14396 6945l2-15 14-60 16-60 18-60 20-60 22-60 24-60 26-60 27-60 29-60 31-60 32-60 33-60 35-60 35-60 37-60 38-60 39-60 39-60 41-60 41-60 41-60 42-60 42-60 42-60 43-60 43-60 43-60 43-60 43-60 43-60 43-60 44-60 43-60 43-60 42-60 43-60 43-60 42-60 42-60 42-60 41-60 41-60 41-60 41-60 41-60 40-60 40-60 40-60 41-60 40-60 40-60 40-60 40-60 41-60 40-60 41-60 41-60 41-60 41-60 41-60 42-60 41-60 42-60 42-60 41-60 42-60 42-60 42-60 41-60 42-60 42-60 41-60 42-60 41-60 41-60 41-60 40-60 40-60 40-60 39-60 39-60 38-60 38-60 37-60 36-60 36-60 34-60 34-60 33-60 32-60 31-60 29-60 29-60 28-60 26-60 25-60 24-60 22-60 21-60 20-60 18-60" stroke="#5600a9"/><path d="M14407 6952l4-22 14-60 16-60 18-60 20-60 22-60 25-60 25-60 28-60 29-60 31-60 32-60 34-60 35-60 36-60 37-60 38-60 39-60 40-60 40-60 42-60 41-60 42-60 43-60 42-60 43-60 43-60 43-60 44-60 43-60 43-60 44-60 43-60 43-60 43-60 43-60 43-60 43-60 42-60 42-60 42-60 41-60 42-60 41-60 40-60 41-60 40-60 41-60 40-60 40-60 40-60 40-60 40-60 40-60 41-60 40-60 41-60 40-60 41-60 42-60 41-60 41-60 42-60 41-60 42-60 42-60 42-60 41-60 42-60 42-60 41-60 42-60 42-60 41-60 41-60 41-60 41-60 40-60 40-60 40-60 39-60 39-60 38-60 38-60 37-60 36-60 35-60 35-60 34-60 32-60 32-60 31-60 30-60 28-60 28-60 26-60 25-60 23-60 23-60 20-60 20-60 17-60" stroke="#5500aa"/><path d="M14405 6974l8-44 14-60 16-60 18-60 20-60 22-60 24-60 26-60 28-60 29-60 31-60 32-60 34-60 35-60 36-60 37-60 38-60 39-60 40-60 41-60 41-60 42-60 42-60 42-60 43-60 43-60 43-60 43-60 43-60 44-60 43-60 43-60 44-60 43-60 43-60 43-60 43-60 42-60 43-60 42-60 42-60 41-60 41-60 41-60 41-60 41-60 40-60 40-60 40-60 40-60 41-60 40-60 40-60 40-60 40-60 41-60 40-60 41-60 41-60 41-60 41-60 42-60 41-60 42-60 42-60 41-60 42-60 42-60 42-60 41-60 42-60 42-60 41-60 41-60 42-60 41-60 40-60 41-60 40-60 40-60 39-60 39-60 38-60 37-60 37-60 36-60 36-60 34-60 34-60 33-60 32-60 30-60 30-60 29-60 27-60 26-60 25-60 24-60 22-60 21-60 19-60 18-60" stroke="#5300ac"/><path d="M14434 6922l12-52 16-60 18-60 21-60 22-60 25-60 26-60 28-60 29-60 32-60 32-60 34-60 35-60 37-60 37-60 39-60 39-60 41-60 40-60 42-60 42-60 42-60 43-60 43-60 44-60 43-60 43-60 44-60 44-60 43-60 44-60 43-60 44-60 43-60 43-60 43-60 43-60 42-60 43-60 41-60 42-60 41-60 41-60 41-60 40-60 41-60 40-60 40-60 40-60 40-60 40-60 40-60 40-60 41-60 40-60 41-60 40-60 41-60 41-60 41-60 42-60 41-60 42-60 41-60 42-60 42-60 42-60 41-60 42-60 42-60 41-60 42-60 41-60 41-60 41-60 41-60 40-60 40-60 40-60 39-60 39-60 38-60 37-60 37-60 36-60 35-60 35-60 33-60 33-60 32-60 30-60 30-60 28-60 27-60 26-60 25-60 23-60 22-60 21-60 19-60 17-60" stroke="#5200ad"/><path d="M14440 6943l3-13 13-60 17-60 18-60 21-60 22-60 25-60 26-60 28-60 30-60 31-60 33-60 34-60 36-60 36-60 38-60 39-60 39-60 41-60 41-60 42-60 42-60 43-60 43-60 43-60 43-60 44-60 43-60 44-60 44-60 44-60 43-60 44-60 44-60 43-60 43-60 43-60 43-60 43-60 42-60 42-60 41-60 42-60 41-60 40-60 41-60 40-60 40-60 41-60 40-60 40-60 40-60 40-60 40-60 40-60 40-60 41-60 40-60 41-60 41-60 41-60 42-60 41-60 42-60 41-60 42-60 42-60 41-60 42-60 42-60 41-60 42-60 41-60 41-60 42-60 41-60 40-60 41-60 40-60 39-60 39-60 39-60 38-60 37-60 37-60 36-60 36-60 34-60 33-60 33-60 32-60 30-60 30-60 28-60 27-60 26-60 24-60 24-60 21-60 21-60 18-60 18-60" stroke="#5000af"/><path d="M14453 6967l7-37 14-60 16-60 19-60 20-60 23-60 25-60 26-60 29-60 30-60 32-60 33-60 34-60 36-60 37-60 38-60 39-60 40-60 41-60 41-60 42-60 43-60 43-60 43-60 44-60 43-60 44-60 44-60 44-60 44-60 44-60 44-60 44-60 43-60 44-60 43-60 44-60 43-60 42-60 43-60 42-60 41-60 42-60 41-60 40-60 41-60 40-60 40-60 40-60 40-60 40-60 40-60 40-60 40-60 40-60 40-60 41-60 40-60 41-60 41-60 41-60 42-60 41-60 42-60 41-60 42-60 41-60 42-60 42-60 41-60 42-60 41-60 42-60 41-60 41-60 41-60 41-60 40-60 40-60 39-60 40-60 38-60 38-60 38-60 36-60 36-60 35-60 35-60 33-60 32-60 32-60 30-60 30-60 28-60 27-60 25-60 25-60 23-60 21-60 20-60 19-60 17-60" stroke="#4f00b0"/><path d="M14482 6915l11-45 16-60 19-60 21-60 23-60 25-60 27-60 28-60 31-60 32-60 33-60 35-60 36-60 37-60 39-60 39-60 41-60 41-60 42-60 42-60 43-60 43-60 44-60 44-60 44-60 44-60 44-60 44-60 45-60 44-60 44-60 44-60 44-60 44-60 43-60 44-60 43-60 42-60 43-60 42-60 42-60 41-60 41-60 41-60 40-60 41-60 40-60 40-60 40-60 40-60 39-60 40-60 40-60 40-60 40-60 41-60 40-60 41-60 41-60 41-60 41-60 42-60 41-60 41-60 42-60 42-60 41-60 42-60 41-60 42-60 41-60 42-60 41-60 41-60 41-60 40-60 41-60 40-60 39-60 39-60 39-60 38-60 37-60 37-60 35-60 36-60 34-60 33-60 32-60 32-60 30-60 29-60 28-60 27-60 25-60 24-60 23-60 21-60 20-60 18-60 17-60" stroke="#4e00b1"/><path d="M14482 6950l4-20 14-60 17-60 19-60 21-60 23-60 25-60 27-60 29-60 30-60 32-60 34-60 35-60 36-60 38-60 38-60 40-60 40-60 42-60 42-60 42-60 43-60 44-60 44-60 44-60 44-60 44-60 44-60 45-60 44-60 44-60 45-60 44-60 44-60 44-60 43-60 44-60 43-60 43-60 42-60 42-60 42-60 41-60 41-60 41-60 40-60 41-60 40-60 40-60 40-60 40-60 39-60 40-60 40-60 40-60 40-60 41-60 40-60 41-60 41-60 41-60 41-60 41-60 42-60 41-60 42-60 41-60 42-60 41-60 42-60 41-60 42-60 41-60 41-60 41-60 41-60 41-60 40-60 40-60 40-60 39-60 38-60 38-60 37-60 37-60 36-60 35-60 34-60 33-60 32-60 32-60 30-60 29-60 28-60 26-60 26-60 24-60 22-60 22-60 19-60 18-60 17-60" stroke="#4c00b3"/><path d="M14498 6922l12-52 17-60 19-60 21-60 23-60 25-60 27-60 29-60 31-60 32-60 34-60 35-60 37-60 37-60 39-60 40-60 41-60 41-60 42-60 43-60 43-60 44-60 44-60 44-60 44-60 45-60 44-60 45-60 44-60 45-60 44-60 44-60 44-60 44-60 44-60 43-60 44-60 42-60 43-60 42-60 42-60 41-60 41-60 41-60 40-60 41-60 40-60 40-60 40-60 40-60 39-60 40-60 40-60 40-60 40-60 40-60 41-60 41-60 40-60 41-60 42-60 41-60 41-60 42-60 41-60 42-60 41-60 42-60 41-60 42-60 41-60 41-60 42-60 41-60 41-60 40-60 40-60 40-60 40-60 39-60 38-60 38-60 37-60 37-60 36-60 35-60 34-60 33-60 32-60 31-60 30-60 29-60 28-60 27-60 25-60 24-60 22-60 21-60 20-60 18-60 16-60" stroke="#4b00b4"/><path d="M14507 6907l9-37 16-60 19-60 21-60 24-60 25-60 27-60 29-60 31-60 32-60 34-60 36-60 36-60 38-60 39-60 40-60 41-60 41-60 42-60 43-60 44-60 43-60 45-60 44-60 44-60 45-60 44-60 45-60 44-60 45-60 44-60 45-60 44-60 44-60 43-60 44-60 43-60 43-60 43-60 42-60 42-60 41-60 41-60 41-60 40-60 40-60 41-60 40-60 39-60 40-60 40-60 40-60 40-60 40-60 40-60 40-60 40-60 41-60 41-60 41-60 41-60 41-60 42-60 41-60 42-60 41-60 42-60 41-60 42-60 41-60 41-60 42-60 41-60 41-60 41-60 40-60 41-60 40-60 39-60 39-60 38-60 38-60 38-60 36-60 36-60 35-60 34-60 33-60 32-60 31-60 30-60 29-60 28-60 27-60 25-60 23-60 23-60 21-60 19-60 18-60 16-60" stroke="#4a00b5"/><path d="M14520 6941l2-11 14-60 17-60 19-60 22-60 23-60 26-60 27-60 30-60 31-60 33-60 34-60 35-60 37-60 39-60 39-60 40-60 41-60 42-60 43-60 43-60 44-60 44-60 45-60 44-60 45-60 45-60 45-60 45-60 44-60 45-60 45-60 44-60 45-60 44-60 44-60 44-60 43-60 43-60 43-60 42-60 42-60 41-60 41-60 41-60 40-60 41-60 40-60 40-60 39-60 40-60 40-60 40-60 39-60 40-60 40-60 40-60 41-60 40-60 41-60 41-60 41-60 41-60 42-60 41-60 41-60 42-60 41-60 42-60 41-60 42-60 41-60 41-60 41-60 41-60 41-60 41-60 40-60 40-60 39-60 39-60 39-60 37-60 37-60 37-60 36-60 34-60 34-60 33-60 32-60 31-60 30-60 29-60 28-60 26-60 25-60 23-60 22-60 21-60 19-60 18-60 15-60" stroke="#4800b7"/><path d="M14532 6936l2-6 14-60 17-60 19-60 22-60 24-60 25-60 28-60 30-60 31-60 33-60 34-60 36-60 37-60 39-60 39-60 41-60 41-60 42-60 43-60 44-60 44-60 44-60 45-60 45-60 45-60 45-60 45-60 45-60 45-60 45-60 44-60 45-60 45-60 44-60 44-60 44-60 43-60 43-60 43-60 42-60 42-60 42-60 41-60 40-60 41-60 40-60 40-60 40-60 40-60 40-60 39-60 40-60 40-60 39-60 40-60 41-60 40-60 40-60 41-60 41-60 41-60 41-60 42-60 41-60 41-60 42-60 41-60 42-60 41-60 41-60 42-60 41-60 41-60 41-60 41-60 40-60 40-60 40-60 40-60 39-60 38-60 38-60 37-60 36-60 36-60 35-60 33-60 33-60 32-60 31-60 30-60 29-60 27-60 26-60 25-60 23-60 22-60 21-60 19-60 17-60 16-60" stroke="#4700b8"/><path d="M14539 6944l3-14 14-60 17-60 19-60 22-60 24-60 26-60 27-60 30-60 32-60 33-60 34-60 36-60 38-60 38-60 40-60 40-60 42-60 42-60 44-60 43-60 44-60 45-60 45-60 45-60 45-60 45-60 45-60 45-60 45-60 45-60 45-60 45-60 45-60 44-60 44-60 44-60 43-60 43-60 43-60 43-60 41-60 42-60 41-60 41-60 40-60 40-60 40-60 40-60 40-60 40-60 39-60 40-60 40-60 40-60 40-60 40-60 40-60 40-60 41-60 41-60 41-60 41-60 41-60 42-60 41-60 41-60 42-60 41-60 42-60 41-60 41-60 42-60 41-60 41-60 40-60 41-60 40-60 40-60 39-60 39-60 38-60 38-60 37-60 37-60 35-60 35-60 34-60 33-60 32-60 30-60 30-60 29-60 27-60 26-60 25-60 23-60 22-60 20-60 19-60 17-60 16-60" stroke="#4600b9"/><path d="M14559 6936l1-6 15-60 17-60 20-60 22-60 24-60 26-60 28-60 30-60 32-60 33-60 35-60 36-60 38-60 39-60 40-60 41-60 42-60 43-60 43-60 44-60 45-60 45-60 45-60 45-60 45-60 46-60 45-60 46-60 45-60 45-60 46-60 45-60 44-60 45-60 44-60 44-60 44-60 43-60 43-60 42-60 42-60 42-60 41-60 41-60 40-60 40-60 40-60 40-60 40-60 39-60 40-60 40-60 39-60 40-60 40-60 40-60 40-60 40-60 41-60 41-60 41-60 41-60 41-60 41-60 42-60 41-60 41-60 42-60 41-60 41-60 42-60 41-60 41-60 41-60 41-60 40-60 40-60 40-60 39-60 39-60 38-60 38-60 37-60 36-60 36-60 34-60 34-60 33-60 32-60 30-60 30-60 28-60 28-60 25-60 25-60 23-60 22-60 20-60 18-60 17-60 15-60" stroke="#4400bb"/><path d="M14566 6941l2-11 15-60 17-60 20-60 22-60 24-60 26-60 29-60 30-60 31-60 34-60 35-60 37-60 37-60 40-60 40-60 41-60 42-60 43-60 44-60 44-60 44-60 45-60 46-60 45-60 46-60 45-60 46-60 45-60 46-60 45-60 46-60 45-60 44-60 45-60 44-60 44-60 44-60 43-60 43-60 43-60 42-60 41-60 41-60 41-60 41-60 40-60 40-60 40-60 39-60 40-60 39-60 40-60 40-60 39-60 40-60 40-60 40-60 41-60 40-60 41-60 41-60 41-60 41-60 41-60 42-60 41-60 41-60 42-60 41-60 41-60 42-60 41-60 41-60 41-60 40-60 41-60 40-60 40-60 39-60 39-60 38-60 38-60 37-60 36-60 35-60 35-60 34-60 32-60 32-60 31-60 29-60 29-60 27-60 26-60 24-60 23-60 21-60 20-60 19-60 16-60 15-60" stroke="#4300bc"/><path d="M14588 6918l12-48 18-60 19-60 22-60 25-60 26-60 29-60 30-60 32-60 34-60 35-60 37-60 38-60 40-60 40-60 42-60 42-60 44-60 44-60 44-60 45-60 45-60 46-60 46-60 46-60 45-60 46-60 46-60 46-60 45-60 46-60 45-60 45-60 45-60 44-60 45-60 43-60 44-60 43-60 42-60 42-60 42-60 41-60 41-60 40-60 40-60 40-60 40-60 40-60 39-60 40-60 39-60 40-60 39-60 40-60 40-60 40-60 41-60 40-60 41-60 41-60 41-60 41-60 41-60 41-60 42-60 41-60 41-60 41-60 42-60 41-60 41-60 41-60 41-60 41-60 40-60 40-60 40-60 39-60 39-60 38-60 38-60 36-60 37-60 35-60 35-60 33-60 33-60 31-60 31-60 29-60 29-60 26-60 26-60 24-60 23-60 21-60 20-60 18-60 16-60 15-60" stroke="#4200bd"/><path d="M14597 6915l11-45 17-60 20-60 22-60 25-60 26-60 29-60 30-60 32-60 34-60 36-60 37-60 38-60 40-60 40-60 42-60 43-60 43-60 44-60 45-60 45-60 46-60 45-60 46-60 46-60 46-60 46-60 46-60 46-60 45-60 46-60 45-60 45-60 45-60 45-60 44-60 44-60 43-60 43-60 43-60 42-60 41-60 42-60 40-60 41-60 40-60 40-60 40-60 39-60 40-60 39-60 40-60 39-60 40-60 40-60 40-60 40-60 40-60 41-60 40-60 41-60 41-60 41-60 41-60 42-60 41-60 41-60 41-60 42-60 41-60 41-60 41-60 41-60 41-60 41-60 40-60 40-60 40-60 39-60 39-60 38-60 38-60 36-60 37-60 35-60 34-60 34-60 33-60 31-60 31-60 29-60 28-60 27-60 25-60 24-60 23-60 21-60 20-60 18-60 16-60 15-60" stroke="#4000bf"/><path d="M14611 6915l11-45 17-60 20-60 23-60 24-60 27-60 29-60 30-60 33-60 34-60 36-60 37-60 39-60 40-60 40-60 42-60 43-60 44-60 44-60 45-60 46-60 45-60 46-60 47-60 46-60 46-60 46-60 46-60 46-60 46-60 46-60 45-60 46-60 45-60 44-60 45-60 44-60 43-60 43-60 43-60 42-60 41-60 41-60 41-60 41-60 40-60 40-60 40-60 39-60 40-60 39-60 39-60 40-60 39-60 40-60 40-60 40-60 40-60 41-60 40-60 41-60 41-60 41-60 41-60 42-60 41-60 41-60 41-60 42-60 41-60 41-60 41-60 41-60 41-60 40-60 41-60 40-60 39-60 40-60 38-60 38-60 38-60 37-60 36-60 35-60 35-60 33-60 33-60 31-60 30-60 30-60 28-60 26-60 26-60 24-60 22-60 21-60 19-60 18-60 16-60 15-60" stroke="#3f00c0"/><path d="M14610 6951l4-21 15-60 17-60 21-60 22-60 25-60 27-60 28-60 31-60 33-60 34-60 36-60 37-60 39-60 40-60 41-60 42-60 43-60 44-60 45-60 45-60 45-60 46-60 46-60 47-60 46-60 46-60 46-60 47-60 46-60 46-60 45-60 46-60 45-60 45-60 45-60 45-60 44-60 43-60 43-60 43-60 42-60 41-60 42-60 40-60 41-60 40-60 40-60 40-60 39-60 40-60 39-60 40-60 39-60 39-60 40-60 40-60 40-60 40-60 41-60 40-60 41-60 41-60 41-60 41-60 41-60 41-60 42-60 41-60 41-60 41-60 42-60 41-60 41-60 40-60 41-60 40-60 40-60 40-60 39-60 39-60 38-60 37-60 37-60 36-60 35-60 35-60 33-60 33-60 31-60 31-60 29-60 28-60 26-60 26-60 23-60 23-60 21-60 19-60 18-60 16-60 14-60" stroke="#3d00c2"/><path d="M14615 6976l10-46 15-60 17-60 21-60 22-60 25-60 27-60 29-60 31-60 33-60 34-60 36-60 38-60 39-60 40-60 41-60 43-60 43-60 44-60 45-60 45-60 46-60 46-60 46-60 46-60 47-60 46-60 47-60 46-60 46-60 47-60 46-60 45-60 46-60 45-60 45-60 44-60 44-60 44-60 43-60 43-60 42-60 41-60 42-60 40-60 41-60 40-60 40-60 40-60 39-60 39-60 40-60 39-60 40-60 39-60 40-60 39-60 40-60 41-60 40-60 41-60 40-60 41-60 41-60 41-60 41-60 42-60 41-60 41-60 41-60 41-60 42-60 41-60 41-60 40-60 41-60 40-60 40-60 40-60 39-60 39-60 38-60 37-60 37-60 36-60 35-60 34-60 34-60 32-60 32-60 30-60 29-60 28-60 26-60 25-60 24-60 22-60 21-60 19-60 18-60 16-60 13-60" stroke="#3c00c3"/><path d="M14654 6912l10-42 18-60 21-60 22-60 26-60 27-60 29-60 32-60 33-60 35-60 36-60 38-60 40-60 40-60 42-60 43-60 44-60 44-60 45-60 46-60 46-60 47-60 47-60 46-60 47-60 47-60 47-60 47-60 46-60 47-60 46-60 46-60 46-60 45-60 45-60 45-60 44-60 44-60 43-60 43-60 42-60 42-60 41-60 41-60 40-60 40-60 40-60 40-60 39-60 40-60 39-60 39-60 39-60 40-60 39-60 40-60 40-60 40-60 40-60 41-60 41-60 40-60 41-60 41-60 41-60 41-60 42-60 41-60 41-60 41-60 41-60 41-60 41-60 41-60 40-60 40-60 40-60 40-60 39-60 39-60 38-60 37-60 37-60 36-60 35-60 34-60 33-60 32-60 32-60 30-60 29-60 27-60 26-60 25-60 24-60 22-60 20-60 19-60 17-60 15-60 14-60" stroke="#3b00c4"/><path d="M14656 6927l14-57 18-60 21-60 22-60 26-60 27-60 30-60 31-60 33-60 35-60 37-60 38-60 40-60 40-60 42-60 43-60 44-60 45-60 45-60 46-60 46-60 47-60 47-60 47-60 47-60 47-60 47-60 46-60 47-60 47-60 46-60 46-60 46-60 45-60 45-60 45-60 44-60 44-60 43-60 43-60 42-60 42-60 41-60 41-60 40-60 40-60 40-60 40-60 39-60 40-60 39-60 39-60 40-60 39-60 39-60 40-60 40-60 40-60 40-60 41-60 40-60 41-60 41-60 41-60 41-60 41-60 41-60 42-60 41-60 41-60 41-60 41-60 41-60 40-60 41-60 40-60 40-60 40-60 39-60 38-60 38-60 38-60 36-60 36-60 35-60 34-60 34-60 32-60 31-60 30-60 29-60 27-60 27-60 24-60 24-60 22-60 20-60 19-60 17-60 15-60 13-60" stroke="#3900c6"/><path d="M14665 6927l14-57 18-60 21-60 23-60 25-60 27-60 30-60 32-60 33-60 35-60 37-60 38-60 40-60 41-60 42-60 43-60 44-60 45-60 45-60 47-60 46-60 47-60 47-60 47-60 47-60 47-60 47-60 47-60 47-60 47-60 46-60 46-60 46-60 46-60 45-60 45-60 44-60 44-60 43-60 43-60 42-60 42-60 41-60 41-60 40-60 40-60 40-60 40-60 39-60 40-60 39-60 39-60 39-60 40-60 39-60 40-60 39-60 41-60 40-60 40-60 41-60 41-60 41-60 40-60 42-60 41-60 41-60 41-60 41-60 41-60 41-60 41-60 41-60 40-60 41-60 40-60 40-60 40-60 39-60 38-60 38-60 38-60 36-60 36-60 35-60 34-60 33-60 33-60 31-60 30-60 28-60 28-60 26-60 25-60 23-60 22-60 20-60 19-60 16-60 15-60 14-60" stroke="#3800c7"/><path d="M14679 6916l12-46 18-60 21-60 23-60 25-60 28-60 30-60 32-60 33-60 36-60 37-60 38-60 40-60 41-60 43-60 43-60 44-60 45-60 46-60 46-60 47-60 47-60 47-60 48-60 47-60 47-60 47-60 48-60 47-60 46-60 47-60 46-60 46-60 46-60 45-60 45-60 44-60 44-60 44-60 43-60 42-60 41-60 42-60 41-60 40-60 40-60 40-60 39-60 40-60 39-60 39-60 39-60 40-60 39-60 39-60 40-60 40-60 40-60 40-60 40-60 41-60 41-60 41-60 40-60 41-60 42-60 41-60 41-60 41-60 41-60 41-60 41-60 41-60 40-60 41-60 40-60 40-60 39-60 39-60 39-60 38-60 37-60 37-60 35-60 35-60 35-60 33-60 32-60 31-60 30-60 28-60 28-60 26-60 24-60 23-60 22-60 20-60 18-60 17-60 15-60 13-60" stroke="#3700c8"/><path d="M14695 6909l10-39 18-60 21-60 23-60 26-60 28-60 30-60 32-60 34-60 35-60 37-60 39-60 40-60 42-60 42-60 44-60 45-60 45-60 46-60 46-60 47-60 48-60 47-60 48-60 47-60 48-60 47-60 48-60 47-60 47-60 47-60 46-60 46-60 46-60 45-60 45-60 45-60 44-60 43-60 43-60 42-60 42-60 41-60 41-60 41-60 40-60 40-60 39-60 39-60 40-60 39-60 39-60 39-60 39-60 40-60 39-60 40-60 40-60 40-60 41-60 40-60 41-60 40-60 41-60 41-60 41-60 41-60 41-60 41-60 41-60 41-60 41-60 41-60 41-60 40-60 40-60 40-60 40-60 39-60 38-60 38-60 37-60 37-60 36-60 35-60 34-60 33-60 32-60 31-60 29-60 29-60 27-60 26-60 24-60 23-60 22-60 20-60 18-60 16-60 15-60 13-60" stroke="#3500ca"/><path d="M14697 6973l9-43 15-60 19-60 21-60 23-60 26-60 28-60 30-60 32-60 35-60 35-60 38-60 39-60 41-60 41-60 43-60 44-60 45-60 46-60 46-60 47-60 47-60 48-60 48-60 47-60 48-60 48-60 48-60 47-60 48-60 47-60 47-60 46-60 47-60 46-60 45-60 45-60 45-60 44-60 44-60 42-60 43-60 42-60 41-60 41-60 40-60 40-60 40-60 39-60 40-60 39-60 39-60 39-60 39-60 39-60 40-60 39-60 40-60 40-60 40-60 40-60 41-60 40-60 41-60 41-60 41-60 41-60 41-60 41-60 41-60 41-60 41-60 40-60 41-60 41-60 40-60 40-60 40-60 40-60 39-60 38-60 38-60 37-60 37-60 35-60 35-60 34-60 33-60 32-60 31-60 29-60 29-60 27-60 26-60 24-60 23-60 21-60 20-60 18-60 16-60 14-60 13-60" stroke="#3400cb"/><path d="M14702 6971l8-41 16-60 18-60 21-60 24-60 26-60 28-60 30-60 33-60 34-60 36-60 37-60 39-60 41-60 42-60 43-60 44-60 45-60 46-60 46-60 47-60 47-60 48-60 48-60 48-60 48-60 48-60 47-60 48-60 48-60 47-60 47-60 46-60 47-60 46-60 45-60 45-60 45-60 44-60 44-60 43-60 42-60 42-60 41-60 41-60 40-60 40-60 40-60 40-60 39-60 39-60 39-60 39-60 39-60 40-60 39-60 39-60 40-60 40-60 40-60 40-60 41-60 40-60 41-60 41-60 41-60 41-60 41-60 41-60 41-60 41-60 41-60 40-60 41-60 41-60 40-60 40-60 40-60 40-60 39-60 38-60 38-60 37-60 36-60 36-60 35-60 34-60 33-60 32-60 30-60 30-60 28-60 27-60 26-60 24-60 23-60 21-60 20-60 18-60 16-60 14-60 13-60" stroke="#3300cc"/><path d="M14727 6947l4-17 15-60 19-60 21-60 24-60 26-60 28-60 31-60 32-60 35-60 36-60 38-60 40-60 41-60 42-60 43-60 45-60 45-60 46-60 47-60 48-60 47-60 48-60 49-60 48-60 48-60 48-60 48-60 48-60 48-60 48-60 47-60 47-60 46-60 46-60 46-60 46-60 44-60 45-60 43-60 43-60 43-60 41-60 42-60 41-60 40-60 40-60 40-60 39-60 39-60 40-60 39-60 39-60 39-60 39-60 39-60 39-60 40-60 40-60 40-60 40-60 40-60 41-60 41-60 40-60 41-60 41-60 41-60 41-60 41-60 41-60 41-60 40-60 41-60 41-60 40-60 40-60 40-60 39-60 39-60 39-60 37-60 37-60 37-60 35-60 35-60 34-60 33-60 32-60 30-60 30-60 28-60 27-60 25-60 24-60 23-60 21-60 19-60 18-60 15-60 14-60 12-60" stroke="#3100ce"/><path d="M14731 6976l10-46 16-60 19-60 21-60 24-60 26-60 29-60 30-60 33-60 35-60 36-60 38-60 40-60 41-60 43-60 43-60 45-60 46-60 46-60 47-60 48-60 48-60 48-60 48-60 49-60 48-60 49-60 48-60 48-60 48-60 47-60 48-60 47-60 46-60 47-60 46-60 45-60 45-60 44-60 44-60 43-60 42-60 42-60 41-60 41-60 41-60 40-60 39-60 40-60 39-60 39-60 39-60 39-60 39-60 39-60 39-60 40-60 39-60 40-60 40-60 40-60 41-60 40-60 41-60 40-60 41-60 41-60 41-60 41-60 41-60 41-60 41-60 40-60 41-60 41-60 40-60 40-60 40-60 39-60 39-60 38-60 38-60 37-60 36-60 36-60 35-60 33-60 33-60 32-60 30-60 30-60 28-60 27-60 25-60 24-60 22-60 21-60 19-60 18-60 15-60 14-60 12-60" stroke="#3000cf"/><path d="M14754 6926l15-56 19-60 21-60 24-60 27-60 28-60 31-60 33-60 35-60 37-60 38-60 40-60 42-60 42-60 44-60 45-60 46-60 46-60 48-60 47-60 49-60 48-60 49-60 48-60 49-60 49-60 48-60 48-60 48-60 48-60 48-60 47-60 47-60 46-60 46-60 45-60 45-60 45-60 44-60 43-60 42-60 42-60 41-60 41-60 41-60 40-60 39-60 40-60 39-60 39-60 39-60 39-60 39-60 39-60 39-60 39-60 40-60 39-60 40-60 40-60 41-60 40-60 41-60 41-60 40-60 41-60 41-60 41-60 41-60 41-60 40-60 41-60 41-60 40-60 41-60 40-60 39-60 40-60 39-60 38-60 38-60 37-60 36-60 35-60 35-60 34-60 33-60 31-60 31-60 29-60 28-60 27-60 25-60 24-60 22-60 21-60 19-60 17-60 15-60 14-60 12-60" stroke="#2f00d0"/><path d="M14765 6931l0-1 16-60 19-60 21-60 25-60 26-60 29-60 31-60 33-60 35-60 37-60 39-60 40-60 42-60 43-60 44-60 45-60 46-60 47-60 47-60 48-60 49-60 48-60 49-60 49-60 49-60 49-60 48-60 49-60 48-60 48-60 48-60 47-60 47-60 46-60 46-60 46-60 45-60 44-60 44-60 43-60 43-60 42-60 41-60 41-60 40-60 40-60 40-60 39-60 40-60 39-60 38-60 39-60 39-60 39-60 39-60 39-60 40-60 40-60 40-60 40-60 40-60 40-60 41-60 41-60 40-60 41-60 41-60 41-60 41-60 41-60 40-60 41-60 41-60 40-60 40-60 40-60 40-60 39-60 39-60 39-60 37-60 37-60 36-60 36-60 34-60 34-60 33-60 31-60 31-60 29-60 28-60 26-60 26-60 23-60 22-60 21-60 19-60 17-60 15-60 13-60 12-60" stroke="#2d00d2"/><path d="M14771 6956l6-26 16-60 19-60 21-60 25-60 26-60 29-60 32-60 33-60 35-60 37-60 39-60 40-60 42-60 43-60 45-60 45-60 46-60 47-60 48-60 48-60 49-60 49-60 49-60 49-60 49-60 49-60 49-60 48-60 49-60 48-60 48-60 47-60 47-60 47-60 46-60 46-60 45-60 44-60 44-60 43-60 43-60 42-60 41-60 41-60 40-60 40-60 40-60 39-60 40-60 38-60 39-60 39-60 39-60 39-60 39-60 39-60 40-60 39-60 40-60 40-60 40-60 41-60 40-60 41-60 41-60 40-60 41-60 41-60 41-60 41-60 41-60 40-60 41-60 40-60 41-60 40-60 39-60 39-60 39-60 39-60 37-60 37-60 36-60 36-60 34-60 34-60 32-60 32-60 30-60 29-60 28-60 27-60 25-60 23-60 22-60 21-60 18-60 17-60 15-60 13-60 12-60" stroke="#2c00d3"/><path d="M14785 6930l0 0 16-60 19-60 21-60 25-60 27-60 29-60 31-60 34-60 35-60 37-60 39-60 41-60 42-60 43-60 44-60 46-60 46-60 48-60 47-60 49-60 49-60 49-60 49-60 49-60 49-60 49-60 49-60 49-60 49-60 48-60 48-60 47-60 47-60 47-60 46-60 46-60 45-60 45-60 44-60 43-60 42-60 42-60 42-60 41-60 40-60 40-60 39-60 40-60 39-60 39-60 39-60 39-60 38-60 39-60 39-60 39-60 40-60 39-60 40-60 40-60 41-60 40-60 40-60 41-60 41-60 40-60 41-60 41-60 41-60 41-60 40-60 41-60 41-60 40-60 40-60 40-60 40-60 39-60 39-60 38-60 38-60 37-60 36-60 35-60 35-60 33-60 33-60 31-60 31-60 29-60 27-60 27-60 25-60 23-60 22-60 20-60 19-60 17-60 15-60 13-60 11-60" stroke="#2a00d5"/><path d="M14794 6965l8-35 16-60 19-60 22-60 24-60 27-60 30-60 31-60 34-60 36-60 37-60 40-60 41-60 42-60 43-60 45-60 46-60 47-60 47-60 49-60 48-60 50-60 49-60 49-60 50-60 49-60 50-60 49-60 49-60 49-60 48-60 48-60 48-60 47-60 47-60 46-60 46-60 46-60 44-60 44-60 44-60 42-60 42-60 41-60 41-60 41-60 40-60 39-60 40-60 39-60 38-60 39-60 39-60 39-60 39-60 38-60 40-60 39-60 39-60 40-60 40-60 40-60 41-60 40-60 41-60 40-60 41-60 41-60 41-60 40-60 41-60 41-60 41-60 40-60 40-60 41-60 40-60 39-60 39-60 39-60 38-60 38-60 37-60 36-60 35-60 35-60 33-60 33-60 31-60 30-60 29-60 28-60 26-60 25-60 23-60 22-60 20-60 18-60 17-60 14-60 13-60 11-60" stroke="#2900d6"/><path d="M14818 6923l14-53 19-60 22-60 25-60 27-60 30-60 31-60 34-60 36-60 38-60 40-60 41-60 42-60 44-60 45-60 46-60 47-60 48-60 49-60 49-60 49-60 50-60 50-60 49-60 50-60 50-60 49-60 49-60 49-60 49-60 48-60 48-60 47-60 47-60 47-60 46-60 45-60 45-60 44-60 43-60 43-60 42-60 41-60 41-60 40-60 40-60 40-60 39-60 39-60 39-60 39-60 39-60 38-60 39-60 39-60 39-60 39-60 40-60 39-60 40-60 41-60 40-60 40-60 41-60 40-60 41-60 41-60 40-60 41-60 41-60 41-60 40-60 41-60 40-60 40-60 40-60 40-60 39-60 39-60 38-60 37-60 37-60 36-60 35-60 35-60 33-60 33-60 31-60 30-60 29-60 27-60 26-60 25-60 23-60 22-60 20-60 18-60 16-60 15-60 12-60 11-60" stroke="#2800d7"/><path d="M14824 6957l6-27 17-60 19-60 22-60 25-60 27-60 30-60 32-60 34-60 37-60 38-60 39-60 42-60 43-60 44-60 45-60 47-60 47-60 48-60 49-60 49-60 50-60 50-60 50-60 50-60 50-60 50-60 49-60 50-60 49-60 48-60 49-60 48-60 48-60 47-60 46-60 46-60 46-60 45-60 44-60 43-60 43-60 42-60 41-60 41-60 41-60 40-60 39-60 39-60 39-60 39-60 39-60 38-60 39-60 39-60 39-60 39-60 39-60 39-60 40-60 40-60 40-60 40-60 41-60 40-60 41-60 40-60 41-60 41-60 40-60 41-60 41-60 40-60 41-60 40-60 40-60 40-60 40-60 39-60 38-60 39-60 37-60 37-60 36-60 35-60 34-60 34-60 32-60 31-60 30-60 29-60 27-60 26-60 25-60 23-60 21-60 20-60 18-60 16-60 14-60 12-60 11-60" stroke="#2600d9"/><path d="M14837 6943l3-13 16-60 19-60 23-60 25-60 27-60 30-60 32-60 34-60 37-60 38-60 40-60 41-60 43-60 45-60 45-60 47-60 48-60 48-60 49-60 49-60 50-60 50-60 51-60 50-60 50-60 50-60 49-60 50-60 49-60 49-60 49-60 48-60 48-60 47-60 46-60 47-60 45-60 45-60 44-60 44-60 42-60 43-60 41-60 41-60 40-60 40-60 40-60 39-60 39-60 39-60 38-60 39-60 38-60 39-60 39-60 39-60 39-60 39-60 40-60 40-60 40-60 40-60 40-60 41-60 40-60 41-60 41-60 40-60 41-60 41-60 40-60 41-60 40-60 41-60 40-60 40-60 39-60 39-60 39-60 38-60 38-60 36-60 36-60 35-60 35-60 33-60 32-60 31-60 30-60 29-60 27-60 26-60 24-60 23-60 22-60 19-60 18-60 16-60 14-60 12-60 10-60" stroke="#2500da"/><path d="M14853 6910l11-40 19-60 23-60 25-60 27-60 30-60 32-60 35-60 36-60 39-60 40-60 41-60 44-60 44-60 46-60 46-60 48-60 49-60 49-60 49-60 50-60 51-60 50-60 50-60 51-60 50-60 50-60 49-60 49-60 49-60 49-60 48-60 48-60 47-60 47-60 46-60 46-60 45-60 44-60 44-60 42-60 42-60 42-60 41-60 40-60 40-60 40-60 39-60 39-60 38-60 39-60 39-60 38-60 39-60 39-60 38-60 40-60 39-60 40-60 40-60 40-60 40-60 40-60 40-60 41-60 41-60 40-60 41-60 41-60 40-60 41-60 40-60 41-60 40-60 40-60 40-60 40-60 39-60 38-60 38-60 38-60 37-60 35-60 36-60 34-60 33-60 32-60 31-60 30-60 29-60 27-60 26-60 24-60 23-60 21-60 20-60 17-60 16-60 14-60 12-60 10-60" stroke="#2400db"/><path d="M14860 6916l12-46 20-60 22-60 25-60 28-60 30-60 32-60 35-60 36-60 39-60 40-60 41-60 44-60 44-60 46-60 47-60 47-60 49-60 49-60 50-60 50-60 50-60 50-60 50-60 51-60 50-60 50-60 49-60 50-60 49-60 48-60 49-60 47-60 48-60 46-60 46-60 46-60 45-60 44-60 43-60 43-60 42-60 41-60 41-60 40-60 40-60 40-60 39-60 39-60 38-60 39-60 38-60 39-60 38-60 39-60 39-60 39-60 40-60 39-60 40-60 40-60 40-60 40-60 41-60 40-60 41-60 40-60 41-60 41-60 40-60 41-60 40-60 41-60 40-60 40-60 40-60 39-60 40-60 38-60 38-60 38-60 36-60 36-60 35-60 34-60 33-60 33-60 30-60 30-60 29-60 27-60 25-60 25-60 22-60 21-60 20-60 17-60 16-60 13-60 12-60 10-60" stroke="#2400db"/><path d="M14859 6928l17-58 19-60 23-60 25-60 28-60 30-60 33-60 34-60 37-60 39-60 40-60 42-60 44-60 45-60 46-60 47-60 48-60 49-60 50-60 50-60 50-60 51-60 51-60 51-60 50-60 51-60 50-60 50-60 50-60 49-60 49-60 48-60 49-60 47-60 47-60 47-60 45-60 46-60 44-60 44-60 43-60 42-60 41-60 41-60 41-60 40-60 39-60 40-60 39-60 38-60 39-60 39-60 38-60 39-60 39-60 39-60 39-60 39-60 40-60 40-60 40-60 40-60 40-60 40-60 41-60 40-60 41-60 41-60 40-60 41-60 41-60 40-60 41-60 40-60 40-60 40-60 39-60 39-60 39-60 38-60 37-60 37-60 36-60 35-60 34-60 34-60 32-60 31-60 30-60 28-60 28-60 25-60 25-60 23-60 21-60 19-60 18-60 16-60 14-60 12-60 10-60" stroke="#2300dc"/><path d="M14862 6920l14-50 20-60 22-60 25-60 28-60 31-60 32-60 35-60 37-60 38-60 41-60 42-60 44-60 45-60 46-60 47-60 48-60 49-60 50-60 50-60 51-60 51-60 51-60 50-60 51-60 51-60 50-60 50-60 50-60 49-60 49-60 48-60 49-60 47-60 47-60 47-60 46-60 45-60 44-60 44-60 43-60 42-60 42-60 41-60 40-60 40-60 40-60 39-60 39-60 39-60 39-60 38-60 39-60 39-60 38-60 39-60 39-60 40-60 39-60 40-60 40-60 40-60 41-60 40-60 41-60 40-60 41-60 40-60 41-60 41-60 40-60 41-60 40-60 41-60 40-60 39-60 40-60 39-60 39-60 38-60 37-60 37-60 36-60 35-60 34-60 33-60 33-60 31-60 30-60 28-60 27-60 26-60 25-60 23-60 21-60 19-60 18-60 16-60 14-60 12-60 10-60" stroke="#2200dd"/><path d="M14867 6906l10-36 20-60 23-60 25-60 28-60 30-60 33-60 35-60 37-60 39-60 40-60 42-60 44-60 45-60 47-60 47-60 49-60 49-60 50-60 50-60 51-60 51-60 51-60 51-60 51-60 50-60 51-60 50-60 50-60 49-60 49-60 49-60 48-60 48-60 47-60 47-60 46-60 45-60 45-60 44-60 43-60 42-60 42-60 41-60 40-60 40-60 40-60 39-60 39-60 39-60 39-60 39-60 38-60 39-60 39-60 39-60 39-60 39-60 40-60 40-60 40-60 40-60 40-60 41-60 40-60 41-60 40-60 41-60 41-60 40-60 41-60 40-60 41-60 40-60 40-60 40-60 40-60 39-60 38-60 38-60 38-60 37-60 36-60 35-60 34-60 33-60 32-60 32-60 29-60 29-60 27-60 26-60 25-60 23-60 21-60 20-60 18-60 16-60 14-60 12-60 10-60" stroke="#2100de"/><path d="M14854 6967l9-37 16-60 20-60 23-60 25-60 28-60 31-60 32-60 35-60 38-60 39-60 40-60 43-60 44-60 45-60 47-60 48-60 48-60 50-60 50-60 51-60 51-60 51-60 52-60 51-60 51-60 51-60 50-60 51-60 50-60 49-60 50-60 48-60 49-60 48-60 47-60 47-60 46-60 46-60 44-60 44-60 44-60 42-60 42-60 41-60 41-60 40-60 40-60 39-60 39-60 39-60 39-60 39-60 38-60 39-60 39-60 39-60 39-60 40-60 39-60 40-60 40-60 40-60 41-60 40-60 40-60 41-60 41-60 40-60 41-60 41-60 40-60 41-60 40-60 40-60 41-60 39-60 40-60 39-60 39-60 38-60 37-60 37-60 36-60 35-60 34-60 34-60 32-60 31-60 30-60 29-60 27-60 26-60 25-60 23-60 22-60 19-60 18-60 17-60 14-60 13-60 10-60" stroke="#2000df"/><path d="M14857 6964l8-34 17-60 20-60 22-60 26-60 28-60 31-60 33-60 35-60 37-60 39-60 42-60 42-60 45-60 45-60 47-60 48-60 49-60 50-60 51-60 51-60 51-60 52-60 52-60 51-60 52-60 51-60 51-60 50-60 51-60 49-60 50-60 49-60 49-60 48-60 47-60 47-60 47-60 45-60 45-60 45-60 43-60 43-60 42-60 41-60 41-60 40-60 40-60 40-60 39-60 39-60 39-60 39-60 38-60 39-60 39-60 39-60 39-60 40-60 39-60 40-60 40-60 40-60 41-60 40-60 41-60 40-60 41-60 41-60 40-60 41-60 40-60 41-60 40-60 41-60 40-60 40-60 39-60 39-60 39-60 38-60 38-60 36-60 36-60 36-60 34-60 33-60 33-60 31-60 30-60 29-60 27-60 27-60 24-60 24-60 21-60 20-60 19-60 16-60 15-60 12-60 11-60" stroke="#1f00e0"/><path d="M14870 6916l13-46 20-60 22-60 26-60 28-60 31-60 33-60 35-60 37-60 40-60 41-60 43-60 44-60 46-60 47-60 48-60 50-60 50-60 50-60 52-60 51-60 52-60 52-60 51-60 52-60 51-60 51-60 51-60 50-60 50-60 50-60 49-60 48-60 49-60 47-60 47-60 47-60 46-60 45-60 44-60 43-60 43-60 42-60 42-60 41-60 40-60 40-60 39-60 40-60 39-60 39-60 39-60 38-60 39-60 39-60 39-60 39-60 40-60 39-60 40-60 40-60 40-60 41-60 40-60 41-60 40-60 41-60 41-60 40-60 41-60 41-60 40-60 41-60 40-60 40-60 40-60 39-60 39-60 39-60 38-60 38-60 37-60 36-60 35-60 34-60 34-60 32-60 31-60 30-60 29-60 28-60 26-60 25-60 23-60 22-60 20-60 18-60 17-60 14-60 13-60 11-60" stroke="#1e00e1"/><path d="M14873 6912l12-42 20-60 23-60 25-60 29-60 30-60 34-60 35-60 38-60 39-60 42-60 43-60 44-60 46-60 48-60 48-60 50-60 50-60 51-60 52-60 52-60 52-60 52-60 52-60 52-60 51-60 51-60 51-60 51-60 50-60 50-60 49-60 49-60 48-60 48-60 47-60 47-60 46-60 45-60 45-60 43-60 43-60 42-60 42-60 41-60 40-60 40-60 40-60 40-60 39-60 39-60 39-60 38-60 39-60 39-60 39-60 39-60 40-60 40-60 40-60 40-60 40-60 40-60 41-60 40-60 41-60 40-60 41-60 41-60 40-60 41-60 40-60 41-60 40-60 40-60 40-60 40-60 39-60 38-60 39-60 37-60 37-60 36-60 35-60 35-60 33-60 33-60 31-60 30-60 29-60 28-60 26-60 25-60 24-60 21-60 21-60 18-60 17-60 15-60 13-60 11-60" stroke="#1d00e2"/><path d="M14868 6950l5-20 17-60 20-60 23-60 26-60 29-60 31-60 33-60 36-60 38-60 40-60 42-60 44-60 45-60 47-60 48-60 49-60 50-60 51-60 52-60 53-60 52-60 53-60 53-60 53-60 52-60 52-60 52-60 51-60 51-60 51-60 50-60 50-60 49-60 49-60 48-60 48-60 47-60 47-60 45-60 45-60 44-60 43-60 43-60 42-60 41-60 41-60 40-60 40-60 40-60 39-60 39-60 39-60 39-60 39-60 39-60 39-60 40-60 39-60 40-60 40-60 40-60 40-60 41-60 40-60 41-60 40-60 41-60 40-60 41-60 41-60 40-60 41-60 40-60 41-60 40-60 40-60 39-60 39-60 39-60 38-60 38-60 37-60 36-60 35-60 35-60 33-60 33-60 32-60 30-60 29-60 28-60 27-60 25-60 24-60 22-60 20-60 19-60 18-60 15-60 14-60 11-60" stroke="#1c00e3"/><path d="M14879 6921l15-51 20-60 24-60 26-60 28-60 32-60 34-60 36-60 38-60 40-60 43-60 44-60 45-60 48-60 48-60 50-60 51-60 52-60 52-60 53-60 54-60 53-60 54-60 53-60 52-60 53-60 52-60 52-60 51-60 51-60 51-60 50-60 50-60 49-60 49-60 48-60 47-60 47-60 46-60 45-60 44-60 44-60 43-60 42-60 41-60 41-60 41-60 40-60 40-60 39-60 40-60 39-60 39-60 39-60 39-60 39-60 40-60 39-60 40-60 40-60 40-60 40-60 41-60 40-60 41-60 40-60 41-60 41-60 40-60 41-60 41-60 40-60 41-60 40-60 40-60 40-60 39-60 40-60 38-60 39-60 37-60 37-60 36-60 36-60 34-60 34-60 33-60 31-60 31-60 29-60 29-60 26-60 26-60 24-60 22-60 21-60 19-60 18-60 16-60 14-60 12-60" stroke="#1b00e4"/><path d="M14868 6979l12-49 17-60 21-60 23-60 26-60 29-60 32-60 34-60 36-60 39-60 40-60 43-60 44-60 46-60 48-60 49-60 50-60 52-60 52-60 53-60 53-60 54-60 54-60 54-60 54-60 53-60 53-60 52-60 52-60 52-60 51-60 51-60 50-60 50-60 50-60 49-60 48-60 48-60 47-60 46-60 46-60 44-60 44-60 43-60 42-60 42-60 41-60 41-60 40-60 40-60 40-60 39-60 39-60 39-60 40-60 39-60 39-60 40-60 39-60 40-60 40-60 40-60 40-60 41-60 40-60 41-60 40-60 41-60 41-60 40-60 41-60 41-60 40-60 41-60 40-60 40-60 40-60 40-60 39-60 39-60 38-60 37-60 37-60 37-60 35-60 35-60 34-60 32-60 32-60 31-60 29-60 29-60 27-60 25-60 24-60 23-60 21-60 20-60 18-60 16-60 14-60 12-60" stroke="#1900e6"/><path d="M14874 6979l11-49 17-60 21-60 24-60 26-60 29-60 32-60 35-60 36-60 40-60 41-60 43-60 45-60 46-60 49-60 49-60 51-60 53-60 53-60 54-60 54-60 55-60 54-60 55-60 54-60 54-60 53-60 53-60 53-60 52-60 52-60 51-60 51-60 51-60 50-60 49-60 49-60 48-60 48-60 46-60 46-60 45-60 44-60 44-60 42-60 42-60 42-60 41-60 40-60 40-60 40-60 40-60 39-60 39-60 40-60 39-60 39-60 40-60 40-60 39-60 40-60 41-60 40-60 40-60 41-60 40-60 41-60 41-60 40-60 41-60 41-60 40-60 41-60 40-60 41-60 40-60 40-60 39-60 40-60 38-60 39-60 37-60 37-60 37-60 35-60 35-60 34-60 33-60 32-60 31-60 30-60 28-60 27-60 26-60 25-60 23-60 21-60 20-60 19-60 16-60 15-60 13-60" stroke="#1800e7"/><path d="M14881 6961l7-31 18-60 21-60 23-60 27-60 29-60 33-60 34-60 37-60 40-60 41-60 43-60 46-60 47-60 48-60 51-60 51-60 53-60 54-60 54-60 55-60 55-60 55-60 55-60 55-60 54-60 54-60 53-60 53-60 53-60 52-60 51-60 52-60 50-60 51-60 50-60 49-60 48-60 48-60 47-60 46-60 45-60 45-60 43-60 43-60 42-60 42-60 41-60 41-60 40-60 40-60 40-60 39-60 40-60 39-60 39-60 40-60 39-60 40-60 40-60 40-60 40-60 40-60 41-60 40-60 41-60 40-60 41-60 41-60 41-60 40-60 41-60 40-60 41-60 40-60 41-60 39-60 40-60 39-60 39-60 38-60 38-60 37-60 37-60 35-60 35-60 34-60 33-60 32-60 31-60 30-60 29-60 27-60 26-60 25-60 23-60 22-60 20-60 19-60 17-60 15-60 13-60" stroke="#1700e8"/><path d="M14891 6933l1-3 18-60 20-60 24-60 27-60 30-60 32-60 35-60 37-60 40-60 42-60 43-60 46-60 48-60 49-60 50-60 53-60 53-60 54-60 55-60 55-60 56-60 56-60 55-60 56-60 54-60 54-60 54-60 53-60 53-60 53-60 52-60 51-60 51-60 51-60 50-60 50-60 48-60 49-60 47-60 46-60 46-60 44-60 44-60 43-60 43-60 42-60 41-60 41-60 40-60 40-60 40-60 40-60 39-60 40-60 39-60 40-60 39-60 40-60 40-60 40-60 40-60 40-60 41-60 40-60 41-60 40-60 41-60 41-60 41-60 40-60 41-60 41-60 40-60 40-60 41-60 40-60 39-60 39-60 39-60 39-60 37-60 38-60 36-60 36-60 35-60 34-60 33-60 32-60 31-60 30-60 29-60 28-60 26-60 25-60 23-60 23-60 20-60 19-60 17-60 16-60 14-60" stroke="#1600e9"/><path d="M14896 6936l1-6 18-60 21-60 24-60 27-60 30-60 33-60 35-60 38-60 40-60 42-60 45-60 46-60 48-60 50-60 51-60 53-60 54-60 55-60 56-60 57-60 56-60 57-60 56-60 56-60 55-60 55-60 54-60 54-60 53-60 53-60 53-60 52-60 52-60 51-60 51-60 50-60 49-60 48-60 48-60 47-60 46-60 45-60 44-60 44-60 43-60 42-60 41-60 41-60 41-60 40-60 40-60 40-60 40-60 39-60 40-60 39-60 40-60 40-60 40-60 40-60 40-60 40-60 41-60 40-60 41-60 41-60 40-60 41-60 41-60 41-60 40-60 41-60 40-60 41-60 40-60 40-60 40-60 39-60 39-60 38-60 38-60 37-60 37-60 35-60 36-60 34-60 33-60 32-60 32-60 30-60 29-60 28-60 27-60 25-60 24-60 22-60 21-60 20-60 18-60 16-60 14-60" stroke="#1500ea"/><path d="M14906 6911l12-41 22-60 24-60 27-60 30-60 33-60 36-60 38-60 40-60 42-60 45-60 47-60 48-60 51-60 51-60 54-60 54-60 56-60 56-60 57-60 57-60 57-60 57-60 56-60 56-60 55-60 55-60 54-60 53-60 54-60 52-60 53-60 52-60 51-60 51-60 51-60 49-60 49-60 48-60 47-60 46-60 46-60 44-60 44-60 43-60 42-60 42-60 41-60 41-60 40-60 40-60 40-60 40-60 40-60 39-60 40-60 40-60 39-60 40-60 41-60 40-60 40-60 41-60 40-60 41-60 40-60 41-60 41-60 41-60 40-60 41-60 41-60 40-60 40-60 41-60 40-60 39-60 40-60 38-60 39-60 38-60 37-60 37-60 36-60 35-60 34-60 33-60 33-60 31-60 31-60 29-60 28-60 27-60 25-60 24-60 23-60 21-60 20-60 18-60 17-60 15-60" stroke="#1400eb"/><path d="M14915 6907l11-37 22-60 24-60 28-60 31-60 33-60 36-60 38-60 41-60 44-60 45-60 48-60 49-60 51-60 53-60 55-60 55-60 57-60 58-60 58-60 58-60 58-60 58-60 58-60 56-60 56-60 56-60 55-60 54-60 54-60 53-60 54-60 52-60 52-60 52-60 51-60 51-60 49-60 49-60 48-60 46-60 46-60 45-60 44-60 44-60 42-60 43-60 41-60 41-60 41-60 40-60 41-60 40-60 39-60 40-60 40-60 40-60 40-60 40-60 40-60 40-60 40-60 41-60 40-60 41-60 41-60 40-60 41-60 41-60 41-60 40-60 41-60 41-60 40-60 40-60 40-60 40-60 39-60 39-60 39-60 38-60 37-60 37-60 36-60 35-60 34-60 34-60 33-60 32-60 30-60 30-60 28-60 28-60 26-60 24-60 24-60 22-60 20-60 19-60 17-60 16-60" stroke="#1300ec"/><path d="M14910 6938l2-8 18-60 22-60 24-60 28-60 31-60 34-60 36-60 39-60 41-60 44-60 45-60 48-60 50-60 52-60 53-60 55-60 57-60 57-60 58-60 59-60 59-60 58-60 59-60 58-60 57-60 56-60 56-60 55-60 55-60 54-60 54-60 54-60 53-60 52-60 52-60 52-60 50-60 50-60 49-60 48-60 47-60 46-60 46-60 44-60 44-60 43-60 42-60 42-60 41-60 41-60 40-60 41-60 40-60 40-60 39-60 40-60 40-60 40-60 40-60 40-60 40-60 41-60 40-60 41-60 41-60 40-60 41-60 41-60 41-60 40-60 41-60 41-60 40-60 41-60 40-60 40-60 40-60 39-60 39-60 38-60 38-60 38-60 37-60 36-60 35-60 35-60 33-60 33-60 32-60 31-60 30-60 28-60 28-60 26-60 25-60 24-60 22-60 21-60 19-60 18-60 16-60" stroke="#1200ed"/><path d="M14927 6900l9-30 22-60 25-60 28-60 31-60 34-60 37-60 40-60 41-60 45-60 46-60 49-60 50-60 53-60 54-60 56-60 57-60 58-60 60-60 59-60 60-60 60-60 59-60 59-60 58-60 57-60 56-60 56-60 55-60 55-60 55-60 54-60 53-60 54-60 52-60 52-60 51-60 51-60 49-60 49-60 47-60 47-60 46-60 44-60 45-60 43-60 42-60 43-60 41-60 41-60 41-60 40-60 41-60 40-60 40-60 39-60 40-60 40-60 41-60 40-60 40-60 40-60 41-60 41-60 40-60 41-60 41-60 41-60 40-60 41-60 41-60 40-60 41-60 40-60 41-60 40-60 39-60 40-60 39-60 38-60 38-60 38-60 37-60 36-60 36-60 34-60 34-60 33-60 32-60 31-60 31-60 29-60 27-60 27-60 26-60 24-60 22-60 22-60 20-60 18-60 17-60" stroke="#1100ee"/><path d="M14925 6921l16-51 22-60 25-60 28-60 32-60 34-60 37-60 40-60 42-60 44-60 47-60 49-60 51-60 53-60 55-60 57-60 58-60 59-60 59-60 61-60 60-60 61-60 60-60 59-60 58-60 58-60 57-60 56-60 56-60 55-60 55-60 54-60 54-60 54-60 53-60 52-60 52-60 51-60 49-60 49-60 48-60 47-60 46-60 45-60 44-60 44-60 43-60 42-60 42-60 41-60 41-60 41-60 40-60 40-60 40-60 40-60 40-60 40-60 40-60 40-60 41-60 40-60 41-60 40-60 41-60 41-60 41-60 40-60 41-60 41-60 41-60 40-60 41-60 40-60 41-60 40-60 39-60 40-60 39-60 38-60 38-60 38-60 37-60 36-60 36-60 35-60 34-60 33-60 32-60 32-60 30-60 29-60 28-60 27-60 26-60 24-60 23-60 22-60 20-60 19-60 17-60" stroke="#1000ef"/><path d="M14932 6925l17-55 22-60 26-60 28-60 32-60 35-60 37-60 41-60 43-60 45-60 48-60 50-60 52-60 54-60 56-60 57-60 59-60 61-60 61-60 61-60 62-60 62-60 61-60 60-60 59-60 59-60 58-60 57-60 56-60 56-60 56-60 55-60 55-60 54-60 54-60 53-60 52-60 51-60 51-60 50-60 48-60 48-60 46-60 46-60 44-60 44-60 44-60 42-60 42-60 42-60 41-60 41-60 40-60 41-60 40-60 40-60 40-60 40-60 41-60 40-60 40-60 41-60 40-60 41-60 41-60 40-60 41-60 41-60 41-60 41-60 40-60 41-60 41-60 40-60 40-60 40-60 40-60 40-60 39-60 38-60 38-60 38-60 37-60 37-60 35-60 36-60 34-60 33-60 33-60 31-60 31-60 30-60 28-60 28-60 26-60 25-60 24-60 22-60 21-60 20-60 18-60" stroke="#0f00f0"/><path d="M14932 6937l1-7 19-60 23-60 25-60 29-60 32-60 35-60 38-60 40-60 44-60 45-60 48-60 51-60 52-60 54-60 57-60 58-60 59-60 61-60 62-60 62-60 62-60 62-60 62-60 61-60 59-60 59-60 58-60 58-60 56-60 57-60 55-60 56-60 55-60 55-60 54-60 53-60 53-60 51-60 51-60 50-60 49-60 48-60 46-60 46-60 45-60 44-60 44-60 43-60 42-60 41-60 42-60 41-60 40-60 41-60 40-60 40-60 40-60 40-60 41-60 40-60 40-60 41-60 40-60 41-60 41-60 41-60 40-60 41-60 41-60 41-60 41-60 40-60 41-60 40-60 41-60 40-60 39-60 40-60 39-60 39-60 38-60 38-60 37-60 36-60 36-60 35-60 35-60 33-60 33-60 32-60 30-60 30-60 29-60 28-60 26-60 25-60 25-60 22-60 22-60 20-60 18-60" stroke="#0e00f1"/><path d="M14938 6935l1-5 20-60 22-60 26-60 29-60 33-60 35-60 38-60 41-60 44-60 46-60 49-60 51-60 53-60 55-60 57-60 59-60 61-60 62-60 62-60 63-60 64-60 63-60 62-60 62-60 60-60 60-60 58-60 58-60 58-60 57-60 56-60 56-60 56-60 55-60 54-60 54-60 54-60 52-60 51-60 51-60 49-60 48-60 47-60 46-60 46-60 44-60 44-60 43-60 43-60 42-60 41-60 41-60 41-60 41-60 40-60 40-60 40-60 41-60 40-60 40-60 41-60 40-60 41-60 40-60 41-60 41-60 41-60 41-60 41-60 40-60 41-60 41-60 40-60 41-60 40-60 40-60 40-60 40-60 39-60 38-60 39-60 37-60 38-60 36-60 36-60 36-60 34-60 34-60 33-60 32-60 31-60 30-60 29-60 28-60 27-60 26-60 25-60 23-60 22-60 21-60 19-60" stroke="#0d00f2"/><path d="M14936 6976l12-46 19-60 23-60 27-60 29-60 33-60 36-60 39-60 42-60 44-60 47-60 50-60 52-60 54-60 56-60 58-60 61-60 62-60 63-60 64-60 64-60 65-60 64-60 64-60 63-60 61-60 61-60 60-60 58-60 59-60 57-60 57-60 57-60 57-60 56-60 55-60 55-60 54-60 53-60 52-60 51-60 50-60 49-60 48-60 47-60 45-60 45-60 45-60 43-60 43-60 42-60 42-60 41-60 42-60 40-60 41-60 40-60 41-60 40-60 40-60 41-60 40-60 41-60 40-60 41-60 41-60 41-60 40-60 41-60 41-60 41-60 41-60 40-60 41-60 41-60 40-60 40-60 40-60 39-60 40-60 38-60 39-60 38-60 37-60 37-60 36-60 36-60 34-60 34-60 34-60 32-60 32-60 30-60 30-60 29-60 27-60 27-60 25-60 24-60 23-60 21-60 21-60" stroke="#0c00f3"/><path d="M14955 6920l17-50 23-60 26-60 30-60 33-60 36-60 39-60 42-60 45-60 48-60 50-60 52-60 55-60 56-60 59-60 61-60 63-60 64-60 64-60 65-60 66-60 65-60 64-60 63-60 62-60 61-60 60-60 60-60 58-60 58-60 58-60 57-60 57-60 56-60 56-60 55-60 54-60 54-60 52-60 52-60 50-60 49-60 48-60 47-60 46-60 46-60 44-60 44-60 43-60 42-60 42-60 42-60 41-60 41-60 40-60 41-60 40-60 41-60 40-60 40-60 41-60 40-60 41-60 41-60 41-60 40-60 41-60 41-60 41-60 41-60 41-60 40-60 41-60 40-60 41-60 40-60 40-60 39-60 40-60 38-60 39-60 38-60 37-60 37-60 36-60 36-60 35-60 34-60 33-60 33-60 32-60 31-60 30-60 28-60 28-60 27-60 26-60 24-60 23-60 22-60 21-60" stroke="#0b00f4"/><path d="M14948 6976l12-46 20-60 24-60 26-60 31-60 33-60 37-60 40-60 42-60 46-60 48-60 51-60 53-60 56-60 58-60 60-60 62-60 64-60 65-60 66-60 66-60 67-60 66-60 66-60 64-60 63-60 62-60 61-60 60-60 59-60 59-60 58-60 58-60 58-60 57-60 57-60 56-60 55-60 54-60 53-60 52-60 51-60 50-60 49-60 47-60 47-60 45-60 45-60 44-60 44-60 43-60 42-60 42-60 41-60 41-60 41-60 40-60 41-60 40-60 41-60 40-60 41-60 40-60 41-60 41-60 41-60 41-60 40-60 41-60 41-60 41-60 41-60 41-60 40-60 41-60 40-60 40-60 40-60 40-60 39-60 39-60 38-60 38-60 38-60 37-60 37-60 35-60 36-60 34-60 34-60 33-60 32-60 31-60 31-60 29-60 28-60 28-60 26-60 25-60 24-60 23-60 22-60" stroke="#0a00f5"/><path d="M14974 6909l14-39 23-60 27-60 31-60 34-60 37-60 40-60 43-60 46-60 49-60 52-60 54-60 56-60 59-60 61-60 63-60 65-60 67-60 67-60 67-60 68-60 68-60 66-60 65-60 64-60 63-60 62-60 61-60 60-60 59-60 59-60 59-60 58-60 58-60 57-60 57-60 55-60 55-60 54-60 53-60 51-60 51-60 49-60 48-60 47-60 46-60 45-60 44-60 44-60 43-60 43-60 42-60 41-60 41-60 41-60 41-60 41-60 40-60 41-60 40-60 41-60 40-60 41-60 41-60 41-60 41-60 41-60 41-60 40-60 41-60 41-60 41-60 40-60 41-60 40-60 41-60 39-60 40-60 39-60 39-60 39-60 38-60 38-60 37-60 37-60 36-60 35-60 35-60 34-60 33-60 32-60 32-60 31-60 30-60 29-60 28-60 27-60 26-60 24-60 24-60 22-60" stroke="#0900f6"/><path d="M14974 6930l0 0 20-60 23-60 28-60 31-60 34-60 38-60 40-60 44-60 46-60 50-60 52-60 55-60 57-60 60-60 61-60 64-60 66-60 67-60 69-60 68-60 69-60 68-60 68-60 66-60 64-60 64-60 62-60 61-60 61-60 60-60 60-60 59-60 59-60 58-60 58-60 57-60 56-60 56-60 54-60 53-60 52-60 51-60 50-60 48-60 47-60 47-60 45-60 45-60 44-60 43-60 43-60 42-60 42-60 41-60 41-60 41-60 41-60 40-60 41-60 41-60 40-60 41-60 40-60 41-60 41-60 41-60 41-60 41-60 41-60 41-60 40-60 41-60 41-60 40-60 41-60 40-60 40-60 40-60 39-60 39-60 39-60 38-60 38-60 37-60 37-60 36-60 35-60 35-60 35-60 33-60 33-60 32-60 31-60 30-60 30-60 28-60 27-60 27-60 25-60 25-60 23-60" stroke="#0800f7"/><path d="M14974 6958l8-28 20-60 24-60 28-60 31-60 35-60 38-60 41-60 45-60 47-60 50-60 53-60 56-60 58-60 61-60 62-60 66-60 67-60 68-60 70-60 70-60 70-60 69-60 69-60 67-60 66-60 64-60 63-60 62-60 62-60 60-60 61-60 60-60 59-60 60-60 58-60 58-60 57-60 56-60 55-60 54-60 53-60 51-60 50-60 49-60 48-60 47-60 46-60 45-60 44-60 44-60 43-60 42-60 42-60 42-60 41-60 41-60 41-60 41-60 40-60 41-60 40-60 41-60 41-60 41-60 40-60 41-60 41-60 41-60 41-60 41-60 41-60 41-60 40-60 41-60 40-60 41-60 40-60 39-60 40-60 39-60 38-60 39-60 38-60 37-60 37-60 36-60 36-60 35-60 35-60 34-60 33-60 32-60 32-60 31-60 30-60 29-60 28-60 27-60 26-60 26-60 24-60" stroke="#0700f8"/><path d="M14978 6962l9-32 20-60 24-60 28-60 32-60 35-60 38-60 42-60 44-60 48-60 51-60 53-60 56-60 59-60 61-60 64-60 66-60 68-60 69-60 70-60 71-60 71-60 70-60 69-60 68-60 67-60 64-60 64-60 63-60 62-60 61-60 61-60 60-60 60-60 60-60 59-60 58-60 58-60 56-60 56-60 54-60 53-60 52-60 50-60 49-60 48-60 47-60 47-60 45-60 44-60 44-60 43-60 43-60 42-60 42-60 41-60 41-60 41-60 41-60 41-60 40-60 41-60 41-60 40-60 41-60 41-60 41-60 41-60 41-60 41-60 41-60 41-60 40-60 41-60 41-60 40-60 40-60 40-60 40-60 39-60 40-60 38-60 39-60 38-60 37-60 37-60 37-60 36-60 35-60 35-60 34-60 33-60 33-60 32-60 31-60 30-60 30-60 28-60 28-60 27-60 25-60 25-60" stroke="#0600f9"/><path d="M14987 6968l11-38 20-60 25-60 28-60 33-60 35-60 39-60 43-60 45-60 49-60 51-60 55-60 57-60 61-60 62-60 65-60 68-60 69-60 71-60 72-60 73-60 72-60 72-60 71-60 70-60 67-60 66-60 65-60 64-60 63-60 62-60 62-60 61-60 61-60 61-60 60-60 60-60 58-60 58-60 56-60 55-60 54-60 53-60 51-60 50-60 48-60 48-60 47-60 46-60 45-60 44-60 44-60 43-60 42-60 42-60 41-60 42-60 41-60 41-60 40-60 41-60 41-60 40-60 41-60 41-60 41-60 41-60 41-60 41-60 41-60 41-60 41-60 41-60 40-60 41-60 40-60 41-60 40-60 39-60 40-60 39-60 39-60 39-60 38-60 37-60 38-60 37-60 36-60 36-60 35-60 34-60 34-60 33-60 33-60 32-60 31-60 30-60 30-60 28-60 28-60 27-60 26-60" stroke="#0500fa"/><path d="M15006 6928l20-58 25-60 29-60 32-60 36-60 40-60 42-60 47-60 49-60 52-60 56-60 58-60 61-60 63-60 67-60 68-60 71-60 72-60 73-60 74-60 74-60 73-60 72-60 70-60 68-60 67-60 66-60 64-60 64-60 63-60 62-60 63-60 61-60 62-60 61-60 60-60 59-60 58-60 57-60 56-60 54-60 53-60 52-60 50-60 50-60 48-60 47-60 46-60 45-60 45-60 44-60 43-60 43-60 42-60 41-60 42-60 41-60 41-60 41-60 40-60 41-60 41-60 41-60 41-60 41-60 41-60 41-60 41-60 41-60 41-60 40-60 41-60 41-60 41-60 40-60 40-60 40-60 40-60 40-60 39-60 39-60 39-60 38-60 38-60 37-60 37-60 37-60 36-60 35-60 35-60 34-60 34-60 33-60 32-60 32-60 31-60 30-60 29-60 29-60 27-60 27-60" stroke="#0400fb"/><path d="M15002 6965l10-35 21-60 25-60 29-60 33-60 37-60 40-60 43-60 47-60 50-60 53-60 56-60 59-60 62-60 64-60 67-60 70-60 72-60 73-60 74-60 75-60 75-60 74-60 73-60 71-60 70-60 67-60 67-60 65-60 64-60 64-60 63-60 63-60 62-60 62-60 62-60 60-60 60-60 59-60 58-60 56-60 55-60 54-60 52-60 51-60 49-60 49-60 47-60 47-60 46-60 44-60 44-60 44-60 43-60 42-60 42-60 41-60 42-60 41-60 40-60 41-60 41-60 41-60 41-60 41-60 41-60 41-60 41-60 41-60 41-60 41-60 41-60 40-60 41-60 41-60 40-60 40-60 41-60 39-60 40-60 39-60 39-60 39-60 39-60 38-60 37-60 37-60 37-60 36-60 36-60 35-60 35-60 34-60 33-60 33-60 32-60 31-60 31-60 30-60 29-60 29-60 27-60" stroke="#0300fc"/><path d="M15017 6950l5-20 22-60 26-60 29-60 33-60 37-60 41-60 44-60 48-60 51-60 54-60 57-60 60-60 63-60 66-60 68-60 71-60 74-60 75-60 76-60 76-60 77-60 76-60 74-60 73-60 70-60 69-60 68-60 66-60 65-60 65-60 64-60 64-60 63-60 63-60 63-60 61-60 61-60 60-60 59-60 57-60 56-60 54-60 53-60 51-60 51-60 49-60 48-60 47-60 46-60 45-60 45-60 43-60 43-60 43-60 42-60 42-60 41-60 41-60 41-60 41-60 41-60 41-60 41-60 41-60 41-60 41-60 41-60 41-60 41-60 41-60 41-60 41-60 40-60 41-60 40-60 41-60 40-60 40-60 40-60 39-60 39-60 39-60 39-60 38-60 38-60 37-60 37-60 37-60 36-60 35-60 35-60 35-60 34-60 34-60 32-60 33-60 31-60 31-60 30-60 30-60 29-60" stroke="#0200fd"/><path d="M15016 6978l14-48 22-60 25-60 30-60 34-60 37-60 41-60 45-60 48-60 52-60 54-60 58-60 61-60 64-60 67-60 69-60 73-60 74-60 76-60 77-60 78-60 78-60 77-60 75-60 74-60 71-60 70-60 68-60 67-60 66-60 65-60 65-60 65-60 64-60 64-60 63-60 62-60 62-60 60-60 59-60 58-60 56-60 55-60 54-60 52-60 50-60 50-60 48-60 48-60 46-60 46-60 44-60 44-60 44-60 42-60 43-60 41-60 42-60 41-60 41-60 41-60 41-60 41-60 41-60 41-60 41-60 41-60 41-60 41-60 41-60 41-60 41-60 41-60 40-60 41-60 41-60 40-60 40-60 40-60 40-60 39-60 40-60 38-60 39-60 38-60 38-60 38-60 37-60 37-60 37-60 35-60 36-60 35-60 34-60 34-60 34-60 32-60 33-60 31-60 31-60 31-60 29-60" stroke="#0100fe"/><path d="M15036 6934l1-4 22-60 26-60 31-60 34-60 38-60 41-60 45-60 49-60 52-60 55-60 59-60 62-60 65-60 67-60 71-60 73-60 76-60 77-60 79-60 79-60 79-60 78-60 76-60 75-60 72-60 71-60 69-60 68-60 66-60 66-60 66-60 65-60 65-60 64-60 64-60 63-60 63-60 61-60 59-60 59-60 57-60 55-60 54-60 53-60 51-60 50-60 49-60 47-60 47-60 46-60 45-60 44-60 44-60 43-60 42-60 42-60 41-60 42-60 41-60 41-60 41-60 41-60 41-60 41-60 41-60 41-60 41-60 41-60 41-60 41-60 41-60 41-60 41-60 40-60 41-60 40-60 40-60 40-60 40-60 40-60 39-60 39-60 39-60 38-60 38-60 38-60 38-60 37-60 37-60 36-60 36-60 35-60 35-60 34-60 34-60 34-60 32-60 33-60 31-60 32-60 30-60" stroke="#0000ff"/></g></g>
<line x1="1235.50" y1="698.8" x2="1235.50" y2="689.8" stroke="#404040" stroke-width="1.6"/>
<line x1="1235.50" y1="86.3" x2="1235.50" y2="95.3" stroke="#404040" stroke-width="1.6"/>
<line x1="1417.39" y1="698.8" x2="1417.39" y2="689.8" stroke="#404040" stroke-width="1.6"/>
<line x1="1417.39" y1="86.3" x2="1417.39" y2="95.3" stroke="#404040" stroke-width="1.6"/>
<line x1="1599.28" y1="698.8" x2="1599.28" y2="689.8" stroke="#404040" stroke-width="1.6"/>
<line x1="1599.28" y1="86.3" x2="1599.28" y2="95.3" stroke="#404040" stroke-width="1.6"/>
<line x1="1781.17" y1="698.8" x2="1781.17" y2="689.8" stroke="#404040" stroke-width="1.6"/>
<line x1="1781.17" y1="86.3" x2="1781.17" y2="95.3" stroke="#404040" stroke-width="1.6"/>
<line x1="1963.06" y1="698.8" x2="1963.06" y2="689.8" stroke="#404040" stroke-width="1.6"/>
<line x1="1963.06" y1="86.3" x2="1963.06" y2="95.3" stroke="#404040" stroke-width="1.6"/>
<line x1="1235.5" y1="649.80" x2="1244.5" y2="649.80" stroke="#404040" stroke-width="1.6"/>
<line x1="2054.0" y1="649.80" x2="2045.0" y2="649.80" stroke="#404040" stroke-width="1.6"/>
<line x1="1235.5" y1="551.80" x2="1244.5" y2="551.80" stroke="#404040" stroke-width="1.6"/>
<line x1="2054.0" y1="551.80" x2="2045.0" y2="551.80" stroke="#404040" stroke-width="1.6"/>
<line x1="1235.5" y1="453.80" x2="1244.5" y2="453.80" stroke="#404040" stroke-width="1.6"/>
<line x1="2054.0" y1="453.80" x2="2045.0" y2="453.80" stroke="#404040" stroke-width="1.6"/>
<line x1="1235.5" y1="355.80" x2="1244.5" y2="355.80" stroke="#404040" stroke-width="1.6"/>
<line x1="2054.0" y1="355.80" x2="2045.0" y2="355.80" stroke="#404040" stroke-width="1.6"/>
<line x1="1235.5" y1="257.80" x2="1244.5" y2="257.80" stroke="#404040" stroke-width="1.6"/>
<line x1="2054.0" y1="257.80" x2="2045.0" y2="257.80" stroke="#404040" stroke-width="1.6"/>
<line x1="1235.5" y1="159.80" x2="1244.5" y2="159.80" stroke="#404040" stroke-width="1.6"/>
<line x1="2054.0" y1="159.80" x2="2045.0" y2="159.80" stroke="#404040" stroke-width="1.6"/>
<rect x="1235.5" y="86.3" width="818.50" height="612.50" fill="none" stroke="#404040" stroke-width="1.6"/>
<text x="1235.50" y="749.8" text-anchor="middle" font-family="Liberation Serif, Times New Roman, serif" font-size="41" fill="#262626">0</text>
<text x="1417.39" y="749.8" text-anchor="middle" font-family="Liberation Serif, Times New Roman, serif" font-size="41" fill="#262626">1000</text>
<text x="1599.28" y="749.8" text-anchor="middle" font-family="Liberation Serif, Times New Roman, serif" font-size="41" fill="#262626">2000</text>
<text x="1781.17" y="749.8" text-anchor="middle" font-family="Liberation Serif, Times New Roman, serif" font-size="41" fill="#262626">3000</text>
<text x="1963.06" y="749.8" text-anchor="middle" font-family="Liberation Serif, Times New Roman, serif" font-size="41" fill="#262626">4000</text>
<text x="1221.00" y="664.2" text-anchor="end" font-family="Liberation Serif, Times New Roman, serif" font-size="41" fill="#262626">3.86</text>
<text x="1221.00" y="566.2" text-anchor="end" font-family="Liberation Serif, Times New Roman, serif" font-size="41" fill="#262626">3.88</text>
<text x="1221.00" y="468.2" text-anchor="end" font-family="Liberation Serif, Times New Roman, serif" font-size="41" fill="#262626">3.9</text>
<text x="1221.00" y="370.2" text-anchor="end" font-family="Liberation Serif, Times New Roman, serif" font-size="41" fill="#262626">3.92</text>
<text x="1221.00" y="272.2" text-anchor="end" font-family="Liberation Serif, Times New Roman, serif" font-size="41" fill="#262626">3.94</text>
<text x="1221.00" y="174.2" text-anchor="end" font-family="Liberation Serif, Times New Roman, serif" font-size="41" fill="#262626">3.96</text>
<text x="1644.8" y="802.7" text-anchor="middle" font-family="Liberation Serif, Times New Roman, serif" font-size="45" fill="#262626">Time (s)</text>
<text transform="translate(1134.2,396.0) rotate(-90)" text-anchor="middle" font-family="Liberation Serif, Times New Roman, serif" font-size="45" fill="#262626">Voltage (V)</text>
<text x="1644.8" y="70" text-anchor="middle" font-family="Liberation Serif, Times New Roman, serif" font-size="45" fill="#000">(b)</text>
<rect x="2135.6" y="80.9" width="35.3" height="628.3" fill="url(#cbg)" stroke="#111" stroke-width="1.4"/>
<text x="2153" y="58" text-anchor="middle" font-family="Liberation Serif, Times New Roman, serif" font-size="50.5" fill="#000">Old</text>
<text x="2160" y="766.5" text-anchor="middle" font-family="Liberation Serif, Times New Roman, serif" font-size="50" fill="#000">Fresh</text>
</svg>
</body></html>
